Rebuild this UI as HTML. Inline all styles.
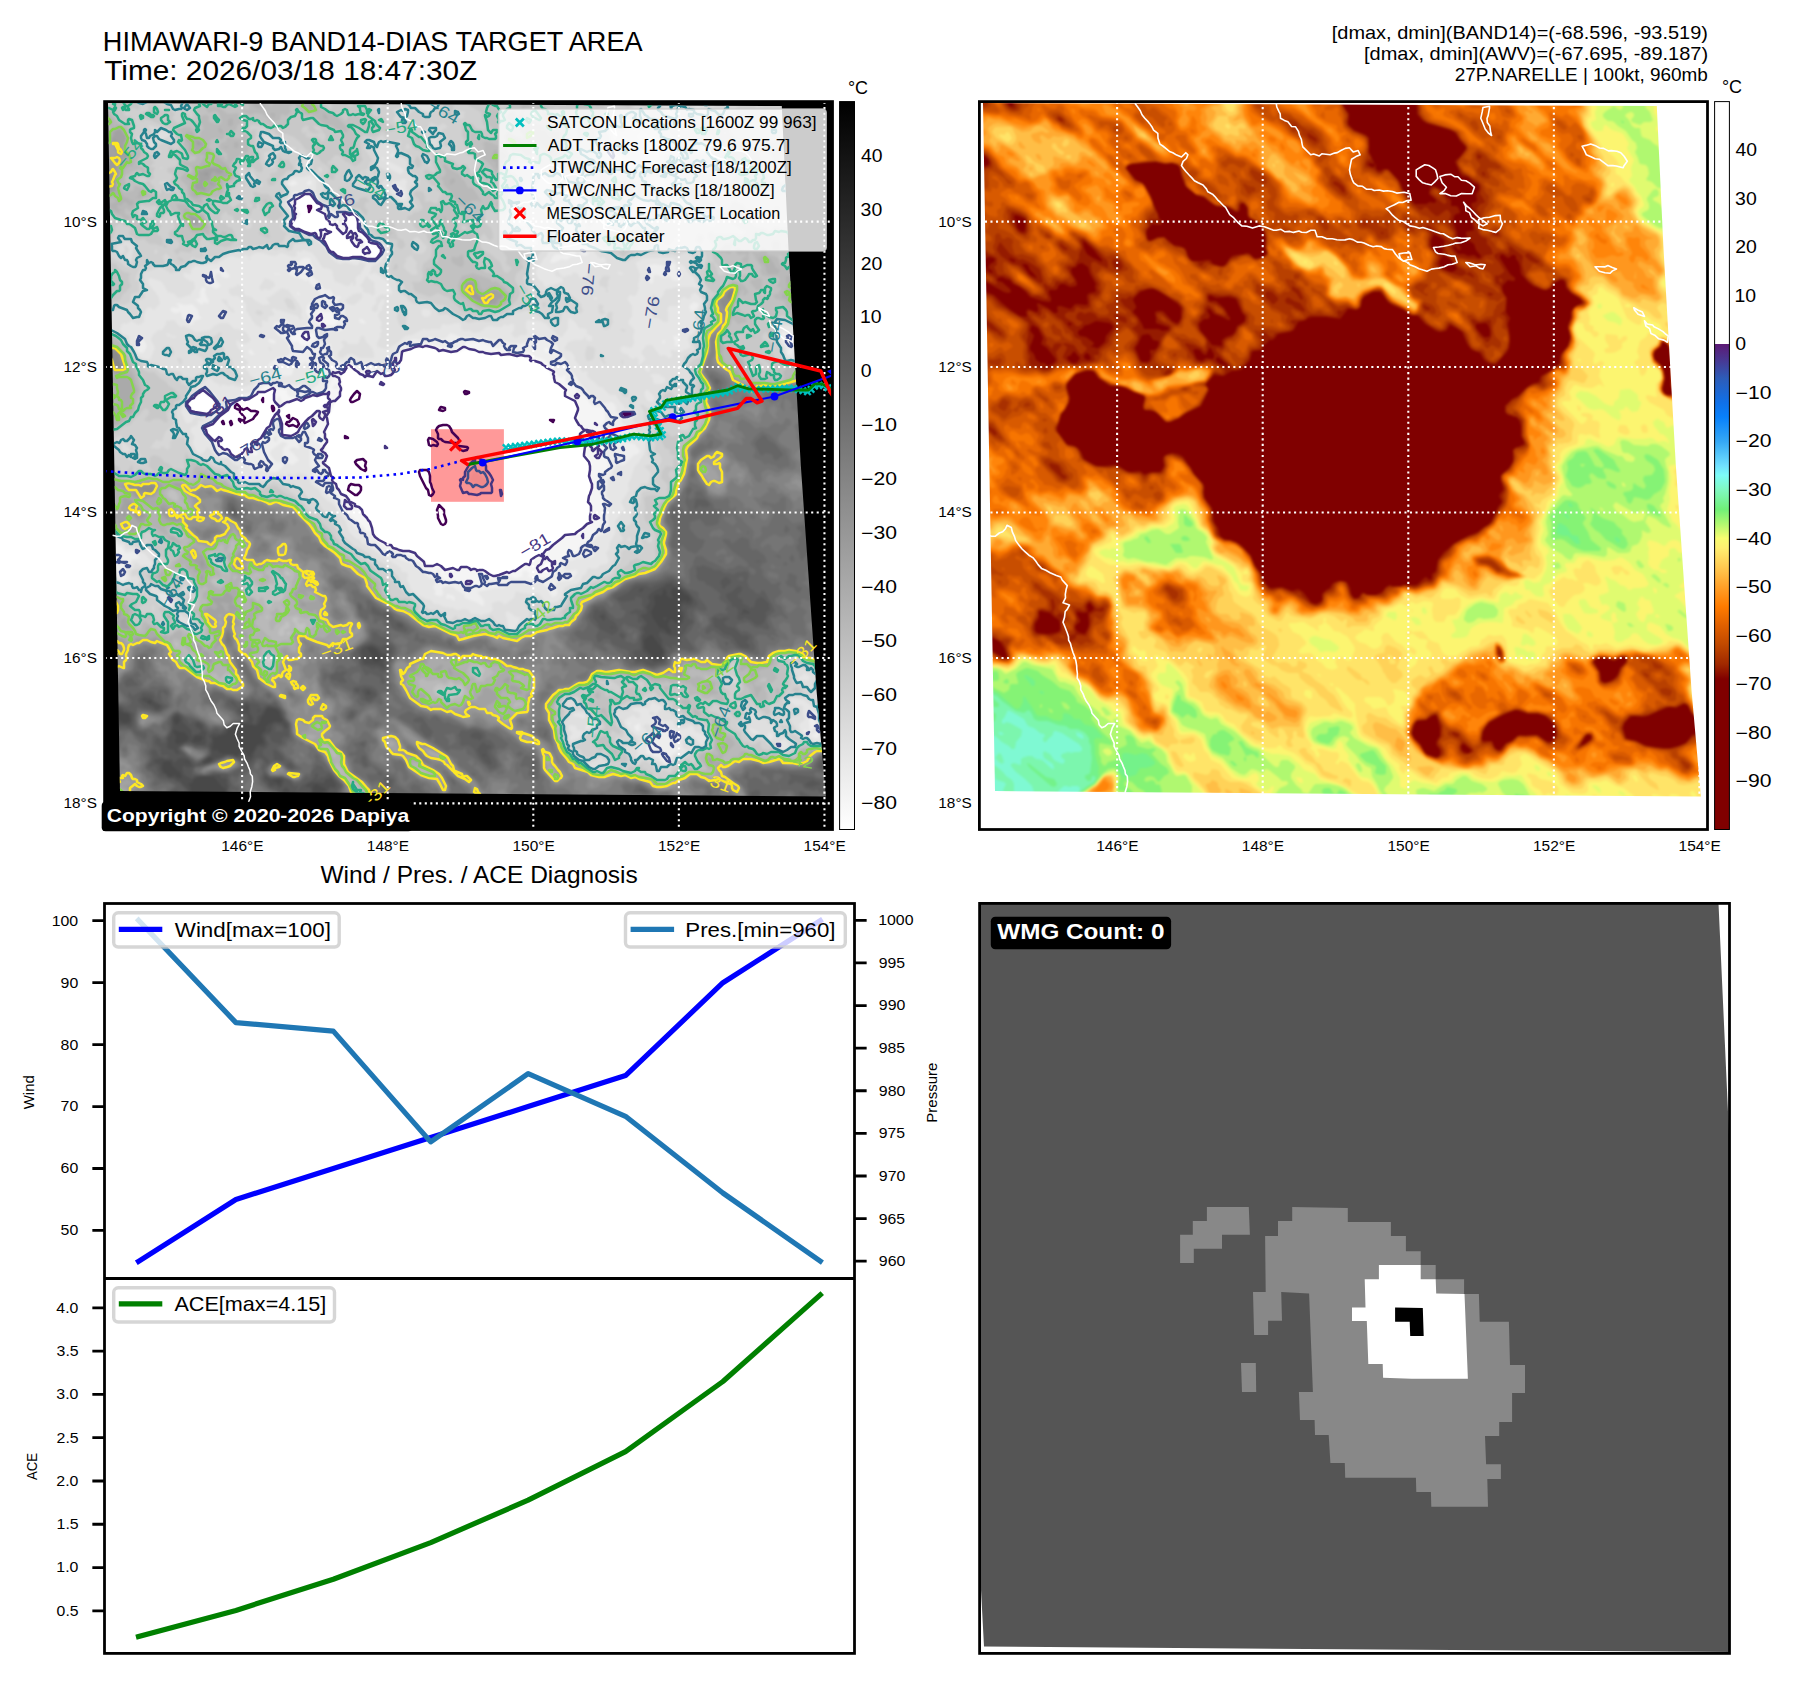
<!DOCTYPE html>
<html lang="en"><head><meta charset="utf-8"><title>HIMAWARI-9 BAND14-DIAS TARGET AREA</title>
<style>html,body{margin:0;padding:0;background:#fff}body{width:1797px;height:1690px;overflow:hidden;font-family:"Liberation Sans",sans-serif}svg{display:block}</style>
</head><body>
<svg width="1797" height="1690" viewBox="0 0 1797 1690" font-family="'Liberation Sans', sans-serif">
<defs>
<linearGradient id="cb1" x1="0" y1="0" x2="0" y2="1"><stop offset="0" stop-color="#000"/><stop offset="1" stop-color="#fff"/></linearGradient>
<linearGradient id="cb2" x1="0" y1="0" x2="0" y2="1"><stop offset="0.0000" stop-color="#ffffff"/><stop offset="0.3333" stop-color="#ffffff"/><stop offset="0.3333" stop-color="#5c1a75"/><stop offset="0.3533" stop-color="#4a3590"/><stop offset="0.3800" stop-color="#2d5cb8"/><stop offset="0.4133" stop-color="#1070e8"/><stop offset="0.4333" stop-color="#0880fa"/><stop offset="0.4667" stop-color="#35a8f5"/><stop offset="0.5000" stop-color="#70e0ff"/><stop offset="0.5133" stop-color="#7dfcf8"/><stop offset="0.5333" stop-color="#80f8c0"/><stop offset="0.5600" stop-color="#70f078"/><stop offset="0.5800" stop-color="#b0f870"/><stop offset="0.6000" stop-color="#f8fc70"/><stop offset="0.6133" stop-color="#ffee70"/><stop offset="0.6400" stop-color="#ffc850"/><stop offset="0.6667" stop-color="#ffa028"/><stop offset="0.6933" stop-color="#ff7c00"/><stop offset="0.7200" stop-color="#e06000"/><stop offset="0.7467" stop-color="#c04800"/><stop offset="0.7733" stop-color="#a02800"/><stop offset="0.7933" stop-color="#800000"/><stop offset="1.0000" stop-color="#800000"/></linearGradient>
</defs>
<rect width="1797" height="1690" fill="#fff"/>
<text x="102.84" y="50.90" font-size="27.34" fill="#000" textLength="539.73" lengthAdjust="spacingAndGlyphs">HIMAWARI-9 BAND14-DIAS TARGET AREA</text>
<text x="104.28" y="80.40" font-size="27.34" fill="#000" textLength="373.01" lengthAdjust="spacingAndGlyphs">Time: 2026/03/18 18:47:30Z</text>
<text x="1331.79" y="38.70" font-size="18.23" fill="#000" textLength="376.10" lengthAdjust="spacingAndGlyphs">[dmax, dmin](BAND14)=(-68.596, -93.519)</text>
<text x="1364.06" y="59.90" font-size="18.23" fill="#000" textLength="344.00" lengthAdjust="spacingAndGlyphs">[dmax, dmin](AWV)=(-67.695, -89.187)</text>
<text x="1454.80" y="81.10" font-size="18.23" fill="#000" textLength="253.05" lengthAdjust="spacingAndGlyphs">27P.NARELLE | 100kt, 960mb</text>
<text x="847.90" y="93.50" font-size="17.64" fill="#000" textLength="20.13" lengthAdjust="spacingAndGlyphs">°C</text>
<text x="1721.90" y="93.40" font-size="17.64" fill="#000" textLength="20.13" lengthAdjust="spacingAndGlyphs">°C</text>
<rect x="104.6" y="101.6" width="727.90" height="727.90" fill="#000"/>
<clipPath id="q1"><polygon points="108,103 781.8,106 788.3,245 800.8,465 816.5,690 825.9,796.6 120,791"/></clipPath><filter id="sm1" x="0" y="0" width="100%" height="100%" filterUnits="objectBoundingBox" color-interpolation-filters="sRGB"><feGaussianBlur stdDeviation="1.1"/></filter><g clip-path="url(#q1)"><g filter="url(#sm1)"><rect x="84" y="81" width="770" height="740" fill="#fff"/><path fill="#f5f5f5" d="M100 96l738 0 0 738-738 0zM202 392l-4 4-6 4-3 2 0 4 1 1 5 5 9 0 4 1 6-2 3-3 0-2-4-6zM270 389l-2 2-6 1-6 3-4 3-6 2-8 2-6 3-4 7-8 5-4 5-8 5-1 5 2 4 11 7 2 5 4 2 2 1 2 3 6 2 4 0 23-20 10-18 6-6-1-4-4-7-1-1 2-6zM306 195l-8 3-3 4 3 9 3 3-5 6-2 1-2 5 4 2 4 1 4 3 12 1 8 8 6 10 7 5 5 1 6 1 16-1 2-1-2-6-4-2-6-3-7-7 0-4-2-2-5-4-10-4-4-4-1-4-3-2-1-4 1-2-6-6-4-5zM348 215l-2 1 1 4 0 6 1 3 6 3 10 7 1 1 0 6 2 4 4 2-1 4 2 2 6-2 2-4 1-2-3-3-6-3-4-4-4-6-5-2-1-4 0-6 0-2-3-4zM414 348l-8 4-3 2-2 4-1 6-3 6-7 7-12-1-2-1-6-4-10 2-12-6-4 5-3 6 1 12-7 12-4 10-2 2-3 16 0 8 0 12 1 6 0 6 1 5 4 7 1 6 6 10 7 5 5 7 10 8 12 18 3 7 2 4 7 5 11 4 4 2 8 2 10 3 4 3 5 6 3 2 8 0 10 3 6 1 14-3 12 3 10 5 6 1 6 0 12-5 8-5 6-1 4-2 3-4 11-7 18-15 16-4 9-11 2-12-3-12 4-8 0-4-2-8 1-12 0-4-6-8 2-10-1-2-6-6 1-6-4-6 0-6 2-10-1-2-2-4-5-2-3-3-2-7-12-8-5-12-11-8-6-1-6-4-4-1-6 1-14-2-36-6-4 1-2 2-6 1-6-2-10-1-8-3zM594 436l0 2 0 6 4 1 1-3 0-4zM624 413l-1 1 1 2 4 1 2-1 3-2zM304 333l-2 3 2 3 2 1 4 0zM312 396l-6 3-8 0-6 2-6 4-4 3-2 4 0 2 3 12-1 7 4 3 6 0 3 0 9-12 20-18 5-6 0-4-1-1zM546 563l-4 5 0 2 2 2 6 0 1-2 2-6-1-1zM474 460l4-2 2 0 4 3 3 5 5 14 0 10-1 2-11 3-12-2-6-3 0-4 0-6 3-8 4-6z"/><path fill="#eeeeee" d="M100 96l738 0 0 738-738 0zM202 390l-12 10-3 2-1 4 5 6 13 2 6 1 4-1 2-2 3-4-1-6-5-6zM298 195l-4 2-2 5 0 2 3 10-2 6-2 2 0 4 3 2 22 8 8 8 6 8 10 6 8 1 10-1 12 2 2 0 4-2 6-4 1-4-2-4-3-1-6-3-12-13-2-9-2-4-4-2-6 0-3 2 1 4-2 1-2 2-4-1-5-2-3-4-1-2-3-4 0-2-7-6-5-6-2-3-4 0zM466 342l-2 4-6 2-4 2-5-2-1-1-4 1-12-3-2-1-12 1-12 4-5 3-4 6-2 6-4 8-3 2-6-3-6-1-4-2-2 0-10 1-8-5-4 0-3 2-3 5-2-1-5-4-5-2-2-1 1 7 3 2-1 10-3 6-1 3-3 1-6 2-8 1-6 2-10 0-2 1-5-4 0-4-7-1-4-2-8-2-4 1-12 10-14 4-6 3-7 9-5 3-5 5-10 6-1 4 3 6 9 8 6 10 6 1 6 3 4 0 5-2 3-3 6 1 4 2 2-2-3-4 0-2 11-12 2-5 3-5 3-6 2-3 4 2 1 5 0 12 1 1 6 1 6 0 5-6 5-6 6-5 1 5-2 4 1 1 2-2 3 3 1 4-4 1 0 2 4 3 2 0 4 5 0 3 1 6 0 6 6 12 0 6 13 22 0 2 1 4 8 8 7 7 6 4 2 4 4 0 0 3 2 2 1 2 5 4 10 6 6 1 15 7 2 2 7 4 2-1 4 7 2 3 10 1 2-3 3 1-1 4 1 2 3 4 6 1 6 0 10 5 6 1 8-1 5-4 1-2 4-1 12 0 6-3 8 2 7-2-1-2 0-2 3-2 3 2 2 2-2 2-1 0 1 1 22 1 4-4 8-16 6-2 2-4 6 1 1-1 3-6 6-4 14-15 3-11-1-6 2-3 1-5-1-4-3-2-1-5-2-5 0-3 2-3-2-2 0-4 6-1 5-7-4-10 0-6-2-6 3-6 0-2-2-6-4-4 5-5 0-7-1-6-12-2-3-4-3-6-5-2-1-2-3-2-2-6-9-2-1-4 2-2-3-1-2 3-4-2-2-3-2-3-8-9-6-3-6-2-2-3-6-1-10 1-7-1 0-4-5-1-2 0-4 2-7-3-9-4-10 0zM546 347l-1 1 0 4 5 1 1-1zM624 413l-2 1 2 4 6-1 4-3-4-1zM300 330l-6 5-2 1-1 0 0 4 1 1 2 1 4-1 2 3 5 2 5 0 1-4 4-2 0-6zM318 309l-1 1-1 2 1 4-2 2 1 5 2 0 1 1 5 3 4-3 2 1 4 1 4-4-6-10-8 0zM336 384l3 4-3 1-2 0-2-1zM279 396l1 0 2 7-2 2-4-4zM582 420l6 0 1 0zM475 466l3-2 2 1 4 7 2 1 3 7-1 6-2 2-5 1-13-4-2-1 0-4 1-6 4-6zM445 574l3-1 4 1-2 0z"/><path fill="#e6e6e6" d="M100 96l738 0 0 738-94 0-644 0 0-283 6 0 5 5 1 2-2 10 7 6 1 4 2 2 4 1 1-1 2-4-3-2 0-4 6-6 1-2 1-2 4-1 2 0 2-1-2-2 0-4-2-1-10 2-5-7-3 0-2-2-1-4-1-1-2 1-1 0-3 3 0 3-2 3-6 0zM136 336l0 4-1 6 3 6 4 1 2-1 3-6-3-6zM166 599l-1 1 0 4 3 0 2 0 0-4zM178 303l-2 1 3 2-1 2-6-1-2 3 4 3 4 0 2-2 1 1 1 6 7 6 3 1 2-1-2-2 10-4-3-2-1-6-6-6-6 1-2 0zM202 287l-2 5 0 6-5 2 7 5 1-1 1-2 4 2 1-4-2-2-2-6 1-4zM220 267l-4 3-4 0-1 4-3 1-4 0 0 1 2 10 5 0 5 3 4-2 0-1 0-2-4-3-1-5 1-2 4-1 2 4 4 1 2 0 2-2-4-5zM250 349l-2 3 2 2 2 1 3-1zM268 339l1 3 5 2 2-2-2-2zM274 273l0 1 6 1 0-1zM294 180l-2 1-4 3 4 2 6-2zM310 180l-4 4 4 1 2-2zM396 185l-2 1-1 4 9 8 2-2 0-4-2-4zM570 249l-2 3-4 2-8 0-3 2-3 6 2 1 4-1 6-3 2 1 4 0 2-3 6-1 0-4zM580 252l-2 0 4 3 4 1 2-2 1-1zM612 152l-1 2 2 3 3 0 6 5 1-2zM654 264l-2 1-4 0 0 3 2 8-1 6 3 2 1-2 0-2 1-5 4 0 6 3 6-2 2 4 6 1 4-5 0-4-6-2 0-2-1-4-3-1-2 0-6 3zM684 329l0 2 4 1 0-2zM694 302l-5 4 2 6 5-2 3-6zM784 331l-3 3 0 3 2 5 3 4 2 2-1 6 3 1 2-1 1-6 0-6 2-6-3-1-2 0zM805 729l-1 1 0 3 3-1zM808 711l-1 1 2 2 0 4 1 12-2 2 2 3 1-5 5-4-1-6 2-3-1-2-2-3zM820 729l-4 3-5 4 4 2 2 0 3-3zM294 191l-5 11 0 2 4 6 0 6-3 6-1 4 3 2 23 10 9 7 6 9 4 3 6 3 8 1 12-1 10 2 6-1 2-2 6-7 1-2-1-2-1-2-3-2-8-3-3-3-7-10-3-8-1-4-4-2-6-2-12 0-2 1-6-5-9-6-4-6-5-6-4 0-6 3zM664 339l-2 3 2 2 1-2zM676 336l-3 0 2 6 0 4 2 0 3-6-1-4zM304 258l-6 4-7 0-2 2 1 6-1 4 5 3 6 1 6 3 4-2-1 3 6 6 3 2 2 2 0 2-4 4-4 4-3 2-2 2-1 6 2 4 1 2-1 4 0 2-2 2-8 2-3 0-4-4-3-3-6-3-2 0 0 4-6 1-1 5 2 2 2 4 11 8 1 6 2 4-3 4-12 2-2 2-5 4-1 2 2 2 4 1 2 2 4 0 2 5 6 0 4-1 2-8 6 0 6-5 1 2 12 12 2 2-2 4 0 2-7 5-2 0-4-4-2-1-10 1-2-1-6 0-6-1-10-2-2 1-6-1-6 3-4 6-2 3-6 1-4 2-2 0-4 3-8 3-1 4-3 3-4-9-2-4-1-2-5-3-2-3-4-2-14 12-4 4-1 4 1 2 4 5 24 5-3 2-3 2-4 3-1 1-1 4 1 2 2 4 1 2 5 4 2 2 3 10 3 2 9 1 6 4 6-1 4 1 6 6 6 4 6-1 2 2 12 0 6-4 1-2 3-3 2 0 4 2 2-1 5-4-5-6-5-4 2-2 3-1 4 2 2-1-2-4 2-1 4 3 2 0 4 4 0 16 2 2 2 12 2 3 7 7 5 6 6 3 2 3 4 8 9 10 5 7 10 8 4 9 4 3 4 1 6 5 2 1 29 10 7 6 10 8 6 2-3 8 3 4-2 2 2 1 2 1 4 0 1-2 0-2-1-4 5-2 7 1 2 3 8 4 1 4 13 5 2 2 4 1 0-2 0-4-7-8 19-4 6 0 2 0 12-6 16 4 6-4 2 0 6 4 3 6 3 5 4-1 2-4-3-6 1-2 1-2 16-2 1-4 3-2 0-4-1 0-8 1-4-1 0-2 4-6 2-2 4 0 2-2 10 0 8-2-1-10-2-2 7-8 6-2 4-2 1-4-1-14 3-10-3-6-2-2 0-4 1-6 0-6 1-2 4-4 0-2 3-4 1-3 2 0 6 0 10-10 4-1 2-2 0-2-4-4-1-2-5-1-2 0-3-1 1-4 4-2 0-4 0-2-3-4-4-2-2-4 1-1 6 0 8-5-2-2-4 0-6 0-2 1-4 0-2-1 0-6-4-4-8 1-10-5-8-8-7-8-3-6-6-6-2-6-3-6-6-6-1-4-2-4-12-7-6 2-4-1-6 3-8 3-6 0-12-4-10 0-6-2-26-1-4-2-6-2-2 3-4 3-6 0-8-2-10 3-6-1-11 3-8 10-3 6-2 6-6 2-2 0-6-3-18 0-6-3-10 2-6-1-2-3-4-15-2 2-6-3-2-2-2-6 0-4 4 0 6 2 6-2 2 2 4-1 5-3-1-6 1-4-1-2 1-6-3-5-4-1-1-4 4-2-1-2-4 1-2 0-2-5-2-3-2 1-4-1-5-7-8-6 3-6 0-2-3-4-1-6zM360 318l-1 4 5 2 2-2zM654 719l-2 1 6 3 0-3zM298 292l-1 2 1 1 2 0zM448 594l-1 0-1 4 2 1 2-1 4 3 1-1-1-4zM630 721l-2 3 2 1zM640 723l-6 3 2 5 4 0zM654 726l1 1 3 1 1 2 0 2-1 1-4 1-2 3-5 1 2 6-3 4 1 2 0 4 5 0 2 3 4 0 2 2 4 4 2 0 4-1 1-6 5-4 3-2 1-2-1-6 0-3-3-9-4 0-6-3-2 0-4-3zM276 424l0-2 4 2 0 3-3 3 0 12-1 0-1 0-2-4 3-2zM282 442l2 0 4 2-5 4 0 8-1 4-2 2-4 0-6-8 0-3zM621 444l3 0-1 4-1 2zM474 472l0-1 10 7 3 2-1 4-2 2-4-1-8-3-2-2 0-2z"/><path fill="#dfdfdf" d="M100 96l317 0 0 6 1 1 0-1 0-6 5 0 0 6 1 1 2 0 3-1 0-6 1 0 0 6 2 2 2-2 0-6 404 0 0 738-82 0-656 0 0-280 6 0 1 2 2 6-1 6 6 6 4 7 2 2 4 0 3-1 3-2-2-10 5-2 2-6 7 4 2-1 4 1 2 2 2-4 0-2-4-4-1-2-3-3-2 0-4-4-12 0-2-5-4-1-6-6-2 0-4 3-2 6-6 0zM294 177l-6 3-3 4 4 2 1 6 0 4-1 2-3 4-1 2 5 6 1 4 0 2-3 6-1 4 3 2 4 3 6 2 13 5 11 9 10 14 3 1 2 2 7-2 6 2 2 1 4 0 2-3 6 2-6 11-3 1-2 4 1 2-1 4-2 0 0-4-1 0-3 4-3 0-6-3-4-1-2-2-2-10-2-1-6-1-1 0-3-4-5-8-3-3-2-1-4-1-2-1-4 2-2-1-2 1 1 4-3 1-2 0-10-4-2 0-4 3-2 0-6-1-6-2-6 0-6 3 0 6-2-6-2-1-6 3-8-2-4 1-12 7-6 0-6 2-8 0-3 2-2 2 0 4-1 0-6-1-1 1 1 3 6 4 2 0 2 1 1 6-5 7-10 3-2 0-4-4-6-2-6-10-2-1-10-3-2 2 0 2 2 4 6 7 3 5 1 6-2 2-4 4-4-3-2 1-2 2-2 6 0 6-3 2-3 1-6-4-6 3-2-1-2 1-2 6 2 4 7 2 0 6 3 4 6 10 4 2 2 1 6 1 5-12-4-8 1-4 2-2 4-4 4 0 4-6 0-3 8-1 6 7 4-1 12 6 2 0 12-2 4-4 6-3 8 0 6 6 4 0 8 3 5 8-5 4-6-1-2-3-2 2 2 6 5 4 0 6 1 1 3 1 1 4-3 2 1 4 3 2 1 4 5 2 0 4-5 3-6 2-6 0-6-2-4 1-6-2-2 4-1-4-3-1-2-1-4-4-2 0-12 11-6 6-6 7-3 10 5 11 4 0 2-2 2-3 2-1 5 1 1 1 2 1-2 1-4-1 0 4-2 2-4 1-2 3 1 2 3 4 0 2-1 4 0 2 3 6 2 3 4 1 6-7 8 10 4 2 8-1 2 2 4 4 4 2 2-1-2 7 1 2 5 6 2 0 4 0 2-4 4-1 2 1 4 4 2 0 6-4 12-2 2 0 2 4 2 0-2-4 2 0 4 0 2 2 4-3 2 0 6 2 3 3 2 6 8 6 3 6 6 5 2 1 4 3 3 5 9 12 3 10 6 6 5 2 2 4 2 0 24 16 2 1 11 7 0 2 1 2 4 0 2 2-1 6 1 2 4 9 2 1 4 3 8 4 5 1 3 4 4 0 6 3 10 1 2 2 4 0 2-1 4 0 3 1 0 2 3 2 6 0 3 2 3-2 6-1 3-3-1-4 0-2 0-1 6-2 4 1 2 3 10-7 2-7 6 2 10 1 6-1 2 2 6 7 4 1 2 0 6-2 4-4 2-9 6-3 6-1 4-2 1-2 1-4 4-2 2-6 6 1 4-1 2-3 6-1 3-2-3-10 3-2 1-7 1-3 1-1 3-5 1-8-1-4 1-2 3-4 3-4 3-2-4-8 1-2 2-2 5-8-1-6 3-6 3-10 1-2 4-4 1-2 4-6 1-4 0-14-3-3-5 0 0-3-1-6-2-3-2-1 2-2 4-4 0-2-2-2-12-2 0-2-4-4-4-7-6 0-7-7-5-2-4-4-5-4-2-2 1-4-2-1-4 1-4-8-3-4-1-5-3-3-1-1-2 0-4-2 4-7 6-2 8 0 4-4 0 4 2 1 4 0 0-5-5-2 0-4-1-1-7-1-4-6-5-4-1 0-1 4 0 6-1 2-5 7-4-1-5-6-3-2-4-4-6-3-12-1-2 2 0 6 1 2 0 4-1 1-6 0-4 3-3-2-2-2 3-4 0-6-4 0-2 2-4-2-2 3-6 0-6-1-4 1-1 1-5 4-6 1-2-1-3-2-3 1-4-1-1-2 0-4-1-1-4 0-8 2-6-1-1 4-3 2-2-1-10 1-2-1-12 6-7 1-9 8-4 2-4 3-4 0-6-2-1-1 0-4 1-1 3-5-1-2 2-4-2-2 2-4-4-8 1-4 3-2 0-4 2-2 1-4-3-1-4 7 0 4-2 2-4-1 0-4 4-3 0-6 6-4 2 1 8-1 0-2-4-10-6-5-6-3 0-2-4 2-3 0 2-4 0-2 1-2 9-4 1-4 3-2 2-6-1-4-4-3-7-3-4-2-7-10-5-12-5-3-20-4-14-7-2-4 0-2-2-4 0-12-2-2-4-3-6 2zM382 156l0 5 2-1 1 0zM388 161l-2 1 4 7 10 5 2-1 2-1-2-4-8-4zM394 152l-3 2-1 2 0 2 4-2zM424 309l-2 1-1 2 2 4 3 1 4-1 1-4-1-2zM516 212l0 2 0 2 1 0 3-1 0-1zM544 180l0 1 2 3 0 2 1-2 3-4zM570 245l-6 5-2 2-10-1-2 0-2 1-1 4-3 2-2 4-6 8 0 4 3 6 4 2 1 4 2 1 4-2 2 0 11-3-1-5-4 0-4-3 2-3 2 0 2 3 2 2 3 1 3-2 2 1 4-4 4 2 2 4 6-1 3-7 0-2 5-3 12-2-1-5-1-1-4 1-2-1-6-8zM606 146l-1 2 2 8 7 6 1 4 13 2 2 0 2-2 0-4-2-2-2-2-4-1-6-5zM616 132l-4 3 1 3 3 2 1-2 0-2zM630 124l-1 2 5 6 2-2 2 0-1-4zM642 129l-5 7 0 2 6 4 0 6-3 1-1 1 0 4 2 6 1 2 4-1 2 2 6-3 4 0 1-6-2-4 1-1 2 0 6 3 4-2-2-6-2-2-2 0-4-1-5 3-1 0-2-2 1-4-1-2-4-1-4-3zM696 104l-2 2 6 2 0-2zM750 728l0 2 4 4 6-1 0-1zM769 732l-2 4 1 3 4 1 1-2 0-2-1-3zM780 326l-1 2 0 2 1 12 4 6 2 9 4 1 3 0 2-4 1-2 0-10 0-6 0-8-6-2zM804 673l-2 3-4 2 0 2 4 0 6 1 2-3-1-2zM160 593l-2 1 5 10 3 1 6 2 2-3 0-4-4-2-2-4zM168 333l-2 1 2 2 6 2 3-2-3 0-2 0zM508 611l-2 1 0 4 1 2 1 10 2 1 4 0 2-3 3-4 1-4 0-1-4 0zM573 714l1 2 6 1 2 2 3-1 0-4-3-1zM588 723l-2 3-1 4 1 0 7-4zM402 179l-2 2-6 0-3 3-1 2 0 7 6 4 6 4 4 0 2-3-2-12 1-6zM594 297l0 1 1 2 3-2zM618 271l0 3 4 1 2-1zM636 201l2 7 4 1 4 0 0-1 0-2-3-2zM654 180l4 9 6 2 2-1-2-4 1-2-1-4zM670 191l-3 1 4 4 5 0 0-1-4-1zM784 739l-7 5 1 4 2 1 4 1 4-2 1-4-1-2zM792 698l-2 2 2 3 4 3 6-1 1 3 0 6 2 6-6 4 0 2 2 6 3 4 11 6 5-1 2-3 0-3 0-3-3-8-1-4 1-2-2-6-1-2-3-2-3-3-6-5zM570 725l-1 1 0 4 4 3-3 3-1 2 1 3 9-3 5-6-2-1-5-1-1-4zM592 765l0 1 2 0 1 0zM658 258l-16 1-2 2-4 1 0 2 4 10 0 2-2 10 1 2-2 6-3 2-4-1-3 3 1 2 4 6 0 6 0 4-4 6 1 2 4 4 2 2-2 6 1 6-1 4-3 2-6-2-2 1-2 1 1 4 7 3 2 3 4 1 2-2 1 1 2 2-1 4 2 1 5-5 0-2-3-4-1-2 5-6 2-1 4 0 8 11 4-1 2 1 3 2 2 0 1-4-2-3 2-1 10 2 2-2 6-2 0-3-2-5 1-4 4-2 3-6 1-4-2-6 7-14 0-4-6-7-2 0-2 1-2 5-2 0-4-2-2 1-3 2 1 4-2 2-9 0-2 4 1 2 0 4 0 6-2 0-2 0-6-4-4 0-2-2 1-4-1-2-1-6 1-4-1-2 3-4 2 4 2 1 2 0 4-5 0-2 2-3 4 0 6-2 2 1 4-1 12 0 2 2 1-1 1-2-3-4-1-4-6-5-4-7-6-3-5-5zM646 366l-2 0 1 4 3 2 2-2 0-4zM652 374l-2 2 2 1 2 7 7 0 4-2 0-4-7-4zM648 390l-2 0-2 4 3 6 1 1 4 1 2-2 0-4zM652 702l-4 9-1-3-1 0-12 0-2 0 2 3 2 0 4 2 0 5-4 0-2-3-6 3-3 2 0 4 5 6 6 5 5 1 0 6-2 2-2 6 1 4-2 2 3 0 3-1 4 0 6 2 3 3 5 2 4 4 2 0 8-4-1-2 1-4 2-1 6 2 5-7-4-2-1-6 2-5 6-2 5 3 5 6 2 2 3-4 1-4-4-4-6-2-2-2-1-4-3 0-2 2-6 1-4-1-3-2-3-6-6 1-2 0-4-2-2-4-6 0-3-1 1-2 2-1 2 3 4 0 0-2 5-4-3-2-2-1zM366 276l1 0 3 4 4 2 1 12-3 2-1-2-5-1-3-1 0-4-3-2 3-4zM264 280l0-2 4 1 6 3 1 4-3 2-2 2-6-1-2 2-3-3 1-2zM236 286l2-2 5 4 1 6 2 2 6 1 2 3 4 2 4 3 2 0 6-1-4-6 4-1 4-3 8-6 6 2 11 14 3 6-1 6 2 2-3 2-2-4-4-1-6-2-6-2-2-1-4 0-2-2-3 2 3 3 0 3-4 0-2 2 0 4-6-2 0 8-6-3-4-5-1-2-5-8 0-6-8-8-6 0-2-2-1-2 0-4 3 0zM354 294l4-1 2 0 2 1 0 4-2 2-6 5-6-1-3-4zM221 300l1-1 5 1 1 5 6 5 1 2-3 1-5-7zM361 336l3 0 2 6 6 6 2 6 0 4-2 0-12 0-2-1-6-3-4 0-6 4-3 0-1-4 1-2 5-6-3-4 1-1 4 0 2 3 6 0 4 0 1-2zM268 348l2-1 1 1 0 4zM643 726l3-2 2 0 3 2 0 4 1 2-4 2z"/><path fill="#d7d7d7" d="M100 96l41 0 0 6 1 1 3-1 0-6 23 0 0 6 4 1 2 3 4-4 0-6 231 0 0 6 12 8 9 3 2-3 5-8 0-6 223 0 0 6 2 4 1 2 3 6 4 1 3 3 3 1 0-1 1-4-1-2-4 0 0-4-7-6 0-6 26 0 0 6-1 4 4 2 3 4 5 2 4 0 2-2-4-10 0-6 3 0 0 10 5 1 3-1 0-10 123 0 0 103-6 0-5 3 1 2 0 2 4 1 6 0 0 22-6 0-4-4-2-1-4 2 1 2 6 6 3 1 6 0 0 599-738 0 0-279 6 1 2 6-2 6 6 6 6 8 2 3 10-1 6 3 2-2 2-3 0-2-2-3-2-2-4 2-1-3 1-4 12-2 4 0 2 2 3-2 1-4 0-2-2-4 4-2-6-7-6 2-2-1-4-3-2 0-6-2-11-7-5-2-5 2-3 6-6 0 0-219 6 0 6 6 12 6 2 3 3 6 3 2 6 10 4 3 8 3 6 0 6 4 6 2 12 2 4 5 6 0 2 1 6-4 4-1 2-3-2-4 2-2 0-4-2-2-6-4-6 0-2-12-2-2-1-4 5-2 6 4 6-1 2-1 4 1 6-1 2-1 4-3 2 2-2 2 1 4-1 2 1 4 3 2 1 6 7 6 1 6 6 6 1 4 4 2 0 4-6 0-4 0-2-2-10-4-6 0-6-2-2 1-4 2-6 7-6 4-11 18-3 2-2 4 0 2 1 4 2 8 2 4 7 6 1 2 0 6 7 11 2 2 10 3 6 0 2 2 12 3 12 17 10 2 8-2 4 2 2 0 10-6 6 1 2 1 4 4 8 0 4 3 2 1 2 2 2 2 3 4 1 2 4 2 7 4 4 6 1 1 6 1 6 5 2 3 0 2 4 12 10 10 2 2 6 2 4 3 6 3 3 4 15 8 10 10 2 4 0 2 2 4 4 2 2 4 10 7 3 1 8 10 9 0 4 2 2 0 2 6 4 3 6-6 1 1 0 2 9 1 2 1 6-2 6 1 6 0 6-4 1 3 5 6 4 0 6 7 6 0 2-1 6-8 4-3 2-1 2-2 0-4-4-6 0-6 5-2 3-1 10 6 2 4 4 1 8-2 4-2 2-4 2-6 2-2 2-2 10-3 2-3 4-2 4-2 2-4 2-1 3 1 4 0 5-6 4-1 4-7 3-18 6-4 0-2-3-4 1-8 1-1 2 1 4 0 4-4-1-8 1-6 1-6 2-4 0-2-1-4 8-8 6 0 3-10-1-2-4-4-2-2 8-2 0-2 0-2-4-4 1-6 0-6 1-3-1-9-5-8 0-12-2-4-2-2 2-2 4 3 6 3 7-10 0-6 1-3 10-6 2-4 7-2 2 3 3 1 4 3 1-2 0-2 2-4 0-2-3-4 0-2-4-2-1-2 0-2 1-7 4-3 2 0 4-2 1-4-3-6 1-2 5-6 1-4 1-6 0-2 3-6 1-16-4-8 1-4 0-2-2-4-3-6-5-6-1-2 0-3 4-3-1-4-5-6-6 2-4 2-6-2-6 1-8-2-12 1-12 4-6 3-4 1-2-1-16-9-8-1-6-4-12-3 0-4-3-2 0-4-3-2 0-4 0-2 0-2-6-2-5 0-1 4 2 2 1 10-2 8-1 4-4 0-6-4-2-1-4 2-2 1-6 7-3 7-4 2 0 6-1 6 10 16 4 1 0-1 2-1 4 0 6-1 2 2 0 1 4-1 8 2 11 10 0 2 2 4-1 3-8 1-10-3-1 1-3 10-4 4-4-1-2-4-6-2-4-3-14-6-4 2-6 0-8 5-10 4-2 1-18-1-10 2-8-4-10-3-2-2-10 1 0-3-6-6-2-1-4-1-6 1-2-1-4 0-6-4-2-4-6-3-2-1-1-10-3-3-5-3-5-5-3-1 0-2 6-6 1-4 2-6 0-6-8-5-10-3-8-12-2-6-2-4-6-5-3-1-5-2-6 0-4-1-6-2-2-2-5-1-1-6 0-4 2-2 0-4-3-2-1-4-4-5-4-2-5-1 0-6 3-4-2-2-4-2-2 2 1 6-1 6-2 1-2 0-4 1-9 6-1 4 3 6 1 6-6 4-1 4 1 4 4 3 2 1 1 2-1 4-3 4-1 4 2 2 8 5 9 1 7 5 2 1 1 4-3 1-4-2-12 1-2 6-4 1-6-3-6 2-6-2-6 2-20 1-12 1-16 8-12 3-12 0-6 5-8 4-4 0-2 2-6-4-6-3-12 4-4 1-1 4 1 6-1 6 1 4 1 6-7 2 1 12-1 2-2 3-4-2-6-6-2 1-6-1-7 3-1 4-2 2-2 2-6 0zM124 241l-1 3-6 2 0 4 3 5 5-3 0-2-1-4 2-1 3 5-1 2-2 2-1 2 4 6 2 0 1-5 2-11-4-4zM150 138l-3 4 3 2 0 4 4 0 1-4zM160 131l-4 5 4 4 2 1 3-3 3-1 2-1-2-4zM264 134l-2 2 4 6 8 3 2 0 3-3-2-4-3 0zM364 183l-2 3 2 1 2 0 2-1-2-2zM382 142l-4 5-2 2-2 1 3 4 1 4 0 4-1 4 15 8-2 5-2 2-4-2-3 5 2 2 4 6 1 4 6 2 6 5 3 1 3 3 3 1 2-10-1-6 1-6 1 0 3 0 1-2-1-4-6-6-2-2 0-6 1-4-1-2-5-3-2 0-3-1 0-2-1-4-2-2-4-3zM432 129l0 1 0 5 1-3zM438 135l-2 2-4-1-2 2 0 4 2 3 3 3 2 0 1-4 0-2zM514 208l-2 2-1 6-1 4 0 2 4 6 6-2 5 2-3 6-4 4 8 8 1 0 5 0 2-1 4-1-1-4 4-3-1-2-2 1-4-3-3-1-5-6 0-3-2-3 0-10-2-1-2 0zM544 176l-3 2-7 9-1 3 1 2 4 6 3 0 2 6 1 1 0-1 2-6 0-6 4-2 2-1 4-2 0-3-1-4zM570 183l-5 3-1 4 4 3 1 5 5 6 2 2 4-2 6-2-6-4-4 0 0-2 1-6-1-4zM594 153l0 1-2 2 2 2 2-2zM628 117l-4 2-1 1 1 11-2 0-10-4-2 0-3 5 3 5 0 5-4 0-2-1-4 0 0 1-1 2 2 4 1 6-2 5-2 1 8 2 6 6 10 2 2 2 6 2 5-2 1-5 4-3 2 3 3 1 1 1 2-1 6 1 3-3 7-4 2-2-1-4 1-1 4-1 2 1 4 3 4-2 1-2-5-8-4 0 0-4-6-4-6-3-4-5-2-4 5-2-5-3-2 0-4 2-2-1-1 2-3 1-10-5zM676 107l-3 1 3 3zM694 209l-3 1 0 6 5 2 4 2 2 0 2-4zM696 146l-1 2 0 2 1 5 4-2 2 1 4 0 0-4 0-2-4-2zM726 680l0 2 0 1 4-1zM754 711l-4 3-2 1-2 3 5 2-1 4-4 2 2 6 2 5 4 1 2-1 6 0 4 1 2 3 6 3 2 4 4 2 4 2 2-1 8-7-10-9-4 0-2 1-4-6 1-4-1-2-2 1-4-1 0-4-2-1-4 0-2 1-3-2zM780 321l-2 2-1 5 2 14 3 6 3 10 1 1 4 1 2 0 4 0 2-2-1-4-1-12 2-14-2-3zM154 587l-3 1-1 4 6 3 2 5 3 4 5 3 6 2 2 0 3-9-9-7-6-1zM124 443l-3 1 1 6 2 2 2 0 4-1 0-3zM180 614l-1 2 0 6 5 2 2 1 3-1 0-2-1-4-2-1-2 0zM570 699l-3 3-1 4 2 1 6 0 2-1 1 0zM600 756l-4 4-8 3 0 3 3 2 5 0 2-2 2-1 4 1 2-2 1-2-1-1-2-1zM630 537l-2 2-1 1 1 1 3-1zM648 699l-1 1-1 6-12 0-4 1-2 3-4 1-6-2-2 3 0 2 1 4 5 3 2 5 3 4 1 2 8 7 2 3-2 3-2 2-6-1-4 0-1 1 7 7 4 4 5 2 3-3 10 2 2 5 5 2 1 3 4-1 2 0 4-3 6-2 0-3 2-2 4 1 6-6 5-3 1-2 2-2 7 1 3-3 1-6-1-4-4-4 0-4-2-1-4 1-6-3-3 0-5 3-4 0-1-6-1-3-4-2-2-4-4 0-1-3 0-2-1-4-4 1-6-3zM690 387l-2 4 2 1 1-2zM168 140l0 2 4 1 1-1zM382 175l-2 3 2 1zM594 165l-1 1 1 1 4 0 0-1zM616 218l-2 2 2 0 2 1 3-1zM622 220l0 4 2-1zM636 197l-3 5 0 6-4 2 0 4 0 2-1 3-2 1 4 0 4 2 6-1 2 4 3-3 0-2 1-2 2-1 4 1 1-2-3-2-1-4 1-2-2-4-4-2-1-4zM652 176l-4 2 0 2 0 4 4 1 8 10 4-1 1 2 1 7 3 1 1 1 1-3 1-1 4 0 2-4 4-2 1-3-2-6-3-1-2 1-3-2 1-4-2-1-2-1-4 1-7-1-1-2zM790 696l-3 4 3 2-4 5 0 2 4 3 2-4 6 1 2 3 0 2-2 2-2 0-4 0-2 4 6 9 2 2 4 5 4 2 4 2 4 4 6 0 2-2 2-4-1-6-3-8 0-10-4-6-2-4-6-5-6-2-6 0zM796 667l-2 3 1 2 2 4-1 6 2 1 4 0 2 3 4 0 2 3 4 0 0-3-2-2 1-2 4-3-3-5-2-2-4 0-4-3zM576 710l-5 4-7 10 2 2 2 17 2 2 10-5 6-7 8-5 5-4-1-2-4 1-8-12zM654 207l-1 1 5 5 6 2 0-1 0-3zM682 200l-3 2 2 2 7 5 2-1zM614 144l8 0 1 0 4 4 1 3-2 3-2 0-3-4zM603 276l7 0-2 6 0 4-1 2 1 4-2 0 0-4-2-1-4-1-1-4zM284 300l2-2 2 0 4 2 3 6 0 4-1 0-6-2-1-2zM398 306l2 0 2 0 6 6-2 12 1 4-1 0-4 0-3-4-2-6 1-6-2-2zM598 306l2-2 4 2-2 4 2 1 1 1-1 2-4 0-1-2zM255 312l3-2 5 2-1 3-4 0zM608 312l5 0-1 6 1 4-3 6-4 2-4-2 0-6 4-4zM620 330l2-1 4 1-2 2zM587 346l2 0 6 2 0 4-1 6-2 2-4 1-2-1-1-6zM162 348l6-2 4 1 2 5 0 2-2 2-4 2-2-3-4-1zM177 358l4 0 1 2 0 4-2 1zM600 358l0-2 4 1 0 3 2 4-2 0zM621 360l1 0 1 0 0 4-1 1zM620 390l4-1 4 1 1 6-1 1-6-1zM630 400l0-2 4-1 2 1 2 2-2 1-2 1-4 2zM690 738l4 4 0 4-6-2-2-2z"/><path fill="#d0d0d0" d="M100 96l38 0 0 6 4 3 2 0 3-3 0-6 10 0 0 6 5 3 4-1 3 2 3 0 2 3 4 2 5-3-1-2 1-10 195 0 0 6-1 4 1 4 4-4 1-10 18 0 0 6 3 4-8 3-2 0-1 3 3 2-3 6 3 4 4 2 7-6-1-2 5-6 3-2 9 4 7 5 2-5 7-8 1-10 164 0 0 6 2 2 2-2 0-6 27 0 0 6-3 10-4 1-6 0-3 1-1 4-2 1-8 5-7 8-1 4-5 6 1 2-4 5-6 3-2 2 2 6-4 2-2 4-1 2 4 4-7 8-2 1-4-1-6-4-2-1-6-6-3 3-1 3-2 0-4-2-2 0-10-1-1 2 0 6-1 2-4-2-6-1 0 1 0 4 6 5 4 7 0 6-3 2 0 4 3 2 6-2 6 5 2 2 3-1 1-4 0-3 8 1 3 0-1-4-8-5-3-3 1-4 2 0 4 0 2 4 4 1 0 1 8 6 4 5 2 0 2 1 2 4 0 1-10 2-2-4-4 4-2-3-4 0-2 1-2 7 1 4 4 2-1 6-2 4-4 1-2 0-4-2-1-3 0-2 3-4-2-1-2 3-4 0-6-2-4-2-2-4 0-2 2-4-2-2 0-6-3-4-3 0-2-4-6 1-4-4-1 5 1 2 1 4-4 6-1 2-1 4-4 2 1 4-3 2 3 4 3 6 3 2 6 2 2 4 6 2 4 2 6 3 0 3-5 6 1 8-2 5-3 1 2 10 3 2 0 12-6 5-6 1-8 6-10 4-15 2-11-1-6 0-7-1-5-4-2-2-8-5-6 0-6-3-20-5-7-9-3-6-11-8-2-4 4-18 0-6-1-2-14-7-3 1-3-4-6-10-3-8-5-5-6-2-8-5-10-8 0-7-4 0-2-2-1-3-2-4-6-6 3-2 0-4-4-1-1 1 1 4-3 0-3-5 2-7-1-4-3 1-4-1-2-4-4-3-1 1 2 4-2 2-1 4-2 2 1 6-3 4-2 1-4 1-2 2-5 8 3 6 0 2-2 2-6 2 2 2 2 10 5 6 1 2-5 6-1 4 2 4 7 4-3 1-2 5-2 2-2 2-12 0-16 3-2-2-4 2-6-1-12 5-8 4-10 2-6-1-2 2-4 1-6-2-2 2-1 3-4 2-5 2-5-2-6-8-3-3-3 3 0 2 3 7-10-1-8-3-1 3-3 2-4 2-1 2-3 6-1 4 3 1 1 1 0 10-8 2-1 8-6 3-6-1-4 1-8 9-6 0 0-61 6 0 2 1 4 4 8 4 4 4 2 1 4 0 6 2 2-1-2-4 0-6 2-2 0-6-1-4-5-6-2-2-4 0-2-3-4-1-2 6-8 4-2 6-2 2-6 0 0-33 6 0 2 1 2 0 0-4-4-2 0-4-6 0zM150 125l-2 1 4 6-4 4-4-5 0 1-2 3-4 1-1 2 7 5 3 5 3 2 4 1 2 5 0 1 4-3 0-4 0-1-4 2-2-1 6-6 6-1 6 1 3-2-3-10-6-2-4-2-6-1zM186 107l-2 1 2 1 4 0zM204 246l-2 1 0 4 1 1 1 3 3-3 0-2zM238 194l-2 2 0 2 2 1 2 0 2-3zM252 170l-2 3-4 1-2-1-1 1 0 4 7 6 2 2 4 0 2 0 4 1 1-3-6-6zM262 129l-2 3-1 4 2 6-3 2 0 2 4 2 6-1 3 1-1 3-6 1 0 2 0 2 2 10 2 1 2 1 4-1 2-11 1-2 3-2 12 3 4-7-2-1-6 0-1-3 1-2 3 0-5-2-6-3-6-1-4-3zM382 135l-5 3-1 3-6-2-5 3 1 2-2 4 8 12-2 2-2 6-2 2-6 1-2 3-4 1-2-3-4-2-3 4 0 4-4 2 1 1 4 1 2-1 4-2 1 1-1 6 2 2 6 2 0 1 4 1 6 0 2-3 4 2 6 1 1 4-1 1-4 0-3 1 3 4 4 1 2-3 6 1 8 3 2 7 2 0 4-1 2 1 6-3 4 0-4-6-1-4-2-2 0-4 8-6 1-6-2-5-6-2-2-1 1-4 2-2-2-4 1-6-6-2 0-3-4 1-1-2-2-2 2-4 0-2-1-2-6 2-4 0-2-2zM408 143l-2 3 0 4 4-2zM430 122l-1 4-5 4-2 2 3 4 4 8 3 5 4 1 6-1 6 5 1 0 1-3 4 1 3-2-1 0 0-2-2-5-4-1-2 5-4-1-1-2 0-2 4-4-1-2-4-4 0-2 6-3-1-1-3-3-6 3zM456 110l-1 2 0 2 5 5 2 0 2-1 0-4 2-2zM528 166l-1 2 1 2zM576 138l-2 4 2 1 2-1zM580 145l-2 3 2 0zM144 210l-3 4 3 1 4 0 3-5zM156 249l-1 1-1 3 2 1 2-2zM160 181l-1 3 3 0 2 2 2 4 6 0 2 0-2-3-4-6zM162 166l-2 2 2 2zM246 218l-2 4 0 4 2 3 4 0 2-3-1-4 3-2zM418 237l-4 1-3 6 3 9 6 1 4-1 2-3 1-4-3-2zM424 154l-2 2 1 4 3 2 0 3 4 1 1 0-2-10zM412 255l-6 3 0 4-2 2 0 4 2 2 6 5 2 0 4-1-1-4-1-2 1-6-4-4zM638 96l19 0 0 6 2 6 3 6 2 2 8 4 4 6 2 3 4-2 2 4 4 0 1-1-1-4-4 1-1-1 4-2-6-6 0-10 1 0 3 0 1 4 4 4 6 1 10 3 2 0 4 2 2-2 1-2 3-2 1 2 7 2 6-1 2-1-2-4 0-2 4-1 0-3 7-6 0-6 11 0 0 6 2 6 8-2-2-4 0-6 76 0 0 9-6 0-2 3 2 3 6 0 0 3-6 0-1 0 7 1 0 59-7 0-3 7-2 0-4-2-2-1-1 0 0-4-3 0-2 2-4-2-2 5-6 0-4-2-2 0-5 3-2 4 1 2 6 0 2 0 2 0 2 4 2 1 4 1 2-2-3-4 1-1 2 1 4 4 0 2-2 4 0 2 8 9 2 1 5 6 1 2-2 3-4 0-2-3-3 0-3 2-6 2-2 6-1 2 1 4 8 7 2-2 4 0 8 2 10 0 0 595-738 0 0-265 6 0 5 5 7 12 1 2 1 3 4 0 2-3 4 0 2 2 6 0 4 3 1-1 0-4 1-2-4-12 2-4 2-1 6 3 3-2 2-2 3-12-8-11-2 0-4 3-2-2-1-2-3-2-6 1-2-3-6-1-10-5-6 2-1 2-1 3-6 0 0-84 6 0 2 1 2-2-2-1-2 1-6 0 0-129 6 0 6 5 12 7 4 7 4 5 4 7 12 9 6 1 2 1 4 4 2 0 6 4 6 0 4 1 3 4 0 2 5 1 3 3-1 2-5 10-3 3-2 2-4 4-4 3 1 6 2 2 1 4-9 8-3 9-6-1-6 8 10 1 0-1 2-2 6 4 2-2 0-6 2-2 6-2 6-1 1 1 1 4 0 2 1 4 7 8 22 11 6 1 6 3 4 3 6 10 2 1 4-1 6 1 6 0 6 2 2-1 10-5 2 1 10 5 5 5 3 2 10 9 8 7 6 2 4 3 6 3 11 16 3 5 4 5 8 6 4 4 5 4 9 5 6 6 4 1 8 7 4 5 5 6 5 4 1 2 7 3 7 7 2 2-1 6 4 4 6 1 6-3 3 2 3 4 8 3 16-2 3 1 6-2 9 2 6 0 6 4 6 2 6 4 2 0 6 0 4-4 6-5 2-1 6-1 4-2 0-7-3-2-2-4 1-1 4-1 2 2 6 6 6 0 4 2 2 0 2-4 3-4 2-3 4-9 1-1 12-5 12-7 6-2 7-3 5-2 3-6 4-4 2-6 0-6 3-2 0-1 6 1 4 1 0 1 2 1 4 1 2-2 1-8-3-4 6-1 1 1 1 3 4-1 0-4-4-6-6-2-3-4-2-16 3-6 1-6 1-6 9-2 7 0 1 0 0-4-5-5 1-3 4-6 0-6 3-6-2-4-1-2-5-4 2-6-2-2 0-4 0-13 3-1 4-3 3 2 6-3 2 1 5 3 3 2-1 4 3 0 6 0 2-4-2-5-4-1-1-2 2-6-3-3-4 0-2-3 8-3 4 1 1-4 1-3 4-1 1-2 0-10 1-6-8-12 1-2 5-5 6-1 1-12-1-6 7-28-2-6 2-12-1-6-3-6-1-2-3-6 0-4 3-1 2-1 1-6 2-4-3-8-4-2-4 3-2 1-6-6-6-1-3-1 1-4 2-2 0-2-6 1-2 1 0 2-4 4 0 2-6-2-3-6-2-4 0-2 1-3 4-1-4 0-1-2 0-4 1-3 4 0 2 5 4-1 1-3-3-4 0-2 4-6 4-2 2 1 4 1 2 5 3 1-1 6 2 2 2 1 6-2 6 1 6 4 6 2 3-6 0-2-2-4-13-4-6-4-7-6-1-4-1-6-3-2 0-6 0-2 6 2 4-1 2 1 2 0-2-4 3-2 1-4-4-2-2-4 6-3 6 0 8 4 4 3 2 0 3-4-2-6-7-7-1-1-4-6-3-4-10-4-2 0-3 2-1 6-2 0-2 0-4-4-2-2-8-8-2-1 0-3-10-10-2-2-7 0-5-10-4-1-4-5zM774 116l-5 6-2 4 7 8 4-2 4-6 0-2-1-4zM784 177l-4 1-1 2 1 4 4-4zM150 585l-5 7 1 2 2 2 6 1 1 1 1 2 2 4 16 9 3 3 0 6 4 2 15 7 1-1 1-3-2-4-4 0 0-1-1-6-7-6 0-4-2-2 1-4-1-2 2-3 2-2 4 1 2 0 2-2-2-4-6-3-4 3-2 5-6 3-6-5-6-1-2-3zM120 435l-5 3-4 6 5 6 11 6 2 4 3 0 4 2 2 3 4-1 2-2-4-8-2-6 0-5-2-1-4-3-2-1-6 1-1-1zM144 540l0 4 1 0 4-4zM220 558l-5 4 5 1 2-2zM568 698l-3 2-3 2 2 6 6 4-5 6-2 6 1 2 1 16 4 8 9 10 8 4 3 4 5 2 4 0 6 1 0-3 6-2 0-4-6-8 0-1-5 1-5 3-2 2-4-1-6-4-2-5-4 0-1-1 3-4 6-2 2-7 12-5 4-4 0-2-4-5-4-2-8-7-4-2-6-9-2-1zM606 683l0 1 0 1 7 0zM646 698l-4 5-2 1-10 0-2 2-2 2-2 1-6-2-3 1-1 4 1 6 2 2 1 4 6 6 1 2-3 6-4-1-2 1 0 4 1 2 7 6 5 6 1 7 6 1 4 0 2-3 6 1 4 5 2 1 4 3 2 1 4-2 6 3 1-1 0-4 1-1 4-1 2-5 4 0 6-5 6-3 2-4 6 0 4-1 2-4 0-6-3-12-3-2-2-1-4 0-8-3-4-2-6-2-2-4-7-4-3-6-2-2-4 1-6-3-2 0zM720 675l3 3 1 4 2 4 6-2 6-2-2-4-4-2-6 0zM780 318l-4 4-1 2 0 4 2 12-1 2 2 4 3 2 0 4 2 6 3 3 4 1 9 0 1-2-3-8 0-10 2-14-2-4-11-4zM154 605l-2 1 0 4 2 3 0-1zM162 621l-1 3 1 1 4 0zM624 765l-2 1 2 3 3-1zM792 663l-1 1-1 2 4 10 0 6 2 2 6 2 2 6 3 2-3 0-2 0-4 0-8-1-7 7 2 6-1 2-6 0-4-1 0 5-1 2-1 3-4 1-6-2-2-4-6-5-4 2-2 1-1-2 0-2 1-4-4-1-2 1-1 4 3 6 0 2-2 6-6 4 2 3 7 4 5 9 4 1 6-2 6 2 1 3 1 1 4 0 2 4 10 4 6-2 2-2 4-1 1-4-1-2-6-4-2-2 1-4 0-2-3-2-3 1-3-2 0-2 10 1 0 6 2 3 4 0 3 3 3 2 6 0 6 5 6 0 2 0 2-3 1-6-4-12-1-13-3-5-1-4 1-2 3-3 1-3-1-4-2-2-1-4 2-6-5-9-10-3-2 0zM675 96l3 0 0 6-3 0zM635 118l1-3 3 3zM678 162l4 0 1 4-1 3-4 4-2 2-2-1-1-2 0-4zM375 168l3 4-3 2-3 0zM362 174l2-2 4 2zM602 174l2-1 6 1 6-1 6 1 6 5 2 0 6 3 4-3 12 14 1 3-1 3-4 1-2-2-8-2-2-4-7 6-1 6-6 1-4-2-8 1 0 1 2 3-3 2 3 4-1 2-1 4-8 2 2 4 6 1 6 1 2 2 10 2 7-4 1-2 0-1 2 1 4 3 4 2 1 3 1 6 3 6-1 4-4 1-4-2-5 3-7 3-6 4-8-3-4-4-11-2-15-6-3-4-4-8 0-4 2-2-1-4 0-2 6-1 4-9-2-2-1-4 1-2-7-10 0-6 5-4 2 7 4-3 0-2 4-4 2-3zM372 184l4-3 1 3-1 2zM296 234l2 0 4 4-2 1-2 0-8-1 2-2zM529 298l3-2 3 2zM542 304l2-2 2 1 0 1-2 4zM217 372l3-2 2 2zM664 394l6-2 2 1 4 5 0 4 0 3-3 0-2-3-1-1-4 0-2 1 0 4-1 0 0-10zM100 562l0-3 6 0 0 3zM177 606l4 0 1 4-2 0z"/><path fill="#c8c8c8" d="M100 96l36 0 0 6 4 4 0 2-2 2-6-3-2 4-4 0-2 1 0 2 2 2 4 0 2 2 3 2 1 6-2 4-1 8 3 3 2 1 5 2 0 4 4 6 3 1 2 1 0 4 2 2 1 0-1 1-4 3 0 1 4 0 1 1-2 4 0 2 1 4-4 2-2-1-4-2-6 0-1 3 5 2 2 1 4-2 2 0 1 3 3 2 1 4 5 4 2-6 4 5 10-1 4 6 1-2-1-2-2-3-2-5-5-2 0-4 2-2 0-4-6-2 1-4 9-2 1-4 0-2-4-1-2 0-4-1 0-2 0-2 2-4-2-2-2 0 6-1 2 3 6-2-1-4-2-2-2-10-3-3-6-2-7-3-5-2-4-2-6-1-2 3-4-4 4-5 2-1 4-1 1-3-1-2 5-4 0-6 1 0 0 6 6 7 2 2 4-3 2 0 5 4 2 2-3 4 6 6 5-4-2-6 3-2 2 0 4 5 3 1 0-4-1-2 1-4-5-6 0-6 142 0 0 6-2 1-2 3 4 3 2-1 0-2-1-4 0-6 17 0 0 10 4 0 3-4 0-6 3 0 0 6 2 1 2-1 0-6 12 0-2 19 6 2 6 1 2 2 2 5 2-1 4 2 0 4-6 2 0 4-3-4-3-1-6 5-6 0-6-1-4 3 0 6 1 10 0 2 2 4-7 6-2 0-6-4-2 0-6-6-4-1-2 1-4 5-3 1 1 2 2 1 4-1 4 4 1 4-3 2-1 0-1 6-7-2-1-4 4-2-2-6-7-4-3-6-6-2-3 0 0-4-3 0-6-8-6-5-8-3-6 1-4-1-2-4-6-1-6-4-10 0-2 1-1 4 1 1 6-2 0 1 0 6-1 2 0 10 5 6 0 2 0 6 3 6-1 4-4 0-6-5-6 3-2-2-6 0 2 10 5 6 0 2-1 1-2-3-4-1-4 6-2-1-2 2 2 8-3 6 3 3 2 0 6-4 4-1 2 2 1 4 3 1 2-1 1-4-3-2 2-2 2-2 0-2-1-4 3 0 6 2 6 0 4 4 1 4 3 3 4 5 3 4-1 3-2 1-4 3-2 1-4-2-6-4-3-6-1-6-2-1-1 1-1 4-4 1-1 5-1 1-6-1-3 2-1 4-2 2-4-2-1-4-5-1-2-4-4 3-1 2 0 6 1 1 4-1 2 5 4 1 2 4 3 8-7 6-4 1-12-2-4-3-2-1-6-4-2 3-2 8-6 2-2 3-4-1-6-1-2 4-4-3 0-2 4-2 2-2 0-2-2-4-8-2-1-4 0-2 6-4-1-6 3-2-1-4-2-1-2 1-4-3-2 0-4 5-6 1 5 7-4 8 3 2 3 4 0 4 4 2-1 2-3-2-1-1-2 1-4-2-6 0-6-5-6 1-2 0-2-2-5-4 2-6-11-5-4 3-1 2 0 4-3 7-4 2-2 4-6 0 0-22 12 0 1-1 0-2-1-4-6-8-6 0 0-102 9 0-3-3-6 0zM142 204l-1 0-3 10 3 2 9 2 4 0 0-2-1-2 5-6-2-3-6 1-6 0zM304 126l-3 4 1 2 2 2 2-2 1 0-2 4 5 2 6-2 6 5 2 0 2-5-2-3-2-1 0-2-3-4-3 0-3 0 3 4 5 2-5 2-4-1-4-3 1-4zM442 96l9 0 0 6 3 4-2 6 0 2 2 3 0 2-4 0-2-2-4-8 0-1 0-2-2-4zM468 96l29 0 0 6 1 4 4 2 6-2 0-10 49 0 0 6 1 2 4 0 3-2 0-6 35 0 0 6 4 4 1 2 7 6-2 4-4-1-2 2-4 0-2 3-1 2 0 6-2 2 0 4-3 3-4-2-6 1-3-2-3-6 4-6 0-4-4-3-2-1-3 2-1 2 3 6-3 1-1 5 1 4-2 2 0 4 2 6 6 2 4 4 1 2-1 4-6-1-2 3 2 6 1 4-1 1-4-1-2-2-4 0-2-5-4-1-8 0-2 4-2 1-2-1-6 0-4-3-6-2-6-5-2-1-4 0-1 3-1 3-3 3 0 2-1 4 6 2 6 15 4 3 0 6-1-2-3-3-6-1-2-1-6 0-1 1 0 4-2 2 3 10-4 4-2 1-6 0-6-4-4 1-1 4 0 2 1 7 5 5 2 6 0 4-2 2-1 1-4-5-2-3-4 5 0 8 3 4 9 5 4 4 2 1 2 2 4 10 4 1 4-5-6-4 0-2 1-4-1-2-3-4-1-6 2 0 6 3 4 0 6 3 2 5 0 7 2 4-3 2-5 4-1 6 4 8 1 6-3 6-9 9-6 3-18 4-4 0-8-3-6 0-4-2-4-5-10-9-4-1-6-3-8 4-14-5-3-4 1-2-3-4 9 0 2-2 1-4-1-6 1-6 8-6 1-8-1-4-3-6-2-6-2-3-4 1-2-2-4-3-2-6-5-1 1-4 4-1 2-3 4 0 5-4-5-10-4-2 0-4 4-1 2 0 3 1 2 4 0 2 0 4 1 0 4-1 6 3 2-2 1-4 2-2 0-4-4-2-1-4-4-1-8-7 1-4-2-2 3-3 6 4 4-1-4-16 1-2 5-2 4 2 2 1 4 4 6 2 5 5 3-1 4-1 3 4 3 7 2-3-1-4 1-1 4 0 1-1 0-4-4-2-2-4-5-1-2-1 0-6-2-4 0-6-2-1 0-1 0-10 1-2 2-2 8 2 1 3 4 2 6 1 1 0 1-4-3-2-2-12-12-6zM556 107l-2 1 0 4 5 0 1-4zM462 225l-1 1 1 2 0 2 4-1 2-1zM618 96l13 0 0 10-3 2-4-2-5-1zM644 96l10 0 1 10-3 2-4-1-2-1-2-4zM779 96l13 0 0 6 1 4-2 6-2 2-3 1-2-2-5-11zM807 108l13 9 2 0 4 3 2 0 10 1 0 38-10 0-2-4-4 0-3 1-1 4-2 0-2 0-16 2-2-2-6 4-4-1-3 2-3 0-6-4-2-5-1-2-3-4-2-1-4 2-1-1-1-3-4-2 0-1 0-7 6 5 2 0 2-3 2 1 4 2 6-1 8 2 3-4 3 1 4-1 2-7 0-2-2-6-4 0-2-7 2-2 4 2 2-2 4 1 3-1zM786 146l-4 4 2 3 4-3zM692 120l2 0 1 0 3 4 2 1 2 0 6 4 4-1 2-2 4 0 5 2 3-1 4 0 0 3 0 2 6 7 2 0 4 1 2 3 4 0 0 1 0 2-4 1 0 1 10 0 5 6 1 2 3 6 1 6 4 13 2 3 1 2-9 10-2 0-10-4-4-2-1-4-3-2 0-4-2 0 0 4-4 2-6-6 2 0 4-6-4-3-2-4-4-1-4-10 2 0 2-2 2-4 3-2-2-4-3-1-6 3 0-2 0-1 3-1-3-1-2-3-4 1-2 0 0-3 0-1-4 0-2 3-10-4-1-2-1-2 1-4zM726 132l-2 0 2 3zM756 162l-2 4 2 0 3 0zM403 126l3-1 2 1 12 9 4 3 7 12 1 4-2 0-10-4-6-1-1-1-3-10-3-2 2-4-1 0-2 0zM279 156l4 4 3 0 2-1 2 3 3 4 1 2-2 3-4-1-10 10-4 5-4 1-2-2-1-4 1-2 3 0-1-4 7-2zM417 156l3 3 1 3 0 4-1 1-2 1-4-6zM613 178l3-2 2 5 10 2 2-1 4 2 1 2-1 2-6 1-4 2-2-1-2 2 1 4 3 2-2 3-16-3-2-2 0-4 1-6 1-1 4 1 1-2-1-4zM708 180l0-1 4 0 1 1 1 4-2 1zM726 184l1 0 0 2 2 4-2 2-3-2zM338 190l2-3 6 2 1 3 7 4-3 2 0 4 3 1 4-1 2-4 6-1 4 5-4 0-1 2 0 4 3 2-2 6-6-7-2-1-5 0-3-4-5-2-3-4 1-2 0-4zM689 190l1-3 4 0 2 2 4 1 3 2 1 6 2 2 2 0 5 4-1 3-4-2-2 1-4 2-1 0 0-6-1-1-6 1-1-4-3-1zM588 192l4 1 2-1 3 4 3 1 3 1 3 4-2 6-4 4-6 0 0-4-6-10zM732 202l4-1 2 2 4 1 5 6 1 4 3 2 3 10 12 3 2 3 3 0 3-5 4 0 2 1 12 1 6-2 4 1-1 6 4 6 3 2 8 1 6-2 16 1 0 592-738 0 0-263 6 0 4 3 6 12 2 6 6 2 2-3 4 0 6 1 6 4 2 1 4 3-2 4-4 1-2 1-1 4 2 3 3 2 4-3 6 3 1 1 0 2 7 9 4 1 1-4-1-2-3-4-1-6-3-2 1-3 2 0 12 8 2 7 2 2 18 9 2-1 2-2 0-2 0-4-3-2-4-4 0-2-5-6-1-4-1-2 0-6 4 0 2 2 4-2 0-4 0-5-4-3-1-4-5-2-2-6 0-1-4 3-1 4 0 2 3 4-8 8-6-4-5-2-3-3-10-4-2-4-2-1 2-2 2 0 4-2 2 0 2-8 2-1 4-1-2-4-1-2-10-12 2-4 0-2-3-5-2-2-5 3 0 4-1 2-16-1-12-6-2 0-6 4-6 0 0-70 6 0 2-1 4-2 2 0 6 4-1 4 5 2 3-2 3-5 2-2 1 3-1 4 4 0 2-3 4 0 6 3 2 0 4 0-5-6 1-9 4-2 6 2 2 2 2 3 2 1 2 0 6 6 4 0 2 0 4 1 1-4-1-4 1-6 1-3 2 3 5 4 15 5 8 6 7 1 5 3 10 12 2 1 4-1 12 0 6 3 8-4 6 0 10 8 6 2 6 4 7 8 5 6 6 2 2 1 4 5 8 8 10 13 3 3 9 5 8 10 10 3 8 10 10 6 1 6 0 6 3 6 2 0 2-1 6 2 4-1 5 2 4 4 2 2 0 6 3 4 6 3 10-1 6 5 8 2 4 1 8-3 6 0 6-2 4 0 6 3 6 0 4 4 8 1 6 4 3 1 5-1 6-6 6-3 10 0 6-7 8-1 6 2 4-1 1-1-1-4 7-8 0-4 1-4 6-3 6-2 12-7 6-1 4-2 5-1 7-5 3-5 9-5 2-4 4-1 2-2 8 4 8 1 2-1 2-6-1-4 0-2 1-12 0-4-2-2-2-4-6-6-1-2-1-4 1-8-1-10 2-2 2 0 6-1 6 2 4 0 3-1 1-4-1-2 1-4-1-2-4-4-2-2 1-6 4-6 6 1 2-1-1-6 3-4-6-2 0-4-5-2-5-10 0-1 4-3 2-2 6 5 6-3 10 0 4-4 1-4 0-6-2-8 3-1 2-3-3-6 4 0 3-18-2-6-4-8-1-4 6-2 3-6 1-12-1-6 1-6 5-12 0-5 4-3 0-2 0-1-4-1 0-4 1-2 1-4 5-6-1-1-2-1-3-4-4-6-1-2 3-16 1-2 6 0-2-10 1-8-5-6 0-4 0-1 4-1 2 2 18 0 10 1 4-3-2-2-2 0-4-3-6-4-2-1-4-2-3-6 3-1 2-3zM784 315l-4 1-6 6-1 6 2 6-1 4-2 0-5-4-1-3-4 5 1 4 9 3 0 3 1 8 2 4 3 1 2-1 6 5 12 0 3-3-3-12 2-20-2-4-10-6zM160 539l-2 1 0 4 2 1 2-1 2 0zM214 558l-2 0 2 5 6 3 2 0 2-8-2-1-2-1zM268 657l-1 3 1 2 2 0 2-2 1-2zM598 681l0 1 6 3 2 4 7 1 3 4 2 0 2 0 1-6-3-3-8-5-4 0-2 2zM640 681l-2 1-2 2 5 4 1 1 2-1 0-6zM648 693l-5 3-1 4-3 2-5 0-6-1-6 4-6 1-4 2 0 4 0 6 2 2 2 6 5 4 0 3-3 1-6-4-1 2-1 4 4 8 9 6 4 6 1 4-4 2-6-1-6 1-5-12-3-1-4 2-1-1-6-6-1-3 2-5 0-2 4 1 3-5 3-1 1-3-1-2-5-6-13-10-5-6-1-5-4-1-12 1-2 2-2 3 5 10-3 6-1 6 2 2 1 16 2 6 2 2 3 4 3 3 14 11 6 4 6 0 4 1 3-4 5-3 10 3 2 2 4 0 2-5 6 1 6-2 0 4 4 0 2 3 4 0 2 6 4 1 2-2 4 2 2-1 5-4 7-6 0-3 6-4 4-1 2 2 6 2-2-8 2-5 10-2 2-1 2-6-2-10 0-6-2-2-4-3-8-1-10-6-2-1-2-1 1-4-3-1-2 2-4 0 0-3 2-3-4-1-6-5-7-1 0-2-3-2zM672 469l-4 5 2 4 2 1 2-1 1-4zM714 262l0 2 3 4 0 2 1 4 2 2 4-2 1 0 0-4-4-2zM732 662l-2 4 1 4-1 2-10 0-1 4 4 8 1 4 5 2 1 4-1 2 1 4 2 1 3-1-2-4 6-6 0-2 0-3 1-3-7-12 3-3 0-3zM756 354l0 4 0 1 3 1 1 3 2 0 0 5 1 2 3 1 2-2 2-3 0-2-8-5zM796 657l-2 1-6 6 0 2 2 4-1 6 1 2 0 4 0 2-5 10-5 5-2 3-9 4 0 2 2 4-3 3-3-1 0-2-9-5-5-7-3-1-4 0-6 3 0 5 4 5 1 2-5 5-4-1-3-4-2-2-2-4-7-2-6-3-2 5-4 0 2 4 4 0 6 4 4 0 2 2 4 0 0 2-1 6 3 3 4 2 2 1 2 0 1 4 0 2 3 5 4-1 2 3 6-1 4-3 1 1-1 2 2 5 6 1 4-2 0 2 12 4 8 0 4-3 2-5 6-4 4 0 2 2 4 2 6 0 4-2 2-3 0-5-5-12-1-12-2-6 2-6 3-6-1-4-2-6 0-6-6-11-12-5zM756 362l-2 2 2 1zM774 208l4-2 1 2-1 2zM676 210l2 0 2 0 1 4-3 1-2 0-2-1zM380 220l2-1 6 3 2-2 4 2 2 10 2 6 2 1 3 1 2 4 0 2-3 3-2 0-3-3 1-6-10-1-6-3-6-4-2-4 0-2 2-4zM587 222l1-1 4 0 1 1-1 4-4 2-2-1zM260 228l2-1 2 0 4 1 2 10-2 0-9-4zM551 232l1-1 2 1 0 2-2 1zM584 232l2-2 2-1 4 2 6 0 2 1 6 1 4 0 6-1 2 2 4 0 2 3 6-1 10-2 0 4 0 6-3 2-2 4-7 2-4 4-2 0-3-4-7-4-8 0-10-6-6-1zM698 234l4 1 2 3-3 6-1 0-4-2 0-2zM177 258l1-1 2 1 2 0 2 4-4-1zM100 262l0-2 6 0 6 3 4 1 2 4 6 4 6 1 0 1-1 2 0 6 2 4-5 6-3 2-3 6-6 2-2 1-6 7-6 0zM395 264l2 0 1 4-2 2-1 0-2 0zM100 330l0-1 6 0 6 5 10 6 14 20 3 4 5 6 4 2 6 0 6 6 6 4 2 3 7 5 5 6 0 4-6 2 0 4-8 6 2 9-2 2-6-4-6 0-2 1-2 2-6-2 5-6 0-2-1-3-4 0-4 5-2 2-2 1-5 7-1 1-6 1-4 4-6 3-2 1-6 3-6 0zM794 688l2-1 3 1 1 2-2 2-6-1 0-1z"/><path fill="#c1c1c1" d="M115 96l16 0 0 6-2 4-5 3-1-1-1-2-2-3-2 1-2 2 1 2-1 4 3 6 1 2 3 4 5 0 0-4 2-1 2 1 0 6-2 6 2 10 0 1 7 1 3 6 5 6-3 3-2 1-3 2 9 6 2 6-2 1-6-2-6 1-3 4 0 2 3 2 8 3 4 5 2 1 4 0 4 7-2 3-2-1-10 3-6 1 0 4-6 6 0 2 4-1 2 5 4 0 3 0 2 2-3 4 10 4 1 2-5 4-12-1-2-3 0-4-16-9-2 0-12-13-6 0 0-99 12 0 2-1 1-4zM126 186l-1 0 0 4 1 0 2 0zM192 96l1 0 0 6-1 1 0-1zM209 96l16 0 1 9 2-2 6 3 2 0-2-4 0-6 88 0 0 10 8 6 4 0 2 3 6 2 4 4 2-4 4-2 2 0 6 1 2 2-1 2 3 2 2 0 2 2 1 2 0 4-3 2-2 0-5-2-1-4-4-1-3 1 2 4 4 2-2 18 2 4-2 2-1 4-2-3-6 0-4-3 2-4-3-6 2-6 0-2-2-4-5 0-6-4-12-4-6-6-8 1-3-5-2 0-8 4-2 2-1 5-6 3-2-2-10 0-2-1-4-2-2-1-4-2-2 2-4 0-2-2-4 0 0-2-2-2-2 2 2 1 3 2 0 5-3 4 6 6 0 8 6 10 0 2 0 3-4 0-1-3-5 0 0 4-6 3-2-4-4 3-1 4 1 2 2 6 2 4 0 2-11 6 0 6-6 6 1 2 4-1 1 3-5 1-2 0-4-2-6 1 3 2 4 4 1 2-2 1-5-1-3-5-4 2-2 0-10-4-6-5-2-2-1-4-5-6-4-2 2-6-1-6 2-4 3-2 0-6-6-6 6-3 3 3 1 3 2 1 2-2-6-8-1-6 1-4-2-2-2-1-3-5 3-4 6-2 3-4 3-1 6 2 1-3 0-4-2-2 0-4 5-2 2-3 6 3 1-4zM216 114l-1 0-1 3 1 3 1 1 2-1zM489 96l2 0 0 6 7 7 6 4 7-7-1-10 30 0 0 6 9 6 1 4 8 5 4 1 2 2-1 4 3 2 1 4-3 6 0 2 3 6-1 6 1 4-2 2-3 3-10 2-2-2-2-3-4-3-3 3 2 4 0 2-3 1-14-5-6-4-6 0-2 2-2 4-2 2-2 4 1 2-2 6 3 3 6 0 2 3 1 4-1 1-6 3-2-2-3-2 0-4-1-2-2-2-4 1-2 0-6-6-4-1-1 2-1 2 2 3 2 1 2 2 0 1-4 0-3-3-2-6 0-4 2-2 0-4-6-3-3-4-4-1 0-4 1-6-1-8 1-4-5-2 0-4 2-1 4 1 2 6 3 0 1 4 6 1 6 2 2 0 3-3 1-4-2-2-4-4-3-6 0-2 2-4-1-6 1-2zM498 114l0 4 4 4 2-2 0-2-2-3zM510 125l-1 1 1 3 4-1zM532 111l-3 3 3 3 8 2 1-1-3-5zM578 96l5 0 0 6 3 1 0-1 0-6 12 0 0 6 1 4-1 1-4-4-3 3 1 8 3 4 0 2-3 3-4-4-2 0-5-1-1-6-2-4zM650 96l2 0 0 6 0 2-2-2zM362 108l2-1 4 5-1 2-3 0zM152 112l2-3 2 0 2 3-2 6-2 1-5-1-2-4zM165 120l3 0 3 4-3 1zM374 124l2-1 4 3-1 4-3 1-3-1zM809 124l1-2 4 2zM815 132l1-1 2 1zM412 136l2-1 6 4 5 5 0 4-1 0-6-2-4-3zM807 138l3 0 2 0 3 4-3 2 1 4-3 1-2 5-4 2-2-1-4-5-3-2 6-6zM318 144l5 4 0 2-1 2-4 1-2-2-2-3zM831 148l1-2 6 0 0 2 0 1zM437 156l1-1 3 1 7 5 2 2 4 4 2 1 6 2 3 4 7 6 12 14 2 0 4-1 2 1 4 4 2 0 4 2 1 2 2 6-3 2-6 1-4-4-2-1-3 2-3 0-2 2 0 4-1 6 0 2 0 4-7 4-2-2-4-4-7-4 2-3-3-7-4-3 0 3 1 6-1 6 2 6-1 6 2 6 1 1 0-1 4-6 8-1 2 0 2 1-2 4 1 8 3 6 0 2-6-1-2 3 2 2 2 1 6 9 4 3 2 2 4 0 6 3 2-1 4 1 7 10 5 2 1 4-4 8 0 4-4 2-9 5-8 0-6 1-4 0-10-2-6-6-4-3-5-3 1-4-2-2-12-4-4-3-2 0-7-5 0-4 1-2 0-3-4 3 0-6 2 0 2 1 0-1 2-1 3-3 3-2 0-4 1-2-1-6 1-4-1-2-2 0-4-4 0-3 2-3-3-2 0-4 6-2-2-4-1-6 2-1 6-3 1-2-1-4 0-5 6 2 2-5-1-2-8-6-2-4 1-2-6-6 2-1 0-3 5-2zM442 227l-3 1 0 4 5 1 4-1zM730 160l3 0-1 2-3 0zM737 168l1-2 4 1 1 1-1 2zM429 174l3 4-2 0zM609 192l1-1 6 0 1 1 0 4-1 1-4-1zM174 198l4 2 8 2 5 6 7 4 3-2 1-1 5 5 3 6 3 2 0 4 1 1 3 1 2 4-3 2 0 3 5 3-4 0-1-2-8 0-6-4-4 1-2 3 0 6 0 1-4-2-2 0-4 1-1-4-11-5 1-3 5-6 4 0-4-4-2-8-4-2-2-1-4-7zM263 202l1-3 5 3 2 2-1 3zM159 210l3-2 1 2-1 4-2 2zM380 226l2-2 4 2 6 6 0 2-2 1-2 1-4-2-4-2zM100 228l0-2 6 0 6 2 0 4-4 3-2 2-6 0zM221 232l1-1 4 1 2 3 2 3-2 0-6-1zM754 232l2-1 4 2 2-1 6 3 4 0 2 3 4-5 2-1 4 0 8 1 3 2 6 5 1 4 2 0 34 1 0 589-738 0 0-262 6 0 3 2 3 6 4 12 2 1 6 2 6-2 9 5-2 2 0 4-2 2 1 5 2 1 4 5 2 0 4-2 2 0 2 1 3 6 11 10 2 0 4-2-2-2-2-6-3-4-1-2 1-4 3 1 5 3 2 8 3 2 6 2 12 7 3-1 2-4 2-6-5-4-3-2 0-2-3-4-3-8 1-1 2 0 4 0 1-3 1-6-2-8-4-6-2-1-3-3-1-3-2-2-6 3-3 2-2 6-5 6-2 0-6-6-4 0-4-2-2-4 4-2 2 0 2-4 2-4 6-2 1-2-3-12 2-1 2-3-1-2-5-6-8-2-1-2 0-2-3-2-2 0-6 4-2 4-2 0-12 0-2-1-5-3-7-6-4-1-2 5-6 0 0-6 6 0 0-1-6 0 0-51 8 1 4-4 8 5 12 1 6-4 4-1 3 2 9 2 12-3 2-2 4 0 2 2 4 0 6 2 2 0 3-7 1-4 2-2 4 1 12 4 6 6 14 5 7 8 3 2 2 1 16 0 5 3 1 4 6 1 6-2 2 1 4-1 5 3 7 1 2 2 8 7 7 8 9 6 4 6 8 6 4 9 2 1 6 5 6 4 12 11 6 1 4 2 1 3 5 5 7 5 3 12 2 6 2 2 4 1 2 0 4 1 2 1 4-1 6 3 2 1 1 6 3 4 8 5 6-1 4 1 6 3 6 2 6 2 7-4 17-2 6 4 6 0 2 3 10 2 6 3 2 1 6-1 12-8 10 0 3-2 3-4 18-1 2-1 5-6 1-2 2-4-1-6 1-2 4-3 13-3 5-5 10-3 6-1 2-3 6-2 3-4 3-2 6 1 4-3 2-6 10 0 6 1 2-2 4-3 1-4-1-12 1-10-6-8-1-4 1-2 5-8 0-4 1-4 2-2 9-6 2-12 4-4 1-6 1-2 4-7 0-3-3-2-1-12 2-6 2-4 8-2 5-6 1-10 5-18 0-8 2-6-6-18 3-4 3-8 2-12-1-10 1-6 3-4 4-1 3-3-1-4-2-12 0-6 6-6 2-5 8-7 0-2 2-3 6 0 2-4 4 3 2-2 4 1 6-1-2-4 1-2-3-2-4 2-2 2-2-2-6 0-3 2-7-7-2-1-1-4-5-2-4-3 1-3 4-6 0-4 1-1 10 1 2-1 10 1 2-1 4 1 5-2-1-4zM766 287l-4 5 0 2 0 2 4-1 2 2 4-5 0-4zM780 254l-1 2 1 3 3-1zM790 257l-3 1 1 4 2 2 2 1 4 4 3 1-2-6 1-6-2-2zM136 614l-4 3 0 1 0 4 4 3 2 1 3-4-1-4zM190 658l-3 2 1 4 4 4 2-2zM196 668l-2 2 2 1 2 1 2 0 3-2-1-3zM174 528l-2 2-1 2 1 1 6 2 2 2 1-3-1-2zM214 555l-4 1-1 2 2 4 3 2 8 5 2-1 1-4 0-6-3-3-2 0zM228 678l-1 4 1 1 2-1zM250 582l-4 4 0 2 1 4 1 2 2 1 2-1 1-8zM258 588l-1 0 0 4 1 2 4-1 2 1 4-5 0-1-6 1zM274 591l-2 3 2 2 4-2 2-2 0-2zM276 575l0 1 2 10 2 2 2 0 3-2-1-4-2-2zM438 688l-1 2 1 4 6 2 4 4 2-4 7-2 1-4-2-1-6 1-2-1-4 1zM478 669l-3 3 3 3 1-3zM598 678l-6 10 0 1-12 1-6 3-10 2-2 2-4 5 2 4 1 6-2 12 3 6-1 8 6 12 7 9 8 6 5 3 7 4 6 2 4 0 2-3 6-3 6 1 6 3 22 1 2 2 4 1 2 3 4 2 8 0 4-3 7-4 1-1 4-2 2 1 1-4-2-2 1-2 10 1 1 3 1 1 4-1 1-2-5-10 0-1 4-3 8-2 4-2 1-6-3-10 0-6-2-4-2-2-4-1-8-1-5-6-5-2-2-4-4-1-2-4-5-1-5-4-4-6-2-3-2-1-6 0-4-2-2-4-4-2-6 2-2 0-4-2-1 4 1 2-2 2-4-1-3-3 0-4-3 0-2 1-6-1-6 1zM672 687l-1 3 1 4 6 0 3-4-2-2zM724 338l0 2 2 1 3-1zM726 333l0 1 4 0zM738 303l2 7 2 2 6 2 0 2 5 2 1 6 0 4-4 1-2-3-4 4-6 4-2 2 0 4 0 2 2 4 6 2-5 4 3 3 2 1 4-1 2 1 1 2-2 6 5 10 2 0 4-2 2 6 4 0 2-3 4 0 6 4 2-1 0-2-2-3-4-7 1-2 5-1 6 3 12-1 4-2 0-3-3-12 2-18 0-2-1-4-10-7-4-6-2-3-4 0-1 2 0 2-2 4-5 4-4-2-2-6-1-2-3-2-2-3zM174 546l-1 4 1 6 4-2 3-4-1-2zM268 654l-4 4 0 8 6 2 4-5 0-5zM780 657l0 3 0 1 4 1 2 2 1 6 0 12-2 2-2 10-3 3-3 2-3 1-2 0-2 2-2 1-3-1-3 3-2 0-4-1-2-5-4-2-2-1-10 4-1-4 6-6 1-2-4-10-3-2-1-6 2-6 0-4-2 0-4 1-6 8-2 2-4-1-1 2-2 4 5 8 0 6 4 6 2 6-2 2-6 0-6-4-2 1-4 3-2-1-6 0-1 3 0 3 3 0 4 6 2 2 4-1 4 2 4 1 4 1 3 4-1 2 1 4 10 6 5 8 2 2 4 0 2 2 4 1 6 6 6-2 2 1 6-1 10 3 8 0 4-1 2-7 6-3 4-1 6 3 6 0 2-1 3-2 1-8-4-12-2-18 1-6 3-6 0-4-1-8-3-7-2-3-3-6-5-2-6-2-5-5-3-1-6 1-4 3zM603 238l3-1 4 1 0 2 0 4-4-2-2 1zM615 240l1-1 2 0 9 5 1 3-4 3-2 0-5-4zM113 274l1-3 4 1 1 2 2 2-1 4 3 2 0 4-3 5-2 1-5 6-1 0-6 2-6 0 0-20 6 0 2-4zM710 276l2-1 2 2 2 5-2 1-2 0-4-2-1-1zM100 334l0-3 6 0 14 9 6 8 4 7 7 11 4 12 2 4 3 8-2 6-2 4-3 6-1 5-6 6-6 6-12 8-14-2zM748 336l2-1 4 1 0 2zM596 688l2-1 6 3 2 7 4-2 2 1 4 0 5 4-1 2-4 2-4-1-1 3-1 8 2 10-2 2-7-6-3-4-3-2-3-2-6-4-3-6 1-2-1-4 6-2 1-4zM632 688l2-2 5 4 1 6 0 3-4 1-6-2-6 1-1-3 2-6 3-2zM731 706l5-2 0 2 0 2zM736 714l2-2 3 2zM604 736l2-2 4 4 1 6 3 4 6 2 2 4-4 4-2 1-4-3-6-9-6 0-4-3-1-2 5-5z"/><path fill="#b9b9b9" d="M125 96l3 0 0 6-2 2-1-2zM249 96l21 0 0 6-1 4 1 1 5-5 0-6 44 0 0 10 3 3 2 1 4 3 6 1 12 12 2 4-2 3-4-3-6-1-3-3-3-1-6-1-12-9-6 0-12-11-4 2-1 2 2 4-5 4-4-2-1 0-1 6-4 2-6-1-3-3-5-4-6-1-6 2-8-3 0-4 2 0 2 2 4-2-1-2zM513 96l2 0 0 6-1 2zM521 96l7 0 0 6 3 4-2 2-4 0-2 4 1 6 0 2-3 4 5 1 2-1 4 1 2-2 6 2 10 7 2 0 4-1 2 0 2 1-1 6 2 6-2 10-3 2-4 1-2-2-12-10-6 1-1 2 1 6-6 2-4-6-6 1-8-3-2 2 3 4 0 2-1 4-4 1 0 1-2 10-4 1-2 0-6-9-13-10 1-2 6-1 0-3 0-3-2-1 3-2 1-1 6 2 6 3 6-1 2-3-1-6 3-4 8 5 4 0 2 2 2-1 0-2-4-6-1-4-5-4-6-2-1-2 1-4 6-3 2 6 6-3 0-2-1-4zM206 108l2 0 2-2 4 0 6 2 8 6 10-1 1 1-1 4 3 2 0 4-3 0-2 6-2 1-8 1-2 6-2 2-6-2-6 2 0 2-1 6 11 8 2 0 2 0 1 4 1 0 1 0 0-4 1-2-9-6 1-3 2-3 4 0 0-4 2-1 12 2 2-3 2-2 3 2 0 2 0 4 2 8-3 3-3 0-11 8-2 5 3 6 1 6-2 2-7 4-1 2 0 6-4 3-4 3-6-1-8 1 0 2 1 2-1 1-4 0-6-3-4-4-1-10-6-6-1-2 4-5 7-1 0-4-1-1-6-2-2-3 2-1 6 1 6-2 0-4-6-1-2-1-2-6-2-4 0-2 0-5-4-6-2 0-1-1 1-1 2 0 4-2 6 0 5 5 2 4 3 0 0-4 3-2 0-4-2-2-1-6 2-2 2-1 4 0 1 3-1 2 2 2 6 2 5 0 1-4-3-6-3-3-8 2zM100 112l0-3 6 0 2 1 3 2 0 2 8 10 8 2 3 13 2 5 0 2 4-1 4 5 1 4-5 8 2 4 6 2 1 4-1 0-2-2-4-1-6 3-2 0-1 2-3 1-1 3 0 2 1 4-2 1-2 1 0 4 2 2 2 0 4-1 2 0 2-1 0-4 2 0 8 2 8 8-2 2-4 0-2 0-2 3-4 1-2 2-1 4-5 3-4-3-1 2 0 4 5 2 0 4-4 0-6-5-2 0-4-1-8-10-6 0 0-68 6 0 1 0-1-3-6 0zM542 112l4 1 4 3 2 2-1 2-1 2-4-1-1-3zM443 166l1-2 4 2 0 2 2 1 9 5 3 5 2 1 4 8 4-1 2 3 4 6 1 2 3 4-2 0-2-2-4 1-2-1-1 2-4 2 2 4-3 0-4-3-2 0-6-7-3-6-7-7-1-5-3-2 2-1 2 0 2-5zM510 180l4 0 0 4zM497 202l1-1 2 1 0 2-2 2-2-1zM176 204l8 0 2 0 4 5 8 5 4-1 2 1 2 6 2 2 3 6-1 2-1 4-1 1-4-3-8 2-5-2-5-10-5-2 0-6zM444 216l1 0 1 4-2 1zM100 232l0-2 6 0 2 2-2 2zM726 244l4 0 1 2-1 4 1 2-1 2-6-2-4 1 0-3zM772 243l2-2 4 0 2 3 0 3-1 3-5 0-1 0zM789 244l4-3 2 3-1 2-2 1-2 2-5-3zM802 246l6 0 12 1 6-2 12 1 0 588-738 0 0-215 6-1-6 0 0-45 6 0 2 2 4 5 3 12 3 3 6 2 6 1 0 2-1 6 3 3 2 3-3 4 0 6 5 6 2 3 3-1 1-5 2-4 6 4 6 1 2 2 2 6 8 1 4-1 6-5 2 0 4 1 8 4 6 3 3 3 7 2 2-2-6-6 0-4 2-2-3-6-3-4-2-4-2 0-2-2-1-2 3-3 2 1 1-2 1-12-2-2 0-4-4-8-4-3-2-3-4-5-8 1-2 2-6 10-2 3-13-9 3 0 5-8 1-1 7 1 2-4 1-3 2-1 4-2 3-6 1-2 0-4-10-3-10-7-5-2-1-2-2-3-4-1-2 0-6 4-4 4-8 1-10-3-4-2-6-10-4-1-6 0 0-44 8 1 4-2 2-1 6 3 12 2 6-4 4 0 12 1 24 0 8 2 4 0 2-1 2-10 2-2 9 2 9 7 6 4 6 1 6 6 6 4 18 1 2 1 2 4 7 2 15 1 12 4 6 5 7 8 9 6 3 6 9 8 2 8 16 10 12 10 8 4 4 5 2 3 7 4 2 2 1 10 4 6 3 2 5 3 12 2 6 3 2 4 4 4 8 6 6-1 4 1 3 2 9 3 6 4 2-2 4-3 2-1 12-2 4 0 2 3 4 2 2 0 4 1 2 2 10 1 6 3 6 1 6-2 9-6 9 0 2-2 4-3 12-2 6 0 2-1 4-2 7-8 0-4-1-6 1-2 5-2 9-2 5-4 11-4 5-2 6-3 2-1 6-5 9-1 6-6 3-2 10 0 2-1 4-3 3-6 0-4-1-8 1-10-6-8 0-4 5-12 2-6 2-2 7-6 3-12 4-6 4-8 1-8-2-6 0-8 2-4 11-8 1-4 3-2 4-9 0-3 1-6-1-4 1-14 3-6-1-4-4-6-2-6 7-23 0-3 0-13 1-3 5-3 4-5 0-4-3-12 0-6 8-8 11-11 4 0 8 4 5 7-5 4-2-2 2-2-2-2-1 4-3 3-4 13 2 5 4 1 6 2 1 4-9 2-6-6-1 6-5 6-5 10 1 2 4 4 2 2 4 3 3 3 6 4 3 2 1 4 3 2 0 6 6 6 2 0 6 2 10 0 6 1 2 0 4-3 0-2-1-4 2-2 1-2 16-4 0-4-2-12 2-18 0-2-1-4-10-8-2-6-3-4-1-2-1-3-10-3 0-4 4 0 3-6-3-1-1-1 3-6-2-3-6 0-10-2-2-5 2-2-7-10 0-2-4-4 3-1 2 1 4 0 2-4 4 1 1 3 1 3 6 1 4 2 2 7 12 5 3 4 3 2 4 0 1-2-1-6-2-4 1-6-1-8zM108 621l0 3 0 2 3-2zM174 642l2 4 2 0 0-3zM186 657l-2 2-1 1 2 4 11 9 2 1 6-2 1-2-1-4-2-1-4 2-1-1-1-1-4-10zM172 489l-4 3 0 4 4 3 2 1 4 1 0-5-2-4zM210 552l-2 4 0 2 4 6 9 6 1 2 6 2-2-6 2-6-3-6-5-4zM258 573l-2 1-1 3zM270 573l5 7 0 2-1 3-4-1-8 3-5-1-7-8-4 0-4 4 1 6 3 7 4 2 2-1 6 5 1-1 1-2 2-1 1 1 2 6 2 2 1 4 3-4 3-5 2 0 4 0 3-3 1-4 5-8-1-4-2-1-10-9zM286 570l-1 4 1 1 2 1 3-2zM294 617l-2 1 1 4 3 2 0 4 4 3 4-1 2-6-2-1-4 1-2-2-1 0 2-4zM312 618l-1 4 1 3 3-3zM354 783l-2 1 1 6 1 1 6 4 4 2 1-1-1-3-6-4zM450 681l0 1-1 2-5 2-2-2-4 0-5 4 1 6 8 3 5 5 7-4 2-1 4 0 3-3 1-4-2-4-2-1-4 1zM474 666l-4 6 8 7 2 1 2-2 0-2 3-6-4-4zM762 678l-3 4 3 0 4 0 1-4zM780 655l-2 3-1 2 2 4-6 6 1 3 3 3 0 2-5 5-4 0-1 1-2 6 2 4 0 6-7 2-4-2-5-6-2-6-5-4-2-6-4-3-1-5 2-10-1-1-2 0-4 1-6 7-2 2-5 1-7 6-4 1-2-2-2 1 2 3 12 0 3 5-2 4 0 2 6 10-1 2-4 1-6-5-2-1-4 2-6-1-2-3-4-1-6 2-2-2 1-6-7-4-6-1-4 2-3-3-3-1-2 2-4-1-2 1-6 0-6-6-4-1-6 2-8-1-4 0-2-1-4 0-2 1-10 1-8-2-3 2-1 4-2 3-4 2-8 1-10 5-6 1-2 2-4 4-3 5 4 9-2 4 0 2 0 4 2 6 0 2 2 10 5 8 7 10 7 4 5 4 7 4 8 3 4-1 6-4 2-1 6 2 4 1 9 2 15 1 6 3 6 4 2 0 6 0 12-7 10-3 2-5 6 4 10-1 1-2-7-8-1-4 2-2 5-2 6 0 2-2 0-6 1-2-4-10 1-12 6 1 3 3 3 2 2 6 8 4 8 11 2 2 4 0 2 2 4 0 6 5 8 0 6-2 12 4 10 0 2-8 4-2 6-1 6 1 8-1 4-3 1-6-1-5-4-10-2-15 0-2 2-6 4-6-1-6-2-10-6-12-3-2-10-3-3-3-5-3-6 0-4 2zM172 526l-3 6 2 2 1 1 2 0 6 4 3-1 1-3-2-3-2-3zM214 579l-2 1 0 2 2 2 6 2 2-1 2-3 0-2-2-2 0 2-2 1zM228 674l-1 2-3 6 4 3 5-3 0-4zM268 614l-3 4 3 1zM286 621l-1 3-5 4-1 2-1 4 2 2 2 0 3-2-1-4 2-1 2 0 1-1 1-4-2-2zM288 631l-2 3 2 1 4-1zM268 650l-2 2-1 2-4 4 0 9 6 3 3 0 4-2 1-8 1-2-4-6zM735 250l3-2 6 3 4-1 2 2-2 4 1 2-1 5-4 0-2-1 0-4 5-2-3-2-6 1zM460 256l2-2 1 2 1 8-2 3-2 0-4-2-2-1-2-2-1-4 3-2 2 2zM471 274l1-1 12 4 6 2 2 3 4-1 6 5 6 5 2 3-2 10-4 2-6 3-8 0-10 0-5-3-7-6-6-3-2-3-2-8 2-6 2-4zM751 280l5-1 4-1 2 2 0 6-2 4-4 0-1-2-5-6zM100 334l6-1 14 9 4 10 4 6 2 6 6 8 3 10 2 8-1 6-3 6-2 10-5 5-10 8-6 3-6-2-8-1zM165 616l3-2 3 2-1 2-2 1zM148 618l2-2 2 2zM664 688l2-2 3 2-1 2-2 2zM776 688l2 0 3 6-3 1-2-1zM595 694l3-3 2 2 0 5-2 1-4-2 0-1zM683 700l1-1 4 1 3 2-1 4-2 1-8-5zM602 708l2 0 2 2 2 8-2 1-2-6-4-1zM693 708l3 1 4 3 1 2-1 2-6-1zM612 750l4 0 0 4z"/><path fill="#b2b2b2" d="M252 96l6 0 0 7 1-7 5 0 0 6 1 4-1 2-1 0-5 1-6-5zM301 96l14 0 0 6 4 10-3 1-6 0-4-1-4-4-1-2zM100 112l0-1 6 0 1 1-1 2 7 6 0 4-1 2-12 0zM269 114l5-1 1 1-1 4zM323 114l1-1 4 5 0 1-4 0zM228 120l4-2 1 2 0 4-1 2-4 0zM115 126l3-1 2 0 6 5 2 6 1 8-2 6 7 10-2 7-2-1-4 2-4 10-2 2 1 4-1 6 3 6 1 1 4 1 2 3 2-1 2 2-1 2-3 2-4-4-2 0-4 4-2-2-1 4 1 1 3 1-3 2-8-4 0-4 2-1 2 0 2-1-2-4-6 1-2 3-6 0 0-64 8 1 1-3-1-4 1-2 3-3zM218 130l2-3 3 5-1 2zM186 132l6 0 2 4 2 1 6 1 2 2 2 2 1 2-1 4 2 1 20 17 4 7 0 1-1 4-5 2-4 1-1 3 1 2-2 6-4-1-6 5-6 0-2 0 0-1-4 3-2 0-5-2-1-10 1-6-6-2 4-4 4 0 1-6-2-2 7 0 6-10-3-2-6 0-6-2-1-2 0-6-3-4zM525 132l1 0 2-1 6 0 4-1 7 2 5 7 2-2 4 1 1 4-4 6 1 2-2 4-2-2-7-8-3-5-6 3-2-3-4 1zM508 138l2-1 4 1 6 3 6 7-6 1-9-1zM234 142l4 0 1 2-1 4-4 0zM223 148l3-2 3 2zM494 150l2 0 2 2 4 0 2 2 3 2-3 2-2 1-2 7-2 3-2-3 0-4-5-2 1-4zM450 180l4-2 1 2-1 3-4 2zM139 192l3-2 2 0 3 2-1 4-7 2-4 0 3-1zM184 210l2-1 16 7 4 6 1 6-3 1-2 1-6 1-4-1-3-4-1-4-5-2 0-4zM803 250l1-2 4-1 30 0 0 587-738 0 0-210 6 0 0 4 2 2 6 4 2-4-2-3-1-5-1-2-6-3-6 0 0-43 6 0 2 2 4 6 1 10 5 4 3 2 4 2 0 4 2 2 3 4-1 2 1 6-1 4 5 6 2 3 2 3 4 0 2 0 2-6 2-2 4 2 4 2 4 5 8 1-1 4 1 0 2-4 2 0 2-3 4-2 2-1 3 4-1 2 2 1 1-3 2 0 9 4 12 8 2-2 1-2 1-2 0-4-4-2 0-6-6-10-2-6 0-2 2-4 5-2 0-4-4-2 0-4 1-2 4-2 0-2-4-2-2 2 0 2-1-2-3-2-2-7-4-3-4-6-3-2-1-5-2 5-4 1-5-1 3-6 5-4-1-2 4-4 0-3 3-3 0-2 4-4-5-3-2-5-4-5-8-2-2 1-2 1-4 1 2 1 2 5-2 1-4-3-8-5-10-1-6 7-2 2-6 1-7-2-5-2-6-11-6-1-6 0 0-42 8 1 6-1 10 2 8 1 4 0 6-3 6 0 8 1 6 1 16-1 12 3 6-2 2-2 0-4 0-2 4-1 18 11 6 1 3 3 9 5 18 3 1 2 6 2 5 2 14 0 12 5 6 5 6 7 10 7 2 7 5 3 5 10 2 2 12 8 5 4 19 13 4 6 7 5 1 3 0 3 1 4 5 6 10 6 14 5 4 2 6 7 8 5 6 0 4 0 12 5 6 3 4-1 3-2 1-1 10-2 2-1 4 0 2 5 6 1 6 2 10 1 6 3 6 1 6-2 8-5 12-2 6-4 10-2 6 1 6-2 9-11 0-10 3-2 12-3 2-3 24-11 6-4 10-3 8-6 10-1 2-1 5-4 3-6 1-4-2-8 2-10-6-8-1-4 8-18 2-2 6-6 2-10 8-12 2-12-2-6 1-8 2-4 9-6 3-6 3-2 6-9 0-7-2-14 0-6 3-6-1-4-6-8 0-7 6-17 1-6 0-12 1-4 4-2 6-6 0-5-4-13 1-4 7-8 10-9 4 0 3 3 1 2-3 10-5 12-2 12-3 6-7 8 0 8 2 2 2 2-2 6 4 10 6 0 2 0 2-4 2-1 3 1 1 4 0 6 0 2 8 7 4 2 24 2 6-1 6-5 2-1 4-6 3-4 3 0 1-6-3-14 3-16-1-6-8-8-1-4 3-2-2-4-8-7-4-1 0-4 3-2 2-6-1-6 0-4 4 0 6 7 3-1 5-6 1-2-3-10zM174 638l-1 2-1 2 2 7 6 1 2 2 0 2-1 6 2 4 13 9 8 2 2-3 1-6-3-2-2-1-4 1-2-4 0-2-4-6-2 1-2-1-1-4-6-3-1-5zM168 488l-2 2-3 2 2 4 3 3 12 7 4 2 2 0 0-2 0-2-2 0-3-6 1-2-1-4zM232 539l-3 5 1 2-2 3-2 3-2-2 0-4-2-2-2 1-1 1-3 3-6 2-3 1-1 6 4 6 8 6 2 4 0 3-4-2-6 4-1 1 5 7 6 2 2-1 4-4 4-4 1-6-3-6 2-6-3-6 1-3 4 0 2-3 3-6zM286 567l-3 3-1 4-6-6-8 1-2 1-1 4 3 1 2 1-1 4 0 2-5 3-3 1-3-4-3-2 7-3 2-3-8-2-6 4-6-1-2 1 0 4-3 2 0 4 3 6 4 5 4 1 3 0 9 8 2 4 0 2-2 3-4 1 0 2-3 4 1 3 4 3 8 8 2 1 2 3 2 1 6 1 2-1 4-1 2 2 2-6 3-2 0-4 1-1 10 5 2-6 6 0 4-4 1-2-1-4-4-1-6 2-6-2-2-3-4 1-2 1-4 0-4 2-4 5-4 1-2 4 0 2-4 0-1-6 0-2 4-4-3-6 4-1 2-4 4 5 2 1 2-1 1-2-1-4-2-2 6-6 1-6 3-6 0-4 3-8-2-4zM324 745l-2 3 7 2 5 8 2-1 1-1-3-6zM418 768l2 4 6 1 1-1zM424 678l-4 1-2 3 1 2 1 4 4 0 1 2 4 4 1 2 2 4 4-2 6 1 2 3 4 2 8-3 2 1 2 0 6-7 2 1 1-2-3-6-4-5-2-1-4 1-6-3-2 0-3 3-2-1-5-2-6 1-6 0zM472 663l-3 3-2 6 1 4 6 2 2 4 2 0 6 0 2-4 4-2 2-1 2-3-2-2-8-5zM520 675l-3 1-1 2 4 1zM780 654l-4 4-2 2 0 4-3 2-3 2-8 2-2 2 2 4-6 6 0 2 2 3 4-1 2 2-1 2-3 4 1 2-3 1-3-13-5-1-3-1-1-4 4-2 1-6-1-2-6 3-3-1 2-10-3-2-2 0-4 1-8 9-8 2-4 2-4 0-6 0-2-2-4 0-2-2-5 2-1 2 1 4 5 2 2-2 4 1 6 4 9 1-1 8 4 2 0 2-12 1-4-1-4-4-2-2-5-4-1-2-2 1-6-2-10 0-8-2-6 1-6 0-6-4-4-1-8 2-6-2-10 0-12 1-9-1-3 2-1 5-5 4-2 1-6 0-10 5-8 2-5 6-4 6 0 2 3 4 1 2-3 4 1 6 3 6 0 8 1 4 6 8 9 11 7 5 3 2 12 6 8 1 6-4 2-1 10 4 8 1 16 1 6 3 5 5 3 0 6 0 6-4 6-3 8-3 4-3 22 2 0-1 0-2-4-2-3-6-1-2 0-4 2-2 2-1 3 1 7 2 1-2-3-6 1-4 2-2-5-5-1-5 1-9 4 1 3 2 5 9 6 4 3 5-4 4-5 6-3 2-1 4 5 3 3-2 2-4 4 0 4-1-1-2 3-3 11 3 3 2 10 3 8-3 6 1 6 2 10 1 1 0 2-6 3-4 6-1 14 0 5-5 1-6-2-8-3-10-2-12 0-2 6-12-2-12-7-16-3-2-9-4-4-3-6-3-7 0-3 1zM226 672l-6 7-4-6-2 0-4 1 0 2 4 3 2 0 2 3 10 4 6-3 1-1 0-4-3-4zM234 575l-1 1 0 4 1 1 1-1 3-4zM264 648l-2 0-1 6-3 3-3 0 4 3 1 4-1 2 4 4 7 2 4-1 1-1 1-6 1-7-1-3-2-5zM336 763l-1 3 1 3 4 5 8 6 6 12 6 5 6 3 1-1-1-4-2-5-6-4 0-3-6-3-3-3-3-3-4-6zM516 702l-2 2-1 2 1 2 6-2 3 0-1-4zM762 256l4 0 4 2 2 3 2 3 2 4 4 2-2 4-6 0-4 0-2-4 0-2-2-4-4-2-1-4zM466 280l6-2 2 0 3 2 2 2 1 6 4 3 8-5 6 1 4 2 6 5 0 6-4 4-6 4-8-1-6 1-5-2-16-12-2-2 0-6zM100 340l0-1 8 0 3 3 3 2 6 5 5 5 5 15 4 7 1 6 3 6 1 2-4 12-2 10-3 2-12 10-4 1-2-2-12 0zM168 538l0-2 6 1 8 7-2 0-2 0zM163 570l3-1 5 1 0 4-5 9-5-3-2-4 1-2z"/><path fill="#aaaaaa" d="M305 96l8 0 0 10 2 2-3 3-2-1-6-3-1-1 2-4zM100 118l0-2 6 0 4 4-1 4-9 0zM114 130l4-3 2 0 3 3 4 6 0 6-1 8 4 6 1 4 0 2-1 1-4 0-1 3-2 2-1 6-5 6 1 10 4 8-1 4-7-8-6 2-2-2-6 0 0-52 6 0 2 1 2-1 1-10zM189 138l1-1 2 0 4 2 2 0 5 3 2 2-1 3-2 2-4 2-2 0-2-1-2-2 1-4 0-2zM206 154l2-2 1 2-1 2zM212 166l2-2 8 3 4 0 3 7-3 4-7 0-2 2 0 6-6 4-3 2-4 2-2-2-7 4-3-10 4-6-1-2 1-4 0-2 1-4 7-2zM186 214l0-1 4 0 8 4 6 5 0 4-2 2-10-1zM804 250l6-2 28 0 0 586-738 0 0-53 6 0 0-1-6 0 0-131 6-1 0-2-6 0 0-14 6 0 8 3 4 0 6 2 2-1 1-2-7-2-2-4-2-6-8-6-2-1-6 0 0-39 6 0 2 1 4 15 2 3 8 5 0 6 1 6 1 2 2 1 2 3 0 4 1 2 4 4 1 6 8 2 2 0 6-6 3 0 7 7 11 9 1 2 2 3 4 1 1 8 5 6 12 8 8 2 4 0 12 8 6 2 2 2 8-4 0-2 0-4-4-6-3-2-1-3-6-1-2-4-7 4 1 4-4 1 0-1 0-4-4-2-4-3-4 0 0-1 0-2 4 0 0-4-1 0-3 3-4-5-2-4-5-2 3-2 2-4 0-1 4 0 5 3 3 5 4 2 2-1 3-6 2-6-5-2-1-6-2-4-1-2-4-6-1-6 3-4 8-2-3-4-1-2 2-5 4-2 0 3 6 1 2 0 4-8 2-2 4 0 9 9-4 6-1 4 2 2 5 4 1 1 2 2 5-3 0-4-1-6 2 0 8 6 2 4-2 2-5 4 0 2-2 4 1 6 1 2-4 6 1 5 4 1 2-1 1 1-3 1-4 1 0 2 6 2 1 4-1 1-6 1 0 4 4 2 1 4 0 2 3 4 2 2 2 0 3 0 1 2 2 1 7-3 0-6 2-6 0-6-2-6 2-2 7-3 6 3 1-4-2-2 1-4 2-3 4-1 6 3 6-2 2 3 4-2 2-6 4-1 2-3-6-3-2-5-10-2-6-1-4-3-1-4 2-2-3-4-2-2-1-4 1-2 3-4 3-4 1-4 0-4-1-2-2-4-10-5-4 2-6-1-2 1-6-1-6 5-6-1-4-3-2 6-4 1-2-1-4 2-6-3-2-2-2-2 3-12 3-6 1-4 1-1 2 1 4 2 1-2-1-3-6-3-4-4-2 1-4 3-2 2-6 0-2 2-2 3-2 2-6 1-5 2 6 12 5 6 0 4-4 0-2-1-2 1 1 8-5 3-3-3-2-6 3-2-2-2-2 1-3-3 1-2-2-1-2 2-1-1 1-4 0-2-5-4-2-2 3-2 1-2-1-2 5-4 2-6-6-6-7-10-2 0-6-1-4 1-2 0-4 2-3-4 1-2-2-4-1-6-1-1-2 0-4-3-8-4-4-2-2 2 7 8 5 4 2 2-3 6-7 4-2 6-6 2-2 1-4-2-2 0-4-1-8-12-12-1 0-20 6 0 2 1 4 2 6 5 2-5 0-4 3-2 0-4-5-1-4-2-8 2-6 0 0-11 14-1 10 2 12 1 6-2 6-1 8 1 6 2 6 0 6-1 10 1 6 3 2 1 7-2 4-4 1-2 10 3 4 3 4 1 16 7 14 3 8 3 8 3 14 1 12 4 5 4 5 6 11 10 2 6 5 3 7 11 13 9 4 5 14 9 5 5 2 2 6 6 2 6 6 10 13 7 14 5 10 9 8 6 6-1 4 1 12 4 2 2 6 1 6-1 2-1 1-2 7-1 2-1 3 2-3 2-2-2-5 2-1 4 2 2 8-2 2-2 6-1 8 2 10 1 8 3 6 0 12-5 12-3 6-3 12-3 4 1 6-2 2-2 8-10 1-6 1-4 12-4 14-8 6-2 12-8 10-3 8-5 10-1 2-2 6-5 3-6 1-4-2-8 2-10-1-2-5-6 0-4 7-18 8-8 4-12 5-10 3-12-2-6 1-8 10-10 4-6 8-8 1-4 1-6-3-14 0-6 3-6-2-6-5-6 0-6 6-18 0-6 0-6 1-6 11-12-1-6-1-4-2-8 0-4 8-8 9-7 4 1 2 2-1 6-6 16 0 6-3 8-8 12 0 18 4 10 2 2 8 4 2 1 2 1 1 4 5 3 4 0 2 3 4 1 12 0 12 1 16-6 2-1 7-13-2-18 3-18-1-4-7-8 2-6-1-6-6-4-1-6-2-2 2-4 3-2 3 0 6-3 4-7 0-2-3-12zM118 788l-2 2 0 2 2 4 0 2-4 4 0 2 0 3 6 0 4-3-1-2 1-4 0-2 0-4zM130 638l-2 2 2 1 2 0zM220 653l-2 1 2 3 2 1 1-4zM246 624l-1 4 1 1 2-1zM318 723l-2 3-1 0 1 1 2 2 3-3zM322 744l-2 4 2 1 6 3 1 2 4 6 1 6 5 8 8 6 6 12 7 6 5 4 1 2 3-2 0-4-3-6-5-6-1-2-13-10-5-8-1-4 0-2-1-5-4-2-7-9-1 0zM168 486l-7 4-1 2 1 4 5 3 2 5 6 1 6 3 2 2 2 1 2 0 4 3 1 0 0-4-2-2 0-4-4-6 0-2-5-6zM412 762l0 4 8 8 12 2 3-2-11-6-6-5zM454 660l-2 0 0 4 3 2 0 4 7 3 3 3 1 2 0 2-10-1-2-1-7-1-3-4-2 2-10-1-2-2-1-2-3-2-1 2 4 2-3 2-5-2-1 0 0 4-6 0 1 2-1 6 2 4-1 2 3 3 2-1 5 2 2 2-1 2-2 2-1 2 7 2 2 0 6-2 4 1 6 4 6-2 6 1 2-3 4-5 6 1 1-3 1-2-2-4-1-2 3-3 4 3 2 0 4-3 8 0 3-3 3-8 6-2 0-2-6-5-2 0-6 1-4-2-6 0-2-2-6-1-12 4-3-2zM504 690l-2 1-2 5 4 3 4 1 1 2 0 4 1 2 4 3 2 1 4-2 2-1 4-3-4-6-2-3-10-3zM510 672l2 4 3 6 5 2 6 5 2 1 2-6 0-6-1-2zM780 654l-2 0-4 4-3 6-3 2-14 2-4 0-2-3-4 1-2-2 1-4-1-2-4-1-6 1-8 10-18 2-4 0-8-4-6-1-2 1-2 12-6 2-8-3-16 1-2-1-2-1-8-2-8 2-16-3-12 2-8-1-4 2-2 6-4 3-2 1-6 0-10 5-9 3-10 12 0 2 3 4 1 2-2 4 3 12 2 12 4 6 9 12 3 2 9 6 11 7 10 1 6-4 2-1 2 1 8 3 24 3 6 3 6 4 8 0 4-1 2-3 16-6 2-2 10 0 12 4 2-3 0-6-5-2-2-4-1-2 1-4 1-1 4 1 2 4 6 1 6 3 4-2 2-2 6-1 10-3 6 1 12 4 8-3 4 0 2 0 6 2 10 2 4-2 2-7 2 0 6-3 12 0 4-3 1-3 1-6-1-8-4-10-2-12 0-2 7-12-2-14-7-14-3-3-8-3-6-4-6-3-6 0-4 1zM486 803l-1 2 1 5 4 7 1-3 0-4zM496 705l0 4 2 1 4 4 2 0 3-2-1-4-2-1-2 0zM465 282l3-2 6 1 2 1 2 8 2 3 4 0 2 0 6-4 6 0 7 5 1 4-2 2-6 6-14 0-4 0-15-12-2-2zM100 346l0-3 8 1 10 4 6 6 1 4 3 12-2 5-3 1 1 1 6-2 0 1 2 2 4 12-3 6-1 7-1 5-1 2-5 2-2 2-3 1-2 4-4-1-6 1-2-2-6 0 0-13 6 0 2-1 10 1 2-2-4-6 1-6-3-5-2 2-4-3-8 0 0-13 6 0 2 6 4 1 3-2-6-10-1-6-2-1-6 0zM100 364l0-1 6 0 1 1-1 2zM242 598l2-2 2 4 3 0-3 2-2 0zM277 616l3-2 5 2-3 1-2 4zM267 640l7 3 2 3-2 1-8-1zM752 672l2-1 0 1 0 4-4 2zM702 684l6-1 4 2 0 5 0 2-4 0-1-2-1-4zM716 730l2-2 2 1 1 3 4 4-1 2 0 1-4 0-4-3zM723 744l3 0 1 0-1 5-2 1-4-2z"/><path fill="#a2a2a2" d="M100 120l0-1 6 0 0 1 0 1zM118 130l2-1 5 7 1 2-2 4 0 2 0 6 4 6-2 3-2-1-2 8-4 2 2 4 0 2-3 4-1 2 0 10-2 1-6 2-6-1-2 0 0-38 8 0-8-1 0-7 8 0 3-4 1-5 2-1 0-4zM196 142l2-1 2 1 2 2-4 2zM212 168l2 0 6 0 4 4-2 1-2 1-4-1-2-2-3 3-1 5-2 2-4 0-1 3 1 3 2 3-2 1-2-1-4 0-2-1-2-3 5-6-1-8 0-2 4 1 2-2zM209 184l1-3 4 3 0 1zM187 216l3-1 2 1 6 3 2 3-4 3-4-1-1-4zM808 250l30-1 0 585-738 0 0-31 6 0 2-1-1-4 2-2-9 0 0-13 6 0 2-1 1-2-3-3-6 0 0-126 6 0 2-1 3-8-1-2-2-3-8 0 0-1 12 0 6 2 6 1 1 1 1 3 4 1 4-2 2-4 8 0 4-1 2 2 6-3 8 6 6 4 7 14 6 6 3 2 10 7 12 3 11 6 7 3 2 1 5 0 5-2 0-2-1-6-5-8-6-10-4-12-2-4-3 2-1 3-2-1 2-3 1-5 3-4 0-2 0-4-4 2-2 0-6-8-5-8 1-5 6-4 4 3 2-1 2-3-6-6-2-3 10 0 2 1 4-6 2 0 6 6-2 6 6 4 3 2-1 3-2-2-3 1 3 7 5 3 1 2-3 6 6 4 1 2-2 3-2-4-4 0-1 1 3 6 0 6 2 3 2 0 4-4 4 5-5 2 2 4 4 6 0 2 3 4 3 6 2 2 5 5 2-1-1-4 1-1 6-2 2-3 1-8 4-6-4-6 1-4 6-2 2 1 4 4 3 1 2-4 0-6-3-2-1-4 1-1 4-1 8 1 6 3 4-1 8 1 3-2 1-2 4-4-8-8-5-4-3-6 1-2-2 0-3 3-12-5-2-2 1-2-1-4-4-6 4-3 4-11-1-7-7-5-6-4-8-1-6 2-6-1-6 5-4 0-2-1-4-3-2-2-3 1 2 6-3 2-2 0-4 1-6-2-3-3 2-6 5-10 2-1 4 2 1-3 3-4-1-2-7-6-6-9-6 9-2 1-6 1-4 3-1 3-5 2-6-2-2-2-4 1-2-3-3-4-4-4-9-13-2 2-10-2-2-2-6-5-1-4-2-2 5-4 4 0 2 3 10 2 2 5 6-1 4 4 2-2 2-1-1-4-1-2 0-6-1-4-11-10-8-4 2-1 10 0 6 4 2 1 4-1 6-3 8 0 11 2 6 4 11 3 14 3 16 6 14 1 12 4 10 10 9 9 3 6 5 6 6 8 6 4 7 6 6 6 6 3 12 9 6 8 2 6 7 10 15 9 14 5 4 2 6 6 6 4 2 1 10 0 14 7 6 2 6 4 10-1 2-2 10-3 12 3 6 0 6 3 8 1 10-4 24-8 18-3 2-2 8-10 2-2 1-6 1-3 22-10 2-2 6-2 12-8 10-3 8-5 6 0 6-3 5-4 5-8 1-4-2-8 2-10-1-2-5-6 0-4 6-18 9-8 4-12 4-6 2-6 2-10-1-6 0-5 1-3 9-10 8-8 3-4 2-6 1-8-3-12 0-6 3-6-3-6-4-6-1-4 0-2 6-18 1-18 12-12-1-6-3-12 0-4 8-8 6-5 2-1 4 0 1 2 0 4-3 8-4 10 0 6-3 8-8 12 0 18 1 5 3 4 3 4 5 3 7 8 16 7 2-1 10 0 12 1 18-7 7-14-1-18 2-18 0-4-5-8 1-6 2-6 0-4-4-1-2 1-2-2 2-10 8-6 3-6 1-4-4-10 0-6 0-4zM112 783l-2 3 1 6 3 1 2 3-2 3-5 3 1 2-2 6 4 5 2-4 4-2 7-1 1-6 2-4-1-2 1-4-2-2-2 0-4-3-2 0-4 1zM220 614l-3 2 3 1 2-1zM222 602l-2 2 3 2 3 6 3-2-1-4 3-2zM310 734l-4 2-1 2 7 2 5-4zM322 720l-6 2-4 4 0 3 4 1 2 2 4-1 2-1 0-4 2-2-2-2zM306 591l0 2 3 1-3 2-6-3-2 1 1 4 1 1 4 2 2 1 10-1 0-3-3-4 0-2zM336 631l0 3 0 1 3 1 1 1 2-3 4 0 0-3-4 2zM388 741l0 3 2 3 4-2 0-3zM430 657l-3 7-7 1-1 1 0 4-2 2-8 4 0 2-1 4-3 2 3 3 4 1-1 2 1 4 2 2 7 6 3 3 6 1 12 0 5 3 9-1 4 1 2-2 4-5 2-2 4 1 5-1 1-4 2 0 2-2 0-4 2-2 2-1 10 5 1 2 0 2 2 4-3 0-4 3-6 3 0 2 4 4 2 0 10 5 0 3 2 2 4 0 2-6 16-6 1-4-2-10 1-2 5-4 1-2 0-10-2-2-2-2-12-3-12-3-6-5-14-1-10-3-6 1-8 3-4-4-2-1-6 2-4 0-2-3zM546 758l0 5 4 2 0-5zM702 465l-1 3 1 4 4 3 0-1 3-2zM777 654l-4 4-5 6-2 1-12 1-6-3-5-5-5-2-6 2-8 9-18 0-4 0-6-3-12-1-1 3 0 10-1 1-4 2-6-4-2 0-12 2-16-5-9 3-14-3-13 2-6-1-2 0-4 3-3 5-4 3-7 1-10 5-8 2-3 2-10 12 0 2 4 4 0 2-2 4 1 3 3 9 3 12 3 6 9 13 10 7 14 8 6 1 6-1 6-3 10 2 14 2 10 2 6 3 6 4 8 0 12-7 16-6 12 3 6 3 2 0 3-1 0-12 3-3 6 3 10-6 2 1 10-3 8 1 10 3 2 0 6-3 6 0 6 3 6 1 10 0 3-3 1-4 4-3 14-3 2-1 2-5 1-6-1-8-4-10-2-12 0-2 7-12-3-16-6-12-4-4-8-2-6-5-6-2-6-1-4 1zM220 619l-2 3 1 2 1 2 2-2zM322 740l-3 2 0 2 0 4 2 2 3 1 3 3 9 18 4 3 6 5 4 6 2 6 7 6 5 4 2 2 4 2 1-2-1-6-4-8-8-10-10-6-5-8-1-8-2-4-4-2-8-9zM412 759l-3 1 1 6 2 1 8 8 12 3 6 0 1 0-2-4-5-3-8-4-5-5zM430 750l-2 0 0 4 2 0 2 2 6 1 6 4 3-1-3-4zM550 766l-2 2 1 4 6 8 1 0 3-3zM484 801l-1 1 3 12 4 5 2 0 2-3-4-8zM467 282l1-1 4 0 2 1 3 10 3 3 4 0 2-1 6-4 4 0 4 2 3 2-1 4-4 1-2 5-10 1-6-1-16-12 0-4zM100 346l12 0 2 1 4 2 5 5 1 4 3 8-1 5-6 3-2 0-4-2-6-15-2-2-6 0zM100 484l0-3 12 0 6 1 18 1 12-2 8 0 5 3 1 2-2 3-4 5-2 3-6 1-4 3-9-3-9-6-8-5-6 0-6 2-6 0zM123 498l3 0 6 3 16 15-4 5-2 2-4-1-6-7-2-1-5 6 5 2 4 6 1 4-5 1-4-2-2 1-4-1-2-11 0-1-12-2-6 0 0-16 6 0 6 3 3 4 3 3 2 2 1-5 2-4zM190 550l2-3 4 1 2 1 0 3 4 3 7 13-5 2-2 1-3-3-1-4-9-6-1-2zM200 576l2-1 1 1 0 4-1 2zM100 582l0-2 6 0 2 2-1 4 2 6 10 8 1 10 0 6 0 2-2 1-10-5-8 0zM255 606l1 0 2 1 2 3-4 2zM124 618l2 0 1 6 3 4 0 2-4-1-2 1-4-2 0-4 0-4zM194 646l2-2 2 0 3 2 2 2-1 3-4 2-2-2zM202 652l2-1 4 1 4 8-1 4-7-4 0-2zM439 666l3-2 1 2-2 4-3 1-2 0-3-1zM448 670l2-2 2 4 0 4-2 0zM506 678l2-1 2 1 0 2-1 2-1 2-6-2zM509 688l1-3 6 1 4 2 2 5 2 1-4 0-4-2-6-1zM708 760l0-2 4 1 1 3-1 2z"/><path fill="#9b9b9b" d="M113 142l1-3 4 3 3 6 2 6-3 2 1 6-1 2-4 4 1 4 0 2-1 4-2 8-2 4-6 1-6 0 0-5 0-17 8 0 1-1-3-3-6 0 0-4 6 0 2-1 1-4 3 0 2 1 2-1 1-2-2-4zM202 174l6-2 0 2 0 2zM806 252l2-1 2-1 28 0 0 584-147 0-1-6 0 6-590 0 0-22 6 0 6 5 2-2 4-4 11-3 2-4-1-6-2-2 1-6-3-3-3-1 1 0 8-2-3-4-3-1-6 4-2 1-6-3-4-4-2-1-6 0 0-3 6 0 1-1 2-4-1-3-2 3-6 0 0-113 6 0 2 1 2-2 1-8 3-6 4 1 2 0 3 1 3 6 3-2 8-4 1-1 4-1 8 1 4-2 2 0 12 7 3 6 0 2 3 4 1 2 6 6 5 3 4 3 6 4 14 5 18 8 12-1 1-4-7-14-4-6-1-6-3-4-2-6-4-6 0-2 1-4 2-8 1-4 0-6 2-3 2-2 4 1 2 2 4 5 2 3 0 1-6 2 0 3 3 4 0 2 4 10 1 6 2 1 2 0 8 11 0 2 3 4 4 8 7 7 3-1 1-6 8-2 0-6 1-4 0-2 3-6 0-4-2-3 4-2 2 4 8 1 0 4 2 0 0-1 0-5 1-6-1-6-3-4 3 0 7 0 7 4 4 0 2 1 6-1 4 3 2 1 8-2 4-3 7-3-1-7-1-1-1-1-4 2-8-1-6-3-4-5-4-2-1-2 0-4 4-6-2-2-1-4 0-2-3-4-3-6-4-1-4 1-2-2 0-4 1-2-1-2-1-4-5-6-6-3-4-2-6-1-2-1-6 2-6-1-4 2-2 3-4 0-2-1-4-4-2-1-6 1-1 2 3 4 0 3-6 0-6-3-1-4 1-2 2-4 2-3 2-1 4 1 2-3 3-6 0-2-6-6-7-10 0-2-2-2-2 0-4-3-2 1 4 4 1 2-3 6-2 3-10 2-2 6-4 2-2-3-10-2-2-2-10-12-1-2-2-4-3-4-2 2-4 0-8-3-5-7 0-2 1-1 6 3 4-1 2 1 4 5 2 1 4-2 2 1 4 4 4-3 1-2-1-6 1-6-1-4-10-8-3-4 3-1 6 4 2 0 4 0 6-4 8 1 3 1 3 2 6 0 30 9 12 3 4 2 2 1 10-1 14 5 10 10 8 8 4 7 4 5 6 8 5 4 7 6 8 8 6 3 14 13 4 8 8 11 18 10 12 4 16 12 2 1 10 0 20 9 4 3 2 2 10-3 12-4 2 0 10 4 6-1 2 2 12 2 10-4 6-1 6-3 7-2 11-3 12-2 2-2 9-11 3-9 12-7 18-8 12-8 18-7 6-1 6-3 6-5 5-8 1-4-2-8 2-10-1-2-5-6 0-4 6-18 9-8 4-12 6-12 2-10-1-12 1-2 10-9 7-9 5-10 1-8-3-10 0-2 0-6 2-6 0-4-7-8-1-4 1-2 6-18 1-6 0-10 2-2 8-10 2-2 0-4-4-14 0-4 6-6 2-2 5-4 2-1 4 1 0 4-3 8-5 10 0 6-2 8-7 12 0 22 2 6 11 8 3 7 19 10 2-3 4-1 6 0 8 1 6 0 16-5 2-3 6-14-1-18 2-18 0-4-3-6 0-6 1-12-1-6-3-2 7-10 2-6 0-6-3-8zM118 659l-3 1 0 4 3 0zM222 764l-2 2 2 2 6-2 0-1zM316 719l-1 1-6 6 0 4-3 2-4 0-1 4 3 3 12 5 4 6 6 4 10 18 11 12 5 9 6 5 5 3 2 3 7 6 2-2-2-4-5-14-5-6-14-10-4-8-1-10-2-2-5-3-6-7-2-2-4-1-2-3-1-2 5-6 2-6-4-4zM390 738l-2 1-3 3 3 4 6 6 2 1 2-3 0-2-1-6zM432 653l-6 4-2 5-6 2-3 2 1 4-1 2-7-1-2 5-1 6-2 2 5 7 4 6 12 9 6 2 12 1 6 2 6 1 2 1 7 0 2-5 1-3 2-3 2 0 9 4 1 2 18 10 2 2 3 4 4 2 2 0 1-6 2-2 8-5 6-1 2-6 0-10 5-6 1-2-1-10-1-2-4-3-18-6-5-1-3-2-6-3-12-1-6-2-4-1-8 1-4 2-2 1-4-4-8-1-6-2zM546 755l-1 1 0 4 1 10 8 10 2 2 2-1 2-3-1-4-2-2-1-4-4-2-1-6zM702 462l-2 4 0 2 1 4 1 3 6 6 8-1 3 0 0-2-3-6-2-2-2-1-1-3-3-3zM790 651l-4 1-6 0-6 2-3 4-3 4-2 2-4 0-8 0-4-1-5-5-3-2-4 0-7 2-7 8-4 1-6-1-6-2-6 0-6-2-8 0-4-1-2 3 0 2-4 0 0 2 4 0 0 2 0 5-4 2-8-5-4 2-8 2-16-4-8 2-16-3-6 2-6 0-6-1-2 1-5 3-4 6-3 2-6 1-10 4-8 2-4 2-6 7-4 6 0 2 3 4 0 8 3 10 3 12 4 8 9 12 6 4 2 2 16 8 10 1 8-3 4 0 15 4 5 0 10 2 6 3 2 3 3 1 9 0 4-1 2-2 4-1 2-3 16-6 6 1 11 6 4-1 6-3 0-3-2-3 0-3 1-2 6 1 10-5 14-3 6 1 10 3 14-3 6 3 16 1 4-2 4-7 6-3 10-1 2-7 2-6-2-12-3-6-3-12 1-2 7-12-4-16-6-14-4-3-8-2-10-6zM406 756l-1 0 2 4 5 9 8 6 16 4 2 2 4 3 0-4 0-1-4-5-6-3-8-5-6-7zM426 748l-1 2 1 4 3 2 9 3 12 8 1-1-3-6-3-4zM484 798l-2 0-1 4 7 18 2 1 2 0 4-1 0-4-8-14zM526 735l-2 1-1 2 5 4 3-4zM467 286l1-2 4 0 3 8 5 5 6-1 6-3 3 1-3 7-4 3-4-1-10-5-8-6zM100 348l0-1 8 0 7 1 7 6 1 4 3 8 0 4-2 1-6 1-4-2-6-15-2-2-6 0zM142 484l6-1 8 0 2 1 1 2-5 8-4 2-3 0-3 2-2 0-6-2-3-4-3 0-8-6 2-1 6-1 6 1zM100 504l0-1 6 0 2 3 4 1 2 3 0 4-1 2-1 1-4-1-2-1-6 0zM128 504l2-1 6 2 3 5 6 6-3 2-4 1-6-6-4-3zM123 514l1-2 2 2-2 2 0 1zM124 522l2 0 3 4-1 2-2 1-2 0-1-1-1-2zM192 552l0-1 4 1 0 4 0 2-4-1zM200 562l2-2 1 2 1 3-2 3zM100 594l0-1 6 0 2 1 4 2 4 4 2 6 0 6 0 3-4 0-2-2-4-1-8 0zM300 604l4-1 1 1 2 2-5 0zM205 616l3-3 2 3 5 6 2 6-1 1-2 0-5-5zM100 808l0-2 6 0 0 2 0 1z"/><path fill="#939393" d="M114 160l4-2 0 2 0 2 0 1zM100 174l0-1 6 0 2 2 4-2 1 1 1 4-2 6-1 2-3 1-8 1zM807 252l3-1 6-1 22 1 0 475-6 0-4-1-3-5-2-12 0-2 6-9 1-3-3-16-7-14-6-5-6-1-6-5-6-2-16 0-2 1-6 4-4 5-2 2-3 0-3 1-6-1-4-2-3-3-5-3-6 0-6 2-6 8-4 1-6-1-6-4-6 1-2-1-6-1-6 1-4-1-2 0-6 3-1 7-17 5-16-4-8 2-16-3-6 2-6 0-6-1-2 1-6 4-4 5-2 2-6 1-10 4-12 3-7 9-5 5 1 3 2 4 1 2 0 6 3 10 2 8 4 10 1 2 9 12 5 4 2 4 12 4 4 2 8 3 16-4 12 2 2 2 6 0 10 2 4 3 3 2 5 2 6 1 6-1 6-3 5-5 13-5 6 1 8 5 4 0 8-1 6 4 6 2 4 6 2 1 2-3-2-3-13-9-2-6 1-2 2-1 10-6 14-3 6 0 6 3 4 1 5-1 7-2 2 0 6 3 12 1 6-1 4-1 2-5 6-4 4-2 6 0 1-2 4-12 1-7 6 0 0 103-143 0-1-12-3-6 0-2-3-1-4 1 5 6-1 2-5 6 0 6-43 0 0-6-4 0 0 6-536 0 0-19 6 0 2 3 4 0 4-2 2-3 2-1 10-3 2 1 2-2-1-10-2-2 1-6 4-3 2 0 2-1-3-6-7-6-5 0-6 4-1 3-4-1-6-6 4-2 0 2 2 2 1-2 0-3-3-3-2-6-2 0-8 0 0-96 0-8 6 0 2 1 6-7 4 2 1-2-1-2-4 0-1-2 0-2 1-4 6 2 4 4 0 4-2 2-4 1-5 5 1 9 4-2 6 0 0-4 3-3 1-6 1-2 0-4 3-2 6-2 4-2 2-1 10 2 6-1 6 4 4 6 0 2 1 4 7 8 8 4 4 3 12 7 20 7 6 3 10 0 5-2 0-4-9-16-3-4-1-6-9-16 2-12 3-6-1-6 3-3 4 1 2 2-1 10 0 2 2 4 0 2 5 16 4 3 2 1 6 8 7 14 9 8 6 2 0-4 0-3 2-2 6-2 1-1 2-6-1-6 2-6 2 0 4 1 6 1 4-2-3-6 2-6-2-6 1-3 6 1 4 2 8 3 6 1 4 2 2 0 4-1 2 1 4-1 6-6 2 1 4-2 2-3 4-2 2-2 1-7-3 0-4 7-2 0-1-3 1-4-4-1-6 4-8 0-4-3-1-2 0-4-4-2 1-16-1-2-7-6-2-6 0-6-2-4 0-2-2-2-2-1-4-1-2 2-4-3-2-4-5-1-5-4-2 1-6-2-10 3-2-2-10 5-2 0-4-5-6-2 5-14-10-10-3-6-1-2-9-7-5 1 0 2 6 6-3 7-10 2-1 1-1 5-4 1-2-2-6 0-3-2-9-8-2-4-1-2-2-4 1-2 0-1 4 2 6-3 2 4 4 0 2-2-2-3-4 1-1-2 1-6-3-2 2-4 3-2-2-3-5-3-2-4 5-1 6-5 12 2 2 3 6 0 10 2 31 9 5 3 2 0 10-1 14 6 16 16 5 8 4 4 6 8 11 10 6 8 8 4 15 12 3 8 10 12 6 3 12 7 12 4 16 12 2 1 10 0 20 9 4 4 6 0 18-6 2 1 10 4 6 0 14 2 10-4 6 0 6-4 8-1 11-4 5-1 8-2 10-13 4-8 14-8 6-2 6-4 6-3 8-7 16-5 6-1 8-4 7-6 5-8 1-4-3-8 2-10 0-2-5-6 0-4 0-2 6-16 9-8 4-12 6-12 2-12-1-10 1-2 8-8 10-11 4-9 1-8-3-10-1-2 1-6 2-6-3-6-5-7 0-3 0-2 7-22 0-8 1-4 8-8 2-3 3-1 1-6-4-5-2-9 0-4 6-4 2-4 6-5 3 1 1 4-4 8-6 10 0 10-1 2-7 14-1 6 1 18 1 4 11 8 2 5 4 4 6 3 9 7 3 1 2-2 1-2 3-1 6-1 8 1 6 0 6-3 11-2 3-4 4-14 0-18 3-18-4-16 0-2 2-6 0-6 0-4-2-2 0-4 5-6 1-6-2-14zM688 801l-2 1-1 2 3 3 2-1 1-2zM144 716l-1 2 1 2zM228 762l-11 4 4 2 1 1 5-1 4-2 3-4zM276 765l-1 3 1 2 2-2zM288 674l-1 4 1 4 6 5 1-3 0-2-3-2-2-2zM312 694l-2 3-2 5 1 4 2 0 2-4 5-2 0-4zM216 512l-6 4 4 4 6 2 2-2-2-5zM282 546l-5 4 3 7 2-1 4-4zM378 813l-2 1 2 3zM384 737l-2 1 1 4 4 6 6 6 7 1 6 4 4 9 10 8 16 4 2 2 6 9 2-1-1-6-3-7-3-3-15-9-6-7-16-8-4-8-4-5-4-1zM432 651l-2 1-6 7-10 5-8 5-1 3-3 4 0 8 10 15 12 8 6 2 12 1 24 8 3 0-2-4 0-2 1-2 6 0 6 2 6 3 4 0 2 2 4 3 6 3 3 3 5 4 1 0 0-10 3-2 6-4 6 0 2-2 1-10 4-8 2-4 0-2 1-6-2-6-6-5-6-1-8-3-4-1-2 0-12-6-6-1-16-4-6 2-8 0-4-2-6 0zM544 752l0 10 2 10 10 10 2 0 2-2 2-3-1-3-3-2-5-10-1-6-2-2zM718 453l-3 1-3 3-10 3-3 6 1 6 2 5 6 8 4-2 2 0 1 3 3 3 6-4 1-5-5-12 4-8-1-4zM316 716l-3 2-1 2-6 5-6-4-3-1 0 6 2 4-2 2 2 4 5 3 12 6 4 5 5 4 10 18 12 12 5 11 3 3 6 4 3 2 12 9 0-3-4-8-4-12-5-6-11-8-4-4-3-6-1-6-2-6-5-4-7-8-6-4-1-2 5-6 1-4 0-2-5-6zM418 743l-1 1 10 12 15 5 12 11 2 0-3-6-7-10-15-8-7-2zM456 772l0 2 4 3 1-3zM478 789l-2 3 1 6 4 6 5 16 4 2 6 2 1-1 0-3 0-4-2-2-6-12-3-3-8-7zM520 732l-2 0 6 10 4 1 6-1 3 0-3-2 0-2zM100 348l12 0 6 3 3 3 3 8 1 4-1 4-6 0-2 0-2-3-2-7-3-6-3-2zM127 486l3-1 8 1 6-2 10 0 2 2-1 4-2 2-3 2-6 0-2 2-6-5zM100 508l0-3 6 0 2 4 4 1 0 3-4 2-2-2-6 0zM169 514l3-2 1 2zM235 562l3-3 2 3 2 6-2 1-4-1zM309 582l1 0 2 0 2 4-4 0zM100 598l0-3 8 1 3 2 3 3 3 5 0 4-2 2-1 1-2-2-4-1-8 1z"/><path fill="#8c8c8c" d="M810 252l10-1 17 1 1 472-6 0-4-1-2-6-2-11 7-10 0-2-5-21-4-9-6-5-8-2-6-5-6-2-16 1-6 2-3 1-4 6-5 3-6-1-2-1-5-3-7-4-4 0-8 2-6 8-4 1-6-1-2-3-4-2-2 0-4 2-2-2-6-1-6 1-4 0-6 0-3 1-1 6-2 2-14 6-4 0-12-4-6 2-6 0-12-3-6 2-12-1-2 1-6 4-4 5-2 2-10 1-6 4-12 3-6 6-6 7-1 3 0 2 3 12 5 10 1 8 5 12 9 12 3 4 5 6 11 2 5 6 14 0 4-2 6-1 6 1 2-1 6 3 6 0 6 1 6 3 3 2 3 2 4 1 6 1 12-2 6-6 6-2 2-3 4-1 2 0 12 6 12 0 10 5 4 5 4 4 2 2 2 7 3-7-4-6 0-2-2-4-8-6-4-2-2-4 1-2 4-3 6-4 14-4 6 0 6 3 4 1 6-1 6-2 2 0 6 3 18 1 4-2 3-4 6-6 3-1 6-1 2-2 4-11 6 0 0 95-138 0 0-6-3-2 0-4-3-6 1-6-1-2 1-4-1-2-6-6-4 0-3-1-3-1 0 2 0 1 4 5 1 6-2 2 3 10-5 8 0 6-30 0-1-7-1-1-1-1-4 1-6-1-2 3-1 6-368 0 0-6-3-2-2 2 0 6-133 0 1-8-2-2-2 2 1 2 0 6-25 0 0-14 6 0 2 1 6-2 4 3 2-2 4-6 5 0 1-2 2 1 4-1 4-4-2-3-2 1 0-4-2-6 0-4 2-3 6-1 1-2-4-5-1-4-2-1-4-3-4-1-2-3-5 3-3 2-1-2-3-4-2-5 3-3-1-4-2 1-2 3-2 0-2-1 0-1-6 0 0-98 6 0 6 3 0 3-2 6 2 3 2 1 6-4 6-2 0-2 3-8 2-8 0-4 1-1 12-4 10 2 6-1 4 2 2 1 2 5-1 2 11 15 6 1 2 1 4 3 3 2 3 2 12 6 8 2 12 5 10 1 6-3 0-1 0-4-3-6-1-2-8-12 0-6-2-4-8-12 3-12 2-2 1-8 4-2 0 4-1 6 2 6 3 12 3 6 3 2 4 4 5 6 5 8 2 6 10 9 6 4 2 0 2 3 1 2 1 1 6 3 0-4-5-2-5-13 4 0 6 1 6 6 2 3 6 1 4 1 2-4 3-1-2-4-1-3-6 5-2-4 3-6-2-6 0-4-1-1-4 1-2-1-3-1 3-2 6 0 6 3 1-1 1-4-5-8 2-6-3-6 0-1 4-1 2 1 4 2 18 8 8 0 6-3 4-4 2 3 4 0 4-3 6-6 0-12-9-6-1-4-2 4-6 6-10 1-2-1 0-6-3-2-2-12 0-6-3-4-4-6 5-6-7-6-1-2 2-4 0-2-1-4-2-2-4-1-2 0-2 3-4 4-2 0 1-4-5-2-4 0-2-6 1-4-1-3-3 1-1 3 0-7 0-1 3-1-1-4-2-1-6 1-2-1-2 1-5 6 0 4 2 2 0 4-1 1-6 0-4 1-2 3-4 1-2 0-4-3-3-1 0-6 3-8 0-4-8-4-5-8-1-2-3-4-3-1-4-3-5-2-3-5-6-3 0-4 6-2-2-4-2 0-8 0-4 1-2 0-5-3-1-4 6-3 8 0 6 3 4 1 2-1 10 1 12 5 18 4 8 5 12 0 6 3 6 1 8 9 6 6 6 8 4 6 3 4 16 14 3 6 7 4 7 6 10 6 2 8 11 12 14 7 9 6 8 2 10 8 6 4 2 1 10 0 6 3 6 3 7 2 5 5 6 0 18-6 4 1 8 6 2 0 12-1 6 1 4 0 6-4 6 0 7-4 5-1 2 1 4-1 8-5 4 1 6-2 2-1 5-4 7-10 4-8 12-7 6-2 4-3 8-4 8-7 16-5 6-1 12-5 6-7 3-7 1-4-3-8 2-10 0-2-4-6-1-4 0-2 6-16 9-8 9-22 2-12 0-12 1-2 7-7 11-11 4-10 1-8-4-10 0-2 3-12-1-4-8-12 1-2 7-18 0-12 1-4 3-3 4-2 0 3-2 6 1 14-2 6 1 4 2 2 12 8 4 8 8 3 2 4 10 6 2-2 5-5 20 0 18-6 3-4 3-14 0-16 3-20 0-4-3-8-1-6 2-6 0-10-1-6 3-4 2-8-3-18zM592 781l-2 3 0 2 2 1 2 0zM138 816l-2 4 2 0zM120 760l-2 2 2 3 0 1 4-1 2 3 4 0 0-2zM144 714l-2 3-1 3 1 4 1 0 4-4 3-2zM214 717l-1 1 1 2 6 1 0-1zM226 761l-11 5 3 2 4 2 4-1 3-1 5-3 1-3-1 0-2-2zM276 765l-1 1-1 1-2 5 2 1 2-1 5-4zM288 774l4 1 1 3 5 0 1-4zM298 710l-3 2 3 1 2-1zM316 682l-3 2-1 2-1 2 1 0 1 2-1 1-2 0-3 3 1 2-4 10 0 2 2 7 1 0 2-7 7-2 0-4 2-1 2-1-1-6-2-4zM328 702l-4 2-2-1-2 5-2 3-6 4-1 5-1 2-4-1-2-2-6-1-3 2 0 12 3 4 18 10 3 4 5 4 10 18 12 12 2 2 1 6 5 9 6 2 11 7 7 7 2-1 0-2-3-4-4-6-4-14-4-6-14-10-2-2-6-18-7-5-3-5-3-4-3-2 7-2-4-4 0-2 1-4-5-8 0-4 2-2 2 1 1-1 1-6zM264 536l0 2 6 1 2-1-2-2zM342 598l-2 6 6 2 0-2zM382 732l-2 0 1 6 1 4 3 6 9 7 8 2 4 3 3 8 11 9 13 3 5 4 4 6 3 3 2-3 0-4-3-5-4-7-4-3-12-7-6-6-14-8-5-8-5-6-4-1-2 0zM430 650l-3 2-4 6-5 1-10 6-6-3-2 0-4 2 0 5 4 9 0 6 12 17 11 7 9 3 10 0 6 3 2 0 16 6 3 0 3-2 0-4 2-1 6 1 5 4 5 4 6 1 6 2 14 10 6 7 12 3 6 3 2 6 2 14 1 4 5 6 3 3 3 2 2 0 6-5-1-4-9-12-1-6-2-2-5-4-1-2-4-4-1-2-8-7-6-3-10-1-1-1-2-6 0-4 3-3 4-2 6 0 4-3 0-10 4-8 3-4 0-6 2-2-1-9-4 0-6-4-12-2-20-9-6-1-6-2-10-2-2 1-4 1-8 0zM712 453l-8 3-4 5-2 5 1 6 3 7 4 5 2 4 6 4 4 1 4-1 2-2 3-10-1-2-4-10 1-2 3-4 0-2-2-6-4-3zM738 473l-1 1 1 2 4 1 1-3zM796 479l-4 3 0 2 4 0 2 3 4 1 2-2 0-2-2-3zM402 729l3 7 8 6 2 2 11 13 6 3 10 2 12 12 6 4 8 5 4 0 0-3-4-3-6-3-6-4-2-4-7-10-15-9-8-4zM474 784l0 9 0 2 5 9 1 4 4 6 2 8 10 4 2-2 1-2 0-6-3-3-8-15-8-6-2-4zM732 288l1 0 2 4-3 6-2 5-6 6-4-9 4-1 2-6zM107 352l1-3 4 1 4 2 2 2 1 6 3 6-4 2-4-4-1-6zM143 486l7 0 4 0 0 4-4 3-2 0-6-3-4 0 0-1zM201 504l3 1 2 3-1 2 3 4-1 2-3 1-3-3 3-4zM213 522l3 1 4 3 4 6-2 2-6 1-2 2-2 3-2 2-2-1-6 0-4-4-4-3-4-6 2-2 4 0 6-1 6 1zM237 562l1 0 1 2-1 2zM100 598l0-2 6 0 4 2 4 6 1 2 0 4-1 0-2-1-4-1-8 1z"/><path fill="#848484" d="M814 252l8 0 16 0 0 386-6 0-4-2-2 4 2 3 10 0 0 48-6 0-6-21 1-6-1-2-4 1-2-4-6-4-6 0-5-3-1-3-4 0-20 2-6 2-4 3-2 4-4 2-7-2-7-4-6-2-4-1-8 2-3 3-3 4-4 2-2-1-4-2-1-3-7-3-4 3-8-1-6 1-13-1-2 3-1 6-2 2-12 5-4 0-12-4-6 2-6 0-6-1-6-3-6 3-12-1-2 1-5 2-5 7-2 3-10 0-6 4-12 2-12 13-2 5 0 2 3 12 3 4 2 6 1 8 4 12 4 6 8 12-1 4 6 1 2 4 10-1 2 4-2 6 2 3 6 0 6-3 0-3 6 0 10-5 6 2 2-1 6 2 6-1 6 2 4 2 3 2 9 5 6 0 6-1 2 0 7 12 0 6-1 2 4 6-1 4-5 6-1 2 0 6-21 0 0-6-8-7-4 0-2 2-4-2-6 5 0 8-125 0 0-5-5-13-4-5-1-3-3-4-1-2-5-6-6-5-7-11-5-4-8-5-3-3-1-2-5-6-7-6-12-8-6-2-12-9-5-6-9-4-2 1 4 10 15 12 9 10 6 3 8 1 13 12 10 7 9 5 1 10 5 8 0 4 6 8 1 7 10 5 0 6-228 0 0-6-2-2 0-4-3-4-3 2-1 2-3 0 1 4 3 2 0 7-130-1 0-8-3-3-2 1-3-2 3-4 6-2 2 4 6 3 6-6 2-1-1-2-2-4 0-2-1-4-7-8 1-4 2-1 4 0 2-1 0-4-1-2-3-4 0-2-1-4-3 0-4-6 0-2-4-4-1-2-9-3-4-3-2-1-6-4-6 0 0-71 6 0 2-1 4 2 2 0 10-8 4-1 5-18 0-4 11-4 12 2 4-1 0 4 2-1 1 0 1 4-1 2 1 4 2 1 2 0 3 5 3 6-2 1-2-1 0-4-2 0-2 0-4-1-2-3-4 0 0 2 3 2-1 4 4 2 4-1 2 1 0 7 4 1 2 4 6 3 1-5-4-6 0-4 7-1 5 5 3 1 4 3 3 2 3 3 2 0 4 1 2 1 4-1 2 0 16 7 12-1 1-2 0-6-3-6-1-2-7-12-3-12-3-3-5-7 3-11 2-2 4 5 2 8 0 4 6 8 6 6 3 4 8 14 7 8 12 8 1 2 3 3 6 3 2 6 4 5 2 1-1 6 1 4 0 8 2 4 10 7 10 4 2 4 5 3 13 20 7 6 4 6 1 12 3 3 2 9 1 2 4-4 2 1 4-3 3 2 11 10 4-2-1-2-3-4-4-6-4-14-3-6-15-10-2-2-6-18-8-6-1-4 5-2 2-3 1-3-5-4-4-1-2-1 1-4-6-8 1-2 4-2 2-8 0-2-4-4-2-1-4 1-2-3-6-19 0-2 0-3-3 3-1 2-2 2-4-3-2 2-1-1 2-2-3-6 2-4 4-2 1-4-3-2-2-6 2-6-2-3-2-3 3 0 5 3 7 3 4 2-3 4 3 2 1 4 2 1 2-1 2-6 2-2 6 0 6-1 4-3 2 1 4 0 6-5 7-6-2-12-3-2-5-4-1-2-1-4-2-2-2-6-4-4-1-6-2-1-2-1-2 2 1 4-3 2 0 4 2 2 8 6 2 4-1 2-5 4-6-1-5-5-1-4 2-6-3-6 1-2-2-7-4 1-1-4 1-1 4 0 0-1-4-8-2-2 2-2-3-6-1-6-2-2-6-2-2 0-4 4-7-4 0-2-5-6 0-6-2-8-4 1-12 0-6-3-6-1-2 0-2 1 4 6 4 1 3 3-1 6 2 2-2 2-6 2-2-1-6 3-4-2 0-4 2-8 0-4-2-2-2 0-6-3-6-12-6-3-4-3-2-1-3-2-3-6 2-6 0-4-4-2 4-2 4 0 10 2 8 4 9 2 5 2 4 0 8 5 5 1 6 6 1 1 4-1 2-1 4-2 2 1 6 7 4 1 3 4 0 2 9 12 18 16 3 6 1 2 2 4 6 1 8 7 8 4 1 8 7 5 6 7 14 8 6 4 12 5 12 9 6 3 10 1 6 2 6 4 6 1 2 4 4 1 6 0 14-5 6 0 5 3 1 2 4 2 8 2 4 0 2-3 6 2 6-2 4-3 8-2 6-4 4 1 2 1-3 10 0 6-1 2 0 6 2 4 0 1-6-1-6 3-6-1-6 1-6-2-4-3-7-2-7-3-6-1-6-3-6 0-4-1-2 0-4 2-8 0-10-3-8 0-10-3-2 0-4 1-6 8-2-1-5 4-5 3-6-3-2 0-4 2-2 4 5 18 5 10 8 9 8 6 12 3 10 1 6 2 2 0 18 9 4-1 2-4 4-2 6 3 6 6 6-1 6 1 14 11 6 6 12 3 3 2 3 6 3 14 1 4 8 10 4 3 2 0 8-5 3-2-3-4-1-2-3-3-6-7-3-8-4-4-3-4-8-8-10-6-2-2-6-1-4-1 0-2-1-6 2-2 3-1 6 0 2-1 3-4 0-4 1-5 2-3 2-6 3-4 3-8-1-10-1-2 0-2 4-1 0 3 2 1 3-1 1-4-3-2 1-4 2-2 3-4 1-2-4-4-1-2 3-2 4 1 6 5 1-2-1-4-4-2-4-6-1-2 3-4 6 0 8-3 6-6 12-17 10-6 6-1 5-5 7-3 8-7 12-4 10-2 12-5 6-7 3-6 2-6-3-8 2-10 0-2-5-10 0-2 6-16 7-5 2-3 9-22 3-14-1-10 1-2 7-6 11-12 5-10 0-8-4-10 0-2 3-12-3-6-6-10 5-16 3-4 0-12 3-5 1 7 0 12-3 6 1 6 7 4 6 4 4 3 2 5 10 5 12 11 2 0 5-8 1-1 4-1 14 1 12-5 6-1 4-1 4-18-1-10 4-26-3-18 1-6 1-10-1-6 6-12-3-5-1-13 0-2 1-2zM658 810l0 4 8 6 2 0-1-4-5-6zM142 714l-2 6 0 4 2 1 2 0 4-2 6-2 3-1-4-2zM186 748l0 2 4 4 2-4zM210 712l-2 2 3 6 9 3 2-2 1-1-1-1-2-2-4-4zM229 759l-23 9 2 1 6-1 8 2 6 0 3-2 4-2 1-4-2-1zM274 765l-3 7 3 2 2 0 4-2 2 0 2 0-2-4-1-2zM286 774l8 5 4 0 1-1 1-4-2 0zM312 654l-2 4 0 2 2 3 4-1 0-2zM382 729l-4 1-1 2 6 16 5 2 6 6 8 2 4 4 2 7 12 9 10 2 6 4 2 2 4 6 2 2 4-3 0-5-6-11-6-5-12-8-6-5-12-7-6-10-4-4-2-2-6 0-2-2zM514 647l-2 1 2 4 2-2 2-2zM504 789l-6 2-1 1 2 4 3 2 2 0 2-2zM718 450l-12 4-6 5-3 3 1 10 4 8 4 4 2 6 4 3 6 2 2 0 6-3 0-6 4-8 2 0 4 0 3 2-1 4 4-1 3-6 1-5-2-2-4-2-4-5-5 3-1 5-4 2-1-5 1-2 4-4-5-8zM736 410l-1 2 3 0 1 0zM756 405l-2 2-6 0-4 1 0 1 4 2 2 0 4 3 2 4 4-6 0-5zM796 474l-5 4-1 4-6 2 1 2 5 4 6 0 6 2 2-1 4 0 3-5-5-6-4-3zM804 453l-2 2-2 1 1 4 5 2 4 0 0-6-2-2zM729 292l3-2 1 2-1 3-2 4-3-1zM205 492l3-1 2 0 3 1-2 4zM195 528l7 3 6-3 8-1 6 5-2 1-6 2-4 4-6 1-2-1-4-4-2-1zM100 598l6-1 2 1 2 2 1 6-5 2-6 0zM285 688l3-1 6 5 5 2 5 2 0 6-6 4-6 2-2-2 0-6-2-1-4-5zM830 700l2-3 6 0 0 25-4 0-6-1-2-6-1-9zM831 742l1-1 6 0 0 93-137 0 0-8-4-10 6-2 2-4-1-2-4-4-10-10-2-1-3-1-1-2-2-4 0-2 6-2 3-4 5-1 12 5 12 1 6 5 4 1 2 3 4 4 2 2 1 6 3 3 4-9-1-3-2-3-1-2-2-4-8-6-5-6 1-2 2-2 14-6 10-2 8 3 10 0 8-2 4 2 6 1 14 0 4 0 2-4 2-2 7-6 7-1 2-3zM100 822l6 0 2 1 6 0 4 1 2 2 2 2 0 4 0 2-22 0z"/><path fill="#7d7d7d" d="M818 252l4 0 10 2 6 0 0 374-6 0-4-1-2 2-6-1-4-3-1 3 2 6 1 2 4 4 2 2 4 3 10 0 0 17-6 0-7-4-7-4-2-3-6-1-6 0 1-4-3-3-4 1-6 4-12 1-8 3-4 1-2 6-4 2-6-1-12-6-6-1-8 1-8 4 0 2-2 2-3-2 2-6-5-1-2 0-4-3-3 2-5 4-12 1-12-1-4 2-1 8-5 2-5 2-3 2-4 0-12-4-6 2-6 0-6-2-2-2-2-2-4-2-5 2-2 2-11 2-6 5-4 6-2 1-4 1-6-1-2 1-3 3-3 1-10 0-7 9-1 2-4 4-4 6 0 6 1 6 2 2 5 6 1 4 5 24 1 2 2 4 1 2-2 1-2-5-1-4-4-4-1-2-2-4-10-7-9-5-1-6-2-1-4 2-3-1-3-6 4-2 6 1 2 4 4-2 1-3 3-4-3-6 1-2 3-6 0-6 7-6 1-6 7-6 4-1 2 0 4 5 2-1 4-7 0-2-4 1-2-1 0-4-4-2-2 1-4-1 0-4 6-6 4 1 2 0 4 2 2 0 4-3-6-4-5-8 0-2-5-2-1-4 1-2 12-4 6-5 8-11 3-6 3-2 8-5 6-1 7-6 5-2 9-8 11-3 12-2 10-4 3-3 5-6 3-6 1-6-3-8 2-10 0-2-5-10 0-2 2-9 4-6 7-7 8-14 4-12 2-13-1-5 0-5 20-19 2-4 2-2 2 0-2-4 0-8-1-4-3-6 1-2 1-4 1-8-3-6-6-10 2-6 2 2 6 2 10 5 6 5 1 4 1 2 10 3 2 3 4 2 3 6-1 2-2 1-4 3-2 0-3 0-5-4 0-2-2-1-2-1-7 4 1 4 6 4 2 6 4 0 6-2 6 4 2 1 4 2 6 2 1-3 0-2 1-4 3-2-1-6-2-4-1-6 0-2 1-3 6-1 16 0 4-2 8-2 6-3 1-1 3-16 0-12 4-24 0-6-2-8-1-6 1-6 1-12 2-10 4-2 0-4-3-6-2-6 0-6 1-2zM714 450l-10 4-4 3-5 5 2 10 3 6 0 2 6 7 2 6 4 2 6 1 6 0 4-4 0-6 1-2 1-2 2-2 3 4 3 2 4 1 6-5 2 2 1 2 2 1 1-1-2-2-1-4 0-2-2-4-1-6-6-2-6-5-4-1-8-11-4-1zM720 420l-1 0-1 4 0 2-2 4 4 2 1 4 3 1 3 1 5 1 3-1-1-2-5-4 1-2 2-4 0-2zM774 405l-5 3 0 4 5 6 4 0-3-4 2-2 0-4zM804 447l-6 3-4 6 9 10 0 6-1 1-6-1-6 1-6 0-4 3-2 1-4 0-2-3-4 1-2 3 0 3 2 2 4-1 2 1 5 3 1 4 3 0 3 3 4 0 0 3 2 4 4 1 2-4 4-1 2 2-3 6 1 1 3-1 0-2 0-4 0-2 3-1 7 1 0-10-1-3-7-5-1-4 4-4 5-8-1-6-4-6-2-2zM750 488l-2 8 3 0 1-4zM223 496l3-1 7 1 7 2 4 4 7 2 1 6 1 4 3 2 2 2 4-6 2-2 4 0 6 4 2 6 4-1 6 1 2 2 0 4-3 6-5 3-4 0-7-3-3-4 2-6-4-1-6 4 0 3-2 2-3 4-3 2-5-2-1-1-6-11-6-3-4-3-4-2-2-6zM292 520l2-2 3 4-2 4-1 0zM205 532l3-2 8 1 1 1-3 1-3 1-1 4-2 0-4 0-1 0 0-4zM255 538l3-2 2 2-1 2zM301 538l3-2 6 0 1 2 0 2 1 3 4-1 12 10 1 6-1 1-4-1-2 0-10-3-2-1-4 1-3-3-5-1-2-1 1-6 1-3 2 4 2-1zM261 544l1-2 2 0 4 2 1 2-3 6-9 0-1-2zM322 564l2-2 6 3 4 0 2 2 3 3 3 4 4 1 2 1 4 3 7 1 2 2-1 4 1 2 3 4 6 3 6 6 14 8 6 4 12 5 8 6 8 5 8 1 10 3 2 4 6 0 4 1 1 2 2 3 9-1 14-4 6 0 3 2 1 2 2 3 6 3 10 2 2 2 1 2-1 4-2 1-6-1-6-3-6 0-6-4-6 0-4-1-2 0-4 2-2 1-6 0-30-6-6 1-4 4-2 1-5 5-2 2-3 1-6-3-2 0-4 2-2 4-1 3 3 11 0 4 8 14 8 8 3 2 3 2 12 4 12 2 8 2 18 9 6-1 4-3 2 2 4 1 1 2 1 1 4 1 8-2 4 2 14 10 3 4 3 2 13 4 3 2 2 9 3 13 7 7 2 5 4 2 8-1 9-7 3 2-2 4 0 6 7 2-5 4 6 2 4 0 0-2 2-4 4 0 6 0 2-1 6 0 6-5 0-2 4-4 6 1 2-1 4 0 2 2 10 0 4 2 3 2 11 6 8-1 4 0 1 1 3 10-3 2 1 4 4 2 4 6-4 5-6-5-6-7-9-1-1-4-2-3-3 3 5 7 4 10 1 1 1 2 4 0 5 4 0 6-9 0 0-6-2-2-4 0-1 0-11-13-8 1-6-1-3 1 0 2-1 2-2-1-6-5-4 1 3 7 1 2 6 4 6 1 0 1 0 6-119 0 0-6-5-8-2-4 0-3-4-3 0-2-5-4 1-2 2-1 2 1 6-2 3-2 1-2-1-6 1-6 0-2-6 1-6-1-4 0-1 8 1 2-2 2-6-2-4-3-1-3-1-3-3-3-9-7-6-3-8-10-3-4-17-11-8-5-16-12-8-5-6-3-4 0 0 4 4 0 4 8-2 2-2-2-6-1-1-1-3-3-2 1-5 2-2 2 3 8 2 8 2 1 4 1 6 6 4 2 6 1 4 4 2 7 12 9 7 1 6 4 5 3 4 7 2 1 4-3 1-2-2-6-5-11-7-5-2-2 5-2 4 1 9 9 9 6 6 5 4 1 1 4 0 6 5 9 0 5 4 3 4 6 0 3 3 4-7 0 2 2 0 6-209 0 1-8-7-6 0-6-3-2-2 0-2 2-1 2-3 2-3 4 0 4 4 2 0 6-114 0 0-6-3-2 4-4 0-3 6 0 2-3-2-2-5-3 0-3-4-6-1-4 4-5 4-1-3-8-3-4-1-6-4-2-1-3 0-4 3 1 0-4-5-2 2-1 0-2 0-3-4-5-1 5-2 2-3 2-2 0-7-4-5-3-6-5-6 0 0-49 8 0 5-3-1-3-5-3-1-6-6 0 0-1 8 0 4 2 6-4 6-7 7-2 2-12 3-8 1-2 6 0 1-3 4 1 2 0 7 2 1 6-2 2-3 2 3 12 4 2 2 4 4 1 3 5 0 2 6 4 0 6 3 1 6-8-1-3 1-2 3-4 3-1 3 1 0 4 3 0 2 2 0 3 6-1 4 3 2 0 4-2 2 0 12 6 10 2 8-1 2 0 2-4-2-2-5-12-5-8-4-8 0-2-1-6 1-3 6 8 8 7 8 14 8 9 10 7 2 3 6 6 6 9 3 8 2 4 0 8 2 4 11 8 4 0 5 4 3 4 3 2 3 3 9 15 11 12 2 6 0 6 1 2 2 4 3 10 2 3 4-4 2 1 4-4 2 0 12 11 4-3 0-2-4-4-3-6-4-14-1-4-4-4-13-8-1-1-5-13-1-3-2-3-2-3-4-3 2-3 3-1 1-2 1-6-5-5-5-1 0-4-2-2-3-3-1-3 6-4 1-8 0-4-2-2-4-2-6 0-1-2-4-12-2-6 2-2 0-4-2-6 0-2 1-4 0-2 0-2 1 4 5 1 5-3 0-4 1-3 6 1 6-2 4-2 2 1 4 0 12-9 2-4-2-12-4-4-3-2-2-3-1-6-3-5-4-4-1-6-3-2-3-1-4 0-3 3-6-14 1-2 3-4zM370 711l-2 1 4 1 2-1zM382 755l-2 1 0 4 2 1 2-1 2 0zM142 713l-3 5 0 2 0 4 3 2 2 1 10-5 2 0 4 0 2-5-2 0-6-1zM186 747l-1 1 0 2 5 4 2 1 4 2 2 1 4-1 0-1-1-2-5-2zM190 686l-2 2 2 2 2-1 1-1zM256 791l-3 1 0 4 3 3 2 0 2-3zM274 765l-3 3-1 4 2 2 4 1 4-1 2 0 12 5 4 0 2-1 1-4-1 0-12-2-2-1-4-5zM340 695l-1 4 0 3 3 4 4-1 3-2zM616 796l-2 6-6 2 0 4 2 0 2-1 6 1 8 0-3-10zM198 704l-1 2-2 2 1 4 2 2 4 3 2-1 4 4 9 4 5 0 4-3 3-1-1-4-2 0-10-6-2 1-4-3-3 0-3 3-2-2zM342 724l-1 2 1 2 4-1 2-1zM226 759l-4 2-12 5-6 2-2 4 2 0 6-2 4-1 8 2 6-1 6-3 2-1 1-4-3-2zM100 600l0-1 6 0 2 1-1 6-7 1zM333 610l1-2 2 0 3 2 6 6-3 2-2 2-4-1-3-3zM226 634l2-2 2 2 2 6 0 7-4 0-3-5zM528 642l6-2 4 2 0 4-1 2-3 3 0 3-9 4 0 6-9 0-2-1-2-3-1-2 5-3 6-8zM311 646l2 0 1 6-2 0-2 0-3 0zM830 678l2-2 6 0 0 12-6 0zM288 690l4 1 2 3 6 3 0 3-2 2-4 2 0-4-6-3zM831 700l7-1-1 21-5 0-4-1-1-5 1-2-2-6zM402 742l0-3 12 8 7 7 3 3 7 5-1 2-4-1-8-8-11-5zM831 744l1-1 6 0 0 91-12 0 0-6-4 0-1 0 0 6-117 0 0-8-2-4 0-2 1-3 3 3 2 1 4-1 1-10-1-1-4-1-2-4 0-3-8-2-2-3-2-3-6-6 1-3 1-4 4-1 14 4 10 1 4 2 4 6 4 0 5 6 3 10 4 2 4-8 0-4 0-2-2-4-1-2-2-4-3-2-5-4-2-2-2-4 1-2 12-4 2-3 10-2 6 1 2 2 10 0 8-1 10 2 14 0 5-1 3-4 1-2 7-6 7 0zM724 801l2 5 2-2 2-2zM100 826l0-2 12 1 2 0 4 0 2 3 0 6-13 0 0-6-1 0zM132 826l0-3 6 3-1 8-5 0z"/><path fill="#757575" d="M814 256l2-2 6-1 10 2 6 0 0 33-6 0-4-1-2 0-1 1 3 4 10 0 0 139-6 0-1 1 1 4 6 0 0 117-6 0-3-3-3-3-4 6-3 3 3 6 0 3 4 4 2-4 4 4 6 0 0 55-6 0-4-2-3-4 2-2 0-4-3-6-3-2-5-3-2 1-4 4 0 4 5 2 2 6-2 4-1 1-4-1-3 2 1 4 6 8 5 4 3 6 6 2 10 0 0 10-8 0-4-6-4 1-2-5-6-2-5 0-3-4 0-2-4-2-4 0-3 2-2 6-3 2-4-1-2 1-4-1-6 2-2 0-4 1-2 6-4 3-6-1-14-6-6 0-12 3-6-5-6-2-2-2-2-2-2 2 0 2-4 2-3 5-11 1-12-1-4 3-1 6-2 2-15 5-12-3-12 1-6-3-2-4-4-2-6 0-2 1-4 0-2-3-4-2-2-4-4 1 0 1 3 4 3 4 4 2-4 1-2 0-6 5-3 0-3-3-6-2-5-5 0-2 1-4-1-2-8-6-1-4 1-2 0-4-5-2 6-3 2-1 7-5 2-3 9-16 4-2 6-3 6-1 9-8 3-1 11-9 9-3 12-1 10-4 12-6-1-4 2-2 0-10-3-8 2-10-1-6-4-6 0-2 1-7 4-7 8-8 5-8 4-6 3-19 4-1 3 10 1 6 8 9 2 6 4 2 6 1 12-2 6 1 8 7 0 4 6 0 6 4 4 0 0 2-1 2 3 4 4 0 2-2 1-4-1-4-2-1-4 0-1-1-5-7-3-3 3-1 4 1 6-5 3-1-1-2 0-3 6 1 2 2 0 2 2 2 3-1 2 1 6 4 4 6 0 4-2 2 1 2 6-3 7 1 5 5 3-1-3-6 0-6 0-2 6-2 3-2-2-6 1-4-2-1 0-5 4 0 1-2-1-2-6 0-1-2 7-2 2-4-5-8-2-10-3-2-2-5-3-1-1-4-2-1-2 3-4 0-1-2 0-6-3-6 2-2 6-2 1 2-1 2 1 4 1 1 4 1 6 3 2-3-2-6 0-2-3-4-1-3-2 0-2-3 1-2-1-4-2-1-2 1 0 4-4 1-2-3-4 0-1-2 1-2-1-4-5-4-2 2 0 12-4-6 2-6-1-4 3-1 2 0 2-1 7-4 1-2 6-3 2-3 3-10 1-19 6-23-6-18 2-18 0-2 6-6 0-3 6 3 1 0-2-6-8-10-2-8zM705 370l1-1 2 2 4 0 4 1 8 6 3 4 0 2-2 4 0 2 1 3 4 0 2 1-12 2-4-2-4-10zM733 394l3-1 3 1zM763 394l5-3 6 2 4-1 1 2 1 2 0 4-2 2-4 0-2 1-4-2zM742 396l3 0 1 4-2 3-2-2-1-1zM714 400l0-1 4 2 4 5 1 2-1 4 2 3-6 2-1-5-3-4zM786 418l5 2 0 4-1 2-3 0 0 4-3 0-5 6-1 2 1 4 2 2 7 4 3 2 0 6 1 4 4 2 0 4 0 2-4 2-6-1-2 1-6 3-10-4-6 3-1 2 1 6-2 3-5-3-2-6-3-2-2-6-4-5-2 1-5-2-3-4 0-2-2-2-2 0-4-4 1-3 3-2 6 0 6 2 1-1 0-2-2-4 1-1 2 2 1-1-3-6-5-2 0-4 0-2 2-3 3-2 8 4 4 4 2 2 4-2 8 1 6-5 4 0 2 2 3-1zM707 436l1-2 4 0 2 2 1 2 7 3 1 3-6 4-11 3-6 4-6 5-4-6 1-4 6-6 5-3 4-1zM226 498l2-1 4-1 2 1 12 11 2 2-1 4-2 2 1 3 7 3-1 6 0 4-3 2-3 0-2-4-4-8-6-2-6-5-3-1-1-6zM243 519l-2 3 3 1 0-1zM270 520l0-2 4 2 2 4 4-2 3 0 2 4-3 5-2 1-10-3 2-7zM262 546l2-2 2 2zM317 550l1-2 4 0 2 4-2 2zM336 574l0-1 6 4 6 2 4 3 3 0 6 10 9 4 6 6 6 4 8 3 6 5 9 4 7 6 8 5 20 5 4 6 6-2 4 1 1 3 1 2 10 0 14-5 2 1 2 1 2-1 2 6 2 2 2-1 5 1 0 4-1 0-6 0-6-8-2 4-2 1-2 0-4-2-9 4-5 1-30-7-6 2-6 4-4 3-6 4-2 0-4-2-2 1-4 2-3 5-1 6 2 6 0 6 5 8 2 6 5 3 5 7 3 1 4 3 12 4 6 0 8 3 6 0 18 10 10-2 8 4 12-1 4 2 13 8 7 8 12 3 6 11 2 12 8 9 0 3 0 2 2 3 10-1 6 2 3 3 3 5 2 2 6 2 4 0 6-5 6 1 2-4 4 0 2 3 4 0 0 1 0 3-3 1-3-1-6-2-3 3 0 2 5 4 1 2 9 8 2 7 4 2 4 1 0 6-107 0 0-6-2-2-2-4 0-2-1-2-4-2 1-2 3-2 2 0 4 0 2 7 4 0 4-3 0-2-3-4-1-7-4-3-2 0-4-4 1-4 3-3 5-3-1-2-2-1-6 1 0-4-2-2-10 1-6-2-2 0-2 1 0 6-2 4-2 2-4-4-1-2-13-12-7-4-6-8-3-4-12-8-14-9-16-12-14-9-4 0-6 2 3 4 1 2 2 1-6-2-2 1-8 4-2 2 1 4 4 2 2 6-7 10 1 6 15 7 2-1 0-6 0-2 12 2 4 4 0 4 6 7 9 6 5 1 4 2 0 2 2 2 4 0 2 1 2 7 2 1 2 0 5-5 1-2-1-6-7-12 2-2 4 1 2 4 12 9 3 2 3 1 2 3 0 8 4 6-2 10 4 2-4 3-1 3 7 5 1 1 0 7-12-1 0-6-1 0-1 6-97 0 0-6-2-3-2 1-3-4 1-6 2-2 0-4 2-1 12 10 4-1 1-2 0-2-5-4-2-6-3-12-2-6-5-5-8-5-4-2-2-2-1-6-2-6-3-4-4-8-1 0 5-4 0-6 2-4 4 2 2 0 1-7-1-3-2-2-6-1-5-5-1-4 4-6 6-2 2-4-5-6-1-2-9-4-3 0-1 0 1 1 2 0 1 3-1 4-2 0-4-2-6-1-1-5-3-6-1-6 1-2-1-6 2-4 0-2 3 0 6-1 2-3-1-6 9-1 6-3 2 1 4-1 13-10 3-4-2-6 0-6-9-8-2-10-7-7 0-5-2-4-4-1-6 1-2-2-4-6-1-2 1-2zM370 708l-6 4-5 5 0 3 1 3 4-3 2-5 4 0 2 2 4 0 1-3-1-5zM508 753l-2 3 3 4-5 1 0 2 2 5 2 3 2-1 2-8 2-2zM526 792l-2 0 1 4 2 0 1-1 1-3zM516 820l-1 2 0 4 1 0zM335 612l1-1 4 5zM228 636l2 4-1 2-1 1-1-1zM150 648l4 1 1 3-1 2-4 4 2 6 2 6 3 2-2 4 1 1 6 1 4 4-1 2 3 1 3 3 2 2 0 6 1 4 6-6 3 0 3-4 2 4 3 2-4 6-1 4 2 2 7 6 7 4 2 1 4 3 2 2 12 1 6-2 3-3 0-2-3-5-2 0-10-5-8-3-6 1-1-4 1-2-2-4 0-2 2-4 2-2 4 4 2-1 4-3 8 3 4 2 8 3 4 2 2 0 7-1 6-7-1-2-5-6-2-6-7-9-1-3-1-4 2-4 2 3 6 4 8 15 4 4 4 5 11 6 8 9 3 6 3 4 1 6 4 6 0 8 2 5 4 3 5 2 3 3 4 0 6 4 7 7 12 18 9 10 1 2 0 4-1 2 0 4 4 11 2 7 2 2 3 4 1 6 5 2 0 7-69-1 0-6-4-1-2-3-6 2-5-4-2-2 0-4-2-6-3-1-4 0-6 3-2-2-4 0 0 3 3 1-4 8 0 4 2 2 0 6-106 0 0-6-1-2 2-4 6-3 0-3-1-2-5-4 0-2-5-6 1-4 8-6 0-2-4-3-1-7-4-6-3-2-1-4 3-6-2-2-2-10 1-2-3-3-4 0-2-2-3 1 1 4 0 6-1 2-3 1-1-1-3-6-6 1-2-1-6-6-6 0 0-46 8 0 5-2 2-3 0-3-5-2 8-6 6-8 8-4 2-4 0-8 2-3 2-1 4-2zM226 759l-4 2-13 5-6 2-3 4 2 0 2 1 6-2 4-1 8 1 6 0 6-3 4-2 0-4-4-3zM252 788l-2 2 0 2 0 4 2 3 4 2 4 1 2 2 2 3 4-2-5-7-3-6zM274 764l-3 2-2 2 0 4 1 3 4 0 8 0 12 5 4 0 3-3 1-3-2-1-12-2-2-1-4-5zM298 758l-3 2 3 2zM300 752l-1 2 2 2 3 2 0-4zM118 699l-1 1 1 0 2 0 1 0zM142 712l-3 2-1 7 1 3 3 4 6-1 6-4 2 1 4 0 3-4 2-2-3-2-8-1zM184 747l0 3 6 5 6 3 2 1 6-3 0-3-8-3-4-2-2-2zM522 652l4-2 5 1-3 3-2 0-4 2-2 1-1-3zM560 660l2-1 6 4 0 1 0 2-4 1zM583 673l3-1 2-2 1 2-3 6-4 2-5-2-1-2zM831 682l0-2 7 0 0 2 0 2zM547 684l3-1 2 2 2 3-2 1-2 1-4 0zM288 694l0-2 4 1 3 3-3 1zM540 694l4-3 2 0 4 1 0 2-4 3-6 6zM831 702l7 0 0 7-6 0-4-1 0-2zM828 714l4-2 6 0 0 6-6 0zM332 718l2-2 2 0 2 2-1 2-1 2-2 0zM519 720l4 0 0 4-1 0zM537 720l7 2 6 6 3 16-1 3-1-3-17-10-3-2 1-1 2-2 2-3zM406 748l2-3 4 2 2 1 5 6-1 0-3 0zM831 750l1-2 6 0 0 86-10 0 0-6-2-5-6 2-4 0-1 4 0 5-24 0 0-6-5-3-2-1-6 1-10 0-2 0-3 3 0 6-53 0 0-6 5-2 0-10 1-6-7-5-1-3-2-3-2-1-2-2 3-4 0-2-3-2-5 1-3-1-2-4 2-3 6 2 18 3 3 4-2 2 2 4-4 6 2 2 5 5 2 1 6-4 4-1 2 5 4 2 5-10 0-4-4-12-5-4-4-2-2-2 0-4 6 0 4-1 2-6 3-1 7-2 6 1 2 2 4 0 14 0 12 2 16-1 5-6 2-2 5-5 6 0zM790 795l-2 1 2 3zM622 784l2-2 4 0 6 1 6 0 2 1 4 2 12 8 9-2 3 2 1 4-7 8-4 0-2-1-4-3-2-2-4 1-2 5-4 2-8-2-1-2 1-2 0-4-10-4-1-2-1-4-2-2zM648 810l1 4 3 0 1 2-1 2-3-2zM668 810l2-1 6 4 0 3zM477 820l3-2 1 2-1 1zM111 828l3-1 3 1 0 6-6 0zM623 828l2 0 0 6-2 0z"/><path fill="#6e6e6e" d="M817 256l5-1 10 2 6 0 0 28-4 0-2 0-4-3-2-1-6-7-5-4-2-6 0-2zM814 292l6-2 2 1 4 3 12 1 0 40-6 0-2 1 2 4 6 0 0 72-6 0-4 2-2 0-4 1-2-2-6-1-1-4-1-2-4-2-4-2-2-7-4-1 2-4 4-2 3-6 1-10 0-2 1-16 2-8 3-6 3-4 2-6-5-6-4-8 0-18zM808 392l-2 2 2 1zM708 376l4-2 2 1 6 4 3 3-2 6 1 2-2 1-2 0-4-4-2-5zM761 432l1-1 6 3 6 5 6 8 6 3 3 10 1 6-6 1-4 2-5-4-3 0-4-2-2 2-6-5-6-2-1-2 2-3 0-3-1-2-3-4 0-2 5-6zM709 442l3-2 1 2 0 2-1 4-6 0-2 2-8 6-2 1-2-3 1-4 3-2 4-4 4 0 2 2zM821 442l1-1 6 2 10 1 0 22-1 2-5 0-4 0-2-3-4-1-1-2-1-6 2-2-2-4 0-2zM691 472l3-3 1 5-1 4-4-1zM830 480l2-1 6 0 0 8-6 0-4 2-2 4-3-3 1-4 1-2zM689 484l1-3 4 3 2 0 6 4 4 4 1 4 7 4 10 0 3-2 3 4-1 2 1 4 2 1 4-3 0 4 2 6 4 3 2 3 4 4 2 1 4 5-1 6 1 6 1 0-1-4 2-2 4-1 2-3-1-6 2-2 3 1 2-1 5-10 1-2-2-6-4-3-2 1-4-1 0-3 0-1 6 1 0 1 4 0 2 1 5-2 1-4 4-1 2 1 0 10-2 6 8 9 4 0 2-1 4 0 6-4 2 1 5-3 1-2-2-6 0-4 1-2 5-4 2 3 4-2 1-3 1-1 4 1 6 0 0 47-6 0-4-1-2-4 0-5-10 0-3 1 1 4 0 8-1 4 0 2-3 4 0 2 4 4-6 2 0 6-3 4 2 6-3 2-2 0-1 0 1 1 2 1 5 4 5 2 2 3 4 0 3-1 3-3 2 0 2 3-1 6 3 2 6 0 0 9-6 0-4-2-12-11-2 2-4 3-2 0-4-2-2 0-1 1 0 4-2 2 5 3 3 3-3 3-1 3 2 4 0 6 2 6-3 3-2-2-6 0-4-1-1-4-1-6-6-2-5 2 0 4 1 2 6 4 3 6-5 0-3-2-1 2 0 2-6 4-6-1-1 1-2 8-3 3-6-1-18-5-8 1-4 1-2-1-6-4-4-5-6-2-3 1-3 4-2 6-4 2-8 0-10-1-2 0-4 2-1 3-1 6-3 2-7 1-6 3-12-3-12 1-6-4-2-6-4-2-2 0-6-1-4 1-8-6-4-1-2 3 0-7-4-1-2 0-4 2-2 1-1-1 1-4-4-1-2 2-4-3 0-6 6-6 4-3 2-1 0-6 8-12 4-3 11-3 6-6 17-11 8-2 10-1 12-3 8-5 10 1 6 4 2 1 1-2-1-6 1-6-3-2-10-8 0-4-2-4-1-2 2-10 0-2 0-4-5-8 4-12 2-3 6-3 3-4 3-8zM700 615l0 5 2 2 1-4zM712 531l-1 1-2 2 2 4 3-2 6 1 4-3 0-2-4-3zM732 513l-2 4-6-1 0 1 0 3 3 2 6 4 4-4zM738 528l-1 0-1 4 2 1 4 0 0-1zM774 534l-8 5-4 3-2 4 2 2 4-3 3-1 2 2 1 4 2 1 4 1 2-2 6-6 4 2 2-1 2-1 0-4-2-3-2-2-7 2-3 0-2-1zM724 548l-8 4 0 4 2 0 2-2 4 0 2 1 1-3zM732 555l-2 2-4-1-1 2 1 6 4-1 2-2 2-3zM768 571l-1 3 1 3 10 2 1-3-1-2zM772 564l-1 0 0 4 1 1 2-1 3 0zM780 566l-2 2 2 1zM784 597l-1 1-2 2 1 4 4 2 0 5 4 2 2-2 6-5-5-3zM228 502l0-2 3-1 3 0 2 3 4 8 4-1 1 1 0 4-3 2-2 4-2 0-6-3-4-3-2-4zM749 516l1-1 4 0 1 1-1 4zM244 526l6-1 1 3-1 4-4-1zM829 574l3-2 6 0 0 15-10 0-2 1-4 0-4-6 8-7zM333 580l3 0 4-1 4 1 3 2-1 2-6 4-4 1-2-3zM351 592l1-2 2 0 4 0 2 4 9 4 13 10 8 3 4 2 14 10 4 3 8 6 4 1 3 1 3 1 8 1 6 6 6-3 3 1 1 2 2 3 8 1 2 2-6 2-4 0-6-2-12-3-8-1-4 0-4 2-14 9-3-1 2-2 0-4-1-2-4 0-2 2 1 4-2 2-8 10 0 8 0 10 3 2 2 10 2 2 4 5 11 7 2 4 3 1 2-1 10 4 5-1 3 1 6 3 4 0 2 0 18 9 6-2 16 5 7-1 7 7 7 1 2 4 3 1 4 3 8 6 4-1 1 3 1 0 4 4 1 4 1 11 1 1 4 4-3 6 2 2 0 4 2 2 0 5 4-1 2 2 6-1 4 2 1-1-1-2 2-2 4 0 2 2 1 6 3 1 2 1 4 2 6-3 2 0 6 4 8 7 0 2 6 6-2 4 0 8-88 0 0-6 4-7 4 1 5-2-3-2 0-2 1-6-1-2-2 0 2-5 4-1 6 2 2 6 4-4 3 2 0-4-3 0-6-6-4 1-2-2-1-1 2-4-1-2 4-4 1-2-5-4-6 0-3-2-1-4-2-3-4 5-1-10 1-4 4-2-4-2-6-9-8 3-3 2-1 1 0 1 5 10-1 2 3 4-1 2-2 0-4 1-2-3-6 2-5-2-5-6-2-1-4 1 0 2 4 3 1 3 5 4-1 2-2 3-11-9-2-2-6-5-2 0-3-5 2-2-11-6-8-6-6-4-2-2-2 0-6-4-12-10-18-12-10 0-2 1-4-9-2-2-4-1-6 2-5 5-7 9-6 1-2-2-2-2-1-4 2-2 2-4 6-2 1-4-1-2-3-4 0-2-10-5-4 0-6-3-1 2 3 6-5 0-3-6-3-4 0-12 1-3 2-1 7 4 1-6 3-6-1-2 8-3 4 1 2 0 2-4 4-3 13-9 2-4-1-6 1-6-11-8-2-10-3-6 1-2zM388 693l-5 3 1 4 4 5 2 0 6 4 4 1 2-4-6-4-3-2 0-4zM400 636l-7 4 1 2 6 3 6 0 2-3 0-2zM472 759l-4 2-1 1 4 4 2 0 1-4zM538 813l-6 3 2 3 4 1 4-6zM579 652l1-2 0 2 7 2-1 4-4 1-2 1-3-3zM143 654l5 0 0 6 3 4-2 6 0 2 3 6-2 2-2-3-4 7 0 3 6-3 4-4 6 3 2-1 1 2 6 4 3 6-1 6 2 6-2 2-6 4-3 2-8 0-6-2-8 0-2 2-1 6 1 6 4 3 6-1 6-4 6 2 5-6 7-8 6-3 2 3 4 1 6 0 14 8 6 5 4-1 8 1 7-2 4-4 1-2-3-6-5-2-4-2-2-2 1-4-1 0-4 3-12-2 0-5 4-2 1-2 5-4 8 2 4 3 8 2 4 3 2 0 9-4 4-2 2-4 0-2-5-6-3-6-4-4-4-6 1-3 4 0 2 2 7 13 6 6-1 3-2 1 2 8 4 1 1-1 1-3 4-1 2 1 9 9 4 6 3 4 1 6 4 6 1 8 5 10-3 4-3 2 3 1 0 5-5 2 3 2 3 4 3 2 2 0 4-2 6 3 2-3 0-2-5-4 3-6-2-2 2-1 2 0 4 3 6 6 1 4 11 14 9 10 1 2-2 6 0 4 2 2 0 6 2 4 0 2-1 4 8 6 0 6 4 2 0 6-5 0 0-6-4-2-2 0-4 0 0 2 0 6-48 0 0-6-8-6 0-2-6-3-6-8-4-2 0-3 0-2-4-4 3-6-1-1-4 0-2-4-7-3 0-6-3-2-9 11 3 3 0 2 1 4 5 8 6 1 2 3-2 0-2 0 0-3-3 3-4 2 0 4 2 2-2 6 2 6 0 6-101 0 0-6 1-2 3-3 2 1 4-2-3-6 1-2-2-2-4-2 0-2-4-4 2-6 1 4 3 4 6 2 2-4-1-2 1-3 5-3-1-4 0-2 0-3-6 2-4 2-5-4-1-3 2-4-2-2-3 0-1-4-4-2 0-4 3-6 1-2-4-5-2-5 1-2 0-4-8-6 0-2-3-4-4 2-1 2 0 2-4 6-1 4-6 2-8-8-6 0 0-43 12 0 6 3 2 0 4-2-2-4-2-2-1 0-1-3-2-3 0-4 4-2 1-4 3-3 2-1 7-2 2-6 0-8zM184 746l-2 2 1 2 7 6 6 4 2 0 4-2 3-2 1-2-2-3-8-2-4-2zM226 758l-9 4-10 4-6 3-3 3 4 1 2 1 6-3 4 0 8 1 6 0 6-3 6-3-1-4-3-2-4-2zM240 804l-2 1 0 4 2 1zM270 765l-2 3 0 4 2 3 12 1 12 5 5-1 1 0 3-6-3-2-6 0-6-1-2-2-4-4-6-2zM593 660l1-1 2 1-1 4zM203 694l1-3 2 3zM178 700l2-3 3 3-4 6-1 2-1-2-1-4zM368 718l2-1 2 3 7 1 3 3-4 2-2 2-6 0-4-2 0-2zM537 730l3-3 4 0 2 1 3 2 1 8 0 3-4-1-7-4-1-3zM363 732l3-1 4 3 2 4 4 1 0 3 0 2-6-1-1 1 1 6-1 3 1 7 6 4 8 5 4 3 6 1 2-1-3-6 1-6 2 2 4-2 2 1 3 5 4 12-2 2-1 2-3-2 0-6-3-4-3 2 0 2 1 4 2 6 5 3 7-6 6-1 2 3 6 1-2 1 0 3 1 2 5 2 2 5 10 3 2-1 4-1 3-8-1-2 0-4-2-3-1-3 1-3 5 3 7 6 1 2 6 6 0 4-1 2 3 4 2 6-3 6 0 6-1 2-5 2-2 0-11 2 1 2 0 6-79 0 0-6-1-2-4-5-2 2-1-3 3-10 12 10 4-1 2-3-1-2-5-6-2-7-1-5 1-3 2-1 3-2 1-4-4-2-2 0-4 2-6-6-9-6-3-2 0-4-2-6 0-3-4-3-2-8 2-2 2-4 2-3 2 0 5-1zM450 800l-2 2 2 3 4 0 0-1zM300 742l2 2-2 2zM121 748l3-1 2 0 1 3-1 2-2 1zM831 754l1-3 6 0 0 45-6 0-3 2-1 4 10 0 0 32-8 0 0-6-2-6-2-2-6-1-4-2-3 9 0 8-20 0 0-5-7-9 0-2 4 1 2-3 5-2-3-6-4-4 0-2 3-4 0-2-3-4-5 4-1 8-1-2-3-3-4 3 4 6 4-3 3 3 0 2-3 6-8 6-4 1-6 0-5 2-1 3 0 6-46 0 0-6 4 0 2-6-1-6 1-2 12-3 4 0 2 2 4 1 6-12 1-4-3-6 0-2-8-9-3-1-1-2 2-1 2 1 0 1 10-11 2 1 4-2 2-1 6 2 16 1 2-1 6 2 6 0 12-1 5-1 1 0 2-2 3-4 1-2 4-4zM627 784l7 2 2-2 4 0 13 8 0 4-1 1-5 1-1 2-1-2-5-2-6-1-6-2-4-3-1-4zM705 786l4 0 1 4 2 0 1 2-1 2-4 2-1 0 0-4 1-2zM159 792l1-1 1 5-1 1zM658 796l2-1 3 1-1 2-2 1zM519 798l1-2 3 2zM471 828l1 0 3 0 0 6-4 0z"/><path fill="#666666" d="M816 258l4-1 2 0 4 2 12 0 0 17-12 1-4-7-6-4zM813 298l1-3 3 0 5 1 4 2 2-1 10 0 0 35-6 0-7 8 7 3 6 0 0 57 0 4-10 0-2-4-10-6-2-3-4-3-1-4 1-12-1-2 1-16 4-6-1-2 7-10 2-6-1-2-5-4-4-8 0-6zM714 382l0-3 4 0 2 3-2 2 0 2zM812 400l2-3 1 3zM762 436l0-1 4 1 2 4 6 3 9 11 0 2-3 1-2 3-4 0-2-6-7-1-3 3-2-2-3-6-2-4 0-2zM827 460l5-2 6 0 0 4 0 2-6 0zM686 490l2-2 2-1 2 3-4 6 0 2 2 2 4-2 1-2 0-4 1-1 6 0 2 5 9 8 1 5 4 1 2-1 1 1 0 4-2 6 0 2-1 2-6 2-6 0-6-7-10 3 0 4-1 2 5 6 4 4 2 1 2 0 3 1-3 8-2 1-4 5-5-2-3-1-6-6-6 4-4-1-1-4 3-16-1-6-3-6 2-2-1-4 1-3 4 0 2 2 4-1 1 6 1 0 4-2 0-2 0-2-2-4-1-2 1-4 1-2zM828 502l10 0 0 6 0 2-6 0-3-2zM228 504l0-1 4 0 2 1 5 10-1 2-4 1-2-2-4-5zM826 514l5-3 7 0 0 9-6 0-1 2 1 2 6 0 0 10 0 4-6 0-2-4 1-2 0-4-3-1-3 1-2-2 0-4 1-6zM818 522l2 0 2 0-2 6-10 3-3 7 0 2 3 4 1 2-2 4-1 4-4 4-2 3-2-3-1-6-2-2-1-4 3-2-1-4 4-6-1-2-5-4 2-2 6-1 4 0 2-1zM785 526l1-1 4 4-2 3-2 1-2-1zM747 532l1-1 1 1-1 2 0 1zM740 538l2-1 6 2 1 1 1 8 3 2 3-1 9 7 2 6-5 2-2 4 3 2 0 6 9 8 3 0 3-2 3 0-2 6 3 4-1 2-3 3-2 1-1 2 1 4 5 2 3 7 3 3 1 2-2 1-1-1-4-3-7 3-2-1-2 1 4 10 2 2 0 4 2 1 0 2-6-2-2 1 2 2 2-1 1 3-1 0-2 0-6-5-4 0-2-1-4 2 0 3 2 3 1 12-3 1-20-6-6 0-4 2-6-3-3-6-1-2-2-2-2 2-4 0-6-2-2-3-6 7 3 6 1 4-2 0-6 1-6-2-6 0-7 3-3 6 0 4-2 1-8 2-4 2-2 0-10-3-8 0-4-1-2-2-4-3-1-6-5-2-8-8-4-1-3 3 4 2 0 4-1 0-12-6-2-5-10-1-2-1-6-5 2-3 4-1 2 2 4-4 2-4-3-6 7-12 2-1 12-3 2 2 2 3 2 0 2-3-4-4 0-2 2-4 15-8 9-4 12-1 10-1 6-4 2-1 6 0 4 1 6 4 6 5 2-3-1-12 5-6-1-2 3-6 6 0 6 5 4 1 6 3 2 1 6 4 4-2 2 1 7-4 5 2 4 0 0-3-1-2-15-11-10-11 2-1 2 0 4 1 2 4zM750 567l-2 1 3 6 3 1 1-1 1-4zM627 630l3 3 3-3zM636 632l-4 4 2 4 2-2 1-2zM696 612l1 6 1 4 3 2 0 4 1 0 4-2 3-2-2-8zM700 628l-2 2 2 2zM774 556l4-1 2 1 1 2-1 1-2-2zM791 556l1-2 2 4 0 4-2 0-2-2-1-2zM718 562l2-2 3 2zM783 564l1-1 2-1 1 2-1 2zM788 574l2-1 7 3-1 6 1 4 5 2-2 4-2 1-2-1-2-4-6-2-3-4 3-2zM831 576l7 0 0 7-6 0-4-3zM366 600l4 0 6 6 6 3 8 3 6 6 6 3 5 3 5 5 3 1-7 5-2 0-13-5-3-1-2 1-1-2-4-4 0-2-1-2-4 1-2 3-3-2 1-4-2-2-2-2-2 2 1 2-3 2-6-4-3-10 0-2 1-2 4 2 1 3 3 4 1-5zM370 630l2-2 4 1 2 0 3 1 1 3 2-2 4 0 2 3 0 6 2 2 4 4 1 2 0 6-5 6-2 4 1 2-2 6 0 10 2 2 0 4 0 2-7 2-2 0-1 2-1 2 3 6-1 3-4-1-2-2-6 2-4 0-2 2-4 0-3-4-1-2 2-4-4 1-2-5-10-5-2-1-4 0-2-1-4-3-2-5-4 5-1-4 1-6 4 2 6-1 2-6 4-2 2 0 4 3 2 1 4-3 2 1 2-1 1-2-5-4-1-2-1-4 10-8 9-6 1-4zM360 672l-6 1-3 3 0 2 3 3 4 3 3-8zM416 634l2-1 0 1 2 5 4-1 2 2 0 2-2 1-4 0-2-2-4 0 0-1zM431 642l1-2 5 2zM447 642l3-1 2 5-2 0zM141 658l4 0-1 1zM138 660l0-1 6 2 1 3 0 2 0 6-1 2-2-4-4-1zM136 672l2-1 3 5-4 2 5 4 0 4-4 2 10 1 2-2 4-1 2 1 6-1 6 3 1 1 1 4-2 5-1 1 1 1 2 5-2 2-8 5-4 0-8-2-10-1-2 8 1 8 3 4 2 0 8-1 3 1 1 2 8 4 4-1 1-3-1-1-3-1-2-4 6-6 1-3 6-5 4-1 6 4 8 1 6 3 6 3 4 4 2 2 4-2 2 0 6 1 6-2 6-4 4-1 0-2-3-4-1-2-9-4-1-2 0-4-2-3-2 0-4 4-2-1-4-2 0-4 4-4 2 0 6 1 4 3 8 3 4 2 2 0 10-3 2-2 4 3 8 1 6 3 4-3 2 1 9 11 1 6 4 6 1 8 2 6 0 4-5 0 0 2-2 3-4 1 0 2 3 4 1 2 6 4 2 4 4 2 4 2-2 2-6 1-6-1-2-2-1-2-3-2-6-2-2 0-4 2-3 5 0 3 1 2 2 2 12 0 12 6 6-1 4-5 2-3 4 1 2-6 0-2 3-4 1-2-2-4 2-2 2 1 2 1 0 4 5 3 3 5 14 16 1 2-2 6-1 4 2 2 0 6-2 6 1 4 5 4 0 2 0 2-4 2-1 2 0 8-46 0 0-6-1-2-5-4-1-2-5-4-11-12 0-12-12-8-3-10-7-3-4 5-2 0-4-1-2 7-4 2 4 0 6-1-4 1 0 2 5 10 0 2-1 1-4-1-2-3-4 0-2 7 0 2 2 2 2 8 2 0 3 0 2-6 1-2 6-2 1 4-4 2-1 4 3 2 0 18-96 0 0-6 1-1 6-1 4-4-1-2-3-4 1-2 3-4 2-2 2-2 6 0 3-2 0-6-5-2-4-4 1-2 5-4-2-2-4-1-2 1-4-1-6 3-2 0-2-2 3-4-1-2-2-4-1-2-3 0-3-4 0-3 2-3 1-2 0-3-3-3-1-4 3-2-1-4-6-2-10-12-6 1-4 0-2 1 3 6-3 6-4 3-6-3-2-4-6 0 0-37 6 0 6-2 2 1 4 1 6 0 3-1 1-2-10-12 1-4 3-2 1-4 2-2 7-1zM184 746l-3 2 1 2 7 6 7 5 2 0 4-2 4-3 1-2 0-4-11-1-4-3zM222 759l-20 8-7 1 0 3 1 1 8 3 9-3 9 1 6 0 6-3 8-4-2-4-6-4-6-1zM258 762l-2 1-2 3 2 4 2-1 2-3zM266 694l2-1 2 1 2 2-2 2-2 1zM347 712l5-3 2 0 4 2-1 3-3 4-2 2-4 0-2-2zM407 712l1-1 4 1 2 2 10 2 6 4 2-3 4-1 2 1 6 6 4-1 6 3 2 0 12 4 6-1 4 0 12 5 2 0 4 1 13 10-5 5-6 0-1 1-1 6 5 10-3 3-8 3-6-6-5-4-7-6-5-2-1-6-4 2-2 0-10-1-2 3-3-2-3-3-6-4-2-1 1-4-3-1-2 3-4-1-11-9-3-5-10-5-4-2 2-3zM444 735l4 4 1 3-1 2 2 2 3-2 3-2-1-6-1-3-4 1zM374 724l2-1 2 1-2 2zM152 726l2 0 3 0zM546 730l1 6-1 1-3-1zM359 742l5-2 2 0 1 2 0 2-3 6 2 3 3 7 3 5 3 1 9 6 2 2 8 2 2 4 0 4 2 2 8 5 6 2 2-1-2 0-2-2 1-4 1-1 2-1 6 2 1 4 3 2 2 1 3 5-1 4 2 0 2 4 3-4 3-2 3 2 0 2 3 3 1 4 3 0 2-1 8 0 2-8-2-6 2-2 1 2-1 2 2 1 4 3 1 2 1 4-4 8-2 2-8 4-2-2 0-4-2 0-2 2-6-2-4-3-2 1 3 6 1 2 3 4 1 8-40 0 0-6-2-1-2 0-2 1 0 6-26 0 0-6-5-12 3-2 8 7 4-1 2-4 0-2-6-7-1-5 1-6 4-3 2 0 1-1 0-6-7-6-6 2-3-2-3-6 10 0 1-2-5-6-8 3-4-5-6-1 0-3 3-4-3-1-2 1-3-2 3-2 2 1 3-3 0-2-4-4 1-1zM516 754l4-3 4 3-2 1-2 2zM524 756l2-1 8 3 4 3 1 17-1 2-1 0-5-3-4-2 2-7-2-1-2-1-4 1-2-1zM824 756l4 0 4-2 6 0 0 39-6 0-10 2-2 0-2 1 0 2 8 9 12 0 0 12-6 0-4-1-6-1-1-1-1-5-10-1-6-4-1 2 0 2 2 1 3 3 2-2 4 4 0 5-5 5 1 2 0 6-15 0 0-6-2-2 1-4 2-1 6 3 2-2-1-2-3-4 1-6-3 0-3-8 1-4-2-6-2-1-2-1-6 1-4-1-2 4-7 4 3 7 4 3 3 6-1 2-6 5-2 0-6-1-14 6 0 8-25 1 0-7-3-2 0-4 2-2-1-4 5-2 2-1 6 2 4 3 2 0 2-8 2-3 2-3 0-2-2-10 1-2-2-4 1-6-5-2 5-7 1 7 1 1 4-2 2 0 6 3 2 4 2 0 2 0 2 0-1-4-2-2-1-2-4 0-2-4 2-2 10 0 6 1 2-1 6 1 24 0 4-1 1-2-1-2 4-6 2-2zM756 804l-2 1-3 3 4 2 2 0 2-2zM774 773l-1 5 0 2 5 2 0-2 4-2 0-4zM816 772l-2 2 2 3 6 1 1 0 2-4-3-1zM780 784l-1 2 1 3zM471 774l1-1 2 0 2 1-2 2zM450 778l4 2 2 4-2 2zM636 786l4-1 11 7-3 3-6 0-2-2-6 0-1-1zM563 802l5-1 2 4 8 3 2 1 2 0 4-3 2 0 4 2 6 6 1 2 5 7 0 3 1 8-8 0 0-6 2-6-1-1-4 0-5 7 0 6-32 0 0-6-3-6 5-6-3-2-3-6 1-4 4-2zM532 810l2-2 3 2zM533 826l1-2 4 2 2 0 4-2 6 1 1 1 0 6 0 2-17 0z"/><path fill="#5e5e5e" d="M828 262l9-1 1 12-6 0-3-3 2-2-3-2-3-2zM815 300l1-1 6 0 4 1 12 0 0 29-6 0-6-3-4 0-4-4-4-6 3-6zM821 342l1 0 4 2 2 1 10 0 0 51-6 0-2 0-1 2-7-4-3-10-3-2-2-1-1-3 0-6-2-2 1-12 1-4 3-2 1-4zM695 502l1-3 4 0 6 1 4 4-2 3-2 0-4 0-2-2-4 4-2-1zM231 508l1-1 2 1 2 6-2 1-1-1zM754 562l6-2 0 2zM696 568l0-2 4 1 2-2 9 3 3 2 6 0 4 3 6 0 2 2 6-3 4 0 2-1 4 1 1 4-2 6 3 7 4 1 0 2 2 1 4 1 2-4 3 2 4 8 3 4 3 8-3 1-4 3-1 2 0 4 3 6-2 2-7-2-5 0-8-6-4 1-2 0-5 1 0 4 5 4 2-1 4 1 5 4 0 6 2 4 0 2-1 3-4 0-13-3-5-5-2-1 1-2-7-2-10-7-2 0-4 3-2 0-1-4 6-6-1-6 2-1 2-2 6-2 6 1 3-2-4-2 2-4 0-2-7-4-1-2 2-4-9-7-4-2-2 0-1-3-3-1-2 0-2-1-2-4 1-2zM742 576l-4 2 0 2 4 1 2-1zM664 580l2-2 6-1 10 6 1 3 5 3 10 3 1 6 7 8 1 4-1 1-4 0-6-2-3 3 2 10-3 6-1 2-4 4-2 2 9 12 0 2-4 1-6-2-6-1-1 0-7 6-4 8-1 2-13 3-5-1-5-2-8 0 0-4-6-3 1-3-1-3-4-2-2 0-10-5-1-2-1-2 0-1-6 0-4 3-2 1-2-7 1-2 2-4-8-8-2-4-1-2 3-4 1-2 2-4 10 0 6 8 2 1 4 4 6-1 2-2 2-4-2-2-3 0 0-4-8-9 2-3 13-5 3-3 5-3 16 0zM624 623l-1 1-2 4 2 2 4 4 0 2-2 4 2 2 3 0 4 2 3-2 2-6 1-4-4-4-8-2zM359 606l1-1 1 1 0 4-1 1zM372 606l9 6 1 2 1-2 6 0 3 4 2 4 7 2 6 6 1 2-2 2-10-2-3-2-3-4 0-2-8-6-4 0-6-3-1-1zM372 634l0-2 4 0 5 5 3 0 4 2 1 3 4 3 2 3 0 4-7 12 1 2-1 4-5 6 3 6-2 2-2 0-2-2 1-4-11-5-4 3-6-10-2-7-4 0-1-5 4-6 4-2 11-6zM724 642l2 0 3 0-2 4zM336 672l0-1 4 2 2-2 6 1-5 4 4 6-1 1-4 0-2 0-4-3-2 1-4-3 0-2zM129 678l3 0 3 4 3 2 0 1-2 1-4 0-6 1-2-5zM353 688l1-1 6-1 4-1 8 1 5 4 1 4 0 2-4 4-4 3-6-2-3-1-1-4-2-2-4-1zM159 690l7 0 2 2 0 2-2 1-4-4-2 3 1 2 1 6 6 4-2 2-6 4-4 0-6-2-8-1-4-2-1 1-2 10 1 12 6 2 4 0 1 4-1 2-2 2-2-2-6-3-4-5-2-1-10 0-5 3-3 4 3 6-1 0-2 1-4-1-2-4 1-2 5-2 0-2-4-1-2 1-6 0 0-26 6 0 6-3 14 3 4-1 1-3 0-2-3-4 0-2 2-2 1 2 1 2 10-5 8 0 4 1 1 2 1 4zM227 700l1-1 4 0 6 3 2 1 6-3 4 1 2-2 4 2 6 2 8 1 6-2 2 4 6 6 1 6 5 6 0 14-4 2-1 4-8 4 6 6 3 5 6 3 5 6-5 2-4-1-6-6-2-1-6-1-9 7 0 4 3 2 2 3 12 0 10 3 2 3 6 0 3-3 1-2 2-2 4 2 2-7 3-3 0-2 1-1 6 1 2 4 6 2 11 12 1 2-2 4-2 6 2 2 0 6-1 4-1 6 2 3 3 3-3 4 0 10-43 0 0-6-3-4-4-4-10-9-7-7 1-3 3-3 1-2-1-4-9-4-3-4-4-4-1-2 3-6-2-4 2-6-1-2-4-1-2 2-3 5-1 3-2 0-4 3-2 1-4 0-2 4-4 0-2-2-2 3 2 6 3 3 3 0 1 3-1 1-6-1-2 2 2 6-4 6 1 4 9 8 6-2 1 2 3 10 0 8-28 0 0-6 1-2-11-1-2-3-4-2-2 2 0 4 1 2 0 6-47 0 0-6 9-2 2-4-4-6 3-1 2-1 0-4 4-2 2 0 7-4-3-2 1-4-1-2-6-2-3-2 3-2 5-4-3-2-6-3-8-1-7-8-3-2-2 0-2-2 0-2 3-4 1-2 0-4-2-2 1-4 3-2 0-6 1-6 3-1 6 4 4-2 3-5 0-6-2-2 3-6 4-5 4-1 8 5 12 3 6 3 4 5 2 2 6-3 6 2 12-7 10-2-2-2-5-4-3-4-8-5zM298 798l0 6 2 4 1 0 1-4 0-2-2-3zM306 797l-1 1 0 4 1 0 4 0 0-4zM186 744l-2 1-4 2 1 3 6 6 9 6 2 0 4-2 5-4 2-2-1-4 0-1-6-1-6 0zM228 756l-2 1-12 6-12 3-6 1-2 1 0 4 2 2 8 1 4 0 6-3 18 2 1-2 5-3 3-1 2-2-1-4-3-2zM350 712l2-1 2 1 1 2-2 4-1 0-4 0zM416 718l4-1 3 1 1 2 3 4 1 2 5 6-3 5-4 0-4-5-2-2 0-4 2-3-2 0-6-1-1-2zM436 720l2-1 1 1zM461 730l3 0 2 1 8-2 10 3 2 4 0 2 0 2 4 0 2 2 2 2 1 4-3 2 0 4 1 2 3 4 1 5-1 3-6 1-3-3-5-4-5-6-4-8-5-3-6 1-2-1 0-7-2-2zM359 744l5-2 1 2-1 3zM361 757l3-2 2 2 2 9-2 1-2-1-3-4zM831 756l7 0 0 30-6 0-6 6-4 1-3-1-1-2-2-1-2 2-10-3-2-5-4 0-2-2-4 3-2 1-2-1 1-4 2-2-2-4 1 0 24 3 2 2 6 1 6-2 1-4-4-2-5-2-2-2-1-2 3-6zM534 762l1 0 0 4 0 6-1 0 0-4zM378 774l0-2 4 1 0 1 0 2zM383 778l5-1 2 1 4 2-1 3 0 3-3 2-2 0zM637 790l5-2 6 4-2 1zM392 792l2-1 2 1-2 6-2 0 3 6 4 4 1 3 1-3 5-3-1-3 3-5 6-1 4-2 2 2-1 2 1 4 4 5 4 1-1 2 5 3 3 7 3 4 2 2 1 2 0 6-33 0 0-6-2-2-6-2-6-6-4 0-2 1-3-5-4-6-1-4 1-2 3-3 4-1zM408 810l-2 2-1 2 3 0zM426 824l-1 2 1 2zM750 792l4-1 2-1 4 1 0 1 0 4 1 2-1 2-4 0-3-2-2-2zM799 792l3-1 2 2 6 3 0 2-1 4-1 0-4 0-2 2-2-2 0-4zM764 798l2 0 2 1 4 6 7 9-1 2-4 2-2 0-4-2-2 0-6 0-4 3-8-3 0-3 2-2 4 1 2 1 4-1 2-4 1-4zM462 804l0-1 2 1 1 4-3 1zM563 804l5 0 2 3 5 3-1 4 1 6 5 1 1-1 1-3 3 5 2 4 0 8-10 0 0-6-1 6-16 0 0-8 2-4 5-2-2-4-5-3 0-3-2-2 0-2zM369 816l3 0 4 4 2 2 4-1 2-2 4 1 2 6 4 2 0 4 0 2-20 0 0-6-2-6-2-2zM731 820l1-3 6 6 4 4 2 1 4 0 0 6-19 0-1-8zM600 828l0-2 2 2 0 6-2 0zM797 828l1-2 4 1 2-1 4 2 0 6-11 0z"/><path fill="#575757" d="M829 304l3-2 6 0 0 19-10 0-2-2-4 1-3-2 3-2-1-4 3-2-1-4 3-1zM822 348l2 0 2 2 0-2 2 0 10 0 0 44-4 0-6 0-6-5-5-9-1-6-3-2 0-4 2-2 0-4 1-2 4-1 1-3zM671 580l2 0 3 2 13 10 7 8 2 4-4 3-7 2 0 3 1 7 2 0 4 3-6 4-2 4-3 4-3 6 1 2-2 4-3-1-4 0 0 4-2-1-4-3 0 3 2 4-2 1-1 7-1 2-12 4-6-2-4-3-2 1-4-1-1-3-2-6 3-2 4 0 0-11 2-5-2-6 3-4-1-3-2 2-2-1 0-6-2-3-2 1-4 0 0-2 6-3 4 1 4 0-2-6 0-6-6-2-1 2 0 2-13 2-4-2-1-2 12-6 6-6 11-1 2 2 4 1 1-2 7-2zM722 580l2-2 2-1 5 3 0 2-1 2-4 2-2 3-2-1 0-2-2-4zM738 586l3 0 1 2-1 4-3 2 0 4 4 1 1 5 5 2 2 2 4-1 2-7 3-2 3-1 4 4 3 3 1 6-4 2 0 5-2 5-2 2-2 1-4 0-3-3-5-3-4-1-2 2-4 0-1-2 1-6 0-2-2-3-4 0 0-1 0-2-5-6-1-4 6-2zM594 610l4-1 2 2 4-1 2 2 4 8 2 0 4 4 2 4 0 2-2 3-4 2-12-6-3-7-4-4 0-2zM713 618l1-1 6 2 4-2 6 1-6 4 2 4 8 2 8 8 2-1 5 1-1 4-2 2 4 4-1 2-8 0-5-6-4-6-8-2-4-4-6-3zM395 624l5-1 3 1 0 4-3 0zM619 634l3-1 1 1 2 2-3 3zM363 646l9-3 10 4 2-2 4 0 1 1 3 2 0 4-6 12 2 2 0 1-4 4-2 0-4-3-6 1-6-3-2 0-3-2-3-13zM365 688l4 0 3 2 4 3 0 3-4 2-2 2-4 0-5-10zM354 690l4-2 2 2-2 2zM142 694l2-1 4 1 2 0 4 2 0 4 10 6-2 3-2 2-4 0-6-3-6-1-2-2-3-3-1-2 3-4zM230 702l2-1 2 1 4 6 2-1 5-5 1 0 4 1 2 0 6 1 2 2 2 3 2-3 4-1 8 1 4 2 2 4 2 6 5 6 0 12-1 1-2-1-4 2 0 4-2 2-8-2-2-4 0-2-3 0-1 2 3 6-2 4-4 2 0 4 1 2 5 4 0 2-1 2-3-2-1-2-2-2-4 0-2 0-6 7-4 1-6-7-2-1-6-2-4-1-2 1-4 2-6 2-3 2-11 4-6 0-4 3 0 6 12 1 10-2 14 0 0 4 2 8-2 5 0 5 2 2-2 3-6 0-1 3 2 4 5 2 10 8 2 0 3 2 3 2 1 4-1 8-11 0 0-6-1 0 0 6-11 0 0-12 2-2-4-6 0-4-5-2-3 6-3 7-2-4-4 0-2 3-2 0-2-4-3 0-1 4 2 2 2 1 3 5 0 6-29 0-1-12 4-2-2-4-1-2 8-7 4 0 0-3-4-2 1-6 3-4 2-2-4-4-2-3-2 0-4-3-2 0-6-2-6-1-4-11-2 0-4 1-2-1 3-4 2-6-2-2 1-4 2 0 2 0 3 6 7 2 3-2-1-1-2 0-4 1-1-2-1-7-5-3 0-2 1-4 4 1 2 4 4-1 0-4 4-6 1-2 0-12 3-4 4-1 2 1 7 6 3 5 2-3 4-1 2 0 5 3 5 7 2 1 6-3 3 1 1 2 14-9 12-3-1-2-5-4-2-2-1-4zM276 725l0 1-1 4 1 2 4-1 2 1 1-2-1-3zM204 807l4 5 2-4zM184 744l-5 4 7 8 5 4 5 5 6-4 6-5 2-2 0-4-2-3-4 0-2-1-6 0-6-3zM109 706l3-2 8 2 12 6 2 2-1 12-3 2-4-2-4 0-8 3 0-3-2-1-1 1-3 3-8 0 0-20 6 0zM477 732l3 1 3 3-3 5-2-2-4 0-4-3 2-3zM481 744l3-2 2 3 4 0 1 3-4 2 1 4 4 9-2 2-5-3-5-6-3-6zM273 750l3 0 6 6 2 4-2 1-8-1zM825 760l3-1 4 2 6 0 0 12-4 0-2 0-6-5-4 0-2-2zM287 766l1-3 4 1 1 2 0 2-1 1zM264 774l0-1 6 4 12 0 7 3 5 6 5 0-3 4 2 1 3-5 11-6 2-2 2-5 2 1 0 4 0 2 2-2 2-1 2 1 4-4 2 0 9 10 1 2-3 4 0 2-1 4 2 6 0 2-1 4-1 6 2 6-2 1-1-1 1-4-5-2-5-6-2 0-4 2-2 3 4 5 2 0 3 2 2 6 5 1 2-1 2 2 0 6-40 0 0-6-4-7-6-5-3-2 4-4-7 1-7-7 1-2 3-4 2-2-2-4-3-3-6-1-2-2-1-2-4-3zM306 792l-2 1-6 0-4 8-3 3 3 1 4 2 2 3 6 1 5-3 2-3 0-3zM387 780l1 0 2 0-1 4-1 0zM813 780l3 2 6 2-6 1-1 1-5 1-3-1-2-2 3-2zM828 780l2 0-1 4-1 0zM177 790l1 0 0 2-4 1-3-1zM563 808l1-1 4 0-1 3-1 4-2 0-1 0zM397 816l2-2 3 0 3 2 1 3 0 1zM423 816l1-2 3 2zM213 822l7-2 2 2-2 1zM381 822l3 1 7 5-1 6-14 0 0-8zM410 822l2-1 2 0 4 2 1 5 0 6-9 0zM564 826l4 0 4 2 0 6-8 0zM581 826l1-2 2 1 0 9-4 0zM732 826l0-2 4 2-1 2 0 3 0 3-4 0zM161 828l7-1 3 1 0 6-10 0z"/><path fill="#4f4f4f" d="M830 312l2 0 6 0 0 4zM831 352l7-1 0 31-6 0-4 2-2 0-4-1 0-1-1-4 0-6-1-2-4-1 0-3 3-6zM664 586l2-2 6-1 2 3 4 0 10 7 4 5 1 2-1 4-2 1-2 0-4-1-2 1-1 5 3 2 0 4-1 6-2 2-3 4-1 2 3 4-2 2-8 0-6-3-4-1-1 2 0 2 3 4 0 6 3 6-1 8-10 2-2-2-5-6-4-2-1-12 0-5 3-1-2-6 4-4-1-2-5-6 1-2 4 0 1-2 0-2-1-4 3-2 1-4-2-2 0-2 6-5zM640 588l2 0 2 0-2 4-3 0zM743 610l1-1 2 1 4 2-2 2-4-1-2 3zM599 616l5-2 1 2 0 2-1 3zM609 628l3-1 4 1-4 0zM368 646l4-1 6 3 4 5 6 2 0 3-4 2-1 4 2 2-1 2-2-1-4-2-2 0-12-1-3-12 1-4 2-1zM366 690l4 1 1 3-1 1-4 0zM141 700l3-3 6 1 4 4 7 4-1 2-4 2-2-3zM244 706l2-3 3 2 1 9 3 4 0 2-1 4 4 0 2-8 4-2 0-2 6-6 8 2 4 2 3 8 5 8-2 3-4-5-6-1-3 1-1 2-1 6-7 2 0 2 2 8-2 3-2 0-4-1-1 2-3 6 0 2-4 5-4 1-2-8-6 3-6-2-6 0-4 2-6 1-6 5-6 1-3-2 3-2 6-4 2-2-2-6-1-4 3-2-1-4-1-1-2-1 6-3 6 1 2-1 6-5 9-4 9-2 3-2-2-6-3 0-3-2 1-4zM107 708l5-2 6 1 3 1 3 4 2 0 5 2 1 6-2 5-16-1-2-3-4 2 0 4-2 1-6 0 0-11 6 0 2-3zM258 708l2 4-2 1zM176 714l2 0 4 4 1 5 3 2 4 4 1 1 1 6 4-2 2 0 3-2 0-2-5-3-1-3 3-2 3 2 2 2 0 4 4 2-1 4 0 8-2 1-2 0-6 0-6-3-6 1-7 5 3 6-2 0-2 0-2-4-7-2 1-10 2-2 3-10-1-8zM482 756l2-2 2 2zM154 760l8-2 4 2 6-1 2 4 6-5 4 0 5 2 4 6-3 1-4 0-2-2-2 3 2 7 8 4 4-3 2 0 10 0 6-1 6 0 1 3 1 0 4 0 1 2 0 4 1 2-2 10-5 3-1 3-6 3-4 0-2-1-6-2-3 2 0 4 4 2-2 6-3-2-2-1-5 7 1 4 6 3 1 1 0 6-14 0 0-6 2-9-3-1-4 3-2-1-3-6 5-4 4 0 2-2 1-6-1-2-3 2 0-4 5-6 0-2-8-9-2 0-4-3-2 0-4 0-2-4-4 0-2-6 0-3-4-2-2 0zM827 766l1-3 4 3 6 0 0 2 0 1-6 0zM264 778l0-2 5 2 1 1 10-1 4 2-2 6-2 2-4-3-6 1-2-5zM330 778l0-1 2 1 1 2 3 4 0 2-2 2-4-1-2 3 0 3-4 2-2 2-7 1-3-2-1-4 0-2-1-3-4 0-1-1 5-3 2-1 12 1 1-3zM283 790l3-3 2 2 2 3 2 1 2-2 1 1-2 6-4 6 3 3 2 0 2 1-1 2-1 1-2 0-4-3-4 0-4-6 2-4 3-2-3-4zM332 802l2-2 2 2 0 2-2 2-5-2zM309 810l4 0 1 4 6 6 0 6 2 0 2-1 1 1 0 8-3 0-22 0 0-6-2-2 0-9 2-4zM232 820l2-2 10 3 1 1 1 4-2 2 0 6-4 0 0-6-2-2-4 0-2 2 0 6-8 0 0-6 2-5 3-1zM381 826l1 2 0 6-2 0zM174 828l0-2 4 2 2 0 3 0 0 6-9 0z"/><path fill="#484848" d="M821 364l1-3 4 0 2 0 4 2 6 0 0 15 0 1-6 0-2-1-4-2 0-4zM672 588l4 0 3 0 4 4 1 2 4 1 3 5-3 2-4-2-6 4-1 2 5 12-4 5-2 1-1-2-3-3-2 1-2 4 1 4 2 2-1 4-1 0-5-5-4-1-7-10-2-6 4-8-1-6 0-2 4-2 2 3 2-3 2-5 3 3-1 3 6 4 1-1-2-4zM664 617l-1 1 1 3 2-2 2-1zM649 636l3-1 12 16-4 7-2 1-4 0-3-5-7-6 0-8zM367 648l3-1 2 0 4 2 5 9-1 2-2 2-2 0-4-2 2-2zM147 702l3-2 2 2-2 2zM246 706l1 0 1 2-2 3zM110 708l8 2 2 1 4 2 2 0 3 1 1 7-4 2-2 0-6-3-4 1-2-3zM267 708l1 0 8 1 3 3 2 6 2 2-1 1-2 1-6-1-8 5 0 4-4 3-1 3 1 2 2 4-2 2-4 0-2 2-2 4-3 4-1 4-3-2-1-2-2-3-4 1-3 4-5-2-10 0-5-4-1-1-1 1-1 1-2-3 1-4 0-6 0-2 3 1 10-3 2-4 10-6 2 0 6 0 10 2 3-2 2-6 3-4zM174 718l4-2 1 2 1 2-2 4 0 1-4-2zM100 720l6 0 1 4-1 2-6 1zM173 732l1-2 6 2 4 0 2 2 3 4-4 4-8 2-2-2 1-6zM195 736l7 0 1 2-3 4-4 0-4 0zM206 760l4-3 3 2-4 3-5 1-1-1zM163 762l5-1 3 1 1 4 6 5 2 1 2 6-2 0-2 0-4-3-2 2-4-1-4-4-2-4zM184 762l2-1 4 1 0 1zM196 778l6-2 12 1 8 10 4 2-1 3-3 3-6 4-2 0-4 3-6-1-2-4-6-1-3 2 3 4-4 8-2 1-2-3 0-4 3-2 1-4-2-12-2-2 2-1 2 1 1-4zM272 780l2 0 6-1 1 1-1 4 0 1-4-3zM313 786l3-2 2 1 4 2 2 1 2 2-2 2-6 4-2 0-3-4zM284 802l2-3 2 3zM178 813l2-1 2 2zM302 816l2-1 2 1 5 6 5 2-1 10-3 0-11 0 0-6-1-2zM228 826l2 2 0 6-2 0-3 0z"/></g><rect x="431" y="429.2" width="72.9" height="72.6" fill="#f00" fill-opacity="0.4"/><g fill="none" stroke-width="2.5" stroke-linejoin="round"><path d="M113 144l0-1 4 0 1 1 1 4 2 2 1 2-1 2-2-1-1-1 0-2-1-2-2-4zM111 158l4 0 2-1 2 1 1 2-1 3-2 2-2-2zM105 170l1 0 1 4 2-1 2-1 1-2 1-1 2 3 1 2-1 1-2 5-1 2 1 2-1 2-5 1-1 1 0 2-1 1M469 286l2 0 1 2 0 2 1 2 0 2-2 0-5-4zM491 294l2 1 0 2-1 1-3 2-1 2-1 1-2 0-1-1-2-4 3 0 2-2zM105 347l8 1 2 0 2 2 4 4 2 6 2 6 0 3-2 1-2 0-2 0-4 0-1-2-2-8-2-4-1-2-4-3M717 452l-2 2-1 2-1 1-2 1-2-2-2 0-6 4-3 4 0 6 1 2 3 4 1 2 4 6 2 1 2-3 2-1 2 0 4 2 3-1 0-6 0-4-2-4 0-2 0-2-1-1-2 1-2 0-1 0 0-2 3-2 3-2 1-1 1-1 0-2zM125 484l4-1 6 2 4 0 2 1 2-2 6 0 2-1 4 0 1 1 1 2-3 6-3 2-6-1-1 1 0 2-3 2-5-8-1 0-4 0-2 0-2-2zM105 502l4 6 2 0 1 2 0 2 1 2-1 2-2 0-3-1-2-3M133 504l2 0 2 2-1 2 0 4-1 0-2-2-2 0-2-2 1-2zM169 510l2-1 1 1 2 2 1 2-2 2-3 0-1-2zM137 512l2-1 1 1 0 2-1 1zM215 512l-1 0 0 2-3 1-1 1 2 2 3 1 2 2 2 0 3-3-1-2-2-2-1 0 0-2zM199 517l-1 1-1 2 2 1 2 0 2-1 1-2zM121 524l4-2 2 0 2 2 1 2-1 1-4 2-2-1zM285 544l-2 0-2 2-3 2 0 4 1 3 4 0 2-1 1-4 0-4zM191 552l2-2 2 2 1 4-1 2-1 0zM235 560l2-2 2 1 3 5 1 4-2 1-4-1-3-4zM105 594l2 0 2 0 2 1 2 4 2 1 1 2 2 4 0 2 0 2-1 3-2 1-2-2-2-2-4-1-2 2M325 612l-1 2 1 1 2 0 0-1zM205 614l2 0 4 3 4 3 1 2-1 2 1 2-1 1-2 0-2-1-3-4 0-2zM359 623l-1 1 0 2 1 2 1-2zM113 642l2-1 2 0 2 2 2 0 2 2 1 3 0 2-2 4-2 0-1-2-2-2-4 0-1-2zM431 651l-6 3-2 5-2 0-11 5 0 2-3 2-2 4-2 2-2-4-1 0 1 6 2 4-2 2 0 2 2 1 3 5 4 8 11 8 6 1 4 3 2-1 4 0 4 0 4 2 2 1 4-1 4 3 6 2 2 1 6-1-3-2-1-2 1-2 5-3 2 0 2 0 4 2 6 0 2 4 4 0 2 2 4 1 2 2-1 2 5 4 6 4 2 1 1-1 0-2-2-6 2-2 5-5 10-1 1-2 0-4 0-2 1-4 0-2 3-2-1-2 3-6 0-6 0-2 0-2-5-7-4-1-2-1-4 0-2-1-4-1-2-1-4 0-5-4-7-3-4 0-6-2-2 1-2-2-2 0-4-1-2-1-2 2-2 0-6 0-4 4 0-4-3-2-2 0-3 1-4 0-4-2zM105 655l2 2 2 0 6-4 2 1-4 6 1 6-2 2 0 2 1 3 3-1 0-4 1-1 2-1 2 1 2 1 1 0 0-6 2-2 1-2-1-2 0-2 2-4 0-2 1-3 2-1 2 1 4-2 2 0 4-3 4 0 4 2 4 1 2-2 2 1 8 3 3 5 1 2-2 2 4 6 3 2 2 4 2 2 5 0 12 9 10 4 2 0 2 2 4 0 4 2 4 1 4 3 4 0 2 1 4 0 6-4 0-2-4-5-1-3-2-2 0-4-6-8-1-4 0-2-2-2-2-6-1-2-2-2-2-4 2-4 1-4 0-4 2-2 1-4-1-2 0-2 2-3 2-1 4 1 1 1 0 2-1 4 1 2-1 2 0 2 1 4 1 2-1 2 1 2 2 2 2 5 0 1 0 4 4 4 2 0 2 2 5 6 1 4 4 4 1 4 1 4 8 6 6 3 2 0 0-3-1-2-2-2 1-2 2 0 4-3 2 2 1-1 0-2 1-2 3-2-3-8 2-4 2-2 0 2 2 2 2 0 4-1 2 0 4-3 0-2-2-2 0-2 0-2 2-4-2-2-1-4 1-2 6 0 2 2 10 4 10 3 2 2 4-4 2 1 2 0 4-1 2-4 2 0 2 0 5-3 0-2-2-2 0-4 1-2 1-2-1-1-2 0-2 2-4 1-2-1-4 1-4 1-4-3-1-2-1-2-6-2-1-4 1-4 3-2 1-2-1-2 2-4 0-2-1-2-2 0-2-1-6-3 1-2-1-3-2 0-2-2-2 0-2 1-1-2 1-2 2-3 2 3 2 0 4 3 1-1-1-2-2-1-2 0-1-1 2-2-1-1-8 1-2-2 0-4 2 0 2 2 2 1 2-1 0-1 2 3 1-2-1-2-6-1-4 1-5-4-1-3-4 0-2-1-1-2 1-2-2 0-2 1-4 0-3-1-1-1-2 2-4 0-2 0-4-1-2 1-2 2-2 1-2 0-2 1-2-1-2-4-2 0-4 0-2-1-1-1 2-4 1-4 2-3 1-3-1-2-2-1-2-3-3-2-1-2-1-4-2-2-2-4-1-1-4-2-4-3-1 0 0 2-1 1-2 1 4 2 1 2 1 2-3 4-1 2-5 2-3 0-2 2 0 3-4 4-2-1-2-2-8-1-1-1-1-2-4-3-6-6-1-1 1-2-4-4 0-4-2-1-2-1-2 2-1-2 1-1 2 1 2-1 2-1 2 0 2 4 2 1 2 0 2-2 4 0 1-1-1-4 2-2-2-2-2-2 2-2 3-2 0-2-3-3-2-1-5-2-5-3-2-3-1-2 1-1 2 0 2 2 2 2 2 2 2-1 2 0 3-2 3-3 4 2 6-1 2 1 4 4 4-2 2 1 4 1 14 4 4 0 2 2 2 1 4 0 6 2 2 0 5 2 3 2 2 0 2-1 2-1 2 0 6 3 10 2 2 2 4 5 2 2 4 4 4 4 3 4 3 5 4 4 2 5 4 4 10 7 5 5 1 4 1 2 5 2 4 1 7 7 7 4 2 6 0 2 9 12 16 8 3 3 2 1 6 1 6 3 14 11 6 2 6-1 2 1 8 4 4 2 6 2 2 1 2 4 4-1 10-3 12-2 8 2 2 1 2 1 2-2 4 2 14 3 4-3 4-2 6 0 6-4 10-2 2-1 4-1 6-2 4 0 2-1 4 0 2-3 4-3 1-3 2-2 3-4 1-4-1-2 1-2 9-4 4-3 8-3 4-3 6-2 12-8 10-3 4-2 6-1 10-4 6-7 5-8 0-4-2-6 0-2 2-8 0-2-3-4-3-2-1-2 1-6 4-10 3-6 7-6 2-2 0-4 2-4 0-2 1-2 2-2 1-2 2-4 3-16-1-8 2-4 7-6 2-2 2-4 6-6 4-8 1-6 0-4-4-8 1-8 2-4 1-2-1-2-2-4-6-8-1-2 7-20 1-6 0-6 2-6 7-8 4-4 0-2 0-6-3-2 0-2 0-2-2-4 1-4 4-3 2-2 1-3 2-2 3-2 2-1 2 0 2 1 0 2-3 10-5 7-1 3 1 2 0 2-1 8-1 2-2 2-1 4-4 4-2 8 1 10 0 6 1 4 2 2 7 6 2 1 1 1 3 8 10 5 6 5 2 1 2 0 2-1 2-4 4 0 2-1 2 0 8 2 4-1 14-4 4-1 2-1 1-2 6-14 0-4-1-4 0-4-1-12 3-12 0-2-3-10 1-8 1-4-1-4 2-4-3-6 2-4 2-4 2-6 0-6-3-12 0-4 2-3 6-1 10 0 4 0 4 1M289 666l1 2-2 2 1 2 2-2 0-2zM680 668l1 0 1 0-1 3-2 0 0-1zM287 674l-1 2 3 3 1-3 0-2zM293 681l-2 1 1 2 2 2 0 2 1 1 2-1 1 0 0-2-1-2-1 0 0-2zM303 686l-2 2 2 2 2-2zM281 695l-1 1 5 2 0-2zM311 695l-3 5 0 2 1 2 2 1 2-1-2-4 0-1 2-1 2 2 2 0 2-2-2-3zM468 702l1 0 1 2-1 1zM323 704l-2 4 0 1 2 1 3-2 0-2zM143 715l-1 1 1 2 2 0 2-2zM315 716l-2 2 0 2-4 3-4-1-2-2-4-1-2 1-1 4 1 6 0 2 0 2 6 4 6 3 6 3 4 6 6 2 3 4 1 4 5 10 5 6 5 4 5 6 2 6 3 4 1 2 6 2 3 4 7 6 4 2 4 4 1 0 0-2-1-2-2 0-1-2-1-2-2-4-2-4 0-2-2-8-2-2-5-6-14-10-4-8 0-8-3-4-2-1-4-3-3-4-3-4-4 0-1 0-2-4 0-2 3-3 4-3 1-2-1-2-1-2-1-2-4-2-1-2zM831 723l-2 1-2-1-1-1-1-2-2-5-1-5 0-4 1-2 3-6 3-4-2-12-1-4-1-2-1-4-1-2-2-2-3-6-1-1-6-3-4 0-2-1-2-3-2-1-6-2-6-1-4 1-6 0-6 2-4 3-2 6-6 1-4 0-6-1-4-4-2-2-4-2-2 0-10 2-2 2-2 5-4 2-2 0-7-1-5-4-2 2-2 0-2 0-6-3-2 0-6 1-4-1-2 0-1 1 0 2-1 1-2 0-2-1-1 4 1 2 0 2 0 2-2 0-4-3-6 4-6 2-14-5-4 1-4 1-4 0-12-2-6 1-6 1-2 0-4-1-4 0-5 3-3 6-2 2-4 1-4 0-2 1-8 5-4 0-2 1-4 0-2 2-4 3-7 9 0 2 0 2 3 5 0 7 3 6 2 4 1 8 3 6 1 4 2 4 6 7 2 3 4 2 2 4 13 4 3 3 8 2 6 0 2-1 6-2 8 2 4-1 4 2 2 1 4-1 4 2 11 3 3 4 4 1 4 0 6-1 4-2 2-1 2 0 4-3 6-2 5-4 5 0 2 0 4 3 4 1 4 3 6-1 4-1 8 4 4 1 1 2 0 2 1 2 4 2 2-4-1-2-5-3-4-3-4-3-3-1-1-4-2-2-1-2 3-3 2 2 2 0 3-1 7-5 4 1 4-3 8 0 8 2 4 2 6-1 10-3 2 1 2 3 10 0 4 1 6-1 4-2 3-5 5-4 2-1 2 0 4 0 2 0 1-1 2-4 1-8-1-8 1-1 2 0M517 732l0 1 2 1 2-1 1-1zM523 733l-2 2-1 3 1 2 6 2 4 0 4 1 2 1 2 0 0-2-2-2-2 0-1-2-2-2zM391 736l-4 1-4 1 0 2 2 2 1 4 1 2 2 1 2 3 2 2 8 1 2 1 3 4 3 7 12 8 8 3 8 1 3 5 2 4 1 2 2 0 1-4-1-2-1-2-2-4-3-4-6-4-6-3-4-2-2-4-5-5-9-3-2-2-2-1-4 0 1-2 0-2-2-6-3-3zM417 742l0 2 2 4 4 3 2 3 2 2 4 2 6 1 4 1 3 2 1 2 2 1 6 6 1-1-1-4-2-2-3-6-2-2-13-8-8-4-3 0zM543 749l-1 1 1 4 1 2 0 12 1 2 10 11 2 0 2-2 2-1 1-2-2-4-2-2-3-4-2-2-1-2 0-4-2-4-1-1-4-1zM233 760l-6 1-2 1-4 1-2 1 1 2 1 1 2 1 4-1 3-1 4-4zM277 764l-3 2-1 2-1 2 1 1 2-1 0-2 4-1 1-1zM455 771l-1 1 4 4 7 3 4 3 2-2-4-4-2 0-2 1-1-3zM105 773l6-3 1 2 0 2 1 1 2 0 1-1-1-3-2-1-1-2 0-2-1-3-2-2-4-1M289 773l-1 1 5 3 2 0 2-1 1 0 1-2zM475 788l-1 4 3 2 0 2 0 2 4 6 1 2 2 4 2 8 1 2 2 1 2 0 4 2 2-1 1-6-5-4-5-12-3-3-4-1-1-2-2-2-1-3zM685 801l-1 1 1 4 2 2 2-1 1-1 0-2-2-2zM691 810l-1 0-3 2-4-1-1 1 1 3 4 0 1-1 1-1 2-1zM105 813l2 1 2 3 2 1 6-4 0-2 4-3 2 0 4-2 6 1 0-3-1-3 1-2 0-2-2-2-1-2 0-2 0-4 5-4 2 2 2 1 2 0 2-1-2-2-4-2 0-2-2-1-2 0-1-1-1-3-2-2-2 0-2 3-2-1-1 1 1 2-4 0-1 0 1 2 1 2-1 0-5-2-3-3-2-2-2 0-2 0M686 828l1-2-2-1-2 1-1 2M691 828l0-2 2-2-2-4 0-3-2 0-1 3 1 2-2 2 0 2 1 2" stroke="#fde725"/><path d="M312 102l0 2 2 2 2 4-3 1-4 1-4-4-3-2 1-2 1-2M105 115l5 5 1 2-2 2-4 0M530 132l1 0 2 0 0 2-4 3-2 1 0-2 0-2zM186 136l1-1 2 1 4 1 2 1 4 0 4 2 3 4-1 3-2 1-2 2-2 2-4 1-1-1-2-2 1-2 0-2 0-2 0-2-2-2zM105 140l1 0 0 2 1 1 2 0 1-1 0-2 0-8 3-3 2 0 4-2 2 0 1 1 2 2 1 2 2 4 1 2-1 4-2 4 0 4 1 2 3 2 2 8-2 1-2-1-4 6-2-1-1 1 1 1 1 1 0 4-1 3-4 3 1 2 1 2 1 0-2 4 1 4 2 6 0 1-2 2-1-3-3-2-1-2-1-1-2 2-2 1-2-2-2-1M509 140l0-1 2 0 2 1 2 2 0 2-2-2zM207 154l0-1 2 0 4 1 1 2-2 6 2 2 5 2 2 2 2 1 2-1 2 4 4 2 0 1-2 1 0 2-2 2-2 0-4-3-2 1 0 4-1 2 2 2 1 2-2 1-2 0-2 1-2 1-1 1-1 2-2 1-8-2-4 1-2-3-2-1-1-2 1-5 4-1 0-2 0-1-2-1 2-4-1-4 0-2 1-1 4 1 6-2 2 0 1-2-1-1-2-1-1-2 1-2zM494 156l1-1 2 0 1 1-1 2-2 0-2 0zM188 176l1-1 2 1 4 2-2 1zM215 177l0 1-3 2 1 0 2 1 2-1zM205 182l-1 2 1 2 2-2zM142 192l1-1 2 1 0 2-2 1zM185 214l2-1 2 0 2 1 4 0 5 4 1 2 3 2 1 2-2 3-2 2-8 0-1-1-2-4-1-4-4-2-1-2zM764 258l1-1 3 3 0 2-1 0-2 0zM467 280l4-1 2 1 2 1 1 3 0 4 2 4 4 2 1 0 2-1 6-4 4-1 4 1 7 7-1 3-2 2-2 1 0 2-2 2-2 1-8-1-4 0-4-1-2-1-6-3-10-9-1-2 0-4 1-2zM105 344l6 1 6 2 7 7 1 2 0 4 2 6 1 4-1 2-7 2-1 1-3 1 1 2 2-1 4 0 4 0 2 1 2 2 3 10 0 2-2 2-1 2 0 2 2 1 0 1 0 3-3 3 1 2-2 0-2 0-2 1-2 2-2 0-3 3 1 4 0 2-2 0-1-4-3-4-2-1-2 3 0 4-2 2-2 0M109 370l-1 2 1 2 2-2zM105 390l2 2 4 0 0 2 2 1 3 1-2 2-1 0-2-1-2-1 0-2-2-2-2 0M105 404l2-1 2 0 8 2 1 1 1 3 2 0 1-1 0-6-1-2-2 0 0-2-2-2 1-4-1-4 0-2 0-1-4-1-2 2-2 1-2-1 2-2 1-2-1-1-2 0-2 2M121 414l0-1 2 1 2 2-2 1zM703 466l-2 2 0 2 2 2 2 0 1-2-1-3zM105 479l4 0 4 0 8 2 8 0 6 1 4-1 10-3 4 1 4 0 6 3 6 0 4-2 8 0 2 0 6 4 2 0 2 1 2-1 4-3 2-7 6 3 6 2 4 4 4 1 2 2 4 2 10 4 8 0 2 2 2 1 4 0 6 3 10 3 6-1 6 1 12 4 2 1 4 4 6 8 9 6 3 7 4 2 1 1 0 4 3 4 2 2 1 2 5 2 7 6 3 1 1 1 0 4 5 1 11 7 4 4 3 5 8 7 0 2-1 2 3 4 1 2 2 2 1 2 14 8 2 0 4 2 4 0 6 3 8 9 2 1 4 3 6-1 4 1 16 8 8 1 2-1 2 1 1-1 1-2-1-2 0-2 7-1 1-1 3-1 1 1 2 4-5 3-2-1-3 0-2 2 0 2 1 1 4-1 1 0 1-1 2 0 2 0 2-1 2-2 2 0 2 0 4 3 6 1 2-2 2 0 6 3 6 2 2 0 6-1 4-2 6-4 6 0 6-2 4-3 2-1 4 1 4-2 6 0 2 0 2-1 2 0 2-1 2-3 3-4 3-2 1-2 1-4-2-2 0-2 2-4 12-3 2-1 2-2 8-3 4-3 4 0 4-4 4-1 6-4 10-3 4-4 4-2 2 0 4 1 2-1 4-2 3-4 4-6 1-4-1-6-1-4 3-8 0-2-5-4-2-4 0-2 1-4 3-7 1-3 2-4 3-4 5-4 1-2 2-8 1-4 3-3 3-7 2-10 1-2-2-4 0-2 0-4 1-4 11-9 2-5 4-2 2-3 2-3 2-6 0-6-2-6-1-6 1-8 2-2 1-2-1-2-2-4-3-4-2-4-1-2 1-2 3-10 3-10 1-4-1-12 1-2 0-1 4-2 7-7 0-2 0-4-3-4 0-4-1-4 1-4 6-6 2-4 6-4 4-1 4 1 0 2 0 2-3 10-4 8 0 6-2 10-5 7-4 5-1 4 0 2 1 12 2 3 1 5 1 1 4 3 3 0 2 2 1 5 2 3 4 0 2 3 2 0 2-1 2 1 4 4 4 0 6 0 4 0 6 1 4 0 15-4 3-2 0-2 1-2 4-6 3-2 1-2 0-4-1-8-1-4 0-4 0-4 3-10 0-2 0-2-2-3-2-3-4-2-1-2 3-6 0-2-2-2 1-2-1-1-2 0-2-1-2-2 1-4-1-2-2 1-2-3 2-1 2 1 0 2 2 0 2-2 1-2-1-2-2 0-2-1 0-2 2-3 2 6 8-6 2 0 0-4 2-1 1-3-1-6-3-6-1-4 0-4 2-4 4-2 6 0 8 1 4-1 6 0M169 485l-4 3-3 0-2 2 0 2 0 2 2 2 1 2 2 1 4 5 4-1 2 1-1 2 1 1 2-1 2 1 2 1 0 2 2 1 4 0 1 1 1 2 2 1 1-1 1-2 0-2-2-1-2 0-1-1-1-4-2-2 0-2 1-2-1-2-2-2-2-4zM159 498l-2 4 1 2 1 0 2-2 0-2zM105 498l2 0 4 2 2 2 2 4 2 2 0 1 1-1 1-4 1-2 0-2 0-2 1-1 4-1 4 1 1-1 0-2-5-1-2-2-5-1-3-3-6 4-4 0M129 516l-2 2 2 2 2-2zM176 566l1-1 2-1 1 2zM165 570l2-1 2 1 2 2-1 2-1 1-2 0-1-1zM105 574l4 2 1 2 0 2 0 4 1 2-1 2 0 2 2 2 1 2 2 2 6 3 2 0 0 2-2 3 0 4 3 4 0 2 3 1 2 2-1 5 1 2 4 4 2 3 1 3 3 1 6 1 2-2 2-3 2-2 4 1 2 4 6 6 2 2 2 0 3 2 3 6 2 1 4 0 1 1-1 2-2 1 0 1 2 1 0 3 1 2 3 3 4 2 10 8 4 0 2 1 6 0 10 7 6 1 2 2 2 1 4-3 2 0 2-2 0-2-1-2-7-8-1 0 0-2 1-2 0-1-6 0-2-3-2 0-5 2-1 2 0 2-1 2-3 2-1-2 1-4-1-2-5-3-2 0-2 0-2-1 1-2 0-2-2-4-3-2-2-4-5-2 3 0 2-2-2-4-1-2 1-2 2 1 2 1 0 1 2 0 2 3 4 2 4 4 2 0 2 2 2-1 1-3 4-4-1-2 0-2 2 0 2-1 1-1-1-3-6 2-2 0-1-1 0-4-5-6 0-2-3-4 0-4-2-2 1-3 2-2 4 0 4-1 1-2-4-4 1-2 0-4 2-1 2 1-2 2 2 1 8 0 2-1 2-3 2-1 2 1 1-1 0-2-1-1-2 1 0 1-1-3 5-3 1 5 1 0 4 0 2 2-1 6-2 2-1 2 0 2 2 4 2 0 2 2 4 7 1-3 5-2 2-2 0-5 6 2 3 3 0 2-1 1-4 1-3 2 1 4-2 2-1 6 1 2 2 2 2-1 2 1-4 1-2 4-2 0-1 1 0 2 1 2 6 0 2 0 1 2-3 2 0 2 1 2 0 2-1 2-6 1-1 1 1 2 7 4 1 2-2 2-1 2 3 2 2 2 0 4 2 1 1-3 1-1 2 1 0 2-2 2-1 2 2 2 1 2 2 0-1-2 0-2 3-4 2-1 2 1 2-2 0-2 0-6 0-2 2-2-2-2 2-4 1 2 0 2 1 1 1-3-1-2-2 0-2-4-2-4-6 0-1 0-1-1-2 1-2 0-1-2 2-4 1-2 4 3 2 0 5 1 0 2-1 2 2 0 4-2 10 0 2-2-2-4 4-6 0-3 4 4 4 1 2 0 1-2 0-2 1-2 2 2 1 6 3 1 3-3 0-2 2-4-1-1 0-1 0-3 4 4 2-1 1 0 0 2 1 2 2 2 2-1 1-1-3-4-2 0-2-4-4-1-2-4-2-2-6-1-2-2-2 0-4 1-1-1 1-2-5-2-1-2 2-2 0-2-1-2-5-4-1-2 2-2 1-3 2 0 1-1 0-2 1-2 2-5 1-1-1-6-4-1-2-2-6-3-2-1-2 2-2 0-4-1-4 1-3-3-1 0-2 0 0 2-2 0-1 2-1 2-4 0-5-2-2-2-1-3-1 1-1 4 1 2 1 2-2 2-6-2-2 1-4-2-4 0-2-2-2-3 1-2 2-2 0-4 2-2-1-2 3-6 0-2 3-3 4 4 2-1-1-2-2-4-1-1-2 2-2-1-2-2 0-2-2-2-2 1-2 3-1 2-1 3-2-1 0-2-2 0-2 1-2-1-2 2 0 2-2 4-2 1-6 0-4 3 2 4 1 2 1 2 1 4 2 2 3 2 0 4 1 2-3 1-1-1 0-2-3-1-1 1 1 2-1 4 0 4-3 2-2 0-2-1-1-3 0-4 2-4-1-2-2-1-1-1 1-2-2-1-4 0-1-1 1-2-2-2-2-1-4-3 2-2 2 0 1-2-3-2-1-2 1-1 2 0 2-1 2-2 3-2 0-2-3-3-2 0-2-2-1-3-3-4 0-2-2-2-2 0-2 1-4-2-4 1-2 0-2 1-2 0-2-1-2-4 1-4-2-4 1-2-2-2-4 1-10-8-4-1-4 0 1 2 5 4 2 4 6 3 1 1 0 2-3 4 1 2 3 2-2 1-4 0-2-1-2 0-2 4-1 4-3 2-2 0-3 0-3-3-4 2-2 0-5-5 0-2-2-2-1-4-2-1-4 0-2-1M162 578l3-1 1 3-1 1zM260 580l3-1 2 1-2 1zM240 592l1 0 2 1 1 3 2 4-1 2-2 0 1-2-1-2-3-2zM299 595l0 1 0 1 2 1 2-2zM311 596l-1 2 1 1 2 0 1-1-1-1zM287 600l2 2 0 2-2 2 1 2 1 2-1 2-3 3-4 2-1 3-1 1-2 0-1-1 0-2 1-2 0-2 6 0 3-2 0-2 1-4-3-4zM237 612l-1 2 2 2 1 2 4 2 1-2-1-2-2 0zM249 619l0 3-2 0-2 2 0 2-2 2 2 0 5-2zM105 627l1 3 0 2 1 1 2-1 4 2 2 0 2-1 5 3 3 1 1-1 0-2-1-2-4-1-1-1-1-2-4-4-1-4-1-1-6-4-2-1M337 630l-1 0 0 2 1 2 2-2zM129 632l-2 0 4 4 2-2-1-2zM343 631l-1 1 1 1 2-1zM241 635l-1 1 1 1 2-1zM131 636l-1 2-1 2 2 1 1-1zM183 638l2 0 0 4-1 2-1 1-1-1zM247 642l-1 0 0 2-1 1-1 1 1 1 1-1 1-1zM253 641l-1 5 1 1 2-1 1 0 1-2zM105 649l3-1 0-4 2-2 1-2-2-1-4 0M215 652l4 5 2 0 2 0 0-1 0-4-2-1-2 2zM789 652l-4 1-4 0-5 1-5 4-1 4-1 2-2 2-8-1-1 1-1 1-4 0-2 1-4-4-6 0 0-2 1-4-3-2-6 1-3 1-4 6-3 2-2 1-10 0-4 2-4 0-2 0-2-1-2 0-2-4-2 0-2 2-4-1-2 1 1 2-2 6 1 1 4 2 0 1-2 1-6 0-8-1-2 0-8-2-4 1-4 0-5-3-7-2-4 1-4 2-2 0-4-2-8-1-10 2-4 0-2 0-6-1-2 0-4 3-1 4-2 2-2 2-3 1-6 0-4 2-6 4-4 0-4 1-2 1-6 7-2 4-2 2 0 2 6 4 0 2-2 1-1 1 1 6 3 4-1 2 2 12 4 4 0 2 1 2 1 1 1 3 4 4 3 4 4 2 4 3 6 4 8 5 6 1 4 0 8-5 6 2 4 2 4-1 4 2 2 1 4-1 4 2 12 2 2 1 4 4 8 0 2-1 4-3 12-4 6-4 2 0 8 0 2 1 4 1 2 0 4 0 2-2 1-4-1-2-4-1-2-3-1-4 1-4 2 0 3 2 1 4 2 0 2-1 6 2 2 2 5-1 1-2 2-1 4 0 2 0 5-3 1-2 2 0 2 1 2 0 14 6 3-1 3-3 2 0 2 1 4-2 3 2 3 2 6 1 2 0 8-1-2-1 0-1 0-4 2-2 2 2 2 0 2-2 0-2 2-1 2 0 4-1 6 1 2-1 4-4 1-6 0-2-5-16-3-14 4-10 3-2 0-2-1-2-2-12-2-6-2-2-1-4-3-4-11-3-4-4-4-2zM201 654l0 2 2 0zM453 659l-1 1-1 2 2 3 2 1-1 2 5 3 2 1 2 1 5 5 1 2-1 2-3 3-2-4-4-3-2 1-2 0-4-1-2 0-2-2-1-4-1-1-4 1 0 2 1 2-1 1-2 0-1-1 0-2-1 0-4 0-2-2 0-2-3-2-3-1-2-3-2 0-1 4-3 4-4 2-2 1-1 1 1 1 2 0 1 1 0 2-1 1-2 0-2 0-1 1 1 2 6 2-3 6 3 4 2 1 1-1 0-4 1-2 2-1 8 7 2 4-2 1-2 0-2-1-2-1-2 0 0 1 2 2 6 2 2-1 2-1 2 1 2-1 1-2 1-1 2 1 0 2 6 6 2-2 2-1 4-1 4 2 2-1 2-3 2-6 4 3 2 0 2-1-2-3-1-3 2-4 0-2 1-2 2 0 2 8 2-1 2-5 4 0 2-1 4 0 2-1 2-4-2-2 4-2 2-4 4-1 1-1-1-1-2-1-2-5-3-1-2 0-3 2 0 2-2 1-2-1-2-3-2 0-2 1-4-2-3 0-5-2-2 2-2 0-8 3-1-1 0-4zM422 670l1-2 2 0 2 2 2 2-2 4-1 0 0-2zM751 670l0-1 1 1 3 0 2 6-2 2-4 2-4 2-2 0-1-2 0-2 5-4zM511 671l-2 1 2 2 2 2-1 4 1 1 6 1 3 2 2 2-3 2 6 2 2-1 0-1 0-2 1-8-1-3-2-1-2 1-1-1-7-3zM702 682l5-1 3 1 2 6-1 1-4 4-2 0-7-3 1-4-1-2zM505 684l-3 4-3 2-2-2-1 0-1 2 2 2 0 2 4 4 6 0 2 2 1 2-2 2 0 2 2 2 3 2 2 1 8-2 1-1 2-4-1-3-2-2-4-1-2 1-1-1 0-4-3-1-2 0-3-1-1-4 1-2zM703 686l0 2 0 1 2-1zM497 701l-2 5 0 1 4 5 2 1 2 1 2-2 1-2 1-2-2-2-2 0-4 1-1-1 2-2zM505 716l-1 2 1 1 2-1 2-2 0-1zM317 722l-3 2-2 2 1 1 5 3 3-1 1-1-1-4zM323 722l-1 0 1 1 2 0 1-1zM713 726l0-1 2-1 4 1 1 1 1 2-1 2 0 2 5 2 0 2-2 2 0 2-6-2-2-2-3-6 1-2zM305 735l-2 1 2 2zM321 739l-2 1 1 2 1 2 0 1-2 1 0 2 2 1 6 0 1 1 3 10 0 2 4 7 3 3 2 4 5 2 4 6 2 4 2 4 6 5 5 3 1 2 2 3 2 1 2-2-2-4 0-2-3-8-4-4-5-6-4-2-7-6-2-4-2-2-1-4 1-4-1-4-4-1-2-3-6-7-2-1-2 1-2-1zM718 744l5-1 2 1 2 2-1 4-1 2-2 1-1-1-2-4zM441 756l-1 0 1 2 2 1 2-1zM413 758l-2 1-1 1 0 4 1 2 4 2 6 5 9 3 3 0 2 0 0-2-2-2-14-6 1-4-1-1-3-1zM547 757l0 3 2 0zM549 770l2 2 1 0 0-2zM555 774l-1 2 1 2 0 1 2 0 1-1 0-2-1-1zM117 787l-2 3 3 4 1 2-6 3 0 5-2 2-1 2 0 2 1 2 2 0 0-2 2-3 2 1 2-2 4 0 0-2-1-4-2-2 2-2 1-4zM485 800l-2 2 3 6 1 4 2 2 1-2 0-2z" stroke="#84d44b"/><path d="M113 104l2-2 0 2 0 1zM132 102l-1 2-3 2 0 2 1 1 0 1-3 0-1-1-2 1-1-2 1-1 2 0 1-1-1-1-2-3M203 102l0 2 4 3 2-3 2 0 2-2M219 103l-1 1 0 2 1 0 1 0zM222 102l0 2-1 2 2 1 2 0 2-2 2-1 6 3 2-1-2-2 0-2M241 102l0 2 2 1 0-3M322 102l-1 2 0 3 4 2 4 3 4 1 2 2 2 1 4-2 2-2 0-2 2-1 2 1 1 4 1 1 2 0 2-1 2 1 4-1 4 1 1-1-3-1-1-3 0-2-2-2 7 0 2 4 0 2 0 1 1-1-1-2 2-1 2 1-3 4 0 2 7 5 1 3 4 4-1 2-6 2-1-2 0-2 2-2-3-5-2 1 0 4-2 6-2 0-6-4-4-2-2-1-4 0-1 1 1 1 2 0 3 3 2 4 3 2-2 2-2 4-1 4-1 2-2 0-1 2 0 4 2 2 3 1 0 1 0 2-2 1-2-3-6-3-2 0-1-1 1-2-1-2-1 0-1-2 0-2 1-1 2 0 0-1-2-4 1-2 1-1 0-2-2-4-6 1-1-2-5-2-2-2-6-1-2-1-6-6-2 0-8 2-1-2 0-4-1-1-2-1-2-3-1 1 1 2-2 4-4 1-3 3 0 4-2 2-1 1-2 1-2-2-2 0-2 1-1-1-1-1-2 2-2 1-4-1-4-3-2 0-2-2 0-1-2-1-2 1-2-1 0-2-2 1-2 0-2-2-1-1-1 0-2 0-3 2 3 2 4 1 0 3 0 2-2 2-2 0-1 2 1 1 2 0 2 1 4 4 0 2-3 2 0 4 1 1 2 1 2 0 2 6 2 2 1 4-3 2-2 2-1 0 0-2 1-2 0-1-2 0-2 1 1 4 0 4-1 0-1 0 1-2-2-4 2-2-1-2-1 0-1 0-2 4-2 2-1 2-1-2 1-2-2-1-2 0-1 3-2 2-1 2 2 1 1 1-2 4 1 3 1 1 3 1 1 3-3 1-3 3 0 2-1 0-4 1-1-1-1-2 0 2 1 4-1 2-1 4 1 0 1 0 0-2 1-1 0 3 2 4-4 3-4 0-2-1-6-1-2 0 0 1 0 2 4 5 2 1-2 3-2 0-4-3-2-2-2-4-2 1-1 1-1 2 0 2 5 4 2 6 1 1 1 1 0 2 1 4 3 2-3 0 0 2 2 2 2 2-2 2-6 1-2 0-2-2-1-1-1-2-6 1-2 3-3 2 1 1 2-1 2 4-1 2-1 1-2-1-2-2 1-2-1-1-3 1 1 2-2 2-4-2 1-2-1-2-1-4-4 0-3-2 0-2 2-1 4-6 2 1 0-2-2 0-1-2-2-6 1-2 0-1-4 0-4 2-1-3-2-2-2-4 2-4 4-2 0-2 1-2 2-1 2 3 0 1-3 1 1 0 4 0 6 1 2 2 2 3 3 2 2 2 3 2 2 0 3-2 0-2-3-2-6-1-2-3-2-1-2-2-2 0-1-5-2-2 0-2-3-2-1-2-3-2-1-2 2-2 1-2-2-4 1-4 1-2 6 1 4 2 1-1-1-2-6-3-1-1 0-4-5-5-2-1-2 3-2 0 0-1 2-5 2 2 1-1 3-1 4 2 1 1 1 4 4 1 1-1 0-2-3-6-7-8 1-2 2 1 1-1-1-5-2 0-2-1-4-4 1-2 11-5-3-7 0-2 1-1 2 1 0 2 2 3 2 0 2 1 2 2 3 4 1 2-1 2 1 2 2-2-1-2 2-6-1-4 0-2-2-2-3-4 1-2 5-2-1-2 3-2M491 102l1 2 1 1 2 1 2 0 1 2 3 4-3 2-1 2 2 4-1 2 1 1 2-2 2 0 2-1-2-4 0-2 2-2 2-3 3-1 0-2-1-4M539 102l2 2 0 2 2 3 2 0 2 1 1 2 0 2 1 0 4 0 2 1 2-1 3 2 3 0 1 4 1 2-2 2 2 1 2 3 0 2-1 4-2 2-1 2 3 4 0 2 1 2-1 2 1 3 2 1 2 1 1 1-3 4-1 0-1-2-2-1-2 2-8 3-1 2-1 0-2-2 0-2-2-2-4-2-2 0-2 1-1 1 0 4-1 3-4-1-4 1-2-1 1-2-1-1-4-1-4-3-8-1-2 1-1 1-1 4-3 2-2 4 3 4-1 4-1 1-2-1-2-1-3 1 0 4-1 2-1 0-4-6 0-2-1-1-6-2-3 3 5 5 2 0 3 1-1 4 2 1 3 5-1 2-2 1-4-6-2-1-4-1-2 0-1-1 1-4-2-3-2 1 0-2 0-1 2-1 4-8-2-2-4-2-2-2 0-4-2-1-2 0-2 0-1-1 3-4-1-2 2-2-1-2-4 3-1-1 0-2 2-2 0-4 0-4-2-2-1-4-1-2 1-1 2 2 2 0 1 1 2 4 1 1 2 1 6 0 1 2 0 2 1 1 2 1 2 0 2 1 2 0 4 0 1-1 0-2-1-2 2-2 0-2-4 0-2 3-3-3-1-8-2-6 0-1 2 2 2-1 1-2-3-1-1-1 1-4 2-4-3-2M580 102l4 2 5 1 2 3 0 2 2 2 0 2-1 2 3 1 0 1 0 3-2 2-2 0-2-1-1-4-1-1-4 1-4 0-2-2-1-4 1-2 0-4 1-2 0-2M592 102l-3 2-2-1-2-1M651 102l1 2-3 3-1-3 0-2M105 108l4 0 4 2 2-3 1 1-1 2-2 2 1 2 3 2 2 4 6 4 4 0-1-2 0-2 1-1 3 1 2 6 0 2-3 1-1 1 0 2 2 2-1 4 1 4 1 2 4-1 4 1 0 2 0 2 2 2 1 2 3 2 1 2-1 2-8 4 0 2 2-1 2 1 2 2 2 1 1 1 0 4 2 2-1 2-2 0-4-2-4 1-2-2-1 1-1 2-4 1-1 1 3 1 2 2 4 2 4 1 2 2 4 5 2 1 2-2 3 2 0 2 0 4-1 0-2 0-4 3-2 0-8 1-2 2 1 4-5 3-1 3 1 3 2-2 2 1 0 3 2 1 2 0 2-2 3 4-5 2 2 2 4 3 2 0 1-1 1-6 2-1 1 3-1 2-1 2 1 1 4-2 1 3-1 1-4 0-2 3-2 1-4 0-6 0-2-1-2-6-4-3-2-1-2 0-1-2-1-1-4-1-6-2-3-4-1-3-5-3-1-1M154 108l1-1 2 2 1 3-1 2-2-1-1-1zM165 110l4 0-2 0zM535 110l-3 2-1 2 2 3 4 2 2 1 1 0 1-2-3-4zM562 112l1-1 1 1 0 2-1 2zM146 114l1-1 2 0 2 2 2 0 1 1-1 1-2 0zM605 114l2-1 1 1-1 1zM140 116l1-1 2 1 0 2-2 1zM164 116l1-1 2 0 1 1 0 4 2 2-3 2-2 0-2-1-2-3 0-2zM215 115l-1 1 0 2 3 4 1 0 1-2-2-2zM527 118l-1 2 3 3 1-1 1-2zM361 120l0 2 2 2 2-2 1-2-1-1zM379 120l2-1 1 1 1 2zM808 122l3-1 6 1-4 4 1 4 3 1 2 1 0 2-1 2-3 2-2 1-2 1 2 3 2 1 2-3 2 0 0 3 0 2-2 2-1 4-3 1-2-1-2 1-4 3-2 0-2-1-2-1-2 0-4-1-1-1 1-2-1-4 5-2 2-2 2 0 2 0 1-4 1-1 2 0 1-1 3-1 2 2 1-1-2-8-1-1-2 1-2-2 0-2zM509 123l-2 3 0 2 4 3 1-1 1-2 0-2zM547 126l1 2 3 2 0-2zM701 128l2-1 2 1 2 2-2 4-3 0 0-2 1-2zM410 130l1-1 1 1 0 2 3 2 4 3 2 0 4 5 2 2 0 3 2 1 1 2-1 1-2 0-4-1-4-3-3-1-2-2-2-6-4-2zM695 130l0-1 2 0 2 1 2 2-2 1-2 0zM718 130l1 0 0 2-1 2-1 0zM231 131l-2 3-2 0 2 0 2 2 2 0 1-2zM584 134l1-1 2 0 1 1-1 2zM331 136l1 2 1 2-2 0-2 0zM479 135l-1 3 1 1zM217 140l-1 2 1 0 1 0zM312 140l1-1 2 0 1 1 0 2 3 3 2 1 2 0 1 2-1 2-2 1-2 2-2 1-2-1-2-1 1-2-1-2 0-2 2-2zM535 147l-1 1 1 2 2-1 1-1zM217 149l0 3 2 2 2 0zM357 150l0-1 1 5-1 1-2 1-2-1-1-1zM731 150l-1 2-1 2-1-2zM537 150l-1 2 1 2zM727 154l1 0 0 2 1 1 2 0 2 1 2 3 1 1 0 2 1 1 4 0 2 1 1-2-2-4 1-1 2-1 1 2 3 1 1 1-1 4-2 2 2 4-2 2-4 1-2 0-2-1 2-2-2-2-4-1-2-1-1-2 0-2-1 0-2 1-3-1-1-2 0-4zM831 153l-1-1 1-2-2-4 2-1M436 156l1-2 4 3 2-1 2 2 0 3 8 3-1 2 1 2 4 1 4-1 2-2 2 2-3 4 0 2 3 2 2-1 4 3 2-1 0 1 0 4 1 2 3 2 2 1 1 1 3 4 0 2 2 1 4-3 2 2 3 2 1 2 2 0 1 0 0-2-1-2 1-2 3-1 1 1 0 2-2 2 1 2 2 3 2 5 0 2-2 2-8 1-3-5 0-2-1-2-3 6-3 1-1-1-1-2-2 4 1 4-1 2-2 1-1 1 2 2 0 2 1 1 0 1-1 2-3 1-2-1-2 3-2-3 2-1 1-1-1-4-6 1-2 1-2 0 1-2 0-4 0-2 2-2-3 0-1 0 0 2-1 0-2-1-2-8-2-1 0-2-4-1-1-1 1-1 1-3-1-2-4 0-2-2-2 0-4-5-1-1 1-2-6-7-2 1-2 1-2-1-1-2 3-1 4 1 2-1 2-2 3-1 0-2-4-8zM282 162l1 0 1 2 0 2-1 1-2 0-2-1zM332 168l1-2 2 2 2 2-2 2-2 0-1 0zM750 168l1-1 2 0 2 2 7 3 1 2 1 4-2 2 0 2 1 1 2 0 0 1-2 1-4 2-2-4-4 4-4-3 0-2 2-1 2-1 2 1 1-3-1-2 2-2-2-3zM325 176l2-1 1 1-1 1zM511 176l2 1 4 5 1 4-1 1-2-1-2 1-2 2-2 0-1-1-1-2 0-1-2 3-2 0-1-2 3-4 1-2-3-2 2-1zM614 178l1-1 1 3 0 2-1 1-3-3zM745 178l2 1 1 1-1 2-1 2-1 0zM272 180l1-1 2 0 0 1zM129 184l-4 2-1 2 1 1 2 1 1-2 1-2zM756 188l1-1 1 1 1 2zM341 190l2-1 2 1 0 2 0 1zM607 190l2-1 4 1 2 0 2 3 2 4 2 1-2 2-2-1-4-1zM593 196l2 3 2 0 1-1 1-1 5 5-4 4-1 2-1 0 1-2-1-2 2-2-3-1-2 0-2 1 0 2zM221 196l-1 2 1 2 3-2zM256 198l3 0 0 2-2 1-2 0zM209 199l-2 1 2 1 2-1zM157 202l2-2 2 4 1-2 3-2 1 2-3 4-2-2-2 0zM441 202l2-1 2 3 2 0 2-1 2 1 4 4-1 2 4 6-1 2-2 0-2 2 0 1 2 2 1 1 0 2-1 2-1 2 1 1 2 0 1 1-1 2-2 1-2-2-2 1 1 2-3 3-1 3 2 2 0 2 1 1 2-1 0-2-1-2 2-2 0-2 1-1 4-1 6-4 2 1 6-2 2 2 2 1 1 4-1 4-1 2-2 6-3 1-2 0-1 1 0 4 3 4 2 2 2 0 2 1 0 2-1 1 1 2 2 1 2-1 4 0 0-2-1-4 1-4 4 2 2 3 1 3-3 2 4 4 1 2-1 2 2 0 2 0 6 4 1 2 3 1 6 5 0 2 0 2-3 2-1 6 1 4-1 1-10 6-4 1-6-2-6 1-2 3-2 0-1-2-1-1-4 0-2-2-2 0-2 1-2 0-2-7-2 1-2-1-4-3-1-2 0-2 1-2-1-2-1-2-6 1-2-1-2-2-2-4-4-2-2 0-4-1-2 1-2-2 1-2 0-4 1-2 2 3 1-1-1-2 2-2 2 2 0 2 2 2 3-2 1-2 0-2-7-6 0-4 1-2 1-2 0-6 3-4 3 0-1-4-2-1-2 0-4 2-2-1 1-2 1-1 2-1 3-2 0-2-1-1-4 1-1-2-1-2 6-4-5-6 0-2 3-2 1-2-3-1-4-1 1-2 1-2 4 0 1 0 1 2 2-1 2 3 1-2 0-4zM267 204l2-1 2 0 2 3-3 2-1 4-2 1-2 2-2-5 1-2zM160 208l1-1 2 1 1 2 0 2-1 1-2 0-1 1 0 2-1 1-2-1 0-2zM235 210l2-1 1 1-1 1zM242 210l1 0 4 0 1 2-1 1-2-1zM421 220l2 0 4 3 3 3-1 1-2-2-4 2-2-1-1-2zM441 220l-1 2 0 2-1 2-2 1 0 1 2 3 2 1 1 2 0 2 1 2 2-2 1-4-2-2 0-2-2-4 0-2zM743 220l2-1 2 3-2 1zM105 223l2 0 2 3 2 0 1 4-1 2-2 2-4 2M379 224l2-1 2 1 2 3 3 1 1 2-3 2-5 1-1-1-2-2 0-4zM261 230l0-1 4-1 2 2 0 2-2 1zM217 236l4 0 2 1 2 0 4-2 2 0 1 1 1 3 3 1-1 0-4 0-4-1-6 2-4 3-2-1 0-5 2 2zM603 238l2-1 2 0 3 1 0 6-1 1-1-1-1-2-2-1zM614 238l1-1 4 1 2 3 2 1 2 6 1-2 1-2 4-4 2 0 0 2-1 2-2 2-1 3-4-1-2 2-4-2-2 0-2 1-1-1 1-4-2-2zM735 240l-1 4 1 1zM757 242l-2 1-1 3 0 2 1 1 2 0 2-3zM793 250l0 1 2 3 2-1 1-1zM480 252l1 0 2 0 0 2-5 4-1 0-3-4 1-1 2 0zM791 252l-3 2 2 2-3 1-1 1 0 2-1 3-2 0-1 1 1 1 2 1 2 3 2-2 2 0 4 3 2 1 2 0 1-3-1-2-2 0-1-2 0-2 0-4-1-4-2 1-1-1zM443 255l-1 1 3 2zM516 260l1 0 1 2-1 2 0 1zM709 264l0 2 0 4 3 4-2 2 4 4-1 1-7-1 0-2 2-2-1-4 2-2zM769 280l2 2 2 1 2-1 0-2 0-1-2 0zM105 280l4-2 2 1 0-3 2-3 2-1 0-2 2 2 2 4 1 4 2 2 0 2-2 2 0 4-1 1-2 0-1 1-3 3-2 3-4-1-1 1-1 3M111 281l-2 3 0 1 2 0 2 0 1-1zM767 286l-2 2 0 4 0 1-1-1 0-2-3 0-1 2-1 1-4 1 1 6 1 2-2 2-4 0-6-2-2 1-4-4-1 3 0 4-1 1-2 1-2 5 0 2 4-2 6 2 2 1 2-1 2 0 2 3 2-1 1-1-2-4 1-1 2 0 2-1 1-4 3-2 2-2 0-2 2-2 2 1 1-1 0-2 1 0 1-2 0-2 1-2 0-2zM777 308l-1 0 0 2 1 2-1 4-1 1-2 1-4-1-4-3-2 2 1 2-1 1-2 0-2-1-2 0-2 2 0 2 0 2 4 6-2 2-2 1-2-4-2 2-3-3-1-2-3 2-1 2 0 2-4 0-2 0-2 2 3 6-4 2 1 2 2 1 2 2 2 0 2-1 1 2-1 1-2 0-2 1 2 5 2 1 4-1 4-1 2 4-1 2-4 2 2 4 0 2 3 8 3-2 0-2 0-4 1-2 2-1 1 5 0 2-1 2 0 2 2 3 4 0 2-1-1-2 1-4 2 1 2 2 2 0 1 1 0 2 1 2 2 0 3-2 1-2-2-2-3 0-2-2 0-2-2-2 0-4 1-1 2-1 4-1 2 2 4 2 6 0 4-1 4 0 2-2 0-2-3-12 0-8 3-10-1-4-1-2-4-2-8-6 0-4-1-2-3-3zM763 309l-1 3 1 1zM768 324l1-1 2 1-2 2 0 1zM105 330l4 3 7 3 5 4 2 4 4 4 0 3 1 1 2 2 3 8 3 2 0 2 3 6 0 3 4 5 2 5 2 1 2 2-2 2-2 1-2 3 0 2-2 2 0 2 0 2-2 4-1 4-3 3-2 4-2 0-2 4-3 1-9 7-6 1-2-2-2-1-2 0M727 330l-1 2-2 2-3 2 0 2 0 3 2 2 4-1 2 0 2 0 1 0-1-4-2-2 1-2zM771 334l2-1 0 3-2 0zM747 336l0-1 2 0 2 1-2 1-2 1zM763 344l2-2 2 2 1 2-1 0-2 0-4 1 0-1zM766 352l3-1 1 1-1 1zM169 394l2-1 2 0 3 3-1 1-2 0-2 0-5 3 3 4-2 4-2 2-2 0-3-4 0-2 1-2 2 0 1 0 1-2 0-4zM154 406l1-1 2 0 2 1-1 2-1 0zM160 468l1-1 1 1-1 3-2-1zM105 474l2 2 4-5 8 5 8 0 4 1 4-2 4-4 2 0 2 2 2 1 6 0 4 2 2-1 2-2 2-1 2 1 4 0 2-3 2-1 4 2 2 1 2 1 6 2 1-1 1-2 0-3 2-3-2-6 2 0 2 0 4 1 2 1 2 2 2 1 2-1 4 2 6 6 2 2 4 1 2 2 6-2 1 1 5 6 1 4 3 3 4 0 6-1 4 1 4-1 5 4 0 2 2 2 1 0 4 1 6-2 2 1 2 1 2-1 2 0 4 2 2 0 2 1 6 2 4 4 2 1 3 4 0 2 5 5 8 3 3 4 1 4 4 4 2 0 2 1 2 3 0 3 2 2 1 3 3 1 1 1 3 2 4 3 6 3 4 5 6 5 4-1 3 3 2 4 1 1 10 7 1 2 1 5 2-1 2-1 0 2-2 5 2 4 2 2 0 2 2 2 2 0 2-1 2 0 2 3 6 0 2 1 2-1 4 1 2 1 0 2-1 2 0 2 1 2 6 6 2 1 2 1 2 1 4-1 6 0 2 2 2 2 4 1 8 4 2-1 0-2 2-1 2 0 4-2 6 0 6-2 2 0 1 1 3 4 2 0 2-1 4 0 1 3 3 2 6-1 2 1 4 2 4 2 6 0 2 0 4-4 4-2 0-2 2-2 6 0 1 2 3 0 3-2 3-5 2 0 2 1 2 0 6-1 6 0 2-1 2 0 0-2 2-2 3-2 0-4 1 0 2 0 0-2-2-6 0-2 4-4 2-1 2 0 2 1 6-3 4-4 2 1 4-2 7-4 1 0 2 1 2 0 2-1 2-3 2-1 2 0 2 0 1-2-2-2 0-2 3-2 4 3 2 0 4-1 4-2-1-4 1-1 4-1 4-2 8 2 2-2 2-1 4-5 1-4-2-6 1-4-1-2 3-6-1-2-5-2-2-2-3-6 3-2 2-2 0-2-1-2 4-4-1-1-3-3 3-2-2-4 4-2 6 0 4-2 1-2 1-4 0-4 0-4 5-4 1-2-1-6 3-4 2-1 0-1 1-2-1-1-2-1-1-2 0-4 0-2-1-4 1-6 1-1 3-1-1 0-1-4 3-1 2 3 2-1 2-1 4-7 3-1-1-2 0-2 0-2 2-2 1-6-3-1-1-1 2-2 0-4 1-2 4-2 0-8 0-2 0-2 2-2 0-2 0-2-2-2-2-4-3-4-1-4 1-2 3-2 2-2 2-8 0-6 1-4-1-8 1-8 1-2 7-4-1-2 4-2-2-3-2-1 2-2-2-6 1-4 1-4 5-6 0-2 3-4 2-2 2-4 1-2 1-3 6 2 2-1 1-2 0-4 1-1 2 0 1 1 0 4-1 2 2 3 2 0 2-1 3-4 1-2 3 0 1 2 2 1 2-1-4-6-1-2 0-2-1-1-4 0-6 3 0-4-4-1-2 2 0 3-2 4-2 0-1-2-3-5-2 0-2 1-1-2 0-4-1-2-4-4-4-2 0-2 2-2 1-2 0-2-1-2 0-1 2-1 0-2 2-1 2 0 2 2 2 0 4-1 2-1 2-1 6 5 2 0 4-3 2 1 2 3 2 0 2-2 2 0 1-2 0-4 1 0 2 1 2-2 2 0 4 2 2 0 4-1 2-3 4 1 2-1 6 1 2 2 2 0 2 0 2 2 1 2 1 1 2-2 1 1 4 6 1 0 6 1 2-1 5 2 3 0 2-1 4-1 4 2M270 492l1-2 2 2zM173 528l-2 2 0 2 6 1 2 3 2 0 1-2-1-2-2-2zM153 542l2-1 1 3-1 1zM173 543l-1 3-2 2 1 2 2 1 1 3 1 2 2-1 2-3-1-2 2-2-1-2-2 0zM215 554l-2 1-4 1 0 2 2 2 0 2 2 2 4 2 4 1 2 3 2 1 2 0 0-1-1-2-1-2-1-4 1-4-1-2-1-1-2-1-2 0-2 2-2 0zM105 571l5 3 2 4 1 5 2 3 0 4 2 3 8 2 2-2 6 1 2 0 2 0 2 2-2 4-1 2-4 2-2 2 5 4 2 0 2 0 1 2 0 2 1 2 2 0 2 1 1-1 1-2 4 0 2 2 1 4-1 2 1 2 1 0 2-1 1 1 3 3 3 1 0 2-3 2 4 1 3-1 0-10-4-6 0-2 1-2 2 0 2 0 4 3 1 1-1 2 2 4 0 1-2 1-2 2 2 3 2-3 2-1 2 2 2-1 2 0 4 3 4 1 1 2 3 2 2 0 4-2 1-2-1-2 2-4-3-2-1-2-2-1-4 0 0-2 1-1 0-2-5-4 1-4-1-2 0-1 2 0 2 0 2-2 2-5 0-8-3-6 0-2-1-1-5-1-1-6-2-2-2-1-3 1-1 4-4 0-1 4-1 1-1 3-4 4 0 2-1 0-1-2-3-1-4-4-2 1-5-4 0-2 1-3 2 0 2-1 1-2 0-4 1-2 4 0 4 0 1-2 0-2-2-4 0-2 0-4 2-2 1-6-4-2-2-3-4 0-4-2-2 1-1-2 0-2 1-1 2-1-2 0-4-2-4 3-3 1-1 2 0 2 0 2-2 1-4 0-4-2-4 0-6-1-2-1-8-8-1 1-1 4-4 5M273 571l-1 1 3 4 2 8-1 2 0 4-3 2 0 2 2 1 4-2 2-1 2 0 2-2 1-6-1-1-3-5-1 0-2-3zM245 576l0 4-3 2 1 2 2 0 2-1 2 3-1 2-2 2 1 4 2 1 1-1 2-2-3-4 3-4 0-2-3-4-2 0zM221 580l-3 2 3 1 2-1zM176 586l1 0 2 0zM259 588l0 3 2 0 4 0 0-1 3-2-1-1-4 1zM278 588l3 0 2 2-2 2zM142 598l1-1 3 3-1 2-2 1-1-1zM269 601l-1 1 1 1 2-1zM135 614l-2 1-1 3-1 2 4 5 2 0 2-1 2-4-1-2-1-2-2-1zM311 620l1 2 1 2 2-4zM203 636l-1 0-1 2 2 1 2 0 2-1zM209 636l-2 2 0 2 2-1zM269 651l-2 1-3 4 0 4-1 2 1 4 5 3 2 0 2-3 1-8 0-2-3-2zM189 655l-4 5 1 2 3 2 1 2 6 6 3 0 1 0 4-4-1-2-6 1-2-1-2-6zM781 656l-3 2 0 2 1 1 5 1 1 2 2 1 1 3-1 6 1 2-1 2-2 3-1 1-1 2 2 2 2 0-2 2-2 0-1 2 1 2-4 4-2 0-1 2-2 4-5 2-2-1-2-2-2 1 0 2 1 2-3 1-1-1 0-2-3 0-6-9-6 2-4 2-4 0-2-1 0-4 1-2 3-2 0-2-2-2 1-2 2-2-1-4-2-3-2-7 3-8-1-1-2-1-4 2-5 6-1 3-2 1-4-1-1 1-1 4 0 2 2 2 1 2 2 4-2 4 1 4 2 2 2 0 1 4 2 2 0 2-1 2-6-1-4-2-4 0-4 4-4-3-2 2-2-1-2 1-2 2 1 2 1 0 4-1 1 1 0 4 5 4 2-1 4 2 4 1 6 4 2 0 0 1-2 3 1 2 1 1 8 5 1 2 1 2 2 2 1 2 3 4 2 1 2-1 2 2 4 1 2 2 2 3 2 1 3-1 1-1 4 1 4-2 6 0 2 0 4 3 6 1 6-3 2-5 2-2 4-2 1-2 1 0 2 0 1 2 3 2 8 0 4-1 1-1 1-2 1-6-5-14-1-8-2-8 2-4 0-4 2-4 1-4-2-14-4-4-1-2-1-4-2-2-6-1-4-2-2-3-4-3-2 0-4 1-2 0-4 3zM475 668l-2 0 0 4 4 3 2 1 1-2-3-6zM775 668l-1 2 1 1 2 1 1-2zM597 676l-2 0-1 2 2 4-1 2-2 0-4 3-6 2-2-1-1 0-6 4-5 2-4 0-6 4-2 4 1 2 1 0 1 2-1 4 0 6 1 4-2 2 3 4 0 8 1 2-1 2 1 2 1 2 1 4 2 4 1 2 3 2 3 5 2 0 4 4 2 0 6 5 6 4 2 0 2-1 4 2 2 0 1-1 3-4 4-1 8 2 4 2 8 2 2-1 2-1 2-3 2 0-1 2 3 2 4 0 1 2 5 2 6 4 8 0 2-1 2-3 6 0 2-2 2-3 2-1 2 1 2 0 1-1 0-2-1-2-2 0-2 2 0 2-1-4 5-4 2 2 2 1 2-1 2 2 1 2 1 1 2 0 4-3-1-2-2-2-3-6 0-2 2-3 2-1 4 0 4-2 2 1 2-1-1-4 2-4-1-2-3-6 1-8-1-2-1-2-2 0-6-1-2-1 0-1-2-1-2 1-1-1-4-4 2-6-1-1-2 3-4 0-2-2-4-2 0-2-2-2-2-1-4 0-1-1-8-10 0-2-1-1-4-1-2 1-2 1 2 2-2 2-1-2 1-2-4-6-6-4-2 1-2 2-4 0-4-2-2 0-1 1 3 4 4 0 4 4-1 6 1 2 2 0 1 2 1 2 0 1-4 1-2 0-1 0 0-2-4 0-3-2-6 4-1 2-1 1-4 1-3-4-1 0-1 0 1 4-1 2 0 2 0 4 1 4 1 6-1 3-4-4-3-3-3-3-2 1-2 0-6-7-2 0-2-1-1-4-2-2 0-2 1 0 1-2-1-1-2 1-1-2 1-1 4 1 3-2 1-2 2 0-2-1-2 1-1-2 1-1 2 0 2 0 4-4 4 3 4 2 2 0 2 2 2 0 10 6 2-6-1-4 1-1 3-1-4-4 2-2 0-2-3-2-4 1-2 1-2 0-12-1zM227 677l-1 1 0 2 1 2 2 1 1-1 2-2 0-2zM673 685l-2 1 0 1-1 7 1 1 4-1 2 1 4-2 1 1 1 2 2 1 2 0 1-1-3-4 1-4-3-2-2 1-2 0-2-2zM769 684l-1 2 3 6 1-2zM447 688l-2 4 0 2-2-1-2-2-2 0-1 1 7 4 0 2 2 3 2 0 0-1 0-1-1-1 1-3 8-1 2-2 1-2-3 0-2-3-4 2zM643 690l2-2 1 2-1 1zM697 697l-2 1 1 2 3 1 1-1zM591 699l-2 1 4 2 0-2zM735 702l1 4-1 2-2 0-3-2 1-2zM735 714l2-2 2 0 1 2-1 2-2 0zM600 732l1-1 4 2 2-1 1 4 2 2 0 4 1 2 2 2 9 4 0 2-3 4 0 2-2 1-2 1-1-2-1-2-1-2-7-6-1-2-1-1-6 1-2-3-2-1 4-3zM353 782l-1 4 1 3 6 5 4 2 1-2-1-1-2 0-1-1 1-2-4 0-4-6z" stroke="#25ab82"/><path d="M137 102l2 1 4 1 4-2M164 102l3 2 4 1 2 4 2 1 4-1 2 0 1-1-1-2 2-4M403 102l4 2 2 1 2 3 2 0 2 0 4 4 4 2 0 2 2 1 4 0 1-1 0-2 1-2 2-1 2-3 2 0 2-4-1-2M657 102l1 2 2 2-2 2 0 2 3 2 2 3 2 1 4 1 6 2 1-1 1-2-1-2 1-2 0-2 1-2 3-2 4 1 1 1 1 2 2-1 5 1 0 2 3 2 6 1 2 1 2 0 1-2 0-2 0-2 1-1 2 1 4 1 4 4 2 0 2-1 2-5 3-1-1-3-8-3M681 102l-2 3-2 0-2 0-3 1-1 3-1-7M707 102l0 2 0 1-2 0-1-1 1-1 2-1M803 102l4 1 2-1M830 102l1 2-1 4 1 2M187 104l-3 4 1 1 2 1 3-2zM379 109l-1 1 1 3zM405 109l-2 2-2-1-2 1-2 1 3 4 1 1 4 1 2-2 1-4 0-2zM641 109l-1 1 0 2 0 4 1 2 0 4 0 1-4-2-2-3-2 0 2-1 1-3-3-2-2 0-4 2-2 3-2 0-2-2-1 1 1 4 0 2 1 2 0 2-1 1-2 0-2-1-2 0-2 1-2-1-2-1-1 1 0 2-2 2-1 1-6 1 1 2 1 2-1 2-3 1-2 1 4 8 0 4 2 2 0 2-2 2-2-2 0-2-4-3-4 0-2 1-2-1-4-2-1 1 1 4 2 1 2 1 4 3 4 1 2 2-2 2-2 0-2 1-6-3-2 2 1 2 2 4-2 6-4 2-1 2 1 2 1 1 2 1 3-2 1-2-1-2 1-2 2-1 2 0 2-1 2 1 2-3-1-2 0-2 1-1 4 2 2 3 2-1 2 0 4 3 2 0 2-2-1-2 1-1 6 1 2-1 4 3 5 2-2 2 3 2 1 0 1 0 1-2 0-2 2-2-1-2 4-5 4 3 2-1 2 1 5 4-1 1-4-2-2 3 0 2 0-2-2-1-2-1-1 2 0 2 2 2 0 2 1 1 3 1-1 2 8 3 5 5 1 2-2 2 0 4 4 4 2 0 6 3 1-1 1-3 2 0 6 2 1 1 2 2 1 3 3 3 1 2-1 2 2 2 1 2 2 0 2-2 2-1 2 1 6 2 2-2 2 0 2 1 4-1 1-2-1-1-2 0-2-1-2 1-2-1-5-4-1-1-2 1-7-8-3-1-2-2-2-3 1-2 3-2-1-2-5-2 0-6-2 0-2 1-2 0-2 1-1-2 3-2 1-2 0-2 1-1 2 2 4 1 2-1 2 4 4 0 2-1 1-2 0-2 3-2-4-4-2-1-2 1-2 0-1-2-1-2 1-2 1-1 6 0 1-3 3-2 2 1 2 1 2-2 2 2-1 2 1 2 2 1 4-2 4 1 2-1 1-3-3-3-2 0-2-2-4-5 0-4-1-2-3-2-2-1-2 1-2-1-2 1-2 1-1 1-1 4 1 2-1 1-1-3-5-1-2 1 4 4 1 4-3 1-2-1 0-2-2-3-2-2-4-8-2-1-2-2-4-1-4-2-2 0 0-3-2-2 2-3 4 0 2 0 1-1-1-1-2-1-8-6-2-1-4 0-2-1-2-2-2-1zM455 111l0 3 2 1 2-1-1-2zM689 114l0 2 2 1 2-1 0-2zM403 118l-1 2 0 2 1 1 2 0 1-1zM675 121l-1 1 0 2 3 1 1-1 0-2zM653 126l2-1 2 1 1 2-1 1-2 0zM161 128l-4 4-2-2 0 2-1 2-4 2-1 2-2 0-1-4-1-2 1-2-1-1-1 1 0 2-3 4 0 2 1 2 3 1 2 3 0 2 2 2 2 1 2 0 3-3 0-2-2-2-1-4 2-2 2 0 2 3 2 1 10 4 3-2 0-2-3-4 1-2-1-2-2 0-3-2zM431 128l-1 0-1 2 4 4 1-2 2-2 0-2zM773 129l-1 1 0 2 1 1 2 0 1-1 0-2zM263 132l-2 0-1 4 1 2 3 4 9 4 0 2 2 2 4-1 2-2 2 4 2 1 1-2-1-2 0-6-1 0-1 1-2 0-1-1 1-2-2-2-2 0-4 0-4-4zM423 131l-1 1 1 1 2-1zM439 133l-1 1-1 2-2 1-4 0-2 1 0 1 1 5 2 2 1 2 2 1 5-1 1-2-1-4 5-4-1-2-1-2zM369 140l-2 0-2 2 2 1 2 1-2 4 3 0 1-2 2 1 1 1 0 2 4 8-1 4-2 3-4 2 0 3 4-3 2 1 2 4-1 4-1 2 1 4-1 4 2 2 1-2 1 0 2 3 3 7-1 1-2 1-4 1-2-3-2-1-2 1 0 2 3 2 3 4 2 1 4-6 4-2 2 0 5 5 1 2 1 0 0 4 1 1 2 0 4-1 4 2 4-4-3-4 2-2 0-2-1-2-1-2 1-3 1-1 5-4 0-2-2-2 2-2 0-2-2-2-2 0-4-3-1-3 0-2 1-1 1 1 2 0 1-2-3-2 0-6-2-2-7-3-4 1 1 2-1 1-1-1 2-4 0-2-2-4 1-1 2-1-10-2-2-1-4 1-2-1-2 1-1 2-1 3-2-2-1-3zM451 141l-1 1-1 2 2 2 1 2 0 2 1 0 1 0 0-4-1-3zM259 142l-1 2 0 2 1 1 2 0 1-1 1-2zM617 146l2 0 2 0 0 1zM625 150l1 0 1 2-2 2-2-1zM157 152l-2 1-1 3 1 2 2-2 2-2zM287 152l-1 0 3 1 2-1zM273 153l-2 1-2 2 1 2-3 4-1 2 3 2 3-2 1-2-1-2 3-2 0-2zM423 154l-1 2 1 2 2 4 1 0 1 1 1-1 1-2-2-4zM671 156l2 1 1 1 0 2-2 2 1 1 2 0 1-1 2-4 2 0 0 2 3 3 1 1 1 4-4 3-3 1-2 2-1 2-5-2 1-1 0-2-5 3 0 2-1 1-4-1 2-1 2-1 0-2-2-1 0-1-1-2 1 0 2-2 4 4 2 0 1-2-1-5-2 0-2-1 3-2zM598 164l1-1 6 0 1 1-1 2-2 1-2 0zM575 167l0 1 2 1 2-1zM717 167l-1 1 0 2 1 0 2 0zM349 170l-2 2-2 4 0 4 2 1 2-1 3-4zM656 170l1-1 1 1-1 2zM249 173l-3 3 0 2 5 8 2 1 2-1-1-2 1-2-5-6zM387 174l2 0 1 2 0 2-1 2-1-2zM535 174l-2 4 1 2-1 2-1 8-1 2 3 6 0 2-3 4 2 3 2 0 2-4 4 4 2 1 4-4 2 1 2 0 2-1 1-2-3-2 0-2-6-6 2-2 8 2 2 2 2-1 2 0 1 1 3 0 2 2-2 2-1 2 3 1 2-1 0 2 3 4 0 2 1 1 4-1 2 4 2 2 0 2 2 2 2-2 1-6-1-1-4-1-2 0-1-2 1-1 4 1 1-2 3-2 0-2-6-4-2-8 0-2-4-3-4-1-2 0-4-4-2-1-4-3-2-1-2 1-2 2-4 0-4-3-4 2-2 1 0 2-1-2 0-2zM359 175l-3 3 0 2-3 4 0 2 4 2 10 3 2-2 2-3-2-2-2 0-2-2 2-2 2 0 2 1 2 0 1-1 2-2-1-1-2 1-2 2-2 0-1-2-3-1-2 1 0 1zM521 178l-1 0 0 2 1 1 1-1zM795 180l-2 2 2 2 4 0 2 0-2 0-2-2zM257 180l-2 2 2 1 2 1 1-2zM167 183l-2 1 1 4 1 2 2-1 2 1 2 0 1-2-3-1-1-1zM558 184l1-1 2 1 2 2-2 1-4 0-1-1zM787 184l-4 3-1 3 1 1 4 0 2-3-1-2 2-2zM429 188l0 2 0 1 2-1zM805 189l-1 1 1 4 2-1 1-1 0-2zM813 190l-1 2 1 3 1 1 1 0 0-2zM831 191l-2 0-2 1 1 2-1 2-2 0-3 2 0 2-1 4-2-1-1 1 1 2 2-2 2 2 1 2 3 6 0 2-2 2-2 1-2 0-4-1-2 1-5 3-3 3-2 1 4 1 1 1 0 2 1 2 2 0 4-4 2 2 2 0-1-4 1-1 2 4 1 3 3 4 4 1M321 194l2-1 2 1 2-1 1 1 0 4-1 1-2-1-2-1zM239 196l-2 2 2 1 2 0 1-1zM635 195l-4 5-2 0-1 2 3 2-2 2-4-1-1 1 0 2-1 1-2 0-2-2-6 1 4 0 4 3 2 0 2 1-1 2-1 3-1-1-5-1-1-1-1-1 0 1-5 6 0 2-2 2 1 1 2-1 2 1 0-3 4-1 1 1 1 1 0 3 2 1 0-1 2-1 1-1 1-3 2 0 1 1 1 2 2 2 2-2 4-2 2 1 4 5 2 0 0 2 0 2 2 0 2 2 1 4 1 1 4-1 2 2 1 0 0-2-4-4 0-2 3-2 1-2-1-1-2 2-2-1-4-3-2-1-2-4 2-3 2 3 2 0 2 0 4-2 0-3 4 1 3 0 2-4 0-2-1-1-2 1-2-5-5-1 0-2-1-1-2 0-2-1-2 1-6-1-2-1-2-1zM679 196l3 0-1 1zM330 200l1-1 2 2 2 3-2 2-3-2zM399 204l2 0 1 0-1 2 0 1zM611 209l-1 1 1 1 2 0zM143 211l-1 3 1 0 4 0-1-2zM638 212l1-1 2 1 2 2-4 1zM665 217l0 3 2 1 1-1zM247 220l-2 2-2 0 4 2zM516 228l1-1 3 3-1 1-2 0-2 0-1-1zM505 231l-1 1 0 2 3 0zM119 236l-1 2 3 4-10 2 1 2 0 4 1 1 2 0 2 1 2 4 2 2 2-2 2 4 2 0 1 2 0 2 3 2 2 1 2 0 1-1 1-4-1-2 1-2 4-2-1-2-1-1-3-5 1-2-5-4-1-3-4 0-2 0-1-1-1-2zM167 240l0 2 4 1 1-1-1-2zM413 242l-1 2 0 2 3 3 2 1 1-2 0-2-2-2zM205 248l-2 1-2 0 0 2 4 0 1-1zM147 260l0 3 1-1zM381 268l3 4-1 1-2-1zM549 293l-1 1 0 2 1 0 2 4 1-2zM401 306l2 0 2 2 1 2 0 4-1 1-1-1 0-2-1 0zM395 308l2-1 1 1 0 2-1 1-2-1zM555 318l2 0 1 0 0 2 0 4-1 1-2 1-2-1-2-3 0-2zM602 320l3-1 3 1 0 4-1 1-2 1-1 0-1-3zM777 319l-2 3 0 6 1 4 1 10 4 6 0 4 2 3 2 5 2 1 4-1 4 1 2 0 2-1-1-4-1-2-1-8 0-2 3-14-1-4-1-1-4-1-8-4zM596 322l3-2 2 2zM403 326l2 0 3 2-1 1-2 0zM105 327l2 0 4 3 6 3 8 6 2 5 2 2 2 1 3 5 1 2 2 5 4 2 6 1 1 2 0 2 1 1 2-2 8 2 4 2 2 0 1 1 1 4 2 1 2-1 2 0 2 4 2 2 1-2 1-1 2 0 2 2 4 0 0 3 2 3 4-4 2 0 1-1 0-2 1-1 2 0 2-1 2 0-1 2-1 2-2 3-4 3-4 1-1 3-4 6 0 2-3 4-4 3-2 0-1 1 0 2-1 1-2 1-1 2 1 2 0 4 3 2 0 2 1 5 2 1 1 2 3 4 3 0 0 2 2 2-1 6 3 4 3 6 4 2 4 2 2 2 4 1 2-1 2-3 2 1 2 4 4 2 2 0 0-2 0 2 4 2 6 6 2 1 1 1 0 2 0 2 1 1 3 1 0 2 1 1 4 0 2-1 2 1 2 1 6 0 2 0 2 0 2 2 2 1 2-2 2-3 4-3 2-1 6 1 4 5 6 1 2 2 2-1 2 1 4 1 2 2 1 2-3 4 1 2 1 1 7 1 0 2 1 1 1-1 0-2 3-1 2 1 2 2 1 2-1 2-1 2 1 2 4 3 2 3 2 1 2 0 1-3 1-1 4 3 2 0-2 1-3 3 1 1 2-1 3 2-1 1 0 1 4 2 1 2 1 2-2 2 4 6 0 2 2 3 8 6 2 1 2 3 6 2 2 2 4 0 2 2 4 1 0 4 2 2 1 2 1 1 2 0 2 0 4 3 2-2 2 0 1 2 0 4 3 4 0 2 4 0 1 4 1 1 2-1 3 6 2 2 1 1 4-1 10 10 1 2-1 4-1 2 1 1 2-1 2 2 2 0 2-1 2 1 4-3 1 1 1 2 2 2 4-3 0 2-1 1 3 6 6 1 4-2 4 0 4-2 4 2 3-1 1-1 2-1 6 3 4 0 4-2 4 3 2 3 2 1 2-1 2 1 2 0 2 4 2 0 8 1 2-1 2-4 2-2 6-5 2 1 2-1 4 1 1-2-1-4 0-2 0-1-4-1-2-2 0-3-3-3 1-3 2 0 2 0 0-1 2-1 2 1 1 2-1 1-2 0-1 1 3 0 2-1 2 1 2-1 1 1 2 2 0 2 1 2 2 2 6 0 1 0 1-3 2 0 4-1 1-2 5-8-2-1 0-1 6-4 10-2 2-4 4-1 6-6 2 0 2 1 2 0 2-1 2-3 6-3 4-5 2-1 4-7-3-4 2-2 0-2-1-2 2-3 2 2 4-1 2 1 2 2 2-2 6-1 1 4-3 2 2 1 2-1 3-4-2-2-3 0-1-2 1-4 0-4 2-6 0-2-2-2-1-2 0-2-2-2 0-2 2-2 1-2-1-2-1-4 2-2 0-2-1-4-1-1-1 1 0 2-1 1-3-1 2-4 4-2 1-4 4-4 4-1 2 1 4 1 4 0 2 2 2-3-4-2-2-2 0-6 5-6 0-2-1-3-2-3-3-2 1-2-2-4 2-1 2-1-4-2-1-2-1-8 2-4-2-4 1-2-1-2 1-2-1-4 1-2 1-1 2 1 4 4 2-1 1-1-3-5-2 0-4 0-2 0-1-3 1-1 2-1 2-3 2-1 2 1 4 1 3 4 1 1 4-2 8 6 2 0 3-3-1-2 0-2 3-2-3-4-2 5-2 0-2-1 0-4 0-1-4 0-4 0-2 0-2 0-4-3-2-2 3-4 0-2-1-2 2-3 2-1 2 1 2-4 2 1 2 1 2-3 3 0 0-2-1 0-2 2-2-1-1-1 0-2 3-3 2 0 2-2 2 3 4 0 0 2 4 4 0 2-1 2 0 2 5 3 1-1 0-4 0-2 2-2-1-1-2 0-1-1 1-3 3-3-2-4-2-2-1-2-6-4 1-2 2-2 2-4 3-3 2-1 2 1 2-1 1-2-1-2 2-1 1-1 0-4-1-3-2 1-2 0-2 0 1-2 0-2 4-2 3-4 1-4-1-2 1-2-2-2 1-1 2-1 1-4 1-2 1-2-1-2 0-2-1-4 3-4 0-2 0-2-1-2-5-2-1-2 1-2 1-2-3-2 2-4-2-4-4-4-2 0-3-4 1-1 2 0 2 1 0 3 2-3 2-1 2 1 1-2-1-1-4 0 0-1-2-1-2-1-2 1-1-1 1-1 2 1 4-1 2 1 2-2-4-1-1-1 1-1 4 1 1-2 0-2 0-2-2-4-1-1-2 0-1 1-1 4-2 1-4-1-2-4-2-1-4 1-2-1-2 1-2 3-4-1-2-1-1 3-5 1-4-1-1-4 0-2-1-1-2 1-1 4-5 1-4 2-2 1-2 1-4-1-2 1-4 0-2 1-4 4-2 0-6-2-6-5-4-1-6-1-6-3-6-2-2-2-4 0-2-2 0-2-2-4-2-4-1-2 1-4 2 0 1 0-1-2-2 2-2-2 0-4 3-2-1-2-4 2-1 4-1 1-2 0-1-1-1-4-2 0-4 3-2-1 0-1-2 2 0 2 6 5-2 4-4 0 0 2-2 4-1 4 1 1 4 0 2 1 0 4-2 1-4-1-2-2-2-8-1 4-3 1-4 0-1-3 1-4-1-2-1-1-2 1-2 2-3-4-2-2 0-2-5-6-2-1-1-3 1-4 0-4-2-2-2 0-2 1-1-1-1-4 2-1 0-1-6 1-2-2-2-1 0 2 0 1 2 1 1 4-2 2 0 2 1 2-3 8 1 2 3 2 1 4-1 2-2 2-3 4 2 1 8 3-1 2 1 2 2-1 2 0 4 3 6 0 0 2 2 4-1 4 2 2-1 1-4-3-2 2 2 2-2 12 1 4-1 2 0 3 1 1 5 1 1 1 5 6-1 2 1 1 2 2 3-1 2-2 0-2 1-2 2-1 2-1 4 2 2 0 4-3 2 1 1 2 0 2 1 1 3 1 1 2 1 2-1 1-3-1 0 2 1 2 4-2 6 4 0 2-1 2 1 4-2 1-4-1-2-2-2-3-2 0-2 4-4 1-3 0 0-2 1-2-1-4 3-4 1-6 0-2-3-1 0 3 1 2-1 2-2 2-3 2-3 4 4 0-1 6-4 2 0 2 1 2-4 0-3-4-3-2-4-1-2 0-2-1 2-5 2 0 2 1 1-2-3-5-4 0-2 4-2 2-2 1-2 0-2 2-2 0-6 3 0 1 0 2-2 0-2 0-2 0-4 3-2 0-2 1-2 2-4 0-1-2-1-2-2 0-4 2-6 1-4-1-2 0-4-3-2 1-2 3-2 1-4-3-6-3-6-5-2-1-2 2-4 1-4-3-4-5-4-1-8 1-2-1-1-2 0-2-5-4-2 0-4-3-2 0-2 1-2-2 0-4 3-4-3-2-2 0-4-2-2-2-2 1-2-1-1-4-1-4 1-4 2-2 1-4 3-4 0-2-1-2 1-4 0-2-5-1-4-4-4-1-4 0-2-1-2-2-2-1-1-4-3-4 0-4-2-4-6-6-4-2-3 0-1-1-2-3-4-1-4 3-1-2 2-2-1-4-3-2-5-5-2 0-1-1 1-2-1-2-1 0-2-2-2-5-6-5-6-6-2 0-2-2 2-3 2-1 1-4-1-1-5-1-3-2-2-1-2 3 1 2 0 2-1 2 0 1 2-1 0 2 1 2-1 3-2 1-2-1-2 0-2 3-2 1-2 1-2 3-2 0-2 1-1 2 0 2 6 8-1 2-5 2-1 1-2-4-2 1-1 2 4 4 1 2-1 2 0 2 8 10-4 4 0 2 1 2-1 2 5 5 10 2 1 1 1 2 2 3 2 1 4 0 2 2 0 2-2 1-2-4-2-1-8 1-2 0-2-2-4 3-1 2 0 2-1 1-2-1-6 0-1-2-1 0-2 0-2 1-2 3-2 1-1-1-1-3-4 3-4-1-2 1-4 1-2-2-2 0-2 2-4 0-2 2-2-1-10 2-6 2-4 3-2 0-2 0-4 4-4-3 0-2-1 2 1 2-1 2-3 1-2 0-4-1-2-1-2 0-2 1-2 0-4 4-4 1-2 3-2 0-1 0 0-2-3-3-2-1-1-2 1-2-2 0-1 4-1 1-4 1-8 0-2-2 0-1-2-1-2 1-4 3 1 2-1 2-2 0-2 4 0 4-1 2 3 4 0 2 0 2 4 2-4 1-4 6-4 0-2 5 4 3 1 1 0 2 2 2 1 2-2 5-2 0-4 1-3-4-2-2-1-2-8-3-2-2-2 0-1 1-1 4-2 0-2 2-1 2-3 2M186 336l3-1 3 1 1 1 2 3 2 1 2-1 2 0 1 2-2 2 1 1 4 0 2 1 0 2-1 2-1 1-6-2-2 1 0 2-2 0-2-2 2-1 1-1-3-1-2 1 1 2-1 2-2 1 0-2 2-1 0-2-4-4 1-2-1-2zM202 338l3-1 2 0 2 0 2 1 1 4-1 2-2 1-1-1-1-2-3-2zM221 338l2 4-1 2-1 2-4 1-2 2-1-1 4-4zM165 350l2-2 2 0 2 4-2 4-2-1-2 0-2-1 0-2zM220 354l3-1 1 1 0 4 1 1 2-2 1 1 1 2-2 6 0 1 4 0 4 4 2 5-2 4-6-2-2-2-2-1-2-2-2 0-2 1-2 1-4-1-6 2-1-2 1-2 0-2 0-1-3-1 0-2 3-2 2 1 1-1-3-2-1-2 1-1 2 0 3 1-1 1 0 2 2-1 0-2 2-2-1-2 3-2zM601 356l0-1 2 1zM219 357l-1 3 1 1 2 0 1-1zM213 365l-1 3 3 2 2 1 1-1 1-2zM620 390l1-2 5 2 0 2-1 1-2-2zM632 398l1-1 2 0 1 1-1 2-2 1zM677 400l0 2 2 2 2-2 0-2zM683 399l-2 1 4 2 2 2 1-2-2-2zM630 406l1-1 2 1 0 2zM173 429l-2 1 2 2 1 2-1 4 2 0 1-2 1-2 1-2-1-2zM131 436l-1 2-3 3-2 0-2-2-2 1-1 2-1 1-2-1-2 1-3 1 2 2 5 4 1 2 3 2 2 0 2 3 1-1 1-1 2 2 0-3 3 0 2 2-3 2 2 1 2-1 0-4-1-4 1-2-2-3-3-1 2-4zM141 459l-3 3 3 1 2 0 3-1-1-3zM621 522l3 4-1 2 1 2-1 1-2 0-3-5zM645 533l-1 1-2 4 1 0 2-1 2 0 2-1 0-2zM161 539l-1 1-1 2 2 1 1-1zM105 556l1 4-1 3M219 558l-2 2-1 0 1 1 2 0 2 0 1-1 1-2zM105 564l1 2 0 2 1 2 4 2 2 2 2 4 0 4 4 1 4 2 2-1 4-1 2 1 1 0 0 2 1 2 2 0 2-1 2 3 2 0 0 2 1-4 3-2 0-2-2-2 0-2-3-6 0-2 3-3 4-1 2 4 2 0 2-3 1-1 0-2 1-2 0-4 4-4 0-2-4-4-2-1-1-3-1-1-4 0-1 1-1 2-2 1-1-1-2-4 0-2-1-1-6 1-1 2-1 0-1 0-1-2-6-2-1-2-3-1-4-2-6 1-3 4-1 5M181 577l-1 1 1 2 2 0 1-2zM151 584l-1 2-4 2 0 2 2 2 2 2 6 2 1 1 0 3 8 6 4 2 4 3 4-1 1-2-2-2 0-2 1-1 2-1 2 3 2-2 1-3-3-3-2-1-2-2-4 2-2-4-2-1-2 0-6-2-3-3-3 0zM189 587l-1 1 1 2 4 2 2-2-1-2-1-1zM183 592l-3 2 1 1 2 0 1-1zM183 605l0 1 0 2 2 1 1-1zM179 611l-1 1-1 2 1 2-1 2 0 2 2 2 8 4 4 0 2 1 2 3 3-2-3-4-2 0-2-1-2-9-4-3zM163 622l-1 2 1 1 1-1zM795 662l-4 1 0 3 1 2 0 2 2 6 0 2 2 4 1 1 4-1 1 2 1 3 4 0 2 3 2 2 4-4 0-4 3-6 0-2-5-4 0-2-2-2-2 2-2 0 0-1 1-1-1-1-1-1-1-1-2 0-4 2-2 0-2-1 2-2zM725 677l-2 1 0 2 0 1 2 3 4 0 2-2 1-2-1-1-2-2zM607 681l0 3 1 0zM795 694l-2 1-4 0-4 3 1 2 3 2 0 1-2 0-2 2-1 3 3 2 2 2 0 4 0 2-2 2 1 2 2 4 0 4 1 2 2 0 2-1 6 4 1 1-1 2 2 1 2-1 2 0 2 2 2 3 2 1 4-1 4 1 2-2 1-4 0-4-1-4-4-10 0-6-2-7-3-1-1-6-2 0-2-1-2-3-4-1-2-1zM571 698l-4 1-4 5 0 2 2 1 4 2 4-1 1 2-4 2-1 2-4 4-3 4 2 4 0 4 2 6 0 4 1 2 0 2 2 2-1 2 1 2 4 2 0 2 1 2 5 4 4 1 6 6 4 2 2 0 4-3 6-1 3-1 1-2 0-2-2-3-2-1-4-2-4 0-2 3-3 1-3 2-2 0-2 0-1-2-1-1-3-1-3-2 0-2-3-2 0-2-1-2 0-2 8-3 2 0 2-1-2-2 0-2 1-2 3-2 2 1 2-1 1-2 3-1 2-1 0-3 3-1 0-2-3-3-4 0-3-3-1-2-2-1-2-4-3-3-1-2-1 0-3 1-2-4-2-2zM655 698l-4 1-2 0-4 3 0 2-2 1-2-2-2 0-2 0-6 1-4 4-4 1-4-2-2 1-2 2 0 2-1 2 1 2 2 2 4 9 5 3 2 4 4 4 0 2-2 2 3 0 2 1 0 1-2 1-2 0-2-1 0-1-2 0-4 0-2-2-2-1-2 2 1 2 1 2 6 4 0 2 4 2 2 4 0 2 2 3 2 1 1-2-1-2 2 0 4-4 2 0 2 3 2 0 2-1 2 1 2 1-1 4 3 0 1 2 1 5 2 0 2-4 4 0 2 0 2-2 2-1 2 1 2-1 2-6 4 0 8-6 2 1 1-1 1-2 2-3 4 0 2 1 2 0 3-2 0-4 1-2 1-2-3-4 0-2-2-2 0-4-2-2-2-1-4 0-2-2-6-2-2-1-2-2-4 1-2-1-1-2 0-2-3-2-2 0-2-2-2 1-2 0 0-3 1-2-1-2-2-2-2 0-2 1zM745 700l-3 2-1 4 2 4 2-2-1-2 3-4zM775 708l0 2-1 2 0 2 1 1 4-2 1 1 3 1 1-1 0-2-1-2-4-2zM751 708l-1 2 1 2-2 2-2-1-1 1-1 4 2 1 2-1 0-1 1 3 0 2-1 0-4 1-2 1 2 2 0 2-1 2 1 2 6 7 2 1 4-4 6 0 8 8 3 4 9 4 4-2 4-3 4 0 1-3-1-1-6-4-3-3 0-4-1-2-2 3-3 1-2 2-1 0 0-4-2-1-1-3 1-1 2-1 0-2-1-2-3-2-2 3 0-3-2-2-4-1-2 0-2 1-2 1-2-1-1-2-1-2 1-2-1-2zM794 710l1-1 2 0 1 1 0 2-3 2zM682 720l1 0 1 0 0 2-1 1-2 0-1 1-1 1-1-1 1-2 0-1zM781 720l-1 2 1 0 1 0zM741 722l-2 2 2 2 1 0zM688 738l1-1 2 2 2 1 0 2 0 2-2 1-4-2-1-3zM623 764l-1 0 3 2 1-2z" stroke="#26828e"/><path d="M609 148l-1 2 0 2 3 4 2 2 1-2-2-6zM395 185l-2 1 1 2 3 3 1-1-2-2zM305 191l-2 2-4 1-2 1-2 0-1 1 0 2-6 4 1 2 3 4 1 8 0 2-3 4 0 4 5 4 6 1 2 1 6 3 4 0 3 3 5 3 1 1 4 4 3 6 8 6 6 1 4 0 2 0 4-1 8 1 8 2 6 0 1-1 6-6 2-4-1-2-2-3-2-2-2-1-4-1-2-1-8-9-2-2-1-1 0-2-1-6-2-4-4-3-4 0-4-1-4 0-2 0-2 0 1 4-1 1-2 0-4-3-1 2-1 2-1-2 1-2 0-2-1-2 0-2-2-2-3-1-6-4-2-3-2-5-2-2-2-1zM401 191l0 1-4 2 4 2 1-2zM583 250l-2 0 2 1 2 0zM291 262l0 1 1 1-1 1-2 0-1 1 1 2 1 0-2 2 1 1 2-2 4-1 2 2-1 4 1 1 4-3 3-4-1-1-2 0-2 0-2 1-2-2 1-2-1-2zM667 262l0 4-1 2 0 2 1 1 2 0 0-1-1-4 1-1 1-3zM309 265l-2 1-1 2 1 1 2 1 2-2zM221 268l0 2 2 1zM649 268l-1 2 1 2 1 0zM311 271l-1 1-3 2 2 2 2-1 1-1zM665 272l-1 2 1 1 1-1zM679 272l-1 2 1 2 1-2zM211 272l-1 4-1 2-2-1-1 1 0 2 1 2 2 1 2 0 2-1-1-4zM203 275l0 1 2 1 1-1zM647 276l-1 2 1 2 2-2zM319 284l-2 1-1 3 1 1 3-1zM325 295l-2 1-4 1-4 2-3 5 0 2-1 1 0 1 0 1 2 0 1 1-3 4 1 2 0 2-2 2-1 2 3 4 0 2-3 0-2 0-10 1-2 1-1 2 1 2-2 0-2-2-1-2 4-2-1-2-2 0-4-1-2 1 4 2-1 2-1 2 2 4-2 2 5 8 0 2 1 3 10 1 4-5 4 3 2 4 2 0-1 4-1 1-1-1-1 0-1 0 3 4-3 2 0 2 1 2 1 0 1-4 2-1 1 1-1 6 2 2 2 1 1-1 0-2 4-4-1-2-2-1-1-1-1-4 2-1 2 0 1 1-1 2 5 4 0 2-2 2 1 1 2 1 1 4-1 2-2 2-2-1-2 1 0 3 4 0 0 1-1 2 0 4-1 2-2 2-6 2-4-2-2 0-2 2-2 1-6 3-4-2 1-2-1-3 4 0 4 1 4-1 1-1-5-4-2 0-4 3-4 1-3-2-3-3-2 1-2 1-4-1-2 0 0-1 2 1 1-2-1-1-2 0-2-1-2 1-2 0-1 1-1 1-2-2-6 0-4 1-1 2-4 4-2 4-1 2-4 2-8 0-4 2-8 1-1 1 1 6-2 2-4 3-8 8-4 2-6 3-1 2 3 6 7 8 3 8 2 3 2 2 2-1 2-1 4 1 8 6 2 0 4-3 2 0 2 3-1 2 1 1 4 1 2 0 2 1 1 3 1 1 4-2 2 0 1-1-3-1 0-1 2-3 2 1 1 2 3 2-1 4 1 1 1-1 0-2 1 0 3-4-4-4-1-2-3-6-2-8 1-2 2 1 2-1 2-2 0-2-2-1-2 1-1-2 1-2 2-2 2 3 2-1-2-4 2-1 2 1 1-2-1-4 0-2 2-2 2-1 2 0 1 3 1 6-2 2 0 2 2 4 2 1 2 1 4 0 4 0 2-1 4 5 2-2 0-2-4-2 2-1 2 1 2-4 2 0 3 6 0 4-1 1-2 0 0 3 6 2 2 1 1 1-1 2 1 2 3 2-1 2-1 2 1 2 3 4-6 4 0 1 2 1 2-2 2 3 2 1 2-2 0-2 2 0 1 2 3 2-1 2-3 1-1 3-1 1-6 0-1 1 5 3 2 1 2-3 2 0 4 0 1 1 1 4 0 2-2 2-1-2 1-1 2-1-4-2-2 1-1 5 1 1 2-1 1 0 2 2 3 2-1 2 1 0 4 2 0 4 3 6 1 2 4 3 2 4 2 1 4 3 2 0 1 1 0 2 2 4 0 2 1 1 2 0 2 1 0 2 2 2 1 6 3 1 4 0 5 5 3 4 2 1 4-4 2 1 2 2-1 2 1 1 2 0 2-2 2 0 2 0 2 1 2 0 1 2 3 2 2 0 2 1 3 5 3 2 4 4 2 0 4 1 2 0 2 1 2 3 2-1 0-2 0 2 3 2-3 1-1 1 1 2 4-1 2 2 2-1 4 1 6-1 4 1 2-1 2 4 2 2 6 0 4-2 2 0 2 1 2-1 1-2-3-10 2 0 1 0 1 4 2 4-1 2 3 2 2-2 2 0 6-1 2 2 4 0 4 0 2-2 2-1 4 0 4 0 6 0 6 2 4-2 1-2-1-2 2-2 1 4 5 2 8-5 1-1 1-4 3-2 1-2 3-2 0-2 1-1 2 1 2 1 1-1 1-2 0-2-4-2 2-1 4-1-1-2 0-2 1-2 2 1 2 5 2 0 2-1 2-1 2-4 0-2 2-2 2-1 2 1 4 1 1-1-1-1-2 0-2-1 1-2 3-2 2-5 4-3 1-2 1-1 2 2 1-1 1-5 2-3-1-2 0-4 1-8-2-4 2 0 4 2 2-2-4-3-2-1-2-2 0-2-1-2 0-2 2-2 0-4-1-2 1-2-1-2-2 2 2 2-1 2-3 3-1-1 0-6 3-2 0-2-2-2 0-2 4 1 2-1 0-2 4-3 2-1 1-2-4-8-3-1-1-1 0-4 1-2 2-2-4-4-2-1 0-1 2-2 1-6 3-1 2 0 1 1 0 2-1 1-2 1 0 2 3 2 0 4 1 3 2 1 3-2-2-2 0-2 1-1 2-1 2-2 2-1 0-1 0-1-2 0-2-1-2-1-3-1-7-6-1-2 3-3 2-1 2 2 2 1 0-1 0-2 2-3 2-1-6-1-2-3-1-2-2-2-1-2-5-6-1 0-4 2-1-2 1-4-2-2-2 0-2 2-1-2-4-4-1-2-2-2-5-2-3-4-2 0 2 0 0-2-1-2 0-2-1-2-4-4 2-2-2-4-2-2-4 2-4-1-2 2-2 0-2-1 0-2 4-1 2-2 2-1 2-2 0-2-4-2-4-2-2 3-1-1 1-4 1-2 1-2-2-2-4-2-2-2-6 1-4-3-1 0 2 4 0 2-1 1-1-3-3-1-2 0-2 5 0 2-4 2 1 2-1 2-6 1-4-1 1-4 2-2-1 0-2 0-2 0-2 2 1 2-3 0-2-2-1-2 1-2-2-1-2-3-2 0-6 6-2-4-2 0-4-1-2-1-4 1-6-2-8 1-2-1-2 0-3 1-1 1-3 1-1 1-4 1-4-3-2 1-8-3-2 1-4 1-2-2-4 0-2 5-8 1-2 1-1 0 0-2 1-2-2 0-2 2-2-1-5 3-1 1-2 5-4 2-1 2-1 4-1 2 0 4-1 2-2-1-4-1-4-2-4 1-4-2-4 2-2 1-2 3-1-3 0-2-1-2-4 2-2 0-1-4-3-2-2 2 0 2-2 0-2 2 0 2-2-1-2 1 2 1 1 1-1 2-6-2-1-2 1-2-1-2-4-2-3-4 2-1 0-1 0-2-2-2 0-3-2 1 1 2-1 4-2 0-2 1-2-1-1-2 1-2 0-2 2 0 2-4-1-4 1-2 2-2 0-2-2 1-2 2-4 1-2-2-1-6 1-2 2 0 6 2 8-1 2 1 2 0-2-2 2-1 4 0 2 1 2-4-1-2 1-1 2 0 0-1-1-2-3-2-2 0-2 3-4-1 0-2 0-1 2 0 2-1 0-3-2 1-2-2-2 1-3-3 3-1 2 2 2-1 2 2 2 0 2-2 0-2 0-1-2-1-6 1-2-3 1-4-1-1-2 1-2 0zM322 302l1-1 2 1 0 2 2 2-2 2-3-2zM316 304l1 0 1 2-1 2-2 0-2-2zM223 311l-4 5 2 2 2 0 2-4 1-2zM189 315l-1 1-1 4 1 2 1 0 3-6zM281 320l0 2 1 2-3 3-2-1-2 2 5 4 1 1 2 0 4-1-2 0-2-2 0-2 1-2-1-2 1-4zM683 330l0 1 2 1 2-1 1-1-1-1zM261 335l-1 1 3 1 1-1zM789 335l-2 1 1 2-2 2 0 2 3 4 2 1 1-1-2-6 2-2 0-2zM139 336l-2 5 0 3 0 1 2 0 0-1-1-2 3-3 1-1zM553 336l-1 2 3 3 2-1 0-2zM317 342l1 0 0 2-1 2-2 1-3-1 1-2zM448 346l1-1 2-1 1 2-1 1zM533 346l2-1 0 3 0 1zM293 357l-1 1 0 2-1 1-4-2-2-1-2 2-2-1-2 1-1 0 1 2 2 0 1 0 1-1 0 1 4 2 2 1 2-1 2-3 2-1 1-2zM387 358l-1 2 1 3 1-1 0-2zM297 361l-1 3 0 2 1 1 1-1 1-2zM275 366l-1 2 1 1 2-1 0-1zM569 384l2-2 1 2-1 1zM205 387l-5 3-8 6-3 4-3 2 0 4 4 6 1 1 10 2 6 0 4 0 8-6 1-1-2-4 0-2-8-10zM627 412l-4 0-3 2 1 2 2 1 4 0 8-3-1-2zM305 424l2-1 1 1 1 2-2 2-2 1-1-1zM318 440l1-2 3 2-1 1zM623 447l-1 1 1 2 1 0zM318 454l3 0 2 2-1 2-1 0-3 0zM615 454l0 2 1 2 0 2 0 2 1 1 4-2 3-1 0-2 0-2-5-1zM285 457l-2 1 0 2 0 1 2 2 1-1 1-2 0-2zM472 468l3-2 1 4 1 1 2 0 2 2 2-1 2 2 2 4 1 4-1 2-2 2-2 1-2 0-2-1-2-1-2 0-2 2-2-3-2-1-2 0-1-1 2-4 0-6zM621 472l-2 1-1 1 1 0 2 1zM613 477l-2 1 2 2 1 0zM609 528l-3 2-2 2 1 0 4-2zM595 547l-2 1 1 2 1 1 1-1 2-2zM137 550l-1 0 0 2 1 1 1-1 1-1zM587 550l-2 0-1 2-1 2 1 2 1 1 2-1 4-2 0-2zM111 551l-2 3 1 2 2 4-2 4 1 1 2 0 2-2 2-1 2 1 2-1-3-2 2-2 1-2-2-1-2 0-4 0-1-1zM123 562l-2 0 4 1 2-1zM127 565l-1 1 1 1 2 0 1-1zM123 569l-3 3 1 4 2-1 1-1 1-2zM559 573l0 3-1 2 1 2 2-2 0-2zM565 574l-2 2 3 2 2 0 3-2-1-2zM485 576l2 0 1 2-1 1zM498 578l2 0 0 2-1 2zM502 578l1-1 2 0 2 0 0 1-2 0zM551 584l-1 2-1 2 2 2 4-2zM467 590l-2 0 4 1 1-1zM169 597l-1 1 3 4 1-2zM809 711l-1 3 0 2 1 1 2 0 4 2 0-1 0-1-2-2zM653 718l2 1 1 3-1 2-3 2 1 1 4 1 6 2 0 1 2 0 1-1 1 0 1-2-3-3-2 1-4-2 1-4-1-1-2-2zM817 725l-2 1 2 1 0 3 2 2 2 0 0-2zM671 731l-1 1 0 4 1 2 2-2 1-4zM809 732l-2 1 0 1 1 0zM653 733l-1 1-1 1-4 3-1 2 3 2 0 3 2 5 2 2 4 0 2 0 2-1 0-1-1-2-4-2-4-4 3-6zM659 733l-1 1-1 2-1 0 3 2 1-2zM677 733l-1 3-2 2 0 2 1 2 2-1 2-2 1-1 0-2zM671 743l0 2 2 2 0-1zM777 744l1 2 1 0 1 0 0-2zM663 753l-1 1 1 2 4 5 2 1 1 0-1-4-2-2-1-2z" stroke="#3d4e8a"/><path d="M305 194l-6 4-2 1-2 1 0 4-1 2 1 2-1 4 1 2 1 0-1 1 0 3-1 2-1 1-1 1-1 4 4 3 4 0 6 3 6 2 4-1 1 1 1 3 2 1 1 0 1-2 0-4-1-2 1 0 2 0 2-1 2 2 4 1-4 2-2 0-1 4-1 1 0 1 2 2 4 8 2 2 2 0 4 4 6 2 2 0 4 0 4-1 8 0 6 2 6 0 2 0 2-1 3-4 1-2 0-3-2-2-2-3-6-1-2-1 0-2-2-3-4-4-4-2-1-3 0-6-1-4-1-2-3-2-4 1-4-2-2 1 3 4 0 2-2 2-1 2 2 0 2 4-1 4-3 2-6-6 0-2-2-2-2 1-3-1 0-2-3-2-1-2-1-4-8-4 2-1 2 0 1-3-2-2-3-1-6-8-1-1zM350 232l1-1 2 3 2-1 1 1 1 2-1 2 1 2 3 0 2 2-3 1-1 3-1 1-2-1-3-4-1-2 2-2 0-3 0 1-2 1-4 1 0-2zM366 248l1-1 2 3 1 2-1 1-2 0-2 1-2-2 0-2zM321 314l-4 4 0 2 2 1 2-1 1-2zM323 324l-1 0 0 2 1 1 2-1zM305 332l-2 2-1 2 3 3 2 1 2-2-1-6zM427 346l-2 0-2 1-4-1-4 1-4 2-8 2-1 1-1 8-2 3-2 1-1-2 0-4-1 0 0 2-2 3 0 1 0 3 1 1 1 2-2 3-2 2-4 1-2 0-2-3-2 1-4-3-4 6-4-1-1 0 0-2 1 0 1-2-1-1-2 0-1 1 1 2-1 2-1 1-2-2-3-1-2-2-3-2-2-2-4-3-2 2-3 5-3 2-2-2-4 1-2-1-1 2 1 2 2 0 4 2 1 4-1 2 2 4 0 2-1 2 0 4-3 3-2 2-2 0-2 1-1-2-1-1-1-1 0-2 1-2 0-2-2 2-4 0-6 2-4-1-2 1-6 2-2 2-2 1-4-2-8 3-2 0-2 1-4 3-2 1 0-1-4-4-1-2 0-6 1-4-2-2-8 4-2 0-5 0-1 2-8 5-4 1-4-1-2 1-8 4-3 6-8 6-7 8-8 3-1 1 2 2 1 4 6 6 2 1 4-4 2 1 1 2-1 1-2 0-1 1 1 4 2 1 2 2 2 1 2-1 2 1 2 4 4 3 2 0 4-2 4-6 2-1 1 2 1 2 3 0-1-4 1-2-1-2 2-2 3 0-1 2 2 1 1-1-1-2 1-2 3-2 6-10 3-2 2-6 3-5 3-3 1-2 0 2-1 2 2 4 2 6 0 10 1 1 8 1 4-2 3-2 2-4 5-6 4-4 3-2 5-5 2 0 1 1-1 4 1 2 3 2 2-4 0-2-2-2 6-2-2-3-2 0-1-1 1-1 2 0 2-3 1 0-1 10-2 3-1 1 1 2 1 6-4 8 1 2 0 4 2 2 0 2-3 4-1 2-2 2 2 2 2 1 2 3-2 5-2 1 0 1 1 1 5 4 2 8 3 2-1 0-1 2 1 2 3 2 1 4 2 2 2 4 5 2 3 4 0 2-2 0-2-2-1 6 1 1 2 2 2 0 2 0 1-1 0-2-2-2-1-2 2 0 2 1 2 1 0 2 4 1 3 3 1 4 4 4 1 2 2 2 2 6 1 6 2 3 4 3 6 3 2 2 2 0 2 0 2 3 4 1 2 1 4 1 6 0 6 2 2 3 6 5 1 1 1 4 8 0 4-2 4 2 4 4 8-2 2 1 2 1 2 0 2-3 2 0 4 0 2 1 2 2 2-1 2 0 2 1 0 1 2-1 4 0 2 1 4 3 4 2 2 0 4-1 8-3 2 1 4-2 2 0 7-5 3-2 2 0 2 1 1-1 1-4 4-3 2-1 2-1 2 1 2 1 1-1-1-1-1-1 1 0 3-4 3-1 4-4 9-7 3-3 10-1 2-2 6-4 4-4 5-2-1 0-1-2 0-4 1-4 0-6-1-2-2-2 1-6 1-2 2-6 0-4-1-2-2-6 1-6 0-4-1-4-5-6 0-2 1-7 3-3-1-2-2 0-2-3-2 0-1-1 0-2 0-2 1-1 4-3-2-1-2-3-2-1-3-5-1-2 3-8 0-2-3-7-10-5 0-2 0-2 1-2-7-6-2-1-2-1-1-4 0-2-1-2 1-2-1-1-2-1-4-2-2-2-2-1-2-2-6-2-4 0-1-1 1-2-2-2-4 0-4-1-4 1-8-2-8 1-2-2-8 1-6-1-2-1-4 0-2-1-2-1-6-1-4-2-2 0-6 4-6 1-4-1-4-1-4 1-2-2-2-1zM380 384l1-2 3 2-1 1zM203 390l-4 3-2 1-2 2-1 2-3 1-3 3-1 2 1 2 2 2 0 2 1 1 4 1 6 1 6 1 3-2 1-2 2-1 4-3-1-4-3-4-5-4zM577 394l-2 2 1 2 1 0 1 0 1-2zM623 413l-1 1 0 2 1 1 2 0 4-1 4-2-2-1zM313 419l-1 1 1 6 2-2 1-2zM595 423l0 1 2 1zM587 430l-2 0 2 1 0 1 2 1 2 0 2 2 1-1 1-2-2-1-2 0zM591 437l-1 1 3 2-3 6 2 2 0 2 1 1 2-2 4-3-2-4-2 0 2-1 2-3-2-1zM385 446l2 2-2 0zM599 449l-1 1 0 4-3 2 2 2 2 0 3-6zM475 458l2-1 5 3 1 2 0 2 2 0 1 2 0 4 3 3 2 3 2 4-2 4 1 4 0 4-1 1-2 0-8 0-1 1-3 1-6-1-2 0-2-2-4 1-3-7 1-4-1-2 1-1 2 1 0-2 2-2 0-2 0-2 4-7 4-4 2 1zM500 490l1 0 1 4-1 2zM595 515l-1 1 0 2 1 1 2 0 2-1zM583 534l-1 2 1 2zM547 557l-2 2-2 0-2 5-3 2-1 2 2 4 2 0 2-2 2-1 2-1 1 2 1 1 3-1 1-2-1-2 0-4-3-2zM555 561l-2 1 1 2 1 0zM451 574l-1 0 0 2 1 1 1-1zM467 581l-1 1 0 2 3 0 1 0 2-2-1-1z" stroke="#453581"/><path d="M309 206l-1 0 1 4 0 2 1-2 1-2 0-2zM357 391l-3 3-3 4-1 2 1 2 2 0 2-1 4-2 1-5zM465 391l-1 1 1 2 2 0 2-1 0-1zM263 398l-1 2 1 2zM237 404l-2 2 0 2 2 1 3 1 0 2 5 6-1 2 0 2 1 1 2-1 6-3 2-3 2-2 1-2-3-1-2 0-2 0-4-3-4 2zM273 406l-1 0 0 2 1 3 1-1 0-2zM441 407l-1 1-1 2 4 1 2-1 0-2zM625 414l-1 0 1 1 4-1 1 0zM289 415l-2 1 2 2zM293 418l-4 4-2 0-1 2 3 2 4-1 2 1 2 1 2-3-1-2-1-2-2-1zM239 419l0 1 2 2 1-2zM551 420l-1 0 3 2 1-2zM223 421l-1 1 1 2 1 0zM231 421l-1 1 1 3 1-1zM439 426l-2 2-1 2 2 4 0 2 0 2 1 1 2 0 2 2 2 1 10 1 2 0 2-1 0-2-1-2-6-6-1-3-2-3-2-1-2 0-2 0zM345 436l0 2 2 0 1 0-1-1zM429 438l-1 2 1 5 2 1 2-1 4 1 1-2-1-2-4-3zM459 446l-1 2 3 2 2 1 4-1 1-2-1-1zM357 460l-2 2 1 2 1 1 4 4 4 2 1-1 0-2-1-2 1-4-3-3zM421 470l-1 0-1 2 1 4 6 12 2 2 1 5 2 1 2-2 1-2-2-4-1-4-1-2 0-6-1-4-2-2zM351 484l-2 2-1 4 7 5 2 0 1-1 2-2 1-2 0-3-2-2-4 0zM439 505l-2 5 1 6 0 2 3 6 2 1 2-1 1-2 0-2-2-6 0-4z" stroke="#440154"/></g></g>
<clipPath id="q2"><polygon points="983,103 1656.8,106 1663.3,245 1675.8,465 1691.5,690 1700.9,796.6 995,791"/></clipPath><filter id="sm2" x="0" y="0" width="100%" height="100%" filterUnits="objectBoundingBox" color-interpolation-filters="sRGB"><feGaussianBlur stdDeviation="1.3"/></filter><g clip-path="url(#q2)"><g filter="url(#sm2)"><rect x="959" y="81" width="770" height="740" fill="#800000"/><path fill="#800000" d="M976 98l367 0 0 4 1 4 6 8-1 10 7 6 6 2 6 4 2 2 0 2-1 12 4 6 1 2 4 4 0 2 4 2 2-1 4 1 3 2 10 12 3 8 6 8 8 3 6 0 2 0 3-3-1-4 0-6 1-2 3-1 4 1 9 6 7 7 2 4 5 3 7 8 4 1 2-1 0-2-2-5-5-7-1-2 4-2 4 1 5-9-1-2-2 0-2-1-2-4-2-2-4 0-4 1-2-2 0-8-4-8 0-2 6-5 4-6 0-3-4-4-4-7-3-3-5-2-22-7-4-2-6-7 0-6-1-10 295 0 0 624-4 0-4-3-8-3-3-2-2-6-3-3-2 0-6 4-10-1-6 2-7 4-3 4-2 0-12-1-8 1-6 8 0 4 2 6 2 2 6 1 4 2 6 3 10 3 12 1 12-2 8-4 6-8 2-1 6 1 2 0 4-4 4 0 0 102-734 0 0-546 4 0 4 1 6 5 6 2 6 7 6 5 12 8 4 1 2-7 2-1 6 2 1-1-2-8-6-2-3-6-4-3-6-3-3 0 3 8-2 2-2 0-11-4-5-4-8-4-6-4-4 0zM1018 217l-1 1 1 8 2 2 2-1 2-3 0-4zM1036 346l-4 2 1 2 5 8 2 2 4 1 4 2 2 0 1-1 1-2-3-6-4-4zM1080 266l-4 4-2 0-1 2 0 2 4 4 3 7 3 3-1 1-6 7-4-2-2-4-6-3-2 1 0 4-2 1-5 1-2 2 0 4 1 2 2 1 6 0 5 1 1-2-1-2 1-2 14 5 3-1 0-10 1-1 4-1 1-2-1-4 0-4-2-2-2 1-2-1-1-2 1-2 2-2 0-2zM1100 336l-1 2 0 2 1 1 1-1zM1136 164l-8 2-1 2 9 11 6 3 4 5 5 9 4 12 4 6 4 10-1 1-2 1-6 0-4 1-3 5 1 7 2 1 8-3 6 0 10 8 10 2 3 3 2 8 3 2 10 0 6-2 2 1 2 1 1 2 3 2 4 1 4 0 2-1 2-6 2-2 4-2 4 0 10-1 2 0 4 5 4 0 6-2 2-2 1-2-2-4 0-10-1-6-5-8-3-2-7-4-2-2-1-2 1-6-2-2-3-1-1 1 0 6-5 0-8-5-12-1-6-3-6-5-8-3-11-9-4-12-2-6-1-2-2-1-4-1-6 0-10-2zM1434 242l-2 1 0 3 6 4 2 0 0-8zM1444 258l-2 2 0 4 8 6 2 0 2-2-1-2-2-2-2-4zM1460 234l-1 2 0 2 3 5 2 1 2 0-1-6-3-4zM1464 217l-2 1 0 2 1 6 0 2 5 0 2-1 0-3zM1480 326l-2 2 2 2 4 4 4 0 1-2-1-3-4-3zM1510 263l-1 3 1 5 2 2 4 2 1-1 0-4-1-2zM1520 279l-3 3-3 1-4 0-6 4 0 3 4 8 0 14 4 4 1 4-3 6 1 14 0 6-3 6-1 2-11 11-2 1-12-1-1-1-2-2 0-6-1-2-8-4-4-6-5-10-5-4-4-2-3 4-9 1-4 0-12-7-6-8-10-3-5-5-13-6-3-2-7-8-4-1-4 1-8 4-2 4-1 6-1 2-4 1-6-1-2 1-2 7-4 4-2 0-6-3-8-1-14 1-12 4-6 8-4 2-12 3-6 8-4 2-3 4-3 1-8 2-2 7-6 7-4 4-10 2-8 4-2 1-6-1-4 2-4 5 0 2 1 2 0 2-7 16-3 2-13 6-6 5-8 3-2 1-4 0-8-8-4-3-8-1-3-1-1-2 0-2 2-8-1-2-1-1-8-2-8-5-4-1-6-1-6 1-6-5-6-3-3-5-3-2-6-1-10 4-2 1-7 8 0 6 3 8-1 4-2 6-5 6-5 14 1 3 8 12 2 1 8 2 4 4 4 8 2 2 10 5 8 1 8-2 4 0 4 2 6 4 4 2 12-2 4 2 4-1 8 0 2 0 3-3 0-4-1-2 0-4 1-2 2-2 5-1 4 0 4 0 5 3 7 10 5 8 6 6 2 4 1 2 1 10 8 12 1 12 6 10 2 6 2 2 12 4 4 2 10 10 2 3 3 9 6 6 4 8 5 7 4 0 8 0 8 2 8-1 7 4 7 10 4 1 3-1 2-2 1-8 4-5 10-6 4-1 6 1 2 2 3 5 1 6 2 3 2 0 2 0 4-5 8 2 6 0 4-1 6-7 4-1 20-1 4-2 2-1 18-11 4-12 6-8 2-1 6-5 3-2 13-6 10-4 6-6 4-2 2-2 4-8 2-6-1-2-3-2 0-3 2-3 7-8 1-4-2-10 2-3 7-5 3-6 1-4-1-8 2-2 7-4 1-2-2-6 0-10-2-6-2-2-4 0-4-2-3-4-3-6 10-8 6-3 8-8 6-4 6-2 2-5 10-6 6-4 3-4 2-8 6-8 2-4 1-4-3-12 4-8 0-6 1-4 2-2 6-2 1-2-1-2-5-4-3-1-5-5-2-2-1-6-2-1-6 2-6 6-6 2-8-3-6-3-2-1-4-4zM1586 736l-3 6 1 1 3-1 3-2 1-2 0-2-1-1zM1600 658l-5 2-1 2 7 10 1 8 2 2 2 0 4-1 4-3 3-4 2-6 6-6 1-2-1-2-3 0-6 3-2 0-9-3zM1664 342l-2 1-1 3-5 4-2 4 0 3 2 3 5 4 2 4 2 10 0 4-2 6 1 4 2 2 2 1 4-1 0-2-2-8 1-20-1-11-2-7zM992 640l-1 4 0 4 2 2 11 6 1 0 0-2-1-2-4-8zM1040 612l0 6-4 6 0 5 2 2 2 1 11 0 6-2 1-4 0-4-8-8zM1074 358l-3 2 3 2 3-2zM1150 290l-10 3-5 5 0 2 0 2 3 4 2 12 6 7 2 0 3-3 2-4-1-6 4-2 4-2 2-4 2 0 6 2 4 4 4 0 1-2-1-2-6-2-2-4-8-5-4-3zM1216 318l-8 5-4 0-2 1-2 2 0 2 2 3 6 7 4 2 2 3 2 0 3-1-3-4-2-2-1-4 1-2 2 0 6 4 8 0 2-1 2-3 0-4-1-2-6-2-6-4zM1222 301l-1 1 1 2 4 2 2 6 6 11 2 1 6-2 1-2 0-2-4-10-3-4-2 0-4 2-2 0zM1080 615l3 5 0 4-1 2-4-1-1 1 0 2 1 2 4 1 2-1 1-2 3-2 0-2-2-8-2-1zM1090 604l-1 2 1 3zM1434 715l-8 6-6 0-3 1-2 2-2 6 0 4 1 3 7 7 3 6 4 4 8 2 2 0 0-2 0-2-2-3-4-1-1-2 3-2 5-10 0-6zM1464 745l-1 3 0 2 3 2 2-1 1-1-1-2zM1514 712l-7 2-16 8-5 6-2 3-1 7 1 2 10-1 2 9 2 1 2 0 6-7 6-2 4-4 4-1 16-1 2 1 8 5 4 1 4-3 1-6-1-6-1-2-9-8-6-2-10 1-8-4-2-1zM1144 337l-2 3 0 5-4 2-1 3 4 4 0 4 2 2 4 0 2-2-1-2-6-10 2-1 9 1 1-2-2-1-3-5zM1452 184l2-1 2 1 2 2 2 2 0 4-2 3-2-1-6-4 0-2z"/><path fill="#951b00" d="M976 98l32 0 0 5 2 3 2 0 1 0 0-2-1-2 0-4 330 0 0 4 1 4 6 8-1 10 6 6 12 5 3 3 0 8 0 6 5 10 0 2-4-1-2 1 2 2 2 1 4-1-2-2 2 0 0 4 1 2 3 1 4-2 4 0 2 2 10 11 3 8 5 7 7 7 11 0 4-2 4 1 2-1 0-2-7-6 1-6 2-2 2 0 4 2 4 2 4 6 5 4 0 6 5 0 2 1 2 5 0 1-4 1-2 2-1 6 4 10 1 12 3 4-1 2-2 0-3-4-1 0-1 2 5 6 6 0 4 2 6-1 4 3 2 0 1-2-5-6-2-6-6-4-2-6 0-2 8-2-1-4-2-6 0-2 5 0 1-2-5-8-1-4 1-1 4-1 1-2-1-6 3-4 0-4-1-2-4-1-6-6-6-1-2-3-5-11 1-2 4-3 5-7 1-2-1-2-5-5-4-7-2-2-4-2-24-7-4-3-5-6 0-6-1-6 0-4 294 0 0 623-4 0-4-3-8-2-2-2-4-8-2-1-2-1-8 4-6-1-4 1-18 8-6 1-8-1-4 1-6 7-1 4 3 10 2 1 8 2 8 4 12 2 8 1 6 0 8-2 8-3 6-8 2-1 4 1 2 0 3-1 3-3 4 0 0 101-734 0 0-542 4 0 14 5 8 8 10 8 8 5 6 1 1-1-1-4 2-3 8 3 2 0 0-4-1-4 1-1 10 5 6 5 2 0 2-1-1-4 1-2 3 0 9 3 2-1 2-3 2-1 10 1 2-1-1-8 1-2 2-1 6-1-1-6 1-2-6-10-2-7-6-4-4 1-2 3-4 1-1 2 1 4 4 6 1 4-1 2-6 1-6-3-3 0-3 2 0 2-2 2-7 0 0 4 2 4 0 2-1 2-8-1-12-4-1-1-3-4-6-5-7-3-3-4-4-1-4-2-4 1-1 2 1 1 4 1 8 7 1 3-3 1-4-1-18-10-4-2-2-3-4 0 0-109 4 0 6-2 3-2 0-2-1-3-4-3-4-2-4 0zM1010 258l-1 0 1 2 4 2 1 0 0-2zM1016 215l-2 1 0 2 2 4 1 6 3 3 4 1 1-2 1-10-2-2zM1084 241l-1 1 1 6 3 6 6 4 9 4 0-2-5-6-3-4zM1116 263l2 3 1-2zM1134 164l-6 1-2 3 10 12 6 3 3 3 6 10 4 12 3 6 1 4 3 4 0 2-2 1-8-1-5 6-1 4 2 6 2 1 8-4 6 0 10 8 6 1 4 2 2 2 3 8 3 3 10 0 4-1 4 0 3 4 7 2 4 0 2-2 4-6 2-2 4-1 8-1 2-1 4 1 4 4 4 1 7-3 2-2 0-2-2-4 1-10-2-6-4-8-4-3-7-3-1-2-1-2 0-6-3-4-2-1-1 1-1 2 0 4-2 2-2 0-8-5-12-1-6-4-6-5-8-2-11-9-4-12-1-6-1-2-3-2-4-1-6 1-10-2zM1434 234l-3 6 0 6 1 2 6 5 2 1 2 0 1-2-1-4 3-6-1-2-4-3zM1476 324l0 4 6 7 2 2 4 0 2-1 0-6-2-5-2-2zM1502 254l-2 2 0 2 10 16 5 4 0 2-1 1-2 0-4-1-6 6 1 6 4 6-1 14 1 2 3 4-2 6 2 12 0 6-1 6-2 4-11 12-2 1-6-2-4-3-4-7-8-3-2-2-3-4-5-12-6-4-4-2-2-1-4 6-6 1-4-1-11-7-7-8-8-1-6-5-12-5-4-3-6-8-2-2-4 0-3 0-9 5-2 3-1 6-1 2-4 2-6-1-2 0-8 10-14-2-14 0-4 1-2 2-8 2-4 8-4 2-6 1-6 1-4 5-2 1-4 0 0 2-4 3-1 1 0 4-9 1-2 1-2 8-5 6-4 4-9 1-4 2-4 3-2 0-8-1-8 9 1 2 1 2 1 2-8 16-15 7-6 5-10 4-4 0-8-8-4-3-10-1-1-2 0-2 2-8-1-2-2-1-8-3-8-4-4-1-12-1-12-8-4-6-2-1-6 0-10 3-2 2-7 8 0 4 3 10-1 4-3 6-5 6-4 14 0 2 1 2 8 11 2 2 6 1 4 2 3 4 3 7 10 6 4 1 6 0 12-1 3 1 7 5 4 1 10-1 4 3 2 0 5-2 9 0 2-2 2-4-1-6 0-2 1-2 4-2 4-1 6 1 4 2 2 2 10 16 9 10 1 4 0 4 0 4 2 4 6 8 2 14 4 6 2 8 4 3 12 3 6 4 9 10 4 10 5 6 2 6 4 6 4 4 2 0 10-1 10 4 6-2 2 1 3 2 8 10 1 1 4 1 4-2 2-2 0-6 4-4 4-2 2-4 3-2 5-1 6 1 2 2 2 4 1 6 3 4 2 0 2 0 4-5 8 2 6 0 4-2 2-1 4-5 4-2 2 1 10 0 2-1 12 0 2-1 6-6 2-1 4 3 2-2 0-4 3-2 1-1 1-7 1-4 6-8 4-3 5-5 15-8 10-4 6-5 4-2 3-3 4-8 3-7 4-5-3-6 1-2 3-4 0-2-2-8 0-4 1-2 7-6 4-6 0-4 0-8 3-3 2 0 6-3 0-2-3-6 0-10-2-6-3-3-2 0-2-1-4-1-3-3 0-6 7-7 6-3 8-8 6-4 7-2 2-6 9-5 9-7 1-2 0-4 1-4 7-8 2-6 0-4-2-10 3-8 0-6 3-5 4-2 3-1 1-2-1-2-2-2-7-4-4-4-2-2-1-6-2-2-3 0-4 2-2 1-3 5-5 2-3 0-10-4-5-4-7-8-1-8-2-5-2-2 0-3-2-1-2 0-2 2-2 1zM1586 735l-5 9 1 1 3-1 5-4 2-2-1-2-1-2zM1598 658l-4 2 0 2 6 10 1 8 2 2 3 1 6-3 3-2 3-4 2-6 6-6 0-2 0-2-4-1-8 4-8-3zM1664 341l-2 1-1 4-5 4-3 4 1 4 2 3 6 5 1 4 2 8-2 10 0 4 3 3 2 0 4 0 1-1 0-2-2-8 0-20-1-14-2-5zM992 637l-2 1-1 2-2 4 0 2 3 4 14 8 2 0 1-2-3-8-4-6zM1032 325l-2 5 1 2 2 2 1 2-2 6-2 4 0 4 4 4 2 6 2 1 2 2 4 0 4 3 4-2 3-2 1-2-1-2-8-10-6-4 2-6-5-10zM1068 322l0 2 2 2 2-2zM1074 351l-4 5-2 0-1 2 1 2 4 3 4 0 3-3 1-2zM1096 321l-8 4-2 0-2 1-2 3-3 1-1 2 0 2 2 2 6 1 7 5 1 2-2 2-2 0 2 1 2 0 2 1 2 0 7-6 1-6 7-8 0-2-3-3zM988 257l-6 5-1 2 3 3 3 1 0 2 2 2 3 1 1-1-2-2-3-2 1-2 1-2 4-2 1-2-1-2zM1022 264l4 6 4 5 6 3 1 0-3-4-4-4-2-5-2-1zM1148 289l-8 3-6 6-1 2 3 6 0 2-2 2-1 2 5 5 4 7 2 5 2 0 12 0 3 1 1 1 6-1 1-2-1-1-12-4 0-5-1-4 0-2 3-1 4 0 2 1 8 9 4 2 2 0 2-3 1-2 0-10-3-4-18-12-6-3zM1210 295l-1 1-1 2 1 2 1 1 6 0 8 7 6 10 0 2-2 0-6-3-8-3-4-5-2 0-1 1 3 6-1 2-1 1-4 0-5 5 1 6 6 7 6 8 10 1 0-6 4-3 6-2 3-3 2-6 7-4 1-2 0-4-3-3-6-14-3-1-5-1-12 1zM1444 255l-2 2-2 3-1 4 1 2 2 2 6 3 4 1 4-2 1-2-7-9zM1090 603l-2 1-1 2 1 6-4 1-6-1-1 0 0 2 3 6 0 2-4 3-1 3 3 4 6 2 2-2 2-4 1-4-1-11 5-3 1-2zM1432 716l-6 4-8 1-2 1-2 4-2 6 0 2 2 4 6 6 4 7 2 3 2 1 8 2 3-1 1-2 0-4-3-4-1-2 1-4 3-4 0-8-3-12-1-1zM1464 744l-2 1-1 1 1 4 2 2 4 1 2-1 1-2zM1516 710l-11 4-15 8-5 6-2 4-1 6 0 2 2 1 8 0 3 7 3 2 2 0 6-7 6-2 5-5 3-1 4 1 12-1 2 0 8 6 4 1 5-4 1-6 0-4-2-4-9-8-7-2-10 0zM1040 611l-1 1 0 6-4 6 0 6 1 2 2 1 10 1 6-1 4-1 2-2 0-6-1-4-5-3-4-4zM1086 353l-2 3 0 2 3 2 3 0 1-2-2-4zM1142 335l-4 9-3 4 1 2 2 4 2 6 2 2 6 0 2-2 1-4-1-4 0-2 4 0 2-1 2-3 1-4-1-1-5-1-3-5-2-1zM1210 347l-4 8-3-1-3-4-4-1-3 1 3 8 2 2 4 1 4-3 6 1 2-1 0-4zM1218 357l-2 1 0 2 1 2 3 2 4 1 2 2 2-1-1-2z"/><path fill="#a83000" d="M984 98l21 0 0 4 3 4 2 2 4 1 2-1-1-6 0-4 326 0 0 4 2 4 5 8 0 4-1 4 1 4 6 5 8 3 4 2 2 2 1 8-1 6 3 6-1 2-2 0-2 2 0 4 8 3 4 4 2 0 2-1 2-2 4 0 10 10 4 10 10 14 8 6 2 0 1-2 3-1 2 1 2 3 6 5 2 0 8-6 2 0 3 4-1 4-2 4 1 2 6 8 0 6-1 4-4 0-2-2-12-8-6-6-2-1-2 1 0 2 4 4 1 2-2 6 0 6 10 10 0 2-3 6 1 2 5 4 8 3 10 3 2 0 4-2 0-2-2-2-6-3-7-9-4-4-2-6 1-3 2-1 4 6 6 7 10 2 6 0 4 1 2 0 2-1 2-3 2-1 2 0 5-1-2-6-4-4 0-4-1-2-4-1-3-3-5-12 4 0 1-2 1-6-3-4 0-2 3-4 4-1 1-1-2-4-3-4 1-6-1-4-12-8-6-3-5-9 0-2 1-2 8-10 1-2-1-2-6-7-4-7-6-3-22-6-5-3-4-6-2-16 293 0 0 623-4 0-4-3-8-3-3-3-3-7-4-2-8 4-6 0-4 0-18 8-6 1-12 0-6 6-2 6 3 10 1 1 10 2 10 5 10 2 8 1 6 0 10-3 6-3 6-6 1-1 5 0 4-1 4-3 4 0 0 100-82 0-652 0 0-511 4 0 4 1 3 4 5 4 6 2 2 3 2-1-10-10-6-4-6-11-4 0 0-16 4 0 12 3 8 9 28 17 1 2-1 6 0 6-1 4 1 12 2 4-1 4 1 4 2 2 4 0 7 4 5 0 10-8 0-2-2-8 5-6 1-2-4-1-4 1-2 5-4-4-2-1 0-2 1-2-6-10-3-4-7-6-3-6 0-2 2-1 8 4 2 1 1-2 1-6 6 2 10 8 4 2 6 8 5 4 1 4 2 2 5 2 1 4 5 4-1 2-4 4-2 0-6-9-8-2-4 1 4 2 1 2-4 8 0 2 5 4 6 3 4-1 4-2 10 0 3-2-1-4 0-1 4 0 1-1 0-4 9-7 1-1 0-4 3-4 5-8-5-5-4-3-2 0-8 0-3-4-5-2-6 2-2-2-2 0-3 2-1 4 2 2 5 2-3 4-2 0-2 0-3-4-7-4-1-2 0-2 3-2 6 0 2-5 2 0 4 2 6-1 2-1 0-11 2-1 4 1 3-2 1-2-2-4 1-4-1-2-3-4-3-6-1-6 0-2 1-2 2 0 2 0 2 2 10 4 0-4-1-4-3-2-7-8-13-11-2 0-2 1 2 8-3 6 0 4-5 8-6 0-1 2 7 12 0 2-2 1-2 1-4-3-4 1-6-1-2 6-2 0-4-1-4-3-1 1 1 2 4 12-2 1-8-3-6 0-6-6-12-7-4-5-6-3-6 0-1-1-3-8 2 0 1-2 0-6-9-4-5-4-2-4-5 0 0-75 4 0 2-1 3-2 5-2 1-2-1-4-4-5-6-3-4 0 0-47 6 0 1-1zM1000 242l-3 6 0 2 4 6 3 2 8 6 6 1 2 1 10 11 8 5 2 1 2 0 1-1-3-12-2-2-9-6-7-3-2 1-2-1-8-5zM1012 212l-1 2 0 6 7 12 4 2 3 0 2-2 0-2 0-10-1-2-6-4zM1060 117l-2 1 1 2 3 2 1-2zM1114 259l-1 1-1 2 2 6 4 2 2 0 2-1 1-3-2-4-1-2zM1148 162l-16 2-4 1-2 3 9 12 7 3 3 3 5 10 4 10 4 9 0 4-8 0-2 3 1 4-3 4 0 2 1 8 3 1 8-3 6-1 4 4 6 5 10 2 2 3 1 5 3 4 2 1 5 1 3 4 2 0 2-3 4-1 3 2 11 3 4-2 2-3 2-3 8-3 10-2 2 1 4 4 2 0 8-2 3-3 0-2-1-4 0-10-1-6-5-8-4-3-6-3-2-2 0-8-2-3-2-2-4 0-1 3-1 4-2 1-8-4-12-1-6-4-6-5-8-2-10-9-4-10-2-8-2-3-6-2-6 1-10-2zM1268 291l-2 1-1 2 1 4 4 3 2 3 2 0 2-2 2-2 0-2-6-6zM1288 297l-3 3 1 3 2 1 4 1 3 3 9 4 1-2-5-7-6-2zM1292 286l0 4 5 4 3 5 2 1 1-2-4-8zM1294 123l0 1 2 3 1-1zM1308 133l-1 1 2 4 7 4 1-2-1-2zM1334 181l-1 3 5 3 4 5 2 1 1-1 0-2-1-3-6-5zM1364 222l-1 2 3 1 1-1zM1382 232l-1 0 0 2 2 0 1-1zM1408 224l-2 2 2 2 1 0 0-2zM1424 305l-1 1 1 2 2 2 4 0 0-2zM1470 272l-1 0-3 2 8 4 0-2zM1488 292l0 3 2 1 1 0 3-2zM1478 154l-1 2 1 3 2 0 1-1 1-2zM1482 172l0 2 2 2 1 0 0-2-1-2zM1494 232l-1 2 1 1 4 1 1-2-1-2zM1510 246l-1 2 0 4-1 2-4-1-4-1-5 2-1 2 1 2 4 4 5 8 0 2-4 3-2 1-2-1-1 1 0 4 1 4 2 0 2 2 3 8 3 4-1 12-3 3-2 1 4 1 2 3 0 8 2 4 1 10-1 8-2 3-5 7-5 5-2 0-5-1-4-4-3-6-2-1-4 0-5-3-2-4-5-12-12-8-2-1-2 1-2 4-2 2-4 1-4-2-10-6-6-7-2-1-4 0-4-1-6-5-15-7-3-4-4-6-2-1-4 0-5 1-7 4-3 4-1 7-2 2-4 0-6-2-2 1-4 3-4-1-1 2 1 4-2 1-16-2-10 0-2 1-4 4-12 0-2 2 3 2 1 2-2 4-4 1-12 2-2 1 0 2-2 1-3-1-3-3-2-1-2 1-1 1-1 2 3 4 0 2-1 2-1 4-1 1-8 1-2 2-1 6-5 7-6 4-2 1-4-1-3-5-5-4-7-8-1-2 0-2 6 1 1-1 1-2 0-4 1-2 3-2 4-1 3-3 3-7 8-5 1-6-4-4-3-8-1-4-3-3-6-2-8 1-12-2-2 0-1 2 1 6 2 1 6 1 6 4 2 2 2 4-1 2-1 0-8-3-6-7-2-1-3 3 0 4-1 2-3 2-1 4-2 2-1 2 2 6 5 6 3 4 0 4-1 7-2 0-3-3-7-3-4-1-4-1-1 1 11 17 6 2 6-3 2 0 12 7 3 3 0 2-1 2-2 1-6-2-2 0-5 7-4 4 1 2 2 2 0 2-7 14-1 2-14 7-7 5-5 2-4 2-4 0-8-8-4-3-4-1-4 0-2-1-1-3 2-8-1-2-10-4-8-4-4-2-12-1-11-7-5-7-4-1-6 1-8 3-2 1-7 9-1 4 3 10 0 4-4 8-4 4-2 8-3 6 1 4 9 12 2 1 6 1 3 2 3 4 2 6 2 2 12 6 10 1 10-1 12 6 4 1 8 0 4 3 2 0 2-2 4-1 8 0 2-1 3-6-1-8 2-3 6-1 6 2 4 2 8 9 4 7 9 10 1 4-1 4 1 6 7 10 1 4 0 8 4 8 1 6 2 2 5 4 6 0 9 4 11 11 5 11 5 8 2 6 6 8 4 2 6-2 4 0 10 4 4 1 4-1 2 4 8 7 2 1 4 1 4-1 2-2 1-2 0-4 1-3 4-2 4-2 2-5 3-2 3-1 6 1 1 2 4 12 3 3 2 0 4-1 2-4 2-1 2 2 10 0 6-1 4-6 4-2 2 1 10-1 2-1 10 2 4-1 8-5 4 1 2-1 1-1 1-4 3-4 1-8 1-4 9-9 4-5 2-2 7-4 8-4 5-1 4-2 6-5 6-4 2-2 6-12 4-6 1-2 0-2-1-4 3-6 0-2-4-8 0-4 3-3 6-5 3-6 1-4-1-8 3-2 8-2 2-2-4-8 0-14-1-2-5-4-2 0-2-1-4-1-2-2 0-6 6-6 6-3 10-10 6-3 6 0 2-2 0-4 1-2 18-12 0-6 1-4 6-8 2-6 1-4-3-8 1-4 3-6 0-6 2-4 4-3 5-1 1-2-4-4-8-5-3-3-2-4-1-4-2-3-4 0-6 3-4 6-4 2-4-1-8-4-6-5-3-4-3-12 1-8zM1528 253l-2 1-1 2 5 5 6 2 2 0 2-1zM1588 734l-3 2-6 10 1 1 2-1 9-6 1-4zM1598 658l-4 2-1 2 1 2 5 8 1 8 2 2 2 1 6-1 4-2 4-4 3-8 6-6 0-2-1-2-2-1-2 0-8 3-8-2zM1662 341l-1 5-6 4-2 4 1 5 2 2 5 5 2 4 2 8-3 10 0 2 2 3 2 2 4 0 4-1 0-2-2-4-1-4 1-20-2-15-2-5zM988 426l-1 2 7 7 2 0 1-1-2-4zM1050 463l-1 1 2 4 11 10 2 1 2-1 0-2-4-2-2-6-2-3zM1060 243l0 3 4 4 4 0-1-2zM1114 314l0 2 2 3 6 3 4 1 1-1-1-5zM1142 290l-2 0-2 2-4 4-2 1-2-1-4 3-4-1-2 2 4 6 6 4 2 4 4 3 2 3 0 2 0 2-2 2-4 2 6 6 0 6-5 8 7 14 2 1 6 1 2-1 3-5 1-4 3-4 3-4 1-8 5-5 4-2 1-3-1-3-6-2-5-3-2-4 0-2 3-1 2 1 10 9 4 2 2 0 2-2 2-5 1-10-5-6-21-12-5-2zM1472 319l-1 1 1 2 4 8 4 6 5 4 1 2 2 0 3-4 1-4-1-10 0-4-3 0-8 2zM1090 601l-2 1-2 2-1 2 0 4-1 1-6-2-3 1 0 2 2 8-3 6 1 8-5 1-1 1 0 4 1 1 3-1 3-2 0-3 4 0 6 1 4-10 1-6-1-4 1-2 5-3 6 1 2-2 0-3-4 1-2 1-2-1zM1436 714l-4 1-6 5-8 0-2 1-3 5-1 6 0 3 2 4 6 6 4 7 4 3 8 3 2 0 2-2 2-2 0-4-4-6 0-2 3-6 1-10zM1454 732l-2 0 0 2 4 3 2 0 1-1 0-2zM1464 742l-2 0-1 2-1 2 0 4 2 2 2 2 4 0 4-2 1-2zM1498 647l0 7 2 2 2-2zM1516 709l-12 5-15 8-5 6-2 4-1 6 1 4 2 1 6-1 2 1 2 5 2 2 4 1 2-1 4-6 6-3 6-5 18-1 2 1 10 7 2 0 2-1 4-4 1-2 0-4-1-5-1-3-5-5-4-3-8-3-10 0zM990 636l-2 0-3 6 0 4 1 2 2 2 6 3 4 3 6 3 3-1 1-2-3-10-2-4-5-2zM1052 598l-1 2 1 10-4 1-6-2-3 1-1 2 0 4-4 6-1 4 0 4 3 4 10 1 4 1 2 0 9-4 1-2-1-8 1-2 2-2 0-2-2-2-2-1-4 3-2-2-1-2 2-4 0-2-1-5zM1168 369l-3 3-1 2 2 1 4-1 2-2-1-2zM1433 188l3 0 6 4 3 6 1 2 1 2-1 1-2 1-13-10-1-2zM976 258l0-2 4 0 1 2-1 2zM976 268l4 0 2 3 11 5 2 2 2 6-3 0-10-4-2-2-2-4-4 0zM1499 278l1 0 3 2-1 2-2 1z"/><path fill="#b84000" d="M987 98l17 0 0 4 2 4 4 4 4 1 4-1 1-2-1-6 0-4 323 0 0 4 6 14-2 6 2 4 7 6 8 3 4 3 1 2 1 6-1 6 0 4-1 2-2 6 0 4 2 1 5 1 7 4 4 0 4-4 4 2 8 10 3 8 10 16 11 9 6 2 1 1 1 2-4 2-7 2-1 2 2 2 4 1 2 1 3 4-1 6 0 6 1 2 5 4 3 4 0 2-3 6 0 2 2 2 18 10 8 1 5 3 3 1 4 3 2 7 6-1 8 8 4 0 4 2 4-4 2 0 0 2-6 4-2 2 0 2-2 2-1 6-7 1-6 3-2 0-6-5-4 0-1 1 7 14 3 4 1 3 4 3 2 5 2 3 2 0 4-3 6 3 2 0 1-2 0-4-6-6-2-8 1-3 2-3 1-4 1-1 2 1 3 2 0 2-1 6 4 2 2 4 1 6-3 8-3 4-1 4-8 6-2 0-2-1-3-3-1-2-1-4-1-2-2-1-6 0-4-2-2-3-3-10-2-2-13-9-2-1-3 0-3 6-2 1-2 0-4-1-6-3-4-4-5-7-3 0-4 1-2 0-8-6-12-6-4-3-6-9-2-1-6 0-10 5-3 5-1 6-2 2-2 1-10-4-8 2-8-5-2 0 5 8 1 4-4 1-6-1-4-3-6 2-4-1-2-2-2-4 1-6-1-2-6-10-4-2-2-5-1-1-7-1-1 1 4 8 1 2-1 2-5 0-4 3-4-2-2-3-2-1-10-2-4-3-2 0 0 6 0 2 5 4 3 5 4 2 4 5 4 1 12 7-2 4 0 2 4 4 0 2-2 2-8 1-14-2-2 0-4 2-6-1 3 6 3 4 0 2-1 4-3 2-4 0-2 1-2 7-4 4-2 4-6 4-2 0-4-5-6-5-3-4 0-2 5-4-1-4 1-3 2-1 4-1 2-2 3-3 2-6 3-2 7-2 0-2 0-6-1-2-4-3-2-5-1-6-3-3-8-3-16-1-6-1-1 0-1 2 0 8-1 2-2 2 0 6-5 7-5 3 6 10 6 6 1 4-1 4-1 1-2 0-8-5-8-3-4 0-4-2-2 0-1 1 3 2 2 1 2 5 5 6 0 6 5 1 2 3 4 2 4 0 6-2 2 0 4 3 2 1 4 2 2 2 0 2-2 1-4-2-2 1-6 8-2 3-3 1 4 4 1 2-8 14-2 2-10 5-10 7-10 4-4-2-6-7-4-2-4-2-4 1-2-2 0-3 2-7-2-3-10-3-8-5-6-2-8 0-4-2-8-5-4-6-2-1-6-2-12 4-8 9-2 2 0 4 3 10-1 4-4 8-3 4-3 9-3 5 0 2 11 14 2 2 8 2 2 2 3 8 2 2 13 7 12 1 8-1 12 6 12 1 4 6 2-1 2-3 2-2 4-1 6 1 2 0 2-2 2-6-1-8 1-2 6-1 10 4 8 9 3 6 9 10 1 4-1 6 1 4 6 8 2 4 0 10 4 8 1 6 1 2 7 4 6 1 6 2 7 5 7 8 4 10 6 8 2 8 6 8 4 1 6-2 4 0 6 3 8 3 5 3 4 2 5 4 4 2 4 0 3-2 2-2 1-6 1-2 3-1 4-1 2-2 2-6 4-2 4 0 2 2 3 10 3 4 2 2 4 0 3 0 1-1 0-3 2-2 2 1 16 1 2-1 3-5 4-2 11-1 2-1 4 0 6 2 4-1 6-4 8 0 2-2 5-9 0-6 1-5 2-2 6-5 5-8 2-2 7-4 16-6 6-6 8-5 6-11 6-8 1-2-1-6 2-6 0-2-4-8-1-4 3-3 5-3 5-8 1-4-1-7 2-2 6 0 5-3-1-4-3-6 0-14 0-2-7-8-2 0-2 2-2-1-3-3 1-2 5-6 5-3 8-10 4-3 6-1 8 2 1-1-1-6 1-4 9-7 8-4 1-1-1-8 2-4 5-6 2-6 0-4-2-8 0-2 3-8 0-6 1-2 3-3 8-3 1-2-4-4-9-6-2-2-3-4 0-6-3-2-4-1-6 3-2 2-2 5-4 2-4-1-8-4-6-6-2-2 1-4 4-4 1-3 2-1 4 2 4 1 2-1-2-4-2-3-9-7-7-1-16-9-2-1 0 1 1 4-1 4-4 0-6-2-2-5-3-3-1-2 2-1 9 1 1-2-2-4-1-2-3-1-4 1-1 2-1 6-3-2-5-1-2-2-1-3 0-2 3-4 0-6 3-10 3-3 1-9-2-2-2-2-2-6-3-4-2-2-6-2-9-6-4-6-1-4 9-12 0-4-7-8-3-6-7-3-22-7-4-3-4-5 0-6-2-6 0-4 292 0 0 622-4 0-4-3-8-3-2-2-4-8-2-1-4 0-6 3-10 0-6 2-4 3-14 4-12 0-7 7-3 6 4 10 2 2 10 2 10 5 16 2 12 0 12-5 7-6 7-1 6-4 4 0 0 99-734 0 0-177 4 0 2-1-2-3-4 0 0-62 4 0 2-1 2-6-2-2-2-1-4 0 0-149 4 0 2-2 2 1 6 4 4 4 8 3 0-2-6-9-4-5-6-1-6-3-4 0 0-46 4 0 0-4 3-4 0-2-3-2-4 0 0-38 4 0 4 2 4 4 12 7 4 1 1-2-1-4-2-2-15-12-2-4-2-6-3-3-4 0 0-4 4 0 2-4 2-1 6 2 2 1 4 6 2 2 8 3 4 3 12 6 3 3 2 2 0 2-2 6-3 4 3 6 2 4-1 6 1 14 3 2 6 1 8 3 6-1 6-5 8-3 12 3 21-4 5-6 0-5 10-6 1-7 3-5 4-3 4-4 4 1 2 2 6 7 1 2-1 2-5 4-2 4 6 6 5 11 2 1 4-1 2 1 4 2 2 2 6-1 1 5 3 2 6-2 3-2 0-2-1-2-12-2-4-4-1-2 0-4 1-2 5-6 1-7 3-5 2-2 4-2 1-4 2-2 4 0 3-2 2-6 1-8-1-4-5-5-10-5-10-7-8-2-12 2-4 5-6-1-4 1-4-1-2 1-2 2-2 6-6 2-2 1 0 3 2 2 1 2-1 2-2 1-6 0-4-3-3-2-1-8 2-3 5-1 2-4 1-4-1-8-4-6-1-2 2-2 4-4 10 4 6 1 10-3 0-2-2-2-4-6-6-5-4 0-4 1-2 0-22-18-6-1-1 1 3 6 1 2-1 2-4 3-4-2-3-3-7-5-2 0-2 1-1 2 2 4 4 4 5 2 5 8-1 1-6 1-2 2 0 2 5 6 0 4-7 2-8-2-2 2 0 2-2 2-2-1-2-3-3-6-1-6-5-4-3-6-12-4-6 1-2-2-2-7 1-4 0-2-3-2-2-1-4 2-2 0-2-5-2-1-2 1-1 2 0 6-2 4 0 2 2 4-1 2-4-1-4-3-2-2 0-2-2-1-6-1 0-14 4 0 1-2-1-1-4 0 0-44 4 0 4-3 0-2-4-2-4 0 0-2 8-1 2-4 7-1-1-6-4-6-6-4-6-1 0-44 6 0 4-1 2-2zM1008 209l-1 1 0 2 1 4 0 4 1 2 9 11 6 3 2 1 3-7-2-12-1-2-6-4-6-2zM1046 233l-1 1 0 2 3 2 2 0 1-2zM1058 115l-1 1-1 2 1 2 7 4 1 0 0-2 0-2-2-2zM1144 162l-12 1-4 2-3 3 9 12 2 1 6 2 2 2 8 16 2 7 0 4-3 2-3 3-2 5 1 4-3 4 3 10 1 1 4 0 6-3 6 0 4 6 4 1 4 3 6 0 2 2 3 6 3 4 3 2 5 5 4 2 2 0 2-1 2-3 8 1 4 1 4 0 4-3 2-3 4-2 2 0 4-3 6-1 4 1 4 3 4 1 8-4 2-2 0-2-2-4 1-8-1-8-6-9-9-5-2-2-1-8-2-4-2-2-4-1-2 3 0 4-2 2-8-4-10 0-4-2-10-8-8-2-10-8-1-6-3-6-1-6-3-4-6-1-6 0-10-2zM1244 183l-1 1 1 3 4 7 2 0 2-2 2 0 2-2-1-2-1-1-5-1zM1252 169l-1 1-1 2 1 2 4 6 7 4 2 0 2 0 1-2 0-2-1-2-4-4-6-3zM1288 119l-1 1 1 2 2 4 2 5 2 1 4-2 2-1 1 1 1 5 4 3 4 4 4 3 2 0 2-1 2-2 0-2-2-4-6-6-4 0-6-3-6-6zM1332 175l-1 1-1 2 0 6 1 2 9 8 4 2 2 0 2-2-3-8-5-6zM1364 218l-5 4-1 2 1 2 3 2 6 0 2 1 5 3 3 6 2 1 8-1 1-2-1-6 1-6-1-3-4 1 4 6-4 0-5-2-1-2 1-2-1-2-8 0zM1406 216l-2 0-1 8 1 2 4 5 6 1 1 0 0-2-2-4 2-4-2-2-3-1zM1420 283l-4 2-2 3 12 8 2-1 0-1-4-1 0-1 0-2 4-4 0-2zM1186 388l-2 0-1 2 1 0 3 0zM1168 586l-2 1-1 1 1 2 2 2 4 6 2 1 2 0 2-3 0-4zM1434 713l-4 2-4 4-8 1-2 1-3 3-2 8 0 2 2 4 7 7 4 8 2 2 4 1 4 2 4 0 4-2 2-2 0-4-5-8 1-2 4-4 2 0-2 0-1-2 0-8-5-12zM1450 731l-2 1 0 3 11 5 1 2-1 6 1 4 2 2 4 1 5-1 3-2 0-2-1-2-11-10-2-4-2-2zM1480 560l0 2 10 3 6 5 2 1 2 0 1-1-1-2-6-6-4-2zM1514 710l-10 3-16 9-4 6-2 4-1 6 0 6 1 1 4-1 4 0 5 6 3 2 2 0 3-2 3-5 8-4 4-4 2-1 6 1 10-1 2 1 10 7 2 0 4-2 3-4 1-2 0-4-3-8-5-6-4-3-8-2-10 0-8-4zM1478 151l-3 3 0 2 1 4 4 4 0 2-3 4 1 4 4 4 6 1 2-1-2-6-1-2 1-2 4 0 6 1 3-1-1-2-4-3-6-2-6-7zM1588 733l-4 3-6 10 0 2 2 0 6-3 6-5 1-4-1-2zM1598 657l-5 3-1 2 1 2 6 8 1 10 4 2 4-1 4-1 6-4 4-10 5-6 0-4-3-2-2 0-8 3-8-2zM1644 672l-1 2 3 3 2 1 1-2-1-2zM1652 661l0 1 2 6 4 1 4-1 0-2zM1662 341l-2 5-5 4-2 4 1 5 7 7 2 4 1 8-2 9 0 3 2 4 4 2 4 0 2-2 1-2-3-4-1-4 1-20-2-16-2-4zM1682 760l-1 2 1 1 3 5 3 1 2-3-1-2zM988 634l-2 0-1 2-2 6 0 4 3 5 6 2 7 5 3 1 4 1 2-1 1-3-2-6 0-4 3-6-4-1-6 1-6-5zM1000 358l-6 2-6 0 0 2 2 2 8 2 2-1 2-5zM1004 399l-2 1-4 6 2 3 4 2 2-1 3-8zM1024 404l0 2 2 1 4-1 1 0-1-2-2-2zM1036 583l-2 1 0 2 1 2 5 3 2 3 5 4 2 4 0 4 0 2-1 1-8 0-3 1-1 6-2 4-3 8 2 6 3 2 8-1 8 4 4 4 4 1 6-1 2 1 8-2 4 3 2 0 4-3 4 1 2-1-3-4 0-4 4-12 1-6 6 4 2-1 2-3 4-10-2-2-2 0-4 2-2 0-2-1-3-3-3-2-4 2-4 5-4 0-6-2-1 1 5 12 0 2-3 4 0 6-1 1-2 0-2 0-4-3-2-4 2-3 4 0 1-1-1-2-4-6-5-2-1-2 1-4 3-2-4-4-8-6-8-3-2-3zM1040 566l-1 2 3 1 2-1zM1044 460l0 2 2 3 9 9 5 6 4 1 3-1 2-2 0-2-4-4-2-4-3-4-12-5zM1174 353l-2 3 2 1 2-1 1-2zM1294 274l0 5 2 0 2 0 1-1 1-2-1-2zM1318 217l-1 1 3 6 3 4 1 2 2 1 2-1 1-2-1-4-5-6zM1424 302l-2 2 0 4 1 2 1 2 4 0 4 2 3 0 1-2-1-4-3-3-2-1zM1498 646l-1 2 0 6 3 4 2 0 0-6-2-4zM1666 688l-6 1 0 1 2 4 6 2 2 0 2-4-1-2zM1284 229l-1 3 1 1 2 0 2-1-1-2zM1433 190l3-1 2 1 2 2 1 4-1 1-6-3zM1434 224l10-1 9 9 1 2-1 4-1 1-2 0-8-5-5-4zM1449 252l1-1 1 1 3 4 0 1zM1456 260l6-1 16 5 4 5 8 4 2 3 2 10 4 2 2 4-2 1-4-4-8-4-6-2-1-1-1-6-1-2-5-5-6 0-6-3-2-2zM1485 260l1-1 4 1 4 2-2 2-4-2-2 1zM1003 264l1-2 4 1 4 2 6 2 12 11 12 9 2 3 0 3-2 2-10-1-4-4-13-8-5-6-6-4zM983 276l1-2 4 2 4 2 1 2-1 2-2-1zM1117 306l1-1 9 7-1 2-7-2-2-2zM1214 306l2 0 6 4 1 2-1 2-6-2zM1291 310l1-1 8 3 4 4-1 2-7 0-2-1-2-3zM1045 312l3 1 8 7 4 2 2 2 4 10 2-1 2 1 2 4 1 2-3 1-5-3-3-3-1-5-4-2-3-4-3 2 0 2 1 3 1 3 7 2 1 2-1 2-4 1-2-1-4-3-2 0-3-3-2-4-3-5-7-7-1-2 2 0 8 4 4-2 0-2zM1130 318l0-1 4 1 2 2 0 2-2 1-2 0zM1161 318l1-2 4 4 0 1-2 0zM1058 636l4-1 2 1 1 2-1 1z"/><path fill="#c84e00" d="M990 98l12 0 0 4 4 7 6 3 4 0 2 0 2-1 2-5-1-8 114 0 0 4 1 2 2-2 0-4 116 0 0 4 2 5 6 3 2 0 2 3 0-3-2 0-3-6-1-6 80 0 0 6 5 12-1 6 1 4 7 6 8 3 5 3 1 2 1 6-2 8-2 2-1 8 0 6 2 2 6 0 8 4 4-1 4-3 2 1 4 5 5 4 4 10 3 4 6 10 8 8 2 4-2 1-2-2-4 0-6-4-2 0-2 1-1 2-2 6 0 2 7 7 8 4 2 0 4-4 4 0 2 1 1 2-1 6 1 6 8 8 0 4-2 4-1 6-5 6 0 4-1 2-10 3-3 3-2 2 1 5 2 3 6 2 3 2-2 6 0 4-2 2-3 2-4 0-8-6-13-6-4-4-5-8-2-1-6 1-10 4-3 4-2 8-3 2-8-4-2 0-8 1-2-1-10-6-4-4 0-2-2-1-2 0-6-4-1 1 1 4 6 2 6 5 3 7 3 4 0 2-4 0-3-2-3-1-6 1-2-2-3-12-4-4-1-4-7-4 1-3 4 0 3 5 3 0 1 0-1-4-4-3-3-5-2-2-7-1-4-2-4 0-3-5-5-3-2 0-2 1 4 6 0 4 2 2 1 6 4 2 3 6-6 4-2 0-4-5-4-1-8-1-8-6-2 1 0 2 2 10 6 5 4 6 4 3 2 3 2 2 8 3 1 2 0 4 5 6 0 2-6 1-8-3-6 0-4-2-2 2-6-1 0-3 1-4-1-2-2-1-2-3-4-2-2-2-1-8-5-6-6-2-12-2-6 1-6-3-4-2-2 2 2 6 0 8-5 4 1 2 1 4-5 6-4 1-2 1 1 4 1 2 2 1 3 5 7 7 1 3-1 2-2 1-4-5-4-2-4 0-6-4-6 0-4-2 0-2 1-2 7 0 1-2 1-6 2-2-1-10-7-9-8-3-10-7-14-5-2 0-4 2-4-1-2 5-2 1-8-1-4-1-6 2-4-1 1 4 0 4-3 3-4 0-2-3 0-2 3-8 1-4-6-6-1-2 0-2 2-2 3-1 2 1 12 4 4-1 2 1 2 4 4 3 4 0 2 0 0-1-3-4 0-2 1-4-4-7-4-3-8-8-4-2-8 0-3-2-5-2-14-11-4-1-6-3-2 1 7 10 0 2-1 1-2 1-14-8-2 0-4 0-1 2 0 2 3 4 4 5 5 3 1 2 0 2-2 2-4 0-2 1 0 1 3 8 3 2 0 2-4 2-6-2-4 0-2 2-2-1-2-5-1-4-1-2-5-4-3-6-11-4-5-6 0-5-4-2-4-5-8-4-4-1-2-1 1-4-3-3-4-1-1 0-3 8-2 3-1-5-3-3-6-1 0-21 4 0 2-1-2-5-4 0 0-7 6-1 4 2 2-1 1-4-1-6 1-6 3-1 4 2 8 5 4 6 4 0 0-2-6-4-4-6-4-3-5-9-5-6-6-4-6 0 0-42 8 1 6-2 1-1zM1040 229l0 1 0 2 5 6 3 1 4 0 1-1-3-5zM1052 114l0 1 3 5 7 5 2 1 6 1 1-1-1-2-8-9-4-2zM1114 126l-1 2 1 3 2 1 4-1 1-1-1-1zM1142 162l-10 1-4 2-3 3 9 13 2 1 6 2 2 2 8 15 1 7-1 2-6 4-2 12-2 3 1 3 4 10 1 1 2 0 8-3 4-1 1 5 13 7 6 2 13 13 7 4 4 1 4-1 1-2 3-1 5 1-1 4 0 2 2 2 2-1 1-5 1-2 2 0 6-7 4-1 7-4 4 0 9 5 10-4 2-1 0-2 0-2-1-4 1-6-1-10 1-2 6-1 4-3 2-1 2 1-4 4 0 2 2 2 6 3 4-1 6 1 1-1-4-4-3-4-5-2-2-2 5-4 2 0 2 3 2 1 2-1 3-7-2-2-3 0-2 2-2 0-6-2-9-8-1-2 0-2 3-6-1-7-4-5-3-6-7-6-8-5-4 0-1 1-1 6 3 6-1 1-6-1-4-1-1 1 2 8-1 4 1 2 7 4 6-4 4-1 2-1 1-2-1-2 9 0-2 2 1 2 3 4-1 2-4 4 1 2 1 6 6 2 1 2 0 2-1 1 1 3-1 2-5 4-3 4-2-2-4-6-6-3-2-1-2-1-2-11-4-5-4-2-1 1-3 6 0 2 0 1-2-1-8-3-8 0-4-1-8-7-4-2-6-1-8-6-2-3-1-5-1-2-3-12-3-2-6-2-8 1-10-3zM1192 170l-6 2 1 2 1 2 6 2 2-2 1-2 0-2zM1202 182l-1 0-1 2 2 4 4 2 4 5 4 0 7 3 1 0-1-2-2-2-5-6-8-6zM1228 157l-2 3-5 2 1 4 4 2 3-4 3 0 2 0 3 2 3 2 4-1 1-1 1-2-1-2-3-1-6-1zM1280 113l-1 3 2 4 6 6 4 6 13 7 4 5 4 3 2 1 4 0 2 2 0 4-3 6 1 2 2 1 2-1 2-3 3-1 1-2-1-4-4-8 0-4-2-6-7-6-12-3-12-10zM1392 208l-3 4-4 2-3 3-4-1-6 1-6-4-4 1-6 8 0 2 2 4 2 2 6 0 8 5 4 6 2 0 8-1 2-1 2-4 2-3 1-2-1-4 0-2 2-2-1-6 1-6zM1262 314l2 2 2-2zM1272 319l-1 1 0 2 1 1 1-1zM982 216l0 1 2 1 2-2zM1006 206l-1 2-2 8 1 4 8 8 3 6 9 5 4 1 2-2 0-4 1-4-2-10-1-3-2-3-6-3-6-3zM1234 172l-1 0-1 2 2 3 2 1 1 0 0-2zM1308 211l-1 1 0 2 1 1 6 1 2 4 1 4 5 10 2 2 5 0 3 5 2 0 4-2 2 1 1 4 1 0 8-1 2 1 6 2 2-2 2-4 0-3-2 0-2 4-8-1-2-3-4-2-4-4-4-2-6-6-4-3-4-4-6-1-3-3zM1324 167l0 5 4 8-1 4 1 2 10 9 8 4 4 1 2-2 0-2-4-6-2-5-4-5-9-6-5-7zM1340 220l-1 0 1 1 4 6 4 1 2 0 1-2-1-1-6-3zM1419 98l291 0 0 621-4 0-4-2-8-3-2-3-4-7-6-4-5 4-3 2-4-1-10 1-5 4-7 0-6 4-12 0-2 1-8 7-1 6 6 12 10 2 9 5 6 1 6 1 12 2 3 1 1 4 2 2 4 1 3 7 2 4 3 1 4-2 1-3-1-3-4-3-2-2-4-1-2-1-1-4 0-2 13-7 4-2 12-8 4 0 0 99-734 0 0-175 6 0 8-3 2 0 5 4 5 2 4 0 2 0 2-2 0-2-2-6 0-4 4-6-2-2-2-1-8 0-3-3-3-1-8-1-4 2-1 12-1 2-4 0 0-56 6-1 2-1 2-8-2-3-4-3-4 0 0-82 4 0-4 0 0-62 4 0 2-1 2 0 6 3 4 5 6 3 5 0 0-2-11-17-2-1-6-1-6-5-4 0 0-40 4 0 4 3 1-1 1-2-1-4 3-4 4-1 8 1 3-2 3-4-1-6-3-3-2 0-6 4-2 1-4-2-4 2-2 1-6 0 0-32 4 0 4 2 8 5 3 4 7 3 4-1 1-2 1-2-3-6-15-13-2-3-1-6-4-4 0-2 1-2 2-1 4 2 5 7 11 4 2 2 12 6 4 4 0 2-1 2-4 6 1 4 4 6 0 2-1 6 0 6 2 4-1 4-2 1-2-4-2-1-2 0-1 2 1 2 2 2 6 3 12-1 6 3 4 0 4-1 6-5 4-1 6-1 10 1 6 0 8-2 8-1 4-2 6 2 1-1-3-6 0-2 1-2 3-2 4 3 2 0 1-3-1-6 2-8 1-2 7-5 2 0 2 2 3 3 1 4-6 4-4 4 0 2 1 2 5 2 3 2 3 6 2 6 6 8 4 2 2 0 5 0 1-1 4 1 7 0 4-2 3-4 1-2-2-2-5-1-8-4-2-2 0-3 0-2 6-4-2-6 2-5 2-3 2-1 2 0 9 9 2 4-1 2-8 0-4 1-1 1 3 7 2 1 4 1 4-4 6 3 4 1 4 3 16 0 5 4-4 8-5 6-2 1-6 1 8 3 1 1 0 2-8 14-15 9-6 5-4 1-4 2-4 0-10-10-4-2-7-1 0-2 1-8-2-3-10-4-8-4-16-4-10-5-4-6-2-2-8-1-10 4-2 2-7 7-2 4 0 2 3 8 0 6-4 8-4 4-2 8-4 4 0 2 1 4 3 2 8 11 2 1 7 2 3 4 2 6 2 2 12 7 4 1 6 0 6 1 5-1 7 4 6 2 10 1 2 1 2 6 2 1 2 0 1-1 3-7 4-1 6 2 2-1 2-1 3-8-1-8 2-2 4 0 10 4 7 8 4 6 7 8 2 3 0 3 0 4 1 6 7 12 1 4-1 6 4 8 0 4 2 4 8 5 6 0 6 2 6 5 8 9 4 9 5 8 1 8 6 8 2 1 6 1 4-2 4 0 6 3 8 3 14 9 6 2 4-1 3-2 3-9 2-1 4 0 2-1 1-1 1-6 4-4 2 0 2 2 3 4 2 8 3 4 4 1 4 0 4-1 0-2 2-2 18 1 2-1 2-4 5-2 1-2 8-1 2-1 10 3 4-1 6-3 8-1 2-2 2-4 4-5 0-7 1-4 1-2 8-5 4-9 2-2 8-4 12-4 6-4 4-4 4-2 4-4 5-10 5-6 2-4 1-12-1-4-4-8 0-2 2-2 7-4 5-12 0-6 8-2 2-1 2-3 0-2-4-8 0-16-6-8-6-4 16-20 6-2 3 0 5 3 3-1 2-2 1-2-2-4 0-2 2-4 8-6 8-2-1-10 1-4 5-6 2-6 0-4-2-8 4-10 0-6 0-2 3-3 2-1 4 0 2-1 1-1 0-2-3-4-10-6-1-2-3-4 0-6-1-2-9-3-8-7-4-3-6-8-8-6-8-2-6-4-4-2-10-8-2-5-2-2-4-2-2 0-4 2-1 2-1 3-4 0-2-1-1-2 5-4 1-4-3-4 2-4 9-8-3-4 1-8-1-4 0-1-2-1-2 1-2-2-2-3 1-2 3 1 4 3 2 0 4 1 1-1 1-4-7-6-2-2 1-2 2-1 10 2 2-1-1-2-5-6-4-3-6-3-3-4-7-4-2-1-2 1-4 4 0 5-2 2-6-3 1-2 4-6 0-2-3-5-5-5-2-6-7-3-22-7-4-2-4-6zM1460 114l-1 0 1 2 2 1 1-1zM1470 122l0 2 4 5 2 2 2-1 1-2-2-6-3-2zM1490 130l-1 2 1 2 2 0 3-2zM1498 135l-1 1 0 2 1 1 2 0 1-3zM1542 237l-1 1 1 2 2 0 1-2zM1586 198l-1 0 1 2 4 1 1-1-1-2zM1622 656l-8 3-8-2-6-1-4 2-3 2-1 2 0 2 6 8 1 10 3 2 4 1 6-2 6-3 5-12 4-4 1-2 0-2 0-2-2-2zM1642 658l-1 0-1 4 8 2 1 4-1 1-4 0-3 1-1 2 1 2 7 7 6 4 3 5 5 6 4 2 4 3 4 0 2-1 0-8-3-4-5-4-2-4-2-1-4 3-2 0-4-2-2-2-1-2 0-4 7-1 4 0 1 1 3 4 2 0 2 0 1-2-1-2-4-3-4-5-6-4-6-2zM1662 340l-2 6-6 5-1 5 1 4 7 6 2 4 1 8-2 8 0 4 2 4 4 2 4 0 3-2 0-2-2-4-1-4 0-8-1-4 1-8-2-16-2-4zM990 565l-2 2 0 3 2 4 2 1 4-1 5 2 1 0 2-2-6-2zM1004 397l-2 1-4 5-4 2-3 3 1 3 6 3 4 4 2 1 2-1 6-6 0-2-2-2 2-6-1-2-2-2zM1026 399l-8 3 0 4-6 4 3 2 3 0 1-4 1-1 6 3 8 1 1-1 0-4-2-4-3-2zM1038 392l0 2 1 2 7 6 2 0 0-2-1-2-5-2zM1054 386l0 2 2 2 4-1 1-1 0-2zM1182 388l-2 2 2 1 6 0 2-3-2-1zM1126 493l0 2 2 2 1-1zM1150 486l-1 2 3 2 2-2-1-2zM1158 491l-5 3 1 2 1 2 3 2 2 0 2-4 0-2zM1168 584l-4 2-1 4 4 4 3 5 4 3 4 0 4-2 1-2-1-8-4-1zM1454 693l-1 1 3 2 1 0zM1484 558l-6 1-1 1 1 2 3 2 5 0 4 2 8 6 6 0 0-2-11-10-4-2zM1514 709l-10 3-16 10-6 8-3 14-1 1-4 1-2-1-12-13-4-2-6-1-4-2-6-8-2-6-2-1-6 2-4 4-8 1-2 1-3 4-3 8 1 2 3 6 6 6 5 8 3 2 8 3 4-1 4-2 1-2 0-4-3-7 0-1 2-1 6-2 2 0 4 2 1 1 0 4 1 7 1 1 6 4 1 2 2 0 7-4 3-7 8-3 4 0 3 4 3 2 2 1 4-1 6-7 6-4 4-4 2 0 6 0 10 0 3 1 9 7 4 0 6-5 4-2-5-12-5-8-3-2-5-2-6-2-10 0-8-3zM1586 734l-2 2-7 10 0 2 1 1 4-2 4-2 7-5 0-2-1-4-2-1zM1606 712l-2 0 7 10 3 2 3 0 2-2-1-2zM998 580l0 2 2 2 2-2zM1022 550l-2 2 2 3 2-1 0-2zM1032 580l-1 0 0 2 2 8 5 3 8 7 1 4-1 3-8 0-2 3-6 18 2 6 1 2 3 2 2 0 4-2 2 1 8 4 4 3 6 2 12 0 3 2 3 0 6-1 6-1 3-2 0-2-4-6 1-6 2-4 8-3 2-3 4-12 1-2-1-3-2-1-2-1-4 3-2 0-8-5-2 0-6 4-16-2-4-3-4-4-12-6-6-5zM1038 563l-2 1 0 4 2 2 2 1 4 0 2-1 0-2-2-3zM1044 418l-2 2 2 2 2-1 2-1zM1498 645l-1 3 0 6 3 6 2 0 1-2-1-8zM1102 632l0 2 3 4 1 1 2 0 1-3-1-2-2-2zM1046 427l-3 3 0 2 3 2 2-2zM1044 442l-2 2 1 2 3 2 4 1 1 1 1 1 0-3-3-6zM1042 457l-1 3 2 4 5 6 5 4 5 7 2 1 4 1 4-1 2-1 3-3 0-4-1-1-4-2-2-5-3-4-9-2-4-3zM1461 162l1 0 4 2 4-2 4 6 3 8-3 1-10-5-4-6-1-2zM1439 226l3-1 2 1 8 8-1 2-1 0-2-2-6-2-3-2zM982 234l2-1 2 0 5 3 1 4-2 2-2-1-4 1-2 1-6 0 0-9zM1497 242l1-2 2 1 2 1 2 4 0 2-2 1-2-1-3-2zM1459 262l3-1 5 1 3 2 0 2-2 1-2 0zM1007 266l1-1 10 4 23 19 1 3-2 2-4 1-2 0-2-2-4-3-12-8-7-9zM1535 270l5-1 8 4 4-1 3 4-1 2-2 2-2 5-2 2-4 1-8-4-8-8 0-2 1-2zM1481 272l3 1 2 5 4 1 1 3-1 1-7-3zM1438 274l2-1 2 0 4 2 8 4 8 2 9 5 1 2 1 6 1 2 2 1 6 0 2 1 2 2 1 2-2 10-5 5-2 0-4-4-2-1-6 0-4-2-1 2 2 4 8 10 2 6 2 2 1 6 4 3 1 1-1 2-2 1-2 0-3-1-1-2-3-10-5-5-12-8-4-1-2 0-2 2-1 4-1 2-2 0-9-4-6-6-1-2 2-2 2 0 4 3 6 1 4-4-2-4-1-4-2-2-1-2 1-4-1-6 1-2 3-2 2-1 4 0 2-1-2-4zM1448 301l-1 1 0 2 1 1 6 3 4 0 1 0-1-2-2-2zM1456 291l-2 1 2 6 2 1 8-1zM1431 284l1-2 4 1 1 1 0 2-1 2-2 1-2 0-1-1zM1095 302l3-1 2 0 3 3-1 2-2 2-2 0-2-1zM1295 314l1-1 3 1-1 2zM1046 322l2 0 1 2-2 4-1 0-2-1-1-1-1-2zM1240 328l4-2 4 2 6 6 3 8-1 3-2 1-4 0-2 2-1 6-3 3-4 1-2-2-2-3-5-1-4-8 1-2 2-1 4 1 4-5 1-1 0-6zM1505 336l1 0 1 2-1 4-2-1-1-3zM1224 352l2 0 4 1 2 6 4 5 0 2-2 0-3-4-7-6-1-2zM1494 352l0-2 4 1 2 1 1 2-1 2-4 2-4 2-1-2 3-1zM1064 608l2-2 4 4 4 6 1 2-1 2-2 0-6-10zM1065 624l1-1 4 2 1 3-1 1z"/><path fill="#d85a00" d="M993 98l8 0 0 4 3 6 2 3 4 2 10 2 2-1 2-5 4-3 1-2 0-6 103 0 0 4 1 2 3 2 4 1 0 1 0 5-4 1-1 2 5 6 4 2 2-2-4-6 4-1 4 2 2 0 6 7 4 3 2 0 1-1 0-2-1-2 3-4-1-1-4-2-5-5-3-2-2 0-4 3-3-5-4-2-1-2 0-4 112 0 0 4 2 6 9 8 9 5 2 0 2-1 0-2 3 4 5 4 6 7 12 7 8 9 6 3-1 8 0 2 6 6 2 6-1 6 2 2 1 4 11 10 7 4 3 4 10 8-2 8-2 3-4-1-6-4-2-1-3 1-1 2 4 6-2 1-6-5-4-2-4-4-6-3-4-3-6-1-8 2-8 0-4 1-2 0-2-1-5-5-1-2 2-8-2-10-8-9-3-3-11-7-6-3-6-5-8-1-6-3-6-1 0 2-4 2-2 2 2 8 4 3 4 1 2 2 1 4 5 6 1 2-2 4 0 2 2 4 0 2-1 6-2 3-8-3-10 0-3-2-2-2 1-2 6 2 4 3 2-1 3-2 1-4-2-2-4 0-2-2-4-6-2-2-6-3-8-2-2-1 1-6-3-3-8-3 0-2-2-3-2 0-2 2-2 1-2-1-6-1-4 0-5 0-6-2-7-9-8-5-2-1-1 1 0 2 2 4 5 4 3 4-19 3-4 3-2 2 1 2 3 3 2 5 4 4 2 2 5 0 3 2 8 16 0 5-2 2-4 1-2 4-4 10-1 4 5 9 0 3-2 2-2 0-1 2 0 2 3 2 6 2 2-1 4-5 2 0 4 3 4 0 12 8 6 0 2 1 8 10 8 5 10 3 3 2 3 4 2 1 1-1 3-1 4 1 2-1 0-3-2-2 4-2 1-2-1-4 0-2 2-2 6-1 6-3 4 0 6 3 4 1 2-2 4-1 2 0 6 6 1 3-1 4 4 6 0 4 2 2 2 0 1 2-1 2-2-1-6-3-8 0-3-2-7-6-4-2-2 2 0 4-4 1-1 1 1 5-8-2-4 5-4 0-5-2-5-5-2 2-6 0-10-4-4-7-6 0 0 2 0 2 8 4-1 4 1 2 3 4 2 4-1 5-6 1-2 2-1 2 5 3 1 3-3 4-2 1-3-1-3-3-2-7-4-4 0-6-6-3-6 1-3-2-1-3-18-7-4-1-4 0-2-3 0-6-4-4-4-5-4-3-2-3-6-5-10-4-8-1-2-1-8-5-4-4-12-5-3 0-1 2 7 10-1 1-4-2-6-2-4-2-6-1-6-6-12-6-2 2 1 2 3 6 6 4 6 2 2 4 8 9 4 3-7 2-3 2 1 2 3 4 0 4 0 2-2 1-4 0-4-3-3-6-5-4-5-8-1-1-8-1-2-2-3-4 0-2 1-1 8-1 4 1 1-3 0-2-5-4 2-4-1-4-1-2-2-6-4-5-6-4-6-2-4-1-4-2-2-2-2 0-1 2 0 4-4 2 0 2 1 4-2 1-6-1-6-5-8-1 0-5 8 0 6 2 3-1 0-2-1-3-4 1-2-2-3-8 1-1 7 1 1-5 2 1 2 1 2-1 1-6-7-4 0-2 4 0 2 2 1 2 3 2 2 5 10 1 1-2 0-4-1-2-15-12-4-8-7-8-4-2-8-1 0-39 22 2 1-2-5-6zM1026 193l-1 1 1 2 2 2 2 1 2 0 2-3-2-2zM1050 111l-2 1 0 2 2 3 4 3 8 6 8 3 2 0 2-1 0-2-1-2-13-13-2-1zM1100 121l-2 1 2 5 2 0 4-2 2 0 3 5 3 3 4 2 4-1 1-2 1-2-2-4-2-2-9-2zM1126 136l-2 1 0 1 2 2 1 0 2-2zM1170 122l-2 2 2 2 2-2zM1220 174l-2 1-1 1 1 6 2 2 6 1 1 1 1 1 1-1-1-6-2-2zM1042 245l-2 1 0 2 2 1 2 0 2-1zM1128 154l-1 2 3 2 2-2zM1262 98l5 0 0 4 3 3 3-3 0-4 65 0 1 6 4 12 0 6 1 4 1 2 7 6 7 2 4 2 2 2 1 4 0 3-2 5-4 2-1 2 2 18 1 1 6-2 8 4 6 0 4 3 6 0 4 3 2 3 1 6 4 4 6 12 4 4 1 2-2 1-2-1-4-3-4 0-3-3-3-2-4-1-2 1-2 4-2 1-4 0-4-1-6 1-6-2-4 1-2 0-2-4 1-4-1-2-8-10-3-8 1-1 6 0 4 4 2-1 0-5-6 0-2-5-4-1-2 0-1 1 0 2-1 2-4-1-5-3-6-10-1-2 2-2 1-4-4-8 0-6-5-10-12-8-6-2-4-3-6-2-4-4-12-3-2 6-2 1-2-2-2-3 0-4-1-2-1-1-2 1-2-1-2-3zM1370 188l-2 0-2 2 1 2 9 4 2-1 0-1-1-2zM1421 98l9 0 0 4 4 1 2-1 0-4 33 0 0 4 1 2 6 1 2-3 0-4 22 0 0 5 2 1 2-2 0-4 71 0 0 4 1 0 0-4 134 0 0 621-4 0-2-2-10-4-4-8-5-5-2-4-5-3-4-7-1-2 2-8-3-6-10-8-6-3-11-3-9 0-3 2-1 3-2 1-1-4-2-2-3-1-4 1-6 2-8-2-6 0-6 3-3 3 1 2 6 8 1 10 1 2 4 2 4-1 10-3 1-2 4-12 3-3 2-1 6 3 4 7 10 10 4 2 8 11 2 2 3 1 2 2-1 2-2 0-4-3-4-1-1 2 1 4-1 2-3 0-4-3-2-1-1 6-2 2-3 2-10 0-2 0-6 5-2-1-5-2-9-6-4-1-2 1 0 2 4 3 6 9 10 9 4 7 9 2 11 6 5 0 11 3 7 1 4 6 6 4 1 4 4 6 4 1 5-3 1-2 1-2-1-2-6-6-6-3-1-3 1-2 6-4 10-3 4-5 6-4 4 0 0 98-734 0 0-173 8-1 6-3 2 1 4 2 6 3 6 0 2-2 1-3-2-8 5-8-2-3-10-3-2-2-2-1-10-1-6 1-2 2-4 0 0-40 8 0 6-3-2-4 1-6 1-1 2 0 2 1 2 4 2 2 4 1 5-1 2-2 0-4-2-2 1-3 2 0 4 1 7 0 3 6 4 2 2 6 2 3 6 2 1 3-1 2-2 1-4-2-3 3-1 2 1 2 1 1 3 1 1 2-2 2-2-1-3 1-1 2 5 4-1 4-2 0-2-5-2-1-6 0-1 2 1 2 8 6 5 10 4 4 3 4 4 2 1-2-2-4 1-2 2 0 18 10 10 0 8 3 2 0 4-2 6 1 8-2 4 2 0-5-4 0-7-9 1-6 2-1 1 3 3 4 6 5 2 0 2-3 0-4-5-6-1-2 6-20-2-4-2-2-2 0-6 2-8-5-8 2-2-1-3-4-2-2-5-2-2 2 2 6-2 1-4-1-1-2-2-4 1-4-2-1-1 3-3 1-8-4-6-6-12-6-5-5-2-2-1-7-6-2-1-1 1-2 2 0 4 3 5-1-1-8-2-1-4-1-4 5-2-1-2 1-6 5-10 3-2-1-1-4-2-2-5-2-2 0-2 2-1 4 5 4 0 2-1 4-1 3-8 0 0-73 6-1 1-3-3-3-4 0 0-57 4 0 4-2 3 2 3 4 0 4 6 5 0-1-1-2 0-2 1 0 2 1 6 1 4 2 2-1-16-25-8-2-4-4-6-1 0-35 4 0 4 4 4 0 1-2-2-6 1-2 4-3 8 0 4-1 4 1 6-1 6 4 6 1 10-1 8 2 6-1 6-4 4-1 10-2 12 2 0 2-8 4-7 8-3 4-4-2-4-1-2 0-2 3 0 2 2 4 2 1 4 0 4-2 2 2 2 5-2 8-6 8-2 7-2 2-2-1-8-9-4 0-3-1-5-12-2-2-2 0-4-1-6 2-8-2-4-2-4 1-4 2-4 4-4 0-3 4 0 4 3 4 6 3 4 5 2 0 10-5 6-1 4-4 6 0 5 2 3 2 1 4-1 2-4 1-1 1 1 2 2 4 4 2 4 4 0 2-4 4 0 2 2 3 4 3 2 2 0 2-2 1-6 0-1 1 0 2 2 6 5 6 6 6 4 6 2 1 10 2 4 3 2 0 4-2 1-2-2-14-5-3-2-3-5-4-5-2-1-2 0-6-2-4 0-2 3-4 6 6 2 1 4 1 3 2 4 6-2 6 5 0 5 2 7 4 6 5 2 0 1-1 1-2 1 0 2 2 1 4 1 2 7 7 2 0 1-1 1-2 0-6 2-2 5 0 9 2 2 2 4 8 0 2-2 2-2 1-4-2-4 2-6-3-2 2 3 6 1 2 2 1 2 0 1-1 1-2 2-2 2 0 4 2 4 3 2 0 4-1 2 0 4 4 2 0 4-2 2-4-1-4-7-10-4 1-2-1-1-2 1-2 2-3 5 1 3 2 1 4 1 2 2 0 1-2-1-4 1-2 3-10-1-6 1-2 4-1 8 3 4 3 8 11 6 6 4 6-1 6 1 6 8 12 0 4-1 6 4 8 1 6 1 2 3 2 6 3 6 1 6 2 7 6 7 8 3 8 5 8 2 9 6 9 2 1 6 1 6-4 2 1 5 3 9 3 10 8 6 2 6 0 6-2 1-3 1-5 1-1 5 0 4-2 1-8 3-2 2 0 3 2 4 12 5 4 2 1 8-1 2-4 2-1 17 1 5-5 6-1 1-4 7-1 10 2 4 0 6-3 8-1 2-1 4-7 3-3 1-2-1-6 1-4 2-2 7-4 2-4 2-6 11-6 10-3 6-4 4-4 7-5 7-12 6-6 1-4 1-12-1-4-4-6 0-4 1-2 6-2 2-2 6-12 0-4 6-1 2-2 2-3 1-2-4-10 0-16-9-12 1-2 9-15 2-2 6-2 8 3 4-1 6-5-4-6 1-4 7-5 8-1 1-4-2-8 2-4 5-6 2-6 0-4-2-8 3-10 0-8 3-3 8-1 2-2 0-2-6-6-7-4-2-2-2-4 1-6-1-2-8-4-4-4-11-7-6-10-2 0-6-4-6-1-6-5-4-1-7-6-3-4 0-4 0-2 4-2 4 4 2 0 0-4-1-4 1-4-2-3-8-6-3 1 0 4-2 6 2 6 0 2-1 0-10-3-4-5 0-2 3-4 5-3 5-1 1-2-7-6 0-2 1-4 2-2 2 0 4 1 2-1 2-2 4 0-2-2-2-1-2-1-2-4-5-6 3-1 2 0 2 3 6 2 2-2-1-4-11-10-8-6-4-5-10-5-8-1-2-1-7-8-3-6-2-2-29-10-6-8-2-8zM1458 111l-2 3 1 2 1 2 6 3 10 11 4 2 4 4 2 1 2-1 2-1 4 0 4 5 2 1 4 0 1-1 0-10-1-2-2 0-4-2-4-1-6-2-4-6-4-1-4-1-4 1zM1506 108l-1 2 0 2 5 2 1-2-1-2zM1532 231l-3 3 0 2 3 4 2 4 2 1 4-2 2 0 4 3 2-2 1-2 3-2 2 0 0-2-2-2-4-2-6-1-4 1-1-2zM1538 204l-2 2 2 6 2 2 4 2 3 0 1-2-2-2-2-4zM1548 184l-3 4 1 2 2 2 8 5 4-1 2 0 1 2 2 6 4 4 3 4 4 0 2-2-1-6-3-5-2-2-6-1-4-4-4-3-4-4zM1558 120l-2 1 0 3 6 5 2 1 2-1 1-1-1-2-4-4zM1570 152l0 4 2 1 2-1 0-2zM1576 158l-1 0 1 4 2 3 2-1 0-5zM1578 135l-1 1 1 2 2 2 2 0 1-2-1-3zM1592 189l-2 1-1 4-5 1-2 1 0 2 1 2 3 2 4 1 2-1 2-8 0-2zM1662 340l-3 6-5 4-1 2 0 4 1 4 6 6 2 4 2 8-2 8-1 4 3 4 4 2 4 1 2-1 1-2 1-2-3-4-1-4 0-8 0-4 0-8-2-16-2-5zM1614 755l-1 1 0 2 3 2 8-1 2 1 3 0-1-2-4-1-2-1zM1094 668l-2 4 0 4 6 6 2 1 2 0 2-1 0-4-4-4-1-6-1-1zM1008 486l-4 1-1 1 1 2 7 6 3 1 4-1 2-6-1-2zM1036 389l-1 1 0 6 7 4 8 8 4 2 0-2-1-4-5-8zM1016 450l-1 2 1 1 2 3 2 0zM1030 560l-1 2 4 4 3 5 4 1 6 1 2 1 5 4 1 4 2 1 2-5-2-4-2-2-4-2-6-6-4-2zM1136 501l-1 1-1 4 2 1 6 2 1-1 1-2zM1154 720l-4 2 4 2 2 1 1-3 0-2zM1166 583l-2 1-3 4 0 2 0 2 4 2 2 4 7 6 2 1 4-1 5-4-1-10-2-2zM1450 691l-1 1 1 3 6 4 2 1 2-1 1-1-2-4-3-2zM1478 558l-2 2 2 4 10 2 4 2 4 4 2 1 4 0 8 2 2-1-2-1-15-13-7-3zM1516 707l-6 3-4 0-2-1-4 5-12 7-4 5-3 4-3 12-4 2-6-5-8-9-4-2-6 0-4-3-5-7-3-7-8 1-3 4-3 2-6 0-2 1-4 5-2 8 0 2 3 6 6 6 4 6 3 4 10 3 4 0 4-2 2-1 1-2 0-8 1-2 4 0 2 1 3 9 4 4 3 4 2 1 12-5 0-4 2-2 4-2 2-2 2 0 4 4 6 2 4-1 6-8 6-3 4-4 2 0 6 0 10-1 5 3 5 5 4 2 4-1 4-3 4 1 2 0 3-4-1-2-4-3-5-11-6-8-5-2-8-2-10 0zM1544 692l0 2 1 2 3 1 2 0 1-1-1-2zM1574 665l-2 1 1 2 5 4 2 0 1-2zM1586 733l-3 3-8 12 1 1 2 1 4-2 6-3 6-5-1-6-1-1zM1488 142l-1 0 1 2 2 1 4 7 2-2-2-4-4-2zM1570 213l-2 1-2 2 1 2 3 2 2-2 0-2zM1172 620l0 2 2 0 6 4 2-1 1-1-5-5-2-1zM1498 645l-1 1 0 8 3 6 2 1 2-1-1-8-1-2zM1014 465l-1 1 1 2 2 1 1-1zM1463 166l7 1 4 4 1 3-1 2-2-1-4-3-4-2zM1240 172l2-2 2 1 2 7-2 0-3-2zM1186 182l0-1 2-1 8 1 3 7 3 3 2 1 2 2 1 2-3-1-8-1-8-7zM1253 198l3-1 4 2 3 7 1 5 5 7 1 2-2 1-4-2-2 0-2 0-1-1-3-5-2 0-2 3-2-1 0-7-3-6 1-1zM1303 218l9 2 2 2 0 4-2 2-4-1-2 1 1 2 7 5 4-1 12 13 2 0 4-1 2 2 2 1 6-4 2 0 2 3 6 1 4 2 2 0 4-15 2-2 4 1 4 6 2 1 10 1 2-1 3-6 4-4 1-4 2-1 6 5 10 6 4-1 1-3 1-1 2 0 0 3-1 2 2 4 0 4 1 2 6 4 1 2 1 2-1 2-1 4-2 6-4 5-2 6-8 3-6 4-1 2 3 8 3 2 6 2-1 6-1 4-1 2-4 2-2-1-7-5-13-6-4-4-6-9-4-1-6 2-8 3-4 5-2 8-2 1-2 0-4-3-4-2-6 1-4 0-8-5-2-2-1-2 0-6-1-2-4-1-4 0-2 0-8-7-5-6-8-2-2-2-3-4-4 0-2-2-12-6-3-8 1-3 2-1 1-2-2-8 1-1 4 3 8 1 8 6 2 0 2-2 4 0 2 0 0-5-1-2-4-4 0-2 1-1 4-2zM1344 253l-2 1 0 2 2 2 2-2zM1414 244l0 4 2 0 1-2zM1345 230l3 0 5 6-1 0-2 0-6-3-1-1zM976 238l0-2 8 0 3 2-1 1-4 2-6 0zM1011 270l1-1 4 1 8 5 14 13 1 2-1 1-4 1-4-4-14-8zM1539 272l3 0 3 2 1 4 3 4-1 3-2 1-2 0-4-3-4-1-2-3-3-3-1-2zM1104 274l5 0 4 2 3 3 4 0 2 1 3 4-1 1-8 2-2-1-2-2 0-3-7-1-2-2zM1450 280l10 1 9 5 1 2 0 6 0 1-2 0-6-2-4-4-6-1zM1244 288l4 0 2 1 8 9 4 6-2 1-6-1-6-5-4-2-2-1 0-2zM1443 290l3 0 4 1 1 3-1 2-2 1-8-1-1-2 1-2zM1106 294l1 0 1 2-2 2zM1313 296l3 0 6 5 2 5-2 1-6 0-2-1-2-8zM1460 302l2 0 2 2 3 2 1 2-2 1-6-5zM1480 302l2-2 2 2-1 4-1 2-3 0zM1445 310l3-1 10 2 2 3 4 7 5 5 1 2 0 2-2 0-22-14zM992 312l0-1 2 0 8 1 6 4 4 2 6 3 3 3 0 2-1 2-4 3-2 4-2 1-2-1-1-3 0-4-1-2-5-2-1-2 0-2-2-2-2 1-2-1zM1433 322l1-1 6 1 1 2-1 2zM1277 324l1-2 2 1 2 1 1 2-3 1zM1242 328l3 0 7 6 2 6 0 2-6 2-1 2-1 4-2 3-2 0-2-3-4-2-1-2 2-2 4-6 0-2zM976 330l0-1 6 1 8 5 4 5 6 4 2 0 6-2 2 1 3 3-2 2-5 3-2 0-2-3-2-1-8 6-6 0-6 3-4 0 0-12 6 0 3-2 0-2-5-4-4 0zM1166 338l2-1 2 0 7 7 1 2-2 2-1 0-7 0-3-2-1-2 0-2zM1122 354l4-1 3 1 5 6 2 6 5 8 1 2 6 3 18-2 6-3 3-4 1-6 4-3 8 1 4 3 2 1 12 0 4 1 2 1 1 2-1 2-2 4-4 5-2 1-9 2-2 2 3 1 6 0 4 1 0 2-4 6-4 8-12 7-4 3-4 3-10 4-2-1-14-13-6-1 0-3 2-3 0-2-4-3-10-4-8-4-14-3-4-2-7-4-7-9-8-1 2-2 10-2 4-1 10 6 2 0 1-1 0-2-6-10 1-2 4 3 2 0 4-1zM1190 386l-8 1-4 3-7 0-3 3-4 1-3 2-1 1-7 1 3 2 4-2 2 1 2 0 2 0 4-4 8-1 4-1 10 0 0 1 4 1 2-1 1-2-3-1-4 1 0-4zM1162 356l2-1 2 1 0 4zM1001 568l3 0 1 2-2 0zM1654 674l4-1 3 1 1 2-2 2-4 0z"/><path fill="#e86700" d="M995 98l4 0 0 4 2 4-1 1-4-3zM1036 98l16 0 0 4 4 1 2-1 0-4 72 0 0 4 6 6 1 2-4 4 1 4 7 6 11 7 2-1-1-4 1-1 10 5 2 2-1 2-3 0-6-1-1 1 3 5 2 1 2 1 2-1 2-5 5-1 4-4 0-2-1-4-2-4-5-6-5-3-4-4-13-5 0-4 105 0 0 4 4 9 9 7 7 4 8 2 4 2 7 8 13 8 6 8 1 4 3 2 3 8 5 4 1 2 0 4-2 4 0 2 11 13 6 5 6 3 3 5 3 2 3 4 0 2 0 4-1 2-6-3-4-1-6 0-2 3-4-1-4-3-5-3-5-4-14 0-4-1-2 0-6 0-2 1-2 0-2-2-1-2 2-4-2-8-1-6-1-2-9-9-18-12-6-5-4-1-6 0-8-5-8-3-2-1-2 2 2 4-2 6 1 4-1 8-2 6-2 2-10-2-1-2 0-4-1-2-8-4-6-8-4 0-2 3-2 1-4-1-8 1-2-1-4-2-9-9-9-6-2-1-3 1-2 2 1 2 5 6 5 4 0 2-6 1-2-1-5-6-7-4-4-1-1-1-2-6 0-2 1-1 4 3 4 0 3 0 1-2 0-4-6-4-4-9-4-2-16-2-12-4-2 0-1 1 7 6 4 7 2 0 6 0 4 3 3 4-3 4 0 2 3 4 6 6 3 5 10 5-2 0-6 4-4-5-4 1-4-6-4-1-1 1 1 2 6 8 4 2 4 4 4 3 8 9 2 1 4 0 2 0 4 5 4 8 2 6-1 2-5 2-5 6-3 6-4 1-2 2 1 3 3 2 2 2 3 6-1 2-2 0-3 2 1 8 16 6 4-5 8 0 6 5 2 2 3 8 3 2 5 8 4 8 2 2 5 2 2 4 5 4 0 2-1 3-14 2-1-1 0-4-7-5-6-1-1-4-9-8-10-8-2 0-1 2 3 4 1 2-1 1-2 0-8-2-2-6-6-5-2-3-4-4-2-5 0-2-2-2-4 1-4-1-4-2-4-3-8 1-10-6-4-4-12-5-2-1-3 2 0 2 2 4-1 2-4 0-4-2-6-2-6-6-16-9-6-8-6-5-12-4-5-6-4-2-1-2 2-2 6-3 2 0 4 3 6 2 8 7 4 1 3-2 1-2 0-4-5-4-2-6-1-1-2-1-6 2-2-1-4-5-13-10-5-8-9-10-3-1-8-1 0-36 22 2 4-2 2 0 6 3 14 2 6 3 1-2-1-4 2-2 0-4 2-4 2 0 0-1zM1042 105l-1 1 2 2 3 6 1 2 7 6 4 2 4 4 10 3 6 0 1-1-1-1-8-12-5-3-1-2 0-4-2-2-2-1-2 0-2 3-2 1-4-1zM1178 135l-2 1-1 2 5 4 1 4 11 7 3-1-1-2-4-5-3-3-1-6-2-1zM1126 191l-2 1 1 2 3 3 2 1 2-2-1-2zM1058 178l-1 2 2 6 2 2 1 1 6 0 1-1 1-2 1-4-1-3-1 1-5 1zM1078 175l-1 1 1 2 2 0 3-2-1-2zM1275 98l36 0 0 4 3 3 6 1 1 0 0-2-2-2 0-4 16 0 0 4-1 2-4 0-3 2-3 2 1 2 7 0 4-3 2 1 1 2-1 4 3 4 2 10 5 4 4 4 6 1 5 3 2 4-1 4-2 3-5 1-3 3-2 1-1 2 1 2 4 4 1 2-1 2-4 0-4 1-4-1-6-4-2-6-6-10 0-8-8-10-15-10-5-4-21-8-5-4zM1324 111l-3 3-1 2 3 2 1 1 1-1zM1348 138l-2 1-1 1 3 3 2 0 1-1zM1423 98l5 0 0 4 8 5 2 0 2-2 4-2 1-1 0-4 22 0 0 4 3 5 2 1 8 0 1 0 0-10 15 0 1 6 3 6 2 6 2 1 4 1 6-2 0-2-1-4-6-6-1-6 66 0 0 4 2 2 2 1 2-2 0-5 132 0 0 620-4 0-2-2-7-2-3-2-4-8-4-4-2-6-5-4-2-6 2-8-4-4-1-5-14-7-10-4-14-2-6 4-2-2-4-1-4 0-6 3-8-2-6 0-6 2-2 2-1 2 0 2 6 8 1 10 2 3 2 1 2 1 4 0 10-3 2-2 4-13 2-3 2 0 4 3 3 3 0 2-3 4 6 10 8 4 2-5 2 1 2 2 1 2-1 1-5-1 0 6-1 2-2 2-2 4 1 4-3 2-12 1-4 3-2 1-6-2-12-8-8-1-1 2 2 4 6 4 9 14 1 2-3 4 2 3 2 0 1-1-1-4 2-2 2 1 2 1 2 6 2 1 6 1 5 2 1 3 6 5 2 0 2-2 2-1 16 5 1 6 5 3 4 4 4 2 4 4 4 1 2 0 5-4 1-4-1-2-5-6-5-4-1-2 3-4 11-4 5-6 5-4 4 0 0 98-734 0 0-172 6 0 8-3 2 0 6 3 6 2 4 0 2-2 1-2 0-4-1-4 0-2 2-3 4 2 2 1 2-1 3-3 2-4-1-1-2 0-4 3-2-1-1-3-1-1-7-3-7-5-8-1-16 1 0-34 4 0 4 2 2 0 2-2 2-1 2 2 2 2 2 0-1-6 1-3 10 0 8 2 6 3-1 4 0 2 1 1 4 2 1 3-3 8-4-1-4-4-3-1-6-2-1 2 0 5-4 3 2 4 2 2 4 2 1-2-3-6 2-1 6 2 3 5 4 2 2 2 1 4 2 2 1 4 4 4 2 4 5 3 4 1 2-1 2-1 0-4 2 0 2 0 10 7 12 2 10 3 14-1 10 1 2-2-1-4 0-4 4-4 0-4-1-4-3-4 0-2 0-6 4-14-1-3-2-3-4-1-6 1-2 0-6-5-6 1-2-1-4-4-12-4-2-2-4-2-1-1 1-4-2-4-8-6-6-6-12-4-4-4 0-4-2-2-4-1-4 1-6 2-12 8-2 0-4-4-10-4-8 1 0-50 6 1 3-2 1-2-2-6-2-2-2-1-4 0 0-54 8 0 3 7 7 8 2 1 2 0 3-5 3 0 6 3 2 1 6 9 6 1 1-2-1-2-8-8-6-7-6-11 0-4 4-2 2 3 2 1 8 1 1-1 1-4 2-2 4 1 3 3 3 5 4 3 1 2-2 4 0 4 5 6-1 2-5 0-6-3-2 0-1 1 1 2 8 4 4 10-4 2-1 2 2 4 1 4 5 4 1 3 2 0 6 1 6 3 2-1 2-1 2-1 2 0 8 4 8-2 0-2-1-8 1-3 4-1 1-2-4-6 1-1 2 0 6 3 6 5 14 10 8 8 5 9 1 2 4 0 1 2 0 4 3 2 12 0 1-6 1-2 2 0 4 3 2-1 6-2 2-2 1-4-1-8 2-1 2 0 6 3 2-2 0-2-2-2-6-5-1-1 0-8 2-4 0-6 3-2 2 1 8 3 6 7 4 7 6 6 2 3 0 7 1 6 2 4 6 8 0 4 0 6 6 16 2 2 7 4 6 0 5 2 3 2 5 4 7 9 3 7 4 8 2 10 7 9 6 2 2 1 4 4 2 0 2-2 0-2-2-2 0-1 2 0 4 2 8 2 7 5 5 5 6 2 12-3 2-2 2-7 6 0 4-1 1-2-1-6 2-3 2 0 2 2 1 3 2 6 7 9 12-2 2-4 2-1 16 1 6-5 4 0 2-2 1-4 7 0 8 2 4-1 8-3 6 0 3-2 3-6 5-4 1-2-2-8 2-3 6-3 2-2 3-4 1-6 12-6 8-1 8-6 2-3 8-6 4-7 9-11 2-14-1-6-4-6 0-4 2-2 6-2 2-5 5-7 2-4 5-3 3-5 0-4-3-10 0-14-6-10 0-2 2-2 1-8 5-8 3-2 3 0 6 3 4 0 9-5 2-2-1-2-4-4 0-4 2-2 4-3 4 0 4 1 2-2 0-4-2-8 2-4 3-4 3-6 0-4-2-10 4-10 0-8 2-2 8-1 3-3 0-2-6-6-7-4-3-4-1-4 2-6-2-4 0-2 0-2-4-2-6 1-2 0-11-7-3-4 0-2 3-6 5-6 2 0 4 2 4-1 4-4 0-3-2-1-4 1-12-7-6-1-2-2-2-7-4-4-2 0-1 1 1 4 2 4-2 2-4 1-4 3-2 0 0-4-3-4 0-2-1-8-17-12-3-2-1-2 1-2 2-2 6 1 6 0 4 2 4 1 2-1 1-1-1-2-5-4 1-2 6 1 1-1-1-6 0-4-2-4 0-4 0-1-2-1-6 2-2-1-15-11-2-2 4-4-1-6 6 0 2-2-1-6 1-6 3-2-1-8-4-3-2 5-2 2-2-3-2 0-2 1-6-2-2-2-1-6-1-2 2-2-2-2-2 4-2 2-2 0-6-2-6 0-6-3-2 0-4 1-2 0-2 1-1 1 1 2 2 0 4 5 6 3 12 13 10 7 1 4-1 1-4 0-6-3-4 0-6-8-1-4-5-3-16-7-10-2-2-2 0-2-4-5-2-3-1-4zM1544 180l-1 2-2 6 1 2 2 2 0 2-4 5-4 2-4 5 3 4 2 4 3 3 8 3 3-4 0-2-4-4 1-2 2 0 6 3 3 3 3 2 4 4 6 2 2-2 1-4 1-1 2-1 2-2 0-4 2-5 8 1 3-2 3-8 0-2-2-4-2-1-4 0-4-3-6-1-2 0-4 3-1 2 1 4-1 2-3 1-5-5-9-7zM1554 117l-1 3 4 10 5 4 6-1 2 0 3 5 0 2-2 4-5 4-1 2 3 8 10 8 2 1 2-1 0-4 0-11-2-1-2 0-2-2 0-4 2-2 4 1 2-1 1-2-1-5-2-4-4-6-2-2-2 0-4 4-3-3-1-3zM1662 340l-3 6-5 4-1 2-1 4 2 5 6 5 3 6 1 6-3 10 1 4 2 3 4 2 6 0 3-5-4-4-1-6 0-6 0-4 0-8-1-16-3-5zM1618 752l-2 1-4 0-2 1 0 2 1 2 3 3 2 1 6 0 8 1 1-1 1-2-2-4-6-4zM1092 662l-1 2-3 8-1-2-3-2-6-1-2 0 0 1 2 3 2 1 5 2 3 0 5 6 3 4 6 4 4-4 2-6-1-2-5-6-1-4zM1008 478l-3 2-1 3-2 0-1 1-1 4 4 5 6 4 8 3 4 0 1-2-1-10-2-3-4-1zM1010 461l-1 1 2 6 0 6 1 1 4-2 3-3 1-2-1-2-3-4zM1128 690l-1 2 5 5 2 1 2 1 1-1 0-2-1-2-4-3zM1130 680l-1 2 1 3 2 1 2-2-2-3zM1144 705l-1 1 0 2 1 2 1 0 1-2zM1168 582l-5 2-5 6-1 2 2 2 5 2 8 10 6 1 4 2 2 0 1-1 0-4 2-4 0-8-3-4zM1420 703l0 3 5 6 0 2 0 2-7 1-4 4-3 5-2 6 0 2 4 6 5 6 6 8 4 3 6 2 6 1 6-2 2-2 1-6 1-2 2 1 1 1 3 6 3 2 1 4 4 2 3 0 7-3 6-1 0-4 6-3 8 2 4 0 4-2 6-7 12-7 6 1 6-2 4 0 6 4 4 5 4 2 4 0 8-1 2-1 6-7-2-3-6-5-3-8-7-10-14-3-10 0-10-5-8 2-2 0-4-5-2-1-2 1-2 1 0 2 3 6-2 2-9 5-5 5-4 4-3 10-2 2-6-2-8-8-4-2-2-1-6-1-2-1-6-7-1-2-1-4-2-2-4 1-4-1-3-2-1-2zM1428 695l-1 1 1 3 2 1 2-1 1-1 0-2zM1446 687l0 7 2 3 8 4 4 1 2-1 1-1-1-4-4-5zM1476 558l-1 2 1 2 2 3 10 2 7 5 3 2 4 0 6 2 7 0 1-2-4-1-4-2-9-9-6-4-5-2zM1540 688l-1 0 4 8 5 3 4 1 1-4-1-3zM1570 663l-1 1 1 2 2 4 6 4 4 0 2-2 0-2-2-3-5-3zM1590 732l-4 0-2 2-4 6-5 6-1 4 2 1 4-1 8-4 6-4 1-2 0-2-2-4zM1018 477l0 1 1 2 1 1 1-1 1-2zM1146 717l-1 3 1 2 10 6 2-2 2-4-1-2-1-2-2 0-4 0zM1166 608l1 10 1 4 2 3 6 1 4 2 2 3 6-1 4-3 2-1 0-2-4-6-2-1-4 2-2 0-4-3-6-1zM1482 674l-2 0 1 2 3 3 2-1-1-2zM1498 645l-2 1 0 8 3 6 1 1 2 0 2-1 0-2-2-8zM1582 715l0 1 2 2 2 0 0-2zM1272 110l2-1 0 3zM1335 168l1-1 4 3 1 2 0 2-1 1-2-1-2-2zM1368 176l2 1 12 3 8 7 2 1 2-2 3 6 5 5 5 9-1 2-4 0-6-3-7-3-10-12-9-8zM1188 184l0-1 2 0 5 1 1 4 4 4-2 2-4-2zM1350 184l2-1 4 3 6 2 2 4 2 2 6 3 12 6 2 3 0 2-2 1-6-2-6 1-5-6-5-2-2-2-8-8zM1232 196l2 0 2 2-2 6-2 1-3-1 0-2 1-4zM1251 202l5-1 2 2 1 3-1 2-2 1-4 1-2-3zM1495 212l3 0 0 9-4-1-2-2 0-2zM1302 232l2 0 4 3 6 3 4 0 5 6 11 6 4 3 6 7 6 4 4 7 2 1 2 0-1-2 1-6-3-4-1-3-2 4-2 0-1-3 1-4 4-2 8 2 2-1 2-5 6 1 1-1 0-2-1-1-5-3-1-2 2-3 2-1 2 1 3 5 3 2 6 0 9 4 3 0 1 0 0-2-3-4 0-4 1-2 4-2 1-3 2 0 7 5 4 4-3 8-3 4 1 2 6 5 8 5 1-2 0-2-2-4 1-6-2-2 0-3 2 0 0 3 2 1 4 1 4 4 0 2-4 12-4 4-2 6-6 2-6 5-3 1 5 11 2 2 4 1 2 2-2 8-2 2-2 1-3-1-7-5-11-5-4-4-6-8-3-2-4 0-12 5-3 3-2 4-1 5-2 1-2 0-6-4-10 0-4-1-7-5-1-2 1-6-1-2-2-2-2-1-7-1-9-6-4-5-3-1-5-1-2-1-2-5-2-2-7-3 1-4-2-3-2 0-1 1 1 4-4 0-4-2-2-7 2 0 4 3 2 0-3-8 1-3 6-1 2 0 6 6 6 2 8-2 1-4 0-4zM1388 272l-1 2 3 2zM1510 232l2-2 2 0 6 3 1 5-1 1-4 0-4-3zM1047 244l1-1 3 1 5 8 0 2 0 2-8 6-2 0-2-1-3-7 2-2 5 0 2-2 0-2zM1027 246l3-1 2 0 1 3-1 2-2 0zM1178 258l4-1 2 1 3 4 0 2-1 1-9-5zM1233 264l1-1 2 1 4 1 8-2 6-1 2 1 4 5 5 0 4 6 3 2 2 2 0 2-2 2-8 0-2-1-4-5-2-2-4-2-4 0-2 1-2 3-4 3-2 3-4 1-3 5-3 0-3-2-1-2 6-4 2-5 3-3zM1052 268l2-2 2 0 2 2 0 3-2 2-2 0zM1016 272l4 1 4 3 7 6 4 6-1 1-16-9zM1199 274l1-1 2 0 6 2 3 3 0 2-1 1-4 0-4-2zM1454 282l4 0 2 1 8 5 0 2-2 1-2 0-4-3-6-2zM1247 292l1-1 2 1 6 6 0 2-2 0-2 0zM1316 300l3 2-1 1zM1190 308l0-1 2 2 4 2 1 1-1 2-2 1-2-1zM1449 312l5 0 4 1 5 9-1 2-4-1-7-5-3-2 0-2zM1006 320l2-1 4 1 6 4 0 2 0 1-4 1-2-1zM1243 330l1 0 7 4 1 2 0 3-2 1-4 0-2-2zM989 344l1-1 2 0 2 1-1 2-1 1-2 1zM976 348l6-1 3 1-3 2-2-2zM1125 356l1 0 1 2 5 4 1 4 7 10 8 4 4-1 16-3 2 0 5-4 3-6 2-2 4 0 8 3 10-1 8 2 2 2-1 2-1 4-4 5-2 1-8 1-4 2-8 1-8 3-2 0-4 0-4 3-8 4-10 1-4-3-10-3-8-5-14-3-10-5-2-2-4-6-3-2 0-2 9-1 8 7 10 0 1-2-1-2-2-2-3-4 1-2 6-1zM1067 368l7 0 6 2-6 4-10 10-6-2-4 0-3 2-2 4 1 5-10-5-4-1-2 1-1 2-1 5-2 1-4 0-6 1-14-3-4 1-6 5-2 0-4-1-2 1-2 4-2-1-4-4-4 0 0-19 4 0 4 4 2 1 2 0 3-1 1-2-2-8 0-2 2-1 2-1 6 1 6-1 6 1 8 3 6 1 6-1 4-1 10 3 2-1 10-5zM1186 394l2 0 6 4 4 2-2 4-4 1-1-1-2-2-7-6zM1171 396l3-1 5 1 3 9 4 5-7 6-5 1-6 3-4-2-15-16 3-1 12 0zM1063 398l3-2 1 4-1 4-2 5-5 5-1 5-2 2-1-1-3-4 1-2 3-1 1-3-1-6-2-4 0-1 6 1zM1039 402l3 1 2 4-2 2-2-2zM976 404l4 0 4 1 2 1 2 8-2 1-4-4-6 0zM1028 414l3 0 4 2 1 2-1 2-5-1-2-1-1-2zM1065 450l1-2 6 2 3 6-1 1-4 2-2 0-3-3zM1125 476l6 0 5 3 3 5-1 3-8 0-4-2-2-3zM1151 478l3-1 2 1-2 2zM976 562l6 0 2 2-1 2-1 2-6 0zM1027 568l1-2 2 1 1 3-1 0zM1039 574l7 1 4 3 3 6 3 4-2 0-6-3-5-5-5-4zM1012 580l0-1 2 0 4 0 2 3 0 2-2 1zM1022 588l2-1 2 1 0 4 2 4 0 2-2 2-4-4-2-2zM1064 592l2 1 0 3z"/><path fill="#f77500" d="M1043 98l6 0 0 4 1 2-2 1-2-1-3-2zM1062 98l52 0 0 6 1 2 6 2 7 5 6 7 6 5 10 6 8 9 4 2 4 0 6 8 2 8-8 1-4-1-12-10-5-4-4-2-5-1-4-7-4-4-6-8-6-3-14-2-3-1-4-4-3-1-6 0-4-2-3 1 0 2 1 2 2 2 6 3 4 4 4 7 2 1 8 1 2 2 1 2-2 4 0 2 5 6 4 4 0 2-2 1-9-3-1-1-3-5-7-7-2 0-2 1 0 2 3 4 9 7 7 9 3 4 6 4 4 5 6 5 6 7 2 0 6-1 2 2 5 10 1 3-1 3-5 3-4 4-4 6-4 0-1 1-1 2 0 6 4 8-1 4 1 6-1 2-3 2-4-1-2-1-1-2 0-2 2-4 1-2 0-2-4-6-4-1-3 1-2 2 0 2 3 2 3 4 0 8 0 2-1 0-2 0-2-2 0-6-2-3-2-1-6 1-4 5-2 1-6-3-6-6-12-4-4-1-2 1 0 6-2 2-10-3-6-6-8-4-8-7-10-12-12-4-4-6 0-2 10 1 8 8 8 2 4 3 3 0-4-6 1-8-1-2-3-2-3-6-2-2-3-1-6 0-2-1-9-8-6-4-2-2-3-6-6-6-4-5-2-1-10-1 0-33 8-1 12 2 6 0 6 2 6 0 16 5 2 0 5-2 5-6 2 1 10 9 4 1 4 4 8 3 6 1 4 2 2-1-1-4-12-18-2-4-5-6zM1082 172l-6 2-8-2-2 1-2 4-2 0-6-1-1 2 0 2 3 9 4 2 6 1 5 4 5 5 2 0 2-3 0-2-8-10 1-2 7-4 4-4 1-2-1-2zM1124 189l-3 3 1 4 4 5 2 0 4-1 3-2-3-6zM1120 98l8 0 0 4 5 6-1 1-4-1-4 0-4-6zM1163 98l7 0 0 4 0-4 78 0 0 4 2 4 0 4 2 3 6 4 10 5 12 6 8 7 10 5 4 4 4 6 0 4 5 4 4 8 4 4 1 2-3 6 1 4 4 4 7 8 3 2 4 4 5 2 1 4 0 2 0 2 2 1 2 1-4 0-2 1-6 0-4 1-2 0-2-3-4 1-2-1-4-3-8-1-8-3-4-1-6 0-4-5-3-6-1-6-2-3-4-3-8-8-7-4-15-11-4-1-6 0-10-7-8-3-6 0 0 4 3 4-1 9-2 1-8-5-4 0-1 1 1 6-2 1-6-3-4-7-2-1-6-1-1-1-2-8-2-2 1-1 4 5 6 3 2 3 2 1 4 0 2-1 0-4-7-10-1-6-2-2-6-1-2-2-3-9 1-4 0-4-2-2-4-1-6-4-1-1zM1192 129l-1 1-1 2 4 1 1-1zM1279 98l31 0 0 4 4 7 2 1 0 4 2 3 8 5 10 3 1 1 0 4 3 3 2 0 2-1 3 2-5 2-1 4 2 4-3 3-2 0-4-1-3-8-9-10-14-9-6-5-8-5-6-1-5-2-4-4zM1324 98l2 0 0 4-2 0zM1448 98l17 0 0 8-1 2-8-3-6-1-2-2zM1483 98l10 0 0 4 1 4 0 1-2 1-6-3-2-1-1-2zM1509 98l47 0 0 4 2 2 2 2 2 0 1-2 0-6 7 0 1 6 1 1 2 1 4-1 1-1 0-6 131 0 0 619-4 0-2-1-8-4-2-2-3-6-4-6-1-3-5-11 0-2 3-2 0-2-7-8-1-4-1-2-9-5-6 0-8-3-14-2-4 0-4 2-4-2-4 0-8 3-14-2-7 3-2 2-1 2 1 4 5 6 1 10 3 4 4 2 10 0 6-3 2-3 0-4 3-4 0-4 1-2 2 0 3 2 2 2 0 2-4 4 1 2 4 4 2 6 7 4 0 2-2 2-1 7-2 4-6 2-6 0-2 1 0 2-2 1-5-1-11-8-7-2-3-3-2 0-2 1-4 0-1 2 0 2 5 4 4 5 4 1 2 2 3 6 4 4 0 2-1 2-4-2-3 0 0 2 3 4 7 6 3 4 5 0 0 2-3 2-6 0-2 1-1 3 0 2 2 2 4 4 3 2 12 1 4-1 1-2-1-6 1-2 1-2 2 0 2 0 4 4 2 1 3-3 1-3 2 0 6 5 2 5 2 2 8 2 4 3 6 3 4 3 6 1 4-2 5-1-3-8-7-10-1-2 4-2 8-6 3-6 5-3 4 0 0 97-734 0 0-171 6 0 8-3 2 1 12 3 4 0 3-2 1-2 0-4-1-4 1-2 6 2 12-3 4 3 2 1 8-2 6 1 1-2-1-2 2 0 8 4 14 3 5 3 1 2-2 2-1 2-3 2-2 2 1 2 5 6 10 3 6 7 7 6 5 2 5 0 2-2-5-4 3-6-3-6-3-4-1-4-2-3-3-1-1-2 0-3 2-1 2 5 2 1 2-5 2 0 2 0 4 5 8 5 1-1-4-4-3-7-8-7 0-2 3-4 1-4 0-5-3-5 0-2 0-8 2-12-1-4-4-4-2 0-6 1-2-1-6-4-22-8-5-4-2-6-1-2-9-6-5-6-4-2-8-3-4-4-1-5-1-1-6-1-4 0-6 2-4 4-8 3-2 0-4-3-10-4-8 0 0-24 8 0 1 0 1-2-2-3-8 0 0-16 4 0 6 4 2-1 2-6-1-4 2-4-1-2-7-4-3-6-4 0 0-43 6 0 11 15 5 3 6 2 2 3 1 6 1 2-2 2-1 4-3 4-2 1-4 0-1 1 2 4 1 6 4 5 13 5 13 7 1-1-3-6-2-6-1-10 1-1 2 1 1 4 3 1 2 0 3-1-1-4-4-2 0-2 2-1 2 1 5 6-1 4 2 2 10-2 6 2 2 0 8-4 6 2 8 2 3-2 2-2-2-8 0-2 3-2 6 1 4-2 6 3 11 8 6 8 2 4 0 4 3 3 8 5 4 1 6 1 6 2 4-5 2-1 4-3 6-3 2-4 1-6 1-1 6 2 6-4 1-1-4-6-7-5-1-3 0-4 2-4 0-4 1-2 2 0 6 2 2 1 4 5 2 6 0 1-8-1-1 2 2 2 5 4 8 3 3 3 4 12 7 10 0 4-1 4 1 2 6 16 2 2 8 5 10 1 4 2 4 4 3 4 5 6 6 14 2 10 7 10 7 2 4 5 2 1 4-1 4-3 4-1 4 1 5 4 5 5 8 3 12-2 2-2 2-6 2-1 6 0 4-2 2-1 0-2-3-4 1-3 2 0 1 1 1 2 0 6 7 8 0 4 3 1 2-1 2-2 2-1 7-1 1-4 2-1 8 0 6 1 3 0 5-4 6-2 2-4 2-2 14 3 10-4 8-1 2-2 3-6 5-2 2-2 0-4-2-4 0-2 2-2 2 0 4-4 4-6 1-4 1-2 8-5 4-1 6 1 2-2 3-3 4-2 2-4 7-5 4-7 8-7 2-1 2 1 4 4 4 2 4 2 2-1 0-2-6-4-4-1-3-3-1-4 0-12-2-6-4-8 1-2 1-1 6-1 2-2 2-5 4-5 3-4 4-4 2-4 1-6-3-10 0-12-3-10 0-2 2-1 4 3 2 1 2-1-8-7-2-5 4-7 2-1 2 2 12-2 11-6 1-2 0-2-4-5 0-3 2-3 4-1 6 1 2-1 1-2 0-4-2-8 1-4 5-6 2-4 0-4-3-10 4-10 0-8 2-2 8-1 3-3 0-2-1-2-4-4-7-4-3-4-1-4 4-8-3-6-2-3-4-2-9 1-3-2-2-2-4-1-2-3 0-2 2-4 4-3 2-2 4 1 6-1 4-5 1-2-1-5-2-1-6 1-2-1-7-4-2-4 3-3 4 4 2 0 2-1 0-2-2-3-5-1 1-6 2 1 2 2 4 2 4 2 6 3 2-1 2-5 2-2 4-2 0-2 0-4 1-2 1-1 8 0 3-3 2-6 0-4-3-7-4-1-4-2-6-2-8 0-2-1-2-3-4-1-1 1 1 4 0 6-2 0-6-5-4 0-6-3-4 0-2 1-2 1 1 4-1 6 0 4-1 2-3 0-2 2 0 2-4 0-2-1-1-5 4-4 3-6-1-4-4-6 1-1 6 2 1-1-2-2-5-2-2-4-3-2-9-1-8-3-2-2-1-4-1-4 1-2 4-2 1-2-2-6 1-4 6-2 1-2-4-4 1-4 0-2 5-2 1-2-3-6-4-6zM1522 138l-1 2 4 4 11 8 1-2-2-4zM1546 160l0 2 4 6 4 1 2-1 0-2-2-3zM1550 112l-1 2 3 10 0 6 8 8 1 2-2 4 0 2 5 7 3 5 8 8 5 2 4 1 2-1 0-3-1-3 1-4 0-4-2-6 2-8-2-8-4-6-4-5-8-6-2-1-4 3-2-1zM1662 339l-3 7-6 4-1 2 0 4 2 6 6 5 3 5 0 6-2 10 0 4 3 3 4 2 6 0 2-1 2-4-4-4-2-6 1-6-1-4 1-10-2-14-3-6zM1680 653l-2 1 2 2 2 1 2-1zM1114 681l-1 1 3 4 2 1 2-1-2-3zM994 509l-1 1 0 2 2 2 3 1 2-1 3-2 0-2-3-1zM1070 540l-4 1-2 1 1 2 4 10 2 2 4 2 1-1 2-3-2-4-1-2 2-2 0-2zM1092 529l-1 1 1 4 4-1 2-1-2-2zM1124 668l-1 0 0 8 1 4 4 6-4 4 1 2 12 12 2 4-1 6 4 4 3 6 9 5 2 0 2-1 3-6 0-2-1-2-2-1-6-1-2-2 0-4-2-3-2-3-4-4-5-8-1-2 1-4 0-4 2-4-1-2-2-2zM1170 580l-8 2-8 8-1 2 3 4 6 2 2 2 1 2-1 1-2 1-4-1-2 0 0 3 2 2 4 2 1 2 1 8 3 4 4 4 4 6 3 1 10-3 6-4 2 0 2 2 2 0-5-8-3-4 0-2 1-4-1-2-4-4 0-2 1-6-2-8-3-4-11-4zM1442 681l-1 1 0 2 1 10 4 7 1 1-1 1-4-3-1-4-3-4-2 1-6 0-4 1-1 2 0 4-1 2-4-2-2 2 0 3 4 9-6 3-2 2-3 7-2 6 0 2 5 8 4 4 6 8 4 3 8 3 6 1 6-2 4-3 4 3 2 3 2 2 6 1 8-2 7-1 3-6 2-1 8 2 4-1 6-3 3-5 3-3 6-2 4 1 8-1 2-1 0-2 4-1 4 1 4 4 0 2-5 2 3 5 6 3 4 1 1-1-3-4 0-2 14 1 4-1 1-2 1-2 5-4 0-2-1-2-4-4-4-2-2-2-2-6-4-6-1-2 1-3 2-3 4 3 2 0 3-3 0-2-6-10-5-3-4-4-8-3-6-3-2 1-1 2 1 1 3 3 3 6 8 5 6 2 1 3-1 2-2 1-6 2-12-3-8 1-5-3-2-2 7-8 1-2-3-4-4-2-2-1-2 1-1 6 1 8-6 1-5-3-3-7-4-4-2 0-1 1 3 6-1 2-3 0-4-3-3 1-1 2-1-2-2-6-3-4-2-1-5-1 0 4-1 2-4 2 0 2 3 8 7 5 4 0 3-1-1-4 4-2 2 0 2 2 1 4 4 4-1 2-10 6-8 8-2 7-8 0-4-3-4-6-4-2-6 1-2 0-4-3-4-6-1-4 1-2 6-5 4-2 2 0 10 2 2 1 2 3 2 1 2-2 0-2-4-3-2-3-2-6 0-4-2-2-6 1-4-1-3-2-3-4zM1460 669l-2 1-1 2-1 2 6 4 2 0 2 0 1-2 0-2-3-4zM1484 556l-8 1-2 1 0 2 2 5 2 1 6 0 4 1 9 7 5 1 8 2 9-1-1-2-8-3-4-3-6-6-4-3-6-3zM1568 662l-1 2 3 8 8 4 2 0 4-1 2-1 0-2 0-2-4-5-6-3zM1158 625l-3 3 2 2 3 1 3-1 0-2zM1476 670l0 4 1 2 7 5 4 0 1-1 0-2-3-5zM1496 646l-1 6 2 6 3 4 4-1 0-3-1-8-3-4zM1576 707l-1 1 2 4 0 4 3 5 8 3 8 0 0-4-6-4-2-4zM1576 727l-2 1-1 2 1 5 6-1 1 0 0 2-1 3-6 5-2 5-1 1-1 2 4 4 2-1 0-1 3-2 7-4 2-1 4-3 2 0 2 1 2 2 4 1 3-2 1-2-2-1-6-1-2-1-1-5-3-5-10 1zM1576 756l-1 4 1 2 2 0 1 0 0-2zM1598 766l0 2 2 1 2-1zM1425 104l1-1 2 1 8 6 2 0 6-2 1 2-2 4 1 2 4 2 4 1 10 6 16 15 3 2 1 2-2 1-4-3-6-1-3-5-2-4-1-1-18-10-12-3-2-4-5-4zM1037 110l1-2 2 1 0 3zM1489 114l3-1 2 0 1 1 1 4-2 2-3 0-2-2zM1354 140l2-1 2 0 4 3 1 2-1 2-2 2-4 1-1-1-1-4zM1125 144l3 0 3 2 1 4-9-4zM1346 148l0-1 2 0 3 3-5 2 2 2 0 6 2 4-2 2-2 1-2-1-5-4-3-10 0-2 2-2 2 0 4 3zM1139 156l4 2-1 1zM1124 160l2 0 3 2-2 2-3 0-1-2zM1203 170l1-2 2 0 4 3 2 3-1 2-1 1-2 0-4-1zM1375 182l1-1 4 1 10 8 4 2 8 7 2 5 0 2-2 0-10-4-5-6-5-5zM1356 190l2-1 2 0 1 3-1 2-2-1zM1500 198l2-1 12 2 4 0 6 1 9 10 1 2-2 2-4 0-2 2-2-1-4-5-8-2-4-4zM1308 238l9 2 5 5 8 4 6 4 13 13 4 8 7 2 3 0 1-2-4-6 1-4-2-6 1-1 4-2 4-5 4 1 2 3 6 3 1-1-5-8 0-2 7 0 21 10 6 2 4 4 4 3 3 3 1 6-1 2-8 4-3 3-4 1-1 2 3 4 4 8 6 3 1 3-1 6-3 2-3 0-6-4-12-6-5-4-7-10-4-1-14 5-4 4-3 8-1 1-2 0-6-4-12-1-4-1-4-3-1-2 1-6-2-6-6-7-12 0-7-5-7-2-3-6-7-6-2-5-5-5-1-4 2-2 4 0 5 4 3 2 6 2 2 0 4-2 2-2zM1388 260l-1 0 1 8-3 6 2 2 5 3 1-1-1-4 1-2 4-2 0-2-1-4-2-2zM1396 238l4 0 4 2 4 2 1 2-1 2-2 1-4-4-4 0zM1368 240l2-2 2 1 1 3-1 1-2-1zM1141 252l5 1 6 4 2-1 4-4 4-1 2 1 2 2-1 2-1 1-6 2-1 1 3 3 4 1 2 2 8 4 6 6 3 8 7 3 3 3 3 3 2 1 1 2-1 1-2 0-4-2-2-2-4 1-2-1-4-3-5-2-3-4-4-2-4-4-16-12-2-3-6-3-1-6zM1426 254l2-2 1 2 0 2-1 2zM1248 266l6-1 1 1-1 2-4 1-2 0zM1144 272l0-1 2 1 1 2-1 1zM1017 276l1-1 4 1 6 6 0 1-8-3zM1202 276l0-1 4 1 1 2-3 0zM1451 314l5 0 2 2 0 4zM1120 362l4-1 6 2 5 11 2 2 2 2 9 4 2-1 4-2 14-2 5-3 7-7 6 2 16-2 8 2 1 1-1 4-4 6-2 1-6 1-8 3-12 2-10 1-4 4-6 3-10 1-4-2-10-3-6-4-16-4-6-3-6-4-5-8 3-1 2 0 10 7 10 2 3 0 0-6-4-6zM1067 370l5-2 5 2-9 10-4 3-8-3-4 1-6 6-4 0-4-1-2 0-5 2 0 4-1 2-3 0-3-2-2 0-2 2-2 0-12-2-4 0-3-2-1-2 1-4-5-4-1-2 0-4 1-1 6 1 6-1 6 0 8 2 10 1 8-1 8 2 2 0 10-5zM976 384l0-1 4 0 2 3 2 1 4 0 4 0 2 1-2 4 0 2-2 2-6 0-4-4-4 0zM1171 398l3-1 3 1 2 10 2 2 1 2-4 4-4 0-2 0-1 2-3 1-2 0-4-5-1-2 5 1 2-1 0-2-3-6zM1058 404l2-1 4 1 0 4-2 2-2 2-1-2zM1026 426l2 0 1 2-1 1zM1009 432l3-1 2 0 6 4 2 0 4-2 4 1 4 6 0 3-2 3-6-2-2-3-6 0-2 1 2 0 3 6-1 0-2-1-2-3 0-2-4-2-2-2zM1004 450l2-1 4 1 3 4 1 4-2 1-3-1zM1028 456l2 0 4 1 4 7-2 2-2 0-2-4-3-2zM1021 464l1-2 2 1 7 5 3 6-2 2-6-3-3-3zM1128 478l2 0 4 2 2 4-2 0-6-2zM998 592l2-1 4 0 10 3 2 2 2 8 2 2 1 4-1 1-2 0-4-5-4 0-6-6-4-2zM976 604l0-2 6 0 4 1 2 2 1 1-1 4 2 2 6 3 4 7 2 3 2 1 0 1-8 0-4-1-8 2-4-2-4 0zM1173 610l1-1 4 3 3 0 2 2-1 2-3-2-1-2zM1009 628l9 1 1 3 2 2 0 2-3 2-4-3-2-1-3-2-2-2zM1079 662l1-2 2 1 3 1 0 2-3 1zM1431 702l1 0 2 0 4 6-2 1-2 0-2-1-2-2zM1623 744l3-1 4 1 2 0-2 2-2 0z"/><path fill="#ff850a" d="M1069 98l30 0 0 4 1 0 0-4 8 0 0 4 2 0 4 5 6 3 4 4 6 3 2 3 8 6 8 6 10 10 8 3 4 7 0 2-1 2-3 1-4-1-6-4-8-7-12-7-2-4-12-14-6-2-14-2-2-2-3-4-3-1-4-1-7 0-7-3-6 0-1-1zM1173 98l30 0 0 6 1 0 3-2 0-4 39 0 2 17 2 3 2 6 2 1 2-1 6-3 14 7 6 4 4 4 10 4 4 4 3 4 0 6 0 2 7 3 4 8 4 3 0 2-3 4 1 4 0 2 9 10 0 4 1 1 2 2 2-1-1 6-1 2-6 3-2-1-4-3-6 1-9-4-5-2-6-1-1-1-7-14-2-2-4-3-7-7-9-6-11-10-7-2-6 0-10-7-5-1-11-7-4 1-1 2 4 4 1 6 3 4-1 4-2 1-4-3-7-2-1-2 0-4-7-12 0-2 5-1 1-1 1-2-2-6 1-4-3-5-2-1-2 10-2 2-2 1-4 1-2-1-3-7 2-6-1-4-2-4-3-2 0-2zM1254 153l-2 1 0 2 2 1 2-1zM1270 136l-2 2 2 3 2 1 3 0 1-2-1-2zM1282 143l-2 1 1 4 1 2 2 0 1 0 0-2zM1292 98l16 0 0 4 2 6 5 8 1 2 6 4 2 2 8 3 2 2 5 7 0 4-1 2-2 0-2-4-8-7-3-5-5-2-4-3-5-3-7-6-10-6zM1514 98l21 0 0 4 1 2 4 5 4 1 4 6 2 6 0 2-2 4-7 2-1 2 0 2 2 2 4 1 2 1 2 1 4-3 2 4 0 4 1 4 4 4 5 8 8 7 10 5 2 1 2-1 1-6 2-6-5-12 0-2 2-4 0-2-2-6-10-17-6-3-2-2 0-2 2-1 2 0 8-3 1-2-1-6 130 0 0 618-4 0-10-5-8-13-3-8-1-6 3-4-1-2-8-8 0-4 2-3 4-2 4 0 2-1-4-5-8-6-3 1-1 2 0 3 2 3-2 2-2 0-2-2-4-1-6 0-8-2-16-2-6 1-8 0-8 3-14-2-6 2-4 3-1 2 0 2 6 8 1 10 4 5 4 3 10 1 5-3 4-4 1-5 2 2 7 11 2 6 2 2 0 2-3 4-2 2-4 1-2 0-6-3-2 6-6-3-4-4-5-3-3-4-4 0-2-2-2-4-2-3-8-2-4 0-2 1-1 2 1 2 5 4 1 2 0 6-2 1-6-1-4 2-2-1-5-7-9-7-18-8-3 1 0 2 1 4 4 4-6 5-1-5-3-3-11-5-3-3-2 0 0 1 3 4 1 2-4 9-2 1-2-1-4-9-5-4-4-6-5-5 0-3 0-4 2-2 0-2 0-2-4-2-2 2 1 2 2 2 0 2-3 0-2-3-2-1-8 2-6-1-10 3-2 2-3 4 0 2 11 6 0 2-6 3-4 0-2-1-6-6-4 0-8 6-3 4-7 2-2 5-4 2-1 3 0 10-2 2-6 16-1 4 5 8 13 15 10 4 6 1 10-3 6 5 6 2 4 0 6-2 6 0 2-1 3-5 1-1 8 1 3 0 7-5 4-5 4-3 4-1 4 2 6-1 2 1 6 3 5 5 3 2 12 4 2-2-4-4 1-2 5 0 6 1 5 3 5 8 2 1 2 0 7-3 2-10 5-6 2 1 4 3 4 0 1 2 0 4 4 4-1 2-2 1-4-1-6 0-3 2-1 2 4 1 4 4 2 0 4-1 4-6 20 1 4 0 2-1 1-2 0-4 1-2 4 3 2 0 6-1 4 1 5 5 3 2 8 0 12 8 8 3 6-3 4-1 2-1 0-2-3-2-1-4-4-6-1-4 0-2 8-8 3-6 4-3 4 0 0 97-442 0-292 0 0-170 6 0 6-2 4 0 12 3 4 0 4-3 2-9 10-1 8 3 8 1 4-3 8 1 4-2 18 8 0 2-3 6 0 2 5 6 12 5 14 14 6 1 4-1 4-3 4 0 2 1 7 7 4 6 3 10 5 6 2 6 13 4 3-2 3-6 1-2-1-2-2-2-7-2-7-20-2-2-4-1 0-3 2-4-3-8-1-2-10-6-6-6-2-2-2-6-6-6-1-2 2-6 0-6-2-6 1-4-2-8 2-10-2-6-4-3-10 0-4-3-6-4-12-2-4-2-6-6-2-6-10-7-10-9-7-2-3-4-1-4-3-2-8-1-6 1-8 5-6 1-10-2-6-3-8 0 0-22 10 0 1-1 1-2-1-4 1-2 2-1 6 2 6-2 8-1-1-2-3-5-4-1-2-2-6 0-1-2-1-2 2-4 2-1 2 2 2 5 2 0 4-3 8 2 6 3 5 4 5 6 10 2 1-2-3-4-6-5-4-5-2-5 0-3 8-1 6 3 10-2 12 5 1-1 2-4 3-1 12 3 2-1 4-5-1-8 1-1 2-1 6 2 7 0 4 4 5 2 2 1 5 7 0 2 2 6 5 6 12 5 6 0 6 3 3-2 7-8 7-4 5-7 6 0 7-3 1-2 0-2-1-2-2-2-1-2 0-1 2 0 4 3 6 2 4 4 5 12 6 8 0 2 0 8 7 17 2 2 8 4 8 1 5 2 5 4 3 6 5 6 6 12 2 11 6 9 2 2 4 0 2 2 4 5 4 0 8-4 4 0 3 1 5 4 2 6 10 1 13-3 3-2 2-5 6 1 8-3 4 4 1 5 1 2 6 1 5-5 7-1 1-1 1-3 2-1 6 0 8 2 2-1 4-4 6-2 4-6 4 0 10 2 10-3 8-1 2-2 4-7 7-2 1-6 2-4 1-4 5-6 2-8 2-2 7-4 3-1 6 1 2-1 4-4 4-2 2-5 6-4 4-6 2-2 4 1 2-1 2-3 4 3 4 1 1 1 1 2 2 2 4-2 3-4 0-2-2-2-11-6-1-2 0-2 2-4 0-2-3-5-6-15 1-2 7-2 2-4 4-4 4-7 4-3 2-4 1-6-3-10 0-14-1-6 1-2 6 1 4 4 2 0 1-1-3-6-8-6-3-4 0-2 3-3 8 2 2-3 6-2 5-4 4-2 2-2 0-4-4-6 0-2 1-2 2-1 4 0 4 2 3-3 1-6-2-6 0-4 5-6 2-6 0-4-2-10 4-10 0-8 1-1 8-1 4-4 0-2-2-3-4-3-6-4-2-2-1-2 0-4 5-6 1-2-6-8-3-4-2-1-10 0-4-5-2-2 2-2 2-1 4-3 4 0 2-2 5-8 0-8-5-2-1-2-1-4 2-1 6 3 2-1 2-2 2-5 5-4 1-6 8-3 4-3 2-6 0-4-1-8-1-2-4-2-4 0-4 0-10-4-9-4-10-10-11-6-9-12-5-2-11-10-4-6 1-2 6-4 0-2-1-2-3-3-4-7-1-2zM1662 339l-4 7-5 4-1 4 2 8 6 5 2 5 1 6-3 10 1 4 3 3 4 2 6 1 3-2 2-4-5-4-1-6 0-6-1-4 1-10-2-14-3-6zM1610 698l-1 2 1 2 4 3 4 0 1-1-1-2zM1024 517l-4 3-1 2 1 2 6 4 8 4 3 0 1-2 5 0 0-2-3 0-2 2-2-1-2-2-1-3-4-6-1-1zM1060 536l-4 1-1 1 5 6 6 10 8 7 2 0 2-3 3-4 3-5 1-5-7-2-6-6-2-1-4 2zM1084 524l-1 4 1 2 3 2 3 7 2 0 4-3 2 0 2-2 0-2-1-2-9-6-2-1zM1168 577l-2 2-6 2-4 5-8 6 0 8 0 2 6 6 7 4 1 2 0 4-1 2-5 4-2 2-1 2 2 2 5 3 2-1 4-3 2 0 8 7 2 1 14-5 2 0 2 1 4 2 7-1-3-3-9-13 1-4-2-8-4-2 1-4-1-6 0-4 2 0 3 4-2 6 1 2 2-2 1-4-1-4 1-4-1-2-2-1-6-2-4 2-4-1-6-3zM1276 608l-2 0 0 3 3-1zM1478 556l-2 0-3 2 0 2 3 7 6 0 6 1 8 6 8 2 4 2 8-1 4-1-2-2-8-3-5-5-3-4-6-4-8-3zM1568 660l-2 2 0 2 0 4 0 4 1 2 3 2 4 2 8 2 2-1 5-5-1-4-6-7zM1598 233l-4 3 6 6 4 2 2 0 1-2 0-2-6-2zM1474 570l-1 2 0 2 1 2 2 1 1-1 0-2zM1498 644l-2 1-1 1 0 8 5 8 2 0 2 0 1-2-1-8-3-6zM1551 98l1 0 0 4 5 6-2 2-3-1-2-1 0-2zM1071 110l1-1 2 0 1 3 0 2-1 0zM1436 114l2-1 2 1zM976 116l12-1 6 1 6 0 8 4 2 0 6-1 10 4 4 1 8-2 6-5 4 2 6 6 4 2 4 3 8 3 4 1 6 4 2 0 2-2 0-2-1-4-4-6-1-2 2-2 2-1 4 1 6 6 4 7 4 1 2 4 5 8-1 2-8-9-6-2-3 1-1 2 4 7 14 13 6 9 6 3 4 4 5 4 2 4 0 2-3 0-4 2-4 5-2 1-4-1-5-5-3-1 0 1 1 4 1 6 4 1 5 3 4 6-1 2 2 1 2 0 0-7 2-1 4 0 4-1 6 0 2 2-2 2-4 1-2 1 0 2 1 2-1 1-2 1-6 1 0 3 3 4 0 4-1 2-6-3-6 0-4-3-3 0 1 6-2 2-2 0-3 2 0 4-1 2-2 2-2 0-2 0-8-7-20-7-1 2 1 6-2 1-2 0-6-2-6-5-7-4-3-3-6-5-5-8 1-1 12 4 2 0 1-1 0-2-3-6-1-10-5-4-2-4-2-2-6-3-6 0-1-1-3-6-3-2-9-3-2-3-2-4-6-6-5-6-3-1-10-1zM1066 169l-2 1-2 5-2 0-4-3-2 0-2 2 1 6 2 4-1 6 2 2 4 2 4-1 4 0 10 11 4 1 2 1 2 0 2 0 3-4-1-2-2-4-6-5-1-3 1-2 9-2 2-4-3-3-1-5-3-2-4 0-6 1-4-2zM1509 136l3-1 4 0 2 5 8 7 6 3 9 8 4 6 2 6 7 2 3 4-1 2-4 0-4-2-6-1-6-6-4-2-4-3-6-3-2-1-6 1-6-3-1-2 0-4 3-2 1-2-3-8zM1340 156l0-2 4 2 2 2-1 4-1 1-3-1-1-2zM1191 158l1 0 2 1 3 5-1 1-2-1zM1140 188l2 0 2 1 1 3 0 4-4 2-1 0-2 0-2-2-1-2-1-4zM1391 194l3 0 6 5 2 3-2 1-6-2-2-1zM1015 198l1-1 2 1 0 2zM1513 202l5-1 4 0 8 9 0 1-4-1-4-3-8 0-2-1-2-2zM1126 240l2-1 2 1 1 2 1 2-3 2-1 0-3-2 0-2zM1307 240l3-1 3 1 3 2 4 4 8 3 4 2 6 5 9 10 5 9 2 1 6 2 2 0 4-2 0-2-2-6 0-10 4-5 2-1 3 4 10 8 2 4-1 6 1 2 12 8 5 2 2 1 7 11 7 5 0 5-2 3-2 0-12-6-10-5-8-10-4-3-4 0-13 5-4 4-3 8-2 0-6-4-12 0-6-3-2-3 0-14-5-4-3-5-4 2-8 0-5-3-7-3-2-1-4-6-4-4-6-10 0-2 2-2 7 4 5 2 6 1 2-1 2-2zM1143 256l1-1 2 0 10 8 10 6 3 1 6 8 0 4-1 1-6-3-11-8zM1392 256l2 0 14 3 4 4 7 5 1 4 0 2-10 5-3 3-5 1-4-2-3-3-1-2 2-2 2-1 6 2 0-1-8-13zM1122 364l4-1 3 1 1 2 0 2-2 2-2 0-2-1zM1195 368l7-1 8 3 0 2-1 2-3 6-2 1-8 1-6 2-22 3-6 5-10 3-4 0-4-2-6-1-12-7-7-1-9-3-7-3-2-2-3-6 0-1 2-1 7 6 9 4 12 1 6-2 16 7 1-2 3-2 16-4 10-7 6 1zM1070 370l2-1 3 1 0 2-8 8-3 1-2-1-2-2 0-2zM1011 376l3 0 6 2 6 0 6 0 6-1 2 0 6 3 1 2-1 2-4 2-4-1-6 0-4-3-6-2-2 2-2 4 0 4-2 1-4 1-6-1-3-3-1-2 2-6 2-2zM1012 379l-1 3 1 2 4 1 1-1zM1165 416l4 0 0 2-2 0zM976 440l0-1 4 0 2 1 1 2 5 5 4 7 4 3 6 1 2 2 0 2-2 2-6 2 1 2 3 4 0 2-2 1-2 1-4-1-1 1 1 4 3 6-1 2-2 0-6-3-6-6-4 0zM1174 462l2 0 4 1 4 5 1 2-1 1-6 0-1 1-1 4-2 1-2-1-1-2 1-3 2-1zM976 506l0-1 4 0 1 1 2 4-1 1-6-1zM1001 594l1-1 3 1 3 2 4 1 2 3 0 2-2 1-2 0-4-5zM976 606l0-2 4 0 2 1 5 7 7 6 0 2-4 2-4 4-3 0-3-3-4 0zM1112 668l0-1 2-1 4 4 2 8 0 2-6-2-4-6-1-2zM1471 674l1 0 2 2 2 4-4 0zM1476 680l4 1 6 3 2 3 0 3 0 1-2 0-3-5-4-2zM1529 704l1-1 2 0 2 2 6 0 4 1 4-1 4 1 1 0 1 2-4 3-4 0-12-2-4 1-2 0-3-2 1-2zM1457 708l3-2 2 1 4 5 4 2 1 2-1 1-2 1-2-2-2-1-2 0-2 5-2 1-6 2-3-1-6-6-1-2 1-2 3-3 4-1 4 3zM1489 712l5-1 2 0 1 1-1 2-8 3-4 6-6 5 0 2-2 2-2-1-2 0-2 1-2-1-1-1 1-4-1-4 1-1 2 0 1-1 0-2 1-1 2 0 4 2 7-5zM1571 712l1-1 2 1 1 4-1 1-4 0-1 1 2 8-3 3-4-1-2-3-1-5 6-2 2-4zM1600 720l2 4 0 1-2-1zM1584 728l2-1 4 0 4 1 6 6 3 4 0 2-3 0-2 0-3-6-3-4-6 0zM1534 742l2-2 2 2 1 2z"/><path fill="#ff971e" d="M1075 98l15 0 1 6-5 1-4 0-7-3zM1178 98l13 0 0 4 6 6-3 3-4-1-2 0-2 2 0 2 3 4 0 2-3 6-4 1-2-1-1-4 0-2 4-6-1-2 1-4-5-4zM1213 98l31 0 1 8-1 4 1 6 6 10 5 1 6-2 8 2 6 3 6 4 1 2 1 2-1 2-1 0-2 0-5-4-9-5-2-1-4 2-1 2 2 2 4 2 3 5 4 2 5 1 3 6 4 2 1 4 2 2 5 4 2 0 2-3 2-1 2 2 0 4 6 4 1 0 1-2-6-6 0-2 4-1 3 1 1 2 1 6-2 4 7 12 0 2-3 2-2 4 3 5 4 0 1 3-1 2-5 2-3 0-2 0-10-6-7-2-9-14-6-4-6-6-8-6-2-2-2-4 1-8-1-3-2-1-4 3-2 0-2-3-2-1-2 0-4 5-4 0-8-7-6-2-4-5-6-4-4 3-6 1-1 2 0 2 5 4 1 2 1 6 2 4-8-3-1-1-2-6-5-8 1-2 5-2 2-4 4-2 0-2-5-4 0-4-1-2 2-6-2-2 8-6 5-2zM1298 98l8 0 0 8 5 10-1 0-13-10-1-2 2-2zM1517 98l14 0 0 4 2 2 14 14 1 2 0 2-14 8 6 8 12 6 3 6 3 2 4 6 9 10 1 1 6 3-2 1-12-5-8-8-11-6-9-11-6-3-4-4-6-8 0-2 3-2 1-6 0-2-5-4-2-6zM1581 98l129 0 0 617-4 0-10-5-7-12-3-10 1-4 2-4-1-2-8-8-1-2 1-2 4-3 6 0 2-1-1-2-4-6-9-6-4 1-4 6-2 0-10 1-22-4-14 1-8 3-8-2-8 0-9 6-2 2 0 2-1 1-3-3-13-4-3 0-3 4 0 5-3 3 0 2 10 8 2 4 0 6 6 8-1 2-4 1-4-1-16-11-6-1-12-6-5 0-1 2-1 4-1 0-10-4-4-4-4-5-6-1-2 2 1 4-1 1-4-2-4-5-1-2 1-2 2-2 0-2-2-3-4-5-4-1-3 3-5 1-4 3-8-1-8 3-8 8-1 4-9 1-10 8-4 1-3 2-2 6-3 2-2 3-1 7-3 4-1 8-3 12 1 4 3 5 14 16 16 6 8-2 2 1 6 3 6 2 4 0 6-2 8 0 2-2 2-4 2-1 6 1 4 0 6-5 5-6 5-3 6 2 6 0 2 0 6 3 7 6 10 4 13 8 6-1 4 0 10-1 4 4 5 2 7 1 6-2 4-3 12-2 8 0 4-1 4-4 10 1 4 0 5 4 3 2 8 0 12 8 8 2 6-2 8-3 8 1 0 58-734 0 0-88 0-80 4 0 8-3 4 0 12 2 4 1 2-1 3-3 1-6 2-2 4 0 4 0 6 2 10 2 2 0 4-3 12 0 4 1 7 4 2 2-2 6 6 8 3 2 10 4 12 13 4 2 4 1 4-1 6-3 2 0 6 4 3 4 5 14 5 6 0 6 2 2 3 1 6 0 6 2 2-1 2-2 4-6 0-4-2-2-2-1-4-1-3-2-2-6-3-14-3-4 0-6-4-6-3-3-8-5-9-8-1-2 0-4 2-4 0-3-2 0-4 2 0-1-1-4-1-10-2-6 1-6-2-6 1-10-2-6-1-2-3-1-8 0-2-1-4-4-6-4-10-1-6-3-4-4-2-6-12-8-8-9-2-1-6-1-3-7-3-2-8-2-6 0-4 1-6 4-6 2-6-3-4 0-8-2-6 0 0-20 8 1 4-1 1-2 1-5 6 0 6-2 8 0 2 1 6 7 14 9 4 5 4 1 2-2 1-4 4-4 1-10-4-7-13-13-1-4 2-2 4 0 4 2 6-2 4 1 8 3 4 2 2-1 3-5 3-1 12 2 2-1 4-6-1-6 1-2 2 0 6 3 6 6 2 1 6-2 2 2-1 4 2 4 6 8 5 4 6 2 6 2 6 1 6 2 4 0 1-1 2-4 3-4 8-5 6-6 6-1 10-4 0-4 2-1 2 1 3 4 6 12 5 6 0 2 0 8 7 16 3 3 10 7 6-1 3 1 6 4 2 6 7 7 4 9 1 8 3 7 6 9 2 1 4 1 3 4 1 2-2 6 1 2 1 1 2 0 2-2 2-5 2-2 8-4 2 0 6 4 1 2 0 4 3 2 12 0 5-2 7-1 4-3 4 1 3-1 5-4 2 2-1 2 2 2 2 2 3 2 6 0 2 0 4-5 8 0 4-5 4-1 6 2 4-1 5-4 5-2 4-5 2-1 12 2 4-1 6-2 8-1 2-2 4-6 2-1 4 0 2-1 2-8 4-8 4-4 2-10 5-4 3-1 10 0 4-5 2-1 4 3 2-2-2-4 0-2 2-2 6-4 2-5 2 0 4 1 4-1 2 1 2 3 2-1 3 2 1 2 0 4 4-2 1-2 3-2 4-6-1-4-3-4-6-4-5-2 0-2 3-4 1-2-7-7-4-9-1-4 3-2 6 0 2-2 0-3 2 0 4 2 1-1-2-4 3-6 8 3 2-1 2-4 0-2-2-2-1-6-5-9-1-5 1-1 4 1 0 4 4-3 3-1 0-2-1-2-6-3-4-3-1-8 1-1 2-1 2 1 4 5 2 0 2 0 2-2-5-10-7-4-2-4 2-2 2 0 7 4 3 3 2 0 1-1-1-3-3-3 0-2 5-2 3-4 5-3 2-3 1-2-1-4-4-6 2-2 2-1 6 3 2-1 1-3 2-8-2-4 0-4 5-6 2-6 0-4-3-10 4-10 1-8 8-2 5-4 0-2-2-2-5-5-7-5-1-2 1-4 5-5 1-3-1-2-3-4-1-4-2-4-2-2-8-1-4 1-2-2 0-2 2-2 2-1 2 1 2-1 8-13-2-10 1-2 4-2 3-7 5-3 0-6 1-1 8-3 2-2 4-10 0-4 1-6-1-2-2-3-5-3-3-8 2-3 2-1 1-2 1-2-5-6-2-4-1-2 2-4-1-4-2-6-5-8-4-10-2-4 0-2 4-2 2-2zM1608 209l-1 1-1 2 0 4 0 6 0 1 2 0 4-1 4-4 2-2-2-3zM1618 195l-1 1 1 2 4 5 4 2 2-1 0-2-2-4zM1662 339l-1 1-3 6-5 4-2 4 2 8 7 6 2 4 1 6-3 10 1 4 3 3 4 2 6 2 2-1 3-4 1-2-2-2-3-2-2-6-1-10 1-12-2-14-3-4zM1104 780l-14 16-1 2 1 3 2 0 2-1 4-7 9-3 2-4 0-2zM1078 513l-1 1 0 2 4 4 0 8 1 3 4 3 1 2-1 3-2 1-4 0-3-2-3-5-4-1-4 2-6-2-4-4-3 0-2 2 0 2 2 8 5 8 0 8 2 0 4-1 6 4 4 4 2 1 2-2 9-12 2-8 5-2 2-2 4-1 2-3-1-2-3-5-6-4-4-3-6-2zM1100 511l0 2 4 7 2 2 2 0 1-2-1-2-4-3zM1126 575l-4 4 0 5 2 5 2 0 2 0 0-3 0-4 2-1 4 0 1-1 0-2-2-2zM1166 574l-3 4-5 1-2 5-3 2-8 4 0 12 1 1 7 7 5 2 2 2 0 4-5 4-4 4 0 2 5 4 6 2 6-3 10 8 6-3 8 0 6 1 12 2 2 0 1-1-2-4-4-4 0-4-6-4-3-6-1-6 1-2 10 5-3-9-1-2-2-2-1-2 2-4-3-4-2-5-2-2-10-2-4 2-2 0-4-3-2-4-2-1zM1222 681l-1 1 1 4 2 2 2 1 1-1 0-2-1-2zM1236 694l0 2 2 4 4 1 2-1-1-2zM1488 553l-14 3-2 2 1 6-1 2-4 0-1 4 2 6 5 5 5-5 0-2-1-4 1-2 3 0 4 0 5 4 5 3 12 3 10-1 3-1-3-3-8-3-3-2-5-7-4-4-4-1zM1492 543l-3 5 1 3 2 0 6-2 2-1 2-2-1-2zM1542 447l-1 3 0 2 1 2 2 0 1-2-1-2zM1588 217l-2 1 2 6 6 4 1 2-5 2-1 2 0 2 4 4 1 2 0 6-2 2 0 2 3 4 1 2 2 0 6 0 8-3 4 1 2 1 2-1 2 0 2-2-2-2-4 1-1-1-6-8-2-6-6-6-1-2 0-4-3-2-5-5zM1598 206l-1 2 1 4 2 0 2-2 3-4zM1628 237l-1 3 1 4 4 8 0 2-2 2-1 2 1 3 2 2 2-1 2-6 6 1 4 4 2-1 1-2-1-3-4-5-4-4 0-7-2-2-4 1zM1066 567l0 2 2 1 1-2zM1496 644l-1 2 0 6 0 4 3 5 2 2 4-1 1-2-2-10-2-4zM1642 284l-1 2 1 2 4 1 2 1 2 0zM1102 106l2-2 4 1 4 3 5 2 5 5 6 3 4 4 8 6 6 3 11 11 7 4 4 6-1 2-3 1-2-1-6-3-8-8-10-5-14-18-8-5-6 0-4-1zM981 118l7-2 6 2 6 0 10 4 14 4 6-1 10-2 4-4 2 0 4 4 4 5 16 6 4 1 4 4 6 1 4 4 4 5 4 3 3 4 7 5 6 10 6 3 8 8-1 2-3 1-6-4-6-8-4-1-3 2 1 3 1 1 5 2 2 4-2 1-2 0-2-2-2-4-10-2-3-3-1-4-6-2-6 0-10-2-4 1-4 4-4-1-3 0-3 2-1 6 3 6-2 4 0 2 2 2 6 4 2 0 6-1 2 0 2 2 2 5 2 2 0 6 2 2 3 0 3-2 2-1 4 0 3 1 3 5 2 1 4 1 1 1 4 8-1 2-5 2-2 6-1 1-2 0-4-3-4-2-6-2-10-4-4-3-4-1-2 0 4 10 0 1-2 1-6-2-6-5-6-3-4-6-4-2-1-2 1-2 4 1 4 3 6 1 4 3 2 1 2-1-4-4-2-3-4-3-2-4-1-4 0-10-1-2-6-2-4-6-13-6-3-6-2-2-6-2-4-2-2-7-8-3-6-7-4-2-10 0 0-27zM1008 151l-1 1 0 2 4 2 3 0 0-2zM1088 160l-1 2 7 5 2-1-4-4zM1082 124l4 0 5 4 2 4-1 2-4 1-2-2zM1328 130l0-1 2 0 3 3-1 1zM1511 138l3-1 4 5 14 10 8 7 3 5 1 4-2 3-2-2-4-3-4-2-4-3-6-2-2-1-6 1-3-1-1-2 0-2 4-2 0-2-1-4zM1286 140l6 0 4 2 4 5 0 4-2 2-2 0-8-7zM1094 186l2-1 2 1 4 6 1 8 1 1 9 3 1 2 0 6 7 4 0 6-5 1-2-1-6-4-2-5-4-6-7-3-4-10-4-2-2-2 3-2zM1307 242l3-1 2 0 2 1 2 4 2 1 10 3 6 4 12 12 6 10 2 2 8 1 3-1 3-2-2-10 1-4 1-2 6 1 6 3 3 6-1 4 1 2 13 9 7 3 8 10 7 6 0 2-2 4-2 1-14-7-8-5-8-10-2-2-2-1-4 1-10 3-4 2-4 4-2 6-2 0-8-4-10 1-4-2-2-1-1-2 1-14-6-6-2-5-2 0-4 2-6 1-4-1-10-5-10-12-4-8 2-1 12 5 4 0 4-2zM1400 262l6 0 10 5 2 3 0 3-4 3-4 0-6-6zM1156 266l2 1 10 5 0 2-2 1-2 0-6-4zM1396 276l2-1 2 1 3 2 1 2-2 1-2 0zM1198 368l4 0 5 2 2 2-1 4-3 4-9 1-9 3-19 2-6 5-10 3-4 0-9-2-5-2-6-4-8-2-12-5-4-1-2-2-2-4 0-1 12 7 4 2 12 0 6-1 2 0 7 3 7 4 2 0 1-4 1-1 16-4 10-7 6 1zM1070 372l2-1 2 1-6 6-2 1-1-1 0-2zM1040 380l2 2-2 1-5-1zM1006 384l2 0 4 3 1 1-1 2-4 0zM976 448l4 0 2-2 2 0 2 2 1 2 0 6-2 2 1 1 2 1 2-3 3 1-2 4 1 4 4 6-2 1-4-5-2 0-2 0 0 2 3 6 1 4 0 3-2 0-2-1-6-4-4 0zM1010 502l2 0 4 1 5 5 1 2-2 3-4 2-1-1-5-6-1-4zM976 608l0-2 4 0 2 2 1 4 6 4 0 2-1 2-2 3-2 1-4-2-4 0zM1452 680l2 0 4 1 1 1 0 2-5 1zM1503 682l1-1 2 1 6 7 0 2-2 2-3-5zM1614 694l4-2 2 0 4 11-2 0-2-3-4-2-2-2zM1627 694l1-2 2 0 1 2 0 2-3 1zM1630 702l2 0 0 2-2 2-2 0-2 0 0-2zM1444 712l2-1 2 0 2 1 2 2 3 2 1 2-2 1-2 1-4-2-3-2-1-2zM1706 736l4 0 0 14-2 0-4-1-3-3 1-6zM1593 752l2 0 2 2-1 3-2 1-2-1-1-3zM1700 752l4-2 6 0 0 10-4 0-2 0zM1556 754l4 0 6 2 1 2-1 2-2 2-2 0-4-6zM1694 754l2 0 2 5 4 3 1 4-2 0-3-2-4-5z"/><path fill="#ffaa32" d="M1182 98l7 0 0 6-1 2-2 0-2-1-2-3zM1218 98l24 0 1 6-1 4 1 8 7 11 4 3 2 6 3 4 1 1 4 1 1 2 5 4 2 3 4 1 2 1 12 13 6 2 12 7 2 3 2 4 0 2-2 1-4 1-2 0-2-2-2 0 2 7 6 3 4 4 0 2-2 2-6-2-6-4-6-3-10-13-5-2-5-6-7-6-2-2 0-6-2-4 1-6-7-6-3-1-4 3-6 0-2 4-2 2-6-4-2-2-6-2-5-6-9-6-4-6 0-2 1-4-2-8 5-4 8-4zM1520 98l8 0 0 4 2 5 10 7 6 6-2 2-4 1-2 2-2 1-4-3-4-2-1-1 0-4-3-4 4-1 2 2 2 0 1-1-1-1-4-1 0-2-8-6zM1582 98l128 0 0 616-4 0-8-4-8-12-3-10 3-8-2-4-7-6 0-2 1-2 4-2 6 1 1-3-2-4-3-4-8-6-2-1-4 1-6 5-10 1-14-1-8-2-14 2-8 2-14-2-14 7-2 1-4-1-12-4-3 0-1 1-4 9-8 5-4 1-2 2 1 2 4 2 3 7 2 1 2-1 4-7 6 3 2 3 1 6 3 6 0 1-2 1-4-2-12-9-2-1-6 0-10-6-6 0-4-3-2 0-2 1 0 2 1 2-1 1-4 0-2-1-3-4-1-6-2-1-6 1-6-3-8-12-6-3-3 0-3 3-6 1 0 2-2 2-6-1-10 5-10 10-6 2-6 5-10 4-2 2-2 6-5 5-1 6-4 6-1 4 0 6-2 10 2 6 4 6 11 12 4 3 14 5 8-1 6 3 8 2 4 0 6-2 8 0 2-1 4-5 6 1 4-1 7-6 5-6 4-1 6 1 6 0 8 3 6 6 8 3 14 10 4 2 2 0 2-2 4 0 6-2 2 0 4 3 5 3 3 1 20-4 6-3 12-1 9-3 5 0 6 1 4 3 4 1 2 0 4-1 2 1 12 8 8 3 12-5 10 1 0 56-734 0 0-166 4 0 6-3 6-1 16 2 2 0 3-4 3-6 4-1 4 0 6 2 10 2 4 0 4-2 10-1 2 1 9 5-1 6 8 10 10 4 4 3 10 11 4 2 4 1 12-3 6 4 2 2 4 14 4 6 0 4 1 2 4 4 3 1 6 0 4 1 4-1 2-1 4-6 1-4-1-4-2-2-6-1-2-1-1-2-2-6-1-9-3-7 0-4-6-10-9-6-10-10 3-12-1-2-3-4-3-1-2-3-1-4-1-4 0-6-2-8 1-8-1-4-2-4-4-2-8 0-6-5-6-5-8 0-4-1-4-3-3-6-1-2 2-1 8-2 0-3 5-6 3-6 4-5 2-7 12-7 1-3 0-2-4-6-7-5-6-8-7-5-3-5-3 1-3 6 2 5 6 7 2 9 3 3 1 3-2 1-2-1-4-5-2-1-8-1-10-4-4 0-2-1-1-5-4-8-12-12 0-2 1-2 2 0 4 2 6 0 1 2 3 1 6 0 4 2 2 0 3-1 3-6 2-1 15 3 4-10 0-4 1-2 6 4 6 5 6 4 3 3 2 4 3 3 2 3 6 4 8 2 4 3 6 0 12 3 2-1 1-1-1-4 2-4 8-6 7-6 13-3 6 0 2 1 4 4 2 6 4 4 1 12 3 5 6 11 7 6 3 4 14 7 6 6 4 2 2 2 4 9 0 6 3 8 7 10 6 2 2 4-2 6 1 2 3 2 4-1 4-7 4-2 4-2 2 0 3 2 2 2 0 4 1 2 4 2 10-1 8-2 10-2 8 0 6 1 6 3 8 1 4-5 2 0 8 0 4-6 2 0 8 1 4-1 4-4 5-3 3-4 2-1 4 0 6 2 4 0 8-3 8-1 3-3 4-6 3-1 4 1 2-1 2-9 4-6 2 0 2 0 1 2 1 4 3 4 5 10 2 2 2 0 2-2 1-2 4-6 0-6 1 0 4 0 8 5 12 4 4 0 10-2 2-1-6-5-4-1-4-2-8-10 1-6 4-6 0-4 1-2 6-2 2 1 4 5 8-2 3-2-1-2-4-2 2-6 6-8 0-2-1-4-3-4-6-6-4-2 3-4 0-2-9-9-4-9 2-3 4 0 6 3 4 3 2 0 2-1 3-6 1-5 2-2 2 0 4 0 1 1 1 4 2 1 2 0 2-1 0-2-2-6-1-2-2-2-1-2 4-4 1-4-3-10 3-2 1-2-10-12-4 0-2-1-2-3 0-2 2-2 2 2 4 6 2-1 2 0 10 6 2 0 1-1 0-2-11-12-2-4 2-2 4 0 2-2-1-6 3-8 2-2 4-3 1-3 1-4-1-6 7-2 2-2 2-10-2-4 0-4 5-6 2-6-1-4-2-10 4-10 0-6 2-2 4 0 4-2 3-4 0-2-1-2-4-4-8-6-1-2 3-5 4-3 0-4-3-10-4-6-5-4-1-2 2-6 5-8 0-2-2-6 0-2 4-2 5 0 6 12-2 6 3 12 9 14 5 2 8 7 2 1 4 0-1-4-5-4-1-2-7-4-3-4 0-2 1 0 2 1 8 8 4 1 4-1 3 5 3 4 6 2 2 2-1 2 5 6 16 3 2-1-3-8 0-6-1-2-4 0-2-2-3-6-5-4 0-4 2-1 8 4 4 0 6 7 2 1 2-3-6-9-4-3-2-6-3-4-2-4 0-2 1-2 2-1 2 0 4-1-6-1-6-4-4-6-2-2-2 1-1 4-1 2-6 0-2 1-1 1 2 4 0 8 3 4-2 1-4-3-4-1-4-3-3-6-4-6-1-2 0-2 10-6 6-2 2-4-6-6-4-2-1-2-1-1-6-2-6 0-1-1 4-18-2-4-5-4-2-4-1-2 1-2 3-2 0-6-6-8 1-6 0-4-4-8-5-8-4-12 0-2 4-4zM1618 193l-3 3 0 2 4 6 1 5 2 1 4-2 4-2 1-4-1-2-4-6-4-1zM1662 338l-2 2-2 5-6 5-1 4 2 8 7 6 2 4 1 6-3 10 1 4 3 4 4 2 6 1 2 0 4-5 0-2 0-2-3-2-4-6 0-10 0-12-2-14-2-4zM1568 772l-1 4 0 2 1 2 4 2 3 0 1-2 0-3-1-1zM1106 778l-2 0-2 2-3 4-3 3-4 3-4 6-3 2 3 4 2 2 2-1 8-9 10-4 2-1 0-5zM1094 507l-1 1 1 2 13 16 7 0 4-2-6-4-1-4-5-3-3-5zM1176 572l-4 1-8 0-4 3-6-2-2 0 0 2 3 4 0 2-4 4-3 1-4-1-3-4-4-2-3-5-6-2-4 1-3 4-1 2 2 9 4 5 0 6 2 4 10 0 1 0 1-4 1 0 1 1 0 3 2 2 4 2 4 5 2 1 2 0 2 2-4 3-4 7 0 2 1 2 17 10 6 0 2 3 2 1 4-4 2-1 4 1 6-2 4 0 6 2 10 1 1-1 0-2-3-6-1-2 1-1 4 2 4 0 4 5 6-4 2 0 3 2 7 3 2 0 1-1-7-8-6 0-3-2-5-2-2-1-4-5-6-4-4-8 0-4-3-4 3-4-6-6-4-6-12-3-4 1-2-6zM1256 683l-2 1 2 2 4 2 2-2zM1268 693l-1 1 1 1 8 7 2 4 8 10 10 2 1-2 1-3-2-3-6-1-4-2zM1496 643l-1 3-1 10 2 2 1 4 1 1 2 1 4-1 1-3-1-8-3-6zM1222 676l-4 2-1 2 1 6 2 3 7 5 9 9 5 1 7 4 3 0 0-2-2-6-5-5-12-7-2-6 0-4-1-2-3-2zM988 118l8 2 4 0 22 9 2 0 16-5 6-3 3 3 2 4 5 4 10 2 8 3 6 5 6 3 5 5 3 2 4 6 6 4 4 6-2 2-3-2-9-9-10-3-2 0-1 4-1 2-4 3-4 0-4-2-6 0-2 1 0 2-1 2-7 1-2 1-4 5-6 1-6 3-5-1-7-5-4-6-8-4-1-1-1-2 2-2 8 3 2 0 0-1-4-6-4-4-10-5-2 1 0 4-2 2-2 0-6-7-8-3-6 0 0-8 4 0 2 2 2 0 2-2 0-2-2-3-8 0 0-6 8 0zM1132 124l4 2 4 3 5 3 11 11 6 3 2 2 0 4-2 0-5-2-7-7-12-6zM1527 132l1-1 2 1 6 5 2 3 0 1-6-1-2-2zM1539 142l1-1 2 2 6 1 2 1 2 3 1 4-1 1-6-2zM1516 146l2-2 2 1 6 5 5 2 7 8 2 4-2 0-5-2-3-3-4 0-8-3-1-2zM1202 150l2-2 2 4-2 2-2-2zM1094 172l2-1 3 3-1 2zM1048 196l2-2 8 3 8-1 2 1 1 1-1 4 1 2 2 6 2 2 3 2 4 1 2-1 2-2 4 0 4 4 6 3 3 5 1 2-4 1-2 1-2 5-14-4-4-2-4-1-4-4-4-3-8-4-4-5-4-3-1-3zM1096 198l2-2 2 0 0 4 0 1-2 1zM1587 210l5-2 1 2 1 4-6 0zM1599 218l3 0 0 2zM1044 220l2-2 2 0 10 6 4 6 0 2-6-2zM1308 244l2-2 2 2 0 4 2 2 12 0 4 2 6 4 11 12 3 8 4 3 8 1 7-2 2-2-3-7 0-3 1-2 3-1 6 3 2 4 0 6 6 3 10 7 5 2 10 12 6 4 0 4-1 1-2 1-18-9-6-5-8-9-4-1-12 3-4 2-8 9-8-3-8 1-6-2-2-2 0-2 1-12-1-2-5-4-2-6-3-1-4 2-8 2-7-3-5-3-8-9-3-4-1-4 2-1 10 4 8 0 1-1zM1406 266l8 2 3 2 0 2-3 2-2 0-4-5zM1636 270l0 2 0 7-2-1zM1194 370l6-1 7 3 1 2-4 6-16 3-12 0-8 2-4 3-3 2-3 0-2-1-2-3 0-2 0-2 18-5 6-5 2-1 6 1zM1119 382l8 0 1 2 4-3 4 0 6 2 4 4 6 3 1 2-3 1-9-1-6-2-7-6-5 0zM1533 404l1-1 2 1 0 2zM976 458l0-1 4 0 0 3 0 1-4 0zM976 470l0-2 4 0 6 6 2 4-2 2-6-3-4 0zM1013 506l1-1 2 1 1 2-1 1zM999 520l5-1 6 1 16 14 4 2 4 5 4 2 4 0 2-2 2-5 2-1 2 3 0 6 3 4 0 6 2 4 5 2 4-2 4 2 2 2-2 1-2 0-2 1-1 2 0 4-1 1-8-5-6-7-4-4-6-2-2-5-3-2-5-2-8-1-8 1-6 3-6 1-2 0 4-4 0-2-2-2-2 0-2 0-4 6-2 1-8-2-6 0 0-18 12 1 2-2 2-5zM1499 526l1-1 2 1 1 4-1 2zM1491 530l4 0 1 2 4 2 1 4-1 2-3 0-3-2-4-4-1-2zM1482 542l2 0 3 8-1 2-4 2-8 1-2 1-2 6-4 0-2 0-3-4 0-4 1-4 7-6 9 1zM1131 584l2 0 1 2 6 3 2 1 1 4-1 3-2 0-8 0-4-1 1-2 3-4zM981 616l3 0 1 2-1 2-4 0-4 0 0-4zM1205 618l1-1 2 0 3 3-1 2-2 0zM1704 738l2-1 4 0 0 7 0 1-4 0-3-3z"/><path fill="#ffbe46" d="M1220 98l21 0 0 6-2 4 1 4-1 2-5 5-2 1 2 1 4-1 2-1 2 0 4 4 2 4 4 5 0 3-2 1-6-3-1 1 4 4 0 2-1 1-11-1 1 2 0 2-2 0-4-3-5-1-5-6-7-4-4-4 0-2 5-6 2-6-5-4 3-2 4 0 2-2zM1583 98l127 0 0 614-4 0-6-3-8-9-2-3-2-9 3-8-1-4-7-6 0-2 3-2 6 1 2-2 0-3-1-4-2-2-11-9-4-1-10 6-12 1-10 0-10-3-10 1-10 3-14-2-12 6-4 1-8-2-8-3-4 0-2 2-4 6-6 2-2 4-6 4-1 2 1 4-2 2-4-2-5 0-5-3-6 0-8-6-4-1-4 2-4-2-2-2 1-2 3-1 1-1 0-10-2-4-3-4-2-1-2 0-1 1-1 4-2 3-2 1-4-1-14 5-2 2-6 2-10 6-10 9-6 3-4 3-6 3-7 4-2 6-4 4-2 8-3 4-2 5 0 9-2 8 1 4 8 12 11 10 16 7 8 0 6 2 8 2 4 0 6-2 6 1 4-1 4-5 8 0 4-2 10-11 4-1 12 1 2 1 6 3 6 5 10 4 12 10 2 2 2 6 6 4 4 0 3-2 1-2 0-2-3-6 2-2 1 0 6 4 6 3 16-3 2 0 8 5 2-1 1-2 0-4 1-2 2-1 12-1 8 2 4-4 2 0 6 3 4 2 6-1 2 1 12 8 8 2 2 0 5-3 5-1 10 0 0 55-734 0 0-84 0-81 4 0 6-3 6-1 16 2 5-3 3-6 4-2 2 0 20 5 4 0 4-3 6-1 3 1 6 6 3 6 6 7 2 2 12 6 12 12 4 2 4 1 8-2 4 0 4 2 2 2 4 11 3 9 0 2 7 9 4 1 6 0 6 1 3-1 2-2 5-6 0-2 0-4-2-7-2 0-4 1-2 0-2-2-2-6-2-12-2-10-6-9-9-5-5-7-4-3 1-6 1-6 0-4-2-4-6-4-2-6 0-6-3-8 1-8-3-8-5-3-8 0-2-1-4-5-6-4-6 0-4-1-6-4-1-4 2-2 5 1 1-1 2-6 5-6 2-6 3-4 3-8 10-5 2-2 1-3-1-4 8-3 8 1 5-2 0-2-3-6 0-2 2-1 6-1 3 2 1 2 4 2 6 1 4 0 8 0 2-1 1-2-1-4 3-4 13-11 2-1 12-2 4 1 4 3 3 6 3 4 1 14 5 4 5 10 5 4 1 2-3 4 1 2 3 3 2 0 4-1 2 1 12 6 4 4 4 2 2 2 2 5 1 8 4 10 5 8 6 4 1 2 0 6 1 2 1 2 3 1 4 0 7-9 5-2 3 2 3 6 6 3 10 0 8-3 8-1 14 1 8 3 6 1 4 0 2-2 1-2 3-2 8 2 1-2 1-4 2-2 8 1 4-1 4-4 6-3 4-5 4 0 6 2 4 0 10-4 8-1 6-8 8 1 4-1 1-1-2-4 1-4 2-2 2 0 5 6 0 4 5 6 2 1 4 2 2 0 2-3 1-4 5-6 1-4 1 0 10 5 10 3 14-2 3-2-5-4-6-2-5-4-5-8 0-2 2-4 5-6 3 0 0 2-1 2-3 2 0 2 4 2 4-2 7-2 1-2 1-4 6-4 1-2-3-8 0-2 4-8 1-6-6-8-1-4-4-8-5-3-4-3-4-7-1-3 3-2 2 0 6 4 4 4 6 2 2-1 1-1 1-6 10 5 6-2 3-3 0-2-6-16 2-8-2-8 1-2 3-2 0-2-1-4-5-4 1-2 4 3 4 1 2 0 2-2 0-2-8-11-3-3-1-2 4-1 2 0 2 1 2 1 1-1-3-4-2-6 3-10 5-6 2-10 6-4 1-2 2-10-2-6 0-2 5-6 1-6 0-4-3-8 1-4 4-8 1-6 8-4 4-4-1-4-5-5-6-5-1-2 1-2 6-4 1-2 0-8-3-8-1-2-3-1-5-5-1-2 0-4 2-3 2 0 2 2 5 5 2 4 5 5 2 3 6 8 6 2 6 7 10 5 2 5 2 2 4 1 4 2 4 0 4-3 4 0 6 2 5 3 3 0 2-2 0-2-3-6-1-4-1-10-5-3-2-3 2-1 2 1 2 2 2 3 2 1 4-2 2-4-1-2-8-12 0-2-1-4 4-4 1-4-1-4-2-3-6-2-8-5-7-6-6-10 0-2 3-4 1-4-1-2-5-8-3-2-4 1-5 3-3 6-2 0-8 0 0-8 2-8-1-4-5-6-1-2 5-4-2-4-2-6-4-4-1-2 1-6-2-6-8-13-1-3-2-10 4-4zM1104 777l-6 8-7 5-8 8 5 6 2 1 1-1 9-9 6-2 6-1 2-6-2-6-2-3zM1144 569l-2 1 0 2 4 1 3 3 3 6-2 3-2 1-2-1-3-3-5-4-2-3-2-1-8-2-2 0-4 4-1 2 0 4 4 18 3 6 2 0 6 0 8 1 4 2 3 3 2 6-3 8 1 4 13 8 10 8 4 1 4 0 4-4 4 0 8-3 18 4 4-1 1-3-3-4 2-2 4 4 2 1 6-3 6 2 6 3 6 2 4 0 2-1 0-2-14-16-8-2-8-1-3-3-6-4-2-2-3-8 4-8 3-4-1-2-4 1-4-1-4-4-4-6-2-1-6 1-6-2-8-8-8 2-6-1-6 2-8-2zM1398 737l-2 3-1 6 3 4 4 2 3-8-1-3zM1662 338l-2 2-2 5-4 3-3 4 0 4 2 6 7 7 2 4 0 5-3 8 0 4 3 5 4 3 4 1 4 1 2 0 4-4 1-2 0-2-2-4 1-2-4-2-2-2-1-24-2-12-2-4zM1222 646l-1 2 2 4 1 4 4 3 4 5 4 2 4 0 0-1-4-2-1-1 0-4-3-4-2-2-4-2zM1246 669l-2 2 0 3 4 6 4 7 9 5 5 5 8 7 4 6 4 4 2 5 8 3 2 1 3-1 2-2 2-6 0-2-1-4-4-2-8-1-4-2-6-7-1-4-1-1-8-5-10-4-8-12zM1226 670l-4 1-6 5-1 2-1 8 6 8 4 2 3 4 9 6 8 2 8 4 3 4 3 2 6 1 4 3 3 0 5-2 1-2-1-2-8-5-2 1-2 3-1-3 0-2-1-2-8-4-6-11-8-5-4-1-1-1 2-2 1-2-1-4-5-4-2-4zM993 124l5-1 14 3 4 3 6 3 8-1 3-3 3-2 6 0 8 6-4 1-4-2-10 3-1 2 1 2 2 3 6 3 2-2-1-2-1-2 0-2 2-1 6 4 2 0 2-2 2-1 4 1 8-1 8 4 8 7 4 2 7 5-1 2-2 0-6-4-4 0-1 2-1 6-2 2-2 1-20-7-1 2 1 6-1 2-5 3-2 4-2 1-6 1-6 3-2-1-7-7 1-2 2-2 0-2-5-8-4-4-15-9-4-1-1 0-1 6-6-6-1-2 2-2 0-2-2-4-1-4zM1020 141l-2 3 2 4 4 1 2-1-2-2zM1030 167l-1 1 1 2 2 0 1-2zM1038 154l-2 0 0 2 1 2 2 2 3 0-2-5zM1134 128l0-1 2 1 8 4 7 8-1 1-2-1-8-3-2-2zM1153 144l1-1 7 5-1 1-2-1zM1518 148l0-1 2 0 2 1 2 4 4 1 2 1-1 2-3 0-2-2 0-2-2 2-2-1zM1270 156l2-2 2 0 2 1 5 5 4 6-1 4 0 4 3 4 9 6 2 4 0 2-2 2-2 0-2-1-2-5-2-1-2-2-3-5-5-1-11-11 0-4zM1293 172l1 0 2 1 6 2 5 3 1 2-2 2-2 0-4-2zM1051 198l1-1 12 3 5 10 3 3 10 6 4 1 2 2 4 6-2 2-10-2-16-12-7-2-8-10zM1047 220l1 0 4 3 5 3-1 2-4-3-6-3zM1091 220l3-1 1 1 1 2-2 2zM1624 224l4 2 2 2-2 1-4-1zM1614 226l2-1 1 1-3 4 1 4 7 6-1 2-1 1-2 0-1-1-2-4-4-4 0-2 2-2zM1576 232l2-1 2 0 2 2 4 5 0 2-1 2-3 3-2 0-2-1 0-6zM1286 250l0-2 2 0 8 3 8 2 12 0 8-2 4 0 8 6 8 9 2 3 2 7 4 5 2 0 8 0 6-1 8-3 8 2 15 9 11 12 6 4 0 4-2 1-6-4-14-7-4-3-6-7-4-3-4 0-14 4-6 5-2 4-2 0-6-2-8 1-4-1-3-2 0-4 0-4 2-4 1-4-8-4-2-7-2-1-2 0-10 4-2 0-5-2-7-4-8-9zM1371 266l1 0 3 2 2 4-1 1-4-1-2-3zM1196 370l5 0 4 4-1 4-14 4-4-2-8-2-2-2 1-2 3-1 8 0zM1166 380l3 2-3 1-2 1-2 4-2 0-2-1-2-3 2-2 4 0zM1132 384l2-2 6 2 2 2 1 4-3 1-4-1-2-2zM976 472l0-1 4 0 4 3 1 2-1 1-4-2-4 0zM1536 472l3 0-1 3-2 2zM1092 488l2-1 2 1 8 6 2 3 2 1 1 2-1 2-4 0-4 4-2 0-4-2-5-6-1-2 0-4zM1079 500l3 0 5 2 1 2 2 6-2 1-6-5zM1043 504l1-1 6 1 7 2 1 1 6-1 2 2 2 4 7 10 1 6 0 1-8-1-15-4-1-2-1-4zM1091 514l1-1 2 1 2 1 6 9-2 0-2-2-4-1-2-2zM999 522l7-1 3 1 6 4 8 8 6 4 3 4-2 1-18-1-6 2-4-4-4-2-3 0-1 0-4 6-2 1-12-1 0-16 14 1 1-1 3-5zM1472 546l8 1 3 3-2 2-9 1-2 2-2 4-3-1-2-4 1-2 4 0zM1135 590l4 0 1 2 0 1-2 2-2 0-2-1zM1563 684l1-1 2 1 1 2-1 2-2-1zM1705 738l5-1 0 5-4 0z"/><path fill="#ffd258" d="M1222 98l17 0 0 4-2 4 0 6-1 2-4 2-4 0 0 2 1 4 5 4 2 0 4-3 2 0 2 1 2 4-2 1-4-1-2 2 1 2 0 4-3 0-6-2-4 2-4-3-2-2-4-1-3-4 0-2 5-8 2 0 8 0-2-3-4-3zM1585 98l125 0 0 30-4 0 0 2 4 0 0 581-4 0-5-3-9-10-2-5-1-5 4-8-1-8-4 0-3-2 2-2 2 0 3 2 0 2 0-2 4-6-1-4-2-4-13-10-4-1-10 5-14 2-8 0-12-3-8 1-8 2-16-1-8 4-8 2-14-5-6 0-4 2-4 5-6 3-1 4-2 2-9 3-4 3-2 0-4-1-4 0-8-5-6-2-6 0 0-2 2-2-1-10-4-8-3-2-2 0-4 4-9 4-11 3-13 9-6 2-10 10-7 3-4 3-4 1-8 7-3 6-4 4-1 6-3 6-3 6 1 8-3 8 1 2 3 6 0 2-5-6-7-7-6-1-6-3-2-1-6-2-3 2 0 4 2 4 1 4 14 7 4 7 2 2 4 4 6 1 2 4 2 1 1-4-1-3-2-3 0-2 2-6 6 8 10 7 4 2 12 5 24 3 8 0 6 0 4 0 6-6 6 0 4-1 10-10 6-2 10 1 7 3 7 5 7 3 11 8 4 4 3 8 7 4 4 0 4-1 2-2 2-5 2-1 8 1 12-3 4 2 8 6 2 0 6-5-1-6 1-1 2-1 6-1 2 0 8 4 2 0 4-3 12 2 4 0 2 1 12 8 8 1 2 0 6-3 4-1 10 1 0 53-666 0-68 0 0-164 4 0 6-3 6-1 6 0 6 2 4 0 4-2 6-8 2-1 4 0 16 5 4 1 4-1 4-3 4 0 2 1 16 18 14 8 12 13 6 2 12-1 3 2 3 3 5 9 0 10 11 10 4 2 6-1 8 2 4 0 1-1 1-3 3-5 1-8-3-8-1-2-2 0-4 2-2 0-1-2-3-10-1-14-5-8-2-4-8-4-2-2-2-6-4-4-1-2 1-12-2-4-4-4-4-7 0-7-2-6-1-8-3-8-2-3-4-2-6 1-2-1-4-5-6-4-2-1-8 1-2-2-2-2 1-2 3-2 2-6 6-8 6-16 2-2 10-5 2-3 1-4 3-3 2 0 4 1 4 4 2 1 2-1 6-4 0-1-2-7 0-3 2-1 6 4 6 3 2 0 6-3 8 0 4-2 2-10 5-6 6-4 11-3 4 1 4 2 2 2 4 10 2 12 1 2 5 4 4 8 4 4 0 2-2 4 1 2 3 3 8 3 10 6 4 1 2 3 6 1 3 5 0 6 7 20 2 2 7 4 0 6 2 4 7 3 2 0 2-1 6-8 2-1 2 1 3 4 2 2 7 2 8 1 4-1 6-3 8-1 16 2 9 4 3 4 10 0 2-2 0-5 2-1 6 0 2-2-1-4 1-1 2-1 8 0 4-2 4-3 5-3 3-5 4-1 8 3 2 0 16-4 5-3 3-6 2 0 14 3 12 6 6 0 3-1 4-8 5-6 8 4 12 1 14-3 3-2-7-5-7-3-3-2-2-4-1-4 1-1 5 5 5 1 2 1 2 2 2 1 1-1-1-4 1-2 3 0 4 1 2-1-2-6 1-8 2-4 0-2-1-6 0-4 2-6 3-10-5-10-6-8-2-2-6-2-2-2-5-8 1-2 6 3 6 7 2 1 4-1 2 1 1 1-2 2 1 2 4-3 8 1 3-4 5-4 3-6 0-4-3-5-1-5-1-4 1-6-2-8 1-2 4-2 2-6 6 0 3-2 1-2-2-4-4-2-5-6-1-2 2-1 6 2 3-1-2-4-7-8-1-2 0-4 1-4 6-8 2-10 2-2 3-2 1-2 2-12-2-6 1-2 4-6 1-6-3-12 0-2 1-4 4-6 0-4 1-2 7-3 5-5 0-2-1-2-4-5-6-5 0-2 2-2 6-1 1-1 0-4 1-2 4-2 4 1 4 0 8 8 8 5 4 6 8 4 10 3 2-4 2 0 12 4 5-3 2-2 0-2-5-8 0-4 0-4 1-2 5-4 1-4-6-14 0-4 2-4-1-10-3-4-15-8-5-6-5-8 1-4 2-6 0-2-7-11-4-1-4 1-5 3-5 5-4 1-2-2 0-4 2-6 0-2-4-10 4-4 0-2-5-6-1-4-4-6 0-6-2-6-10-15-1-9 3-4 1-2zM1418 767l-1 1 2 2 5 4 4 2 2-2 2-3 2-1 0-2-4-2zM1106 776l-3 2-7 8-4 2-9 8-1 2 6 7 2 0 2-1 6-6 4-3 4-1 6 0 1-2 1-6-1-6-1-3-2-1zM1142 568l-2 2-1 2 2 2 6 2 2 6-1 2-8-6-4-5-10-3-2 1-4 3-2 2-1 4 5 22 2 4 4 2 6 0 8 1 3 1 2 2 2 6-3 6 1 4 1 3 14 9 5 6 3 5 2 1 2-1 8 1 2 0 2-2 2-4 6-4 2-1 4 1 4 1 6 1 3 2 2 4-1 6 5 4-2 4 1 6-1 2-4 4-3 6-1 4 1 2 4 3 3 5 8 6 5 3 4 3 6 3 8 1 3 2 3 4 10 4 8 7 8-3 18 1 2-1 0-2 2-7 2-5 0-2-2-4-2-2-14-5-1-1-2-6-9-7-15-5-1-2 0-4-1-2-5-5-13-7-5-8 0-2 0-2 4 2 4 1 4-4 8-1 3-2 1-4-2-4-6-4-2-4 0-3 1 1 5 0 1-2-1-5-4-4-10-3 0 2 1 4-3 2-2 0-4-1-4-5-2 0-6 0-4-3 0-5 2-7 2-2 3-1 1-2-2-8 2-1 2-3 0-2-2-2-4-2-2-1-1 1 3 8-2 2-6 0-4-2-2-4-4-3-4-1-4 2-4-1-4-1-5-6-3-1-8 2-8-1-6 1zM1662 338l-3 2-1 4-7 6-1 2 0 4 2 6 8 8 2 5 0 4-3 5 0 6 3 5 8 4 4 2 4-1 3-4 1-2 0-2-1-4 0-2 0-2-5-1-1-1-1-2-1-8 0-16-2-12-3-4zM1198 659l-1 1 1 3 2 3 2 0 0-2zM1208 654l-1 2 1 2 2 2 2-1 1-1 0-2zM1212 780l-2 3-4 1 0 2 4 8 2 1 4 1 2-1 2-1 1-4-3-4 0-2-1-2zM1226 789l-1 1 1 4 2 2 4-1 1-1-1-2zM1240 788l-1 2 1 3 2 1 4-1 4 1 2-2zM1252 731l-1 1 1 2 2 0 1 0zM994 128l2-1 6 0 6 0 2 0 2 1 4 8 0 4-2 3-2 2-5-1-11-6-4-6zM1139 134l1-1 4 1 2 2 0 2-1 0zM1064 140l2-1 3 1 0 4-2 2-3 1-1-1-1-2zM1052 144l2-1 2 1 2 4 6 4 0 2-2 1-3-1-3-3-4-3zM1025 156l1-1 2 1 2 1 4 5 10 4 1 4-1 2-6 0-2-2-2-6-6-1zM1065 156l3-1 2 0 1 1 0 2-3 1zM1275 162l1-1 2 0 1 1-1 1zM1272 164l3 0 0 2-1 2zM1029 174l1-1 2 0 1 1-1 2zM1053 200l7 1 2 1 5 8 0 2-1 1-2-1-6 0-6-8zM1080 224l2-2 2 0 2 2 1 2-3 1-2 0-2-1zM1288 250l2 0 4 2 18 5 8-2 4-3 2 0 2 1 8 5 8 10 1 8-1 2-2 0-2-2-8-7-4-2-4-4-2 0-9 5-3 1-4-1-6-2-2-2-8-8zM1577 254l1 0 2 1 0 2-2 1-2-2zM1372 280l10-1 6 3 11 8 3 4 12 11 0 2-2-1-2-1-10-6-8-3-10-11-6-1-4 1-7-1 3-1zM1339 282l1 0 2 1 1 3-3 3-2 1 1 4-1 0-4-1-1-3 1-4zM1357 284l3 0 0 2-2 1zM1194 372l2-1 3 1 1 4-6 3-2 0-3-1-1-2zM1091 492l3 0 4-1 2 2 1 1 1 2-4 4 0 2-4-3-4-3-1-2zM1047 508l1-2 4 2 0 4-2 0zM1054 516l2-1 2 0 8 0 6 7 1 2-2 2-4 0-5-3-7-1-1-2zM995 526l3-2 6 0 8 5 2 3 2 2 10 4 2 2-2 1-12 0-6 0-4-2-6-2-4-1-2 1-4 5-2 1-10-1 0-13 14 2 2-1zM1235 670l3 0 2 2-2 2zM1243 682l1-1 2 1 1 4-3 1zM1259 696l3 0 2 2 4 4 2 4-4 1-6-3-2-2 0-2z"/><path fill="#ffe468" d="M1224 98l8 0 0 4 2 0 2 0 0-4 0 4-1 2-1 7-2 1-2 0-3-2-2-4-1-2zM1587 98l123 0 0 25-4 0-6-7-2-4-10-4-4-3-4 0-2 0-1 1 1 2 6 4 4 4 8 5 6 11 2 4-1 4 1 1 6 0 0 214-6-1-5 4 1 2 2 3 8 0 0 344-4 0-3-1-1-2-2-4-6-3-2-3-1-6 4-8 0-10 2-6 0-4-2-4-15-12-4 0-10 3-18 4-4 0-12-3-16 3-6-2-10 0-2 0-6 4-2 0-6-3-3-4-5-2-4 4-10 0-8 4-2 4-4 2-2 8-10 1-5 3-5 1-2 0-6-4-10-4-2-5 0-8-2-4-4-4-4-1-6 2-8 5-12 3-12 9-8 2-4-3-4 0-1 1 0 2 4 4-1 3-3 3-3 1-2 0-2-1-2-5-2-1-2 2 3 6-1 2-4 2-6-3-2 1-6 4-1 2 1 4 3 2 1 2 0 2-4 4-1 8-6 10 0 10-1 3-2 1-10-5-6-5-8-1-8-4-2 0-2 3 1 4 0 2-5 4 0 2 1 4 2 2 14 8 9 3 2 3 2 6 10 7 6 5 6 4 10 7 8 2 2-1 2-4 3-2 1-3 2-1 12 2 20 0 10 4 2 0 4-8 2-1 10 0 2-1 1-4 5-5 8-3 6 0 6 2 25 16 4 4 5 10 4 3 6 2 6 0 3-1 1-2 2-5 2-2 10 0 8-2 3 1 8 6 3 1 2 0 6-4 1-1 0-6 1-2 4-1 2 0 3 3 3 4 8 8 8 4 1 0-2-6-7-5-2-3 1-2 3-1 10 3 4 0 8 4 4 4 6 1 8-1 8-3 10 1 0 41-4 0-2 2 0 7-62 0 0-5-1 5-23 0 1-8-1-4-6-3-4-4-4-1-1 0-1 2 2 6 4 3 5 5 0 4-79 0 0-4-2-2-4-1-1 1 0 6-236 0-1-5-2 0-1 1 0 4-103 0-208 0 0-163 4 0 7-3 5-1 6 0 6 2 4 1 6-4 4-6 2-1 6 0 14 5 4 0 4 0 4-2 4-1 2 1 6 8 10 10 16 8 8 10 2 2 6 3 10-1 2 1 6 6 3 5-1 8 1 2 11 10 6 3 6-1 2 1 1 1 3 5 12 7 2-3 2-1 5 0 2-2-1-2-4-4 0-6-3-6-1-6-2-4-1-6-3-3-2 0-4 2-2-1-1-2-3-10 2-8-1-2-5-8-2-10-7 0-4-8-5-4-1-2 1-10 0-2-8-14-1-4 2-4-1-2-6-11-3-9-3-3-4-2-6 0-4-7-2-2-8-1-6 1-1 0-1-2 4-9 4-5 5-8 1-8 2-4 8-3 4-3 4-8 2-1 2 0 4 5 2 1 2 0 10-5 1-2 1-2 2-2 8 1 6-3 8 0 4-1 5-5 1-2-1-4 3-6 4-4 5-2 9-1 3 1 3 2 7 24 7 5 6 11-1 6 1 3 2 2 12 6 8 5 4 4 2 1 4-1 2 0 2 6-2 6 2 1 3 3 1 10-1 4 1 2 4 4 5 2 0 4 5 6 10 5 2 0 2-1 4-7 2-1 2 3 6 2 14 2 12-5 4 0 8 2 8 6 2-2 2-1 1 1 0 2-1 4 2 2 4-2 16 0 2-2 2-5 2-1 4-1 2-2 1-7 11-2 10-6 2-2 0-4 2-1 3 1 7 4 6-2 8 2 4-2 1-2 3-2 6-8 12 3 14 9 16-3 4 3 2 0 1-6 9-7 8-1 5-2 7-1 5-3-4-2-1-2 4-2 2-4 4 0 4 2 2 0 2-4 0-4 0-2-4-4-1-2-1-6 1-6 0-4 2-16 3-5 1-3-1-4-2-1-2-1-1-2 1-1 2 2 2-1 2-4 10-6 1-2 2-8 3-4 0-2-5-10 0-4 2-4 0-2-3-8 5-4 1-3 4 1 2-1 4 0 2-1 2-2 0-2 0-6 2-6 0-3-4-5-6-5-6-7 0-5 2-3 4-2 1-2 0-6 3-7 4-1 10 3 2 0 1-1 3-6-6-7-2-1-4 0-2-2-1-10 4-8 2-4-5-13 0-5 2-4 5-4-1-2 0-3 2-1 4-1 6-7 0-2 0-2-5-8 5-2 2-4 2-2 6-1 2 1 4 4 8 4 6 7 12 5 8 5 6 2 6 6 4 2 4-1-1-4-3-4-1-2 1-2 4-3 2 0 4 2 2-1 1-2-4-8-6-6-2-4 1-4 6-6 2-4 0-2-4-5-3-7 2-8 0-6-2-6-3-3-16-9-4-4-4-8 0-2 3-6 0-4-4-6-2-4-3-3-4-2-2 1-6 3-6 6-2 0-2-1 2-8-2-8 4-4 1-4-7-9-1-5-3-4-3-10-11-16-1-8 3-4 1-4zM1672 121l-2 3 8 3 0-3-2-2zM1700 348l-1 0 0 2 3 2 2 0-1-2zM1106 775l-4 3-6 7-5 3-9 8 0 2 0 2 3 2 3 4 1 0 3-1 6-6 4-3 4-2 6 1 2-1 1-10-1-6-2-3zM1172 751l-1 1 1 4 4 8 4 3 2 0 2-1-8-14zM1144 566l-4 1-8 3-6-1-4 0-9 9 3 8 4 12 1 10 13 5 4-1 4 0 2 0 2 2 0 4-2 4 0 8 0 1-4 0-2 1 3 6 3 1 2 0 2-2 2-1 4 2 2 2 0 2-2 4 1 2 11 4 2 4 10 9 2 1 2-1 4-4 4 3 4 2 0 2-2 1-1 1 2 6-1 6 1 2 3 2 4 6 8 0 4 2 2 3 4 3 2 5 3 1 3 3 4 0 10 5 6 0 2 2-1 2-6 8 1 4 2 2 12 8 4 1 2 0 1-3 0-4-1-4-10-4-1-2 1-2 4 0 3 0 3 2 8 9 6 4 2 1 1-2-1-4 0-2 2-2 2 1 2 1 4 8-2 4 0 2 2 3 2 0 2 0 1-1-2-4 0-2 2-2 0-6 1-1 2 0 1 1 0 2 0 2 5 2 2 0 0-4-1-4 0-8 1-4 3-6 0-4-5-6-10-4-1-2 0-6-1-2-3-2-4-2-9-8-4 2-6-2-2-6-2-1-14-9 0-2 3-4 0-4 3-1 6 1 3-4 3-1 2 1 0 2-3 6 0 2 0 2 3 3 6 4 5 1 4 4 7 3 10 0 1 1 1 4 8 7 6 3 6 8 6 4 4 6 10 5 2 1 1-2-9-15-6-4-4-5-8-5-6-6-7-3-1-2 4-2 1-2-1-3-8-3-1 6-5 1-2-3-4-2-4 0-4 1-4-3-1-2 0-2 6-10 0-2-1-6-2-3-6-4-6-3-2-1-4-5-2-5-4-4-8-4-10-7-1-2-1-6-3-4-1-10-2-4-6-4-10-5-4 0-5 5-9 3-4-1-8-7-2 0-8 3-2 0-6-1-8 0zM1280 628l-2 2 2 2 1 0 1-2zM1346 778l-3 2 0 2 3 1 3 3 2 0 0-6zM1348 666l-1 2 0 2 8 8 3 2 4 0 6 5 2-1-3-4-5-2-2-4zM1388 645l-2 1-1 2-1 5-6 1-3 2 0 2 7 10 1 4 2 2 2 4 5 5 4 0 7-7-1-4-5-4 0-2 2-4 3-8-1-2-5-4zM1518 616l-2 0 0 2 0 2 2 2 4 2 3 0 0-2zM1526 610l-1 2 5 6 2-2zM1538 609l0 3 2 4 10 6 2 1 2-1 1-2-1-2-4-5-4-2zM1662 337l-4 3 0 2-2 2-6 4-1 4 1 3 1 7 2 2 5 4 2 2 1 4 1 4-4 6 0 6 1 2 5 5 6 3 2 1 4 1 2-1 5-5 1-2-1-6 1-2-1-2-1-1-6-3-2-6 0-18-2-10-2-6zM1666 322l-1 2 1 2 5 2 4 6 9 4 2 5 2-1 0-2 0-1-4-4-3-5-10-8zM1678 305l-2 1-1 2-1 2 1 4 3 1 6 1 2 4 4 2 3 0 0-2-1-2-6-5-4-6zM1188 738l-8 2 0 2 2 2 6 0 3 0 3-2 1-2-1-2-2-1zM1212 769l-3 5-3 1-12-3-1 2 1 4 5 4 6 8 5 9 2 2 4-1 4 0 4 3 6 1 6 0 6-4 4-3 2 0 4 2 4 4 4 1 3-2 1-2-3-6-15-10-6-2-10 0-6-3-3-3-1-4-2-2zM1302 748l-3 2 0 2 7 8 9 4 7 11 6 3 8 1 2-1 0-2-4-1-6-3-4-1-4-7-4-2-4-6-5-4-1-4zM1682 477l-1 1 0 2 3 1 1-1zM1692 426l-1 0-1 2 2 1 2-1zM1225 126l1-2 2 0 2 2 0 2-2 1zM1007 132l1 0 2 2 2 4-1 2-3 2-4-2-5-4 1-2 4 1zM1055 204l1-2 4 1 2 3-2 2-2 0zM1291 254l1-1 5 1 5 3 5 1 6 4 1 2-1 2-3 2-7-2-4-2zM1334 260l4 4 0 1-2 0-2-1zM1383 284l1-1 2 0 3 1 6 6 1 2 0 1-1 1-1 0-8-6zM997 528l3-1 2 0 10 9 0 2-2 0-2-1-6-1-8-2zM976 534l0-1 8-1 6 2 0 2-2 2-4 2-8 0zM1199 648l1-1 3 1-2 4-1 1-2-1-1-2zM1387 656l1-1 4 1 4 6-1 2-5 0-1-4zM1212 670l2 0-6 8-3 0-1-2 1-2 1-2zM1262 700l3 2-1 1z"/><path fill="#fcf570" d="M1591 98l70 0 1 5 2 0 1-1 0-4 7 0 0 4-4 4-1 6-5 0-2 2 0 2 5 10 6 8 3 5 4 3 6 1 2 1 1 4 1 2 2 1 6-2 4 2 6-2 4 0 0 101-6 1-4 1-2 1 0 1 0 1 2 1 2 0 4 1 4 0 0 25-4 0-6-2-8-3-5-1-1 2 1 4 1 8-1 2-1 2 2 0 2-1 10 0 6 5 4 0 0 7-8 1-4-1-6-10-2 0-1 1 0 6-1 1-4-2-10-3-2-1-4-7-6-4-1-4 2-2 5-4 7-14-3-1-2 1-2 0-1-2 3-4-2-4 2-2 0-2-2-1-2-3-1-4-3-6-20-12-4-5-2-5 0-2 3-6 1-4-1-2-4-4-1-4-2-3-7-5-5-6-4-2-1-6 1-1 3-1-1-4-4-5-12-10-4-7-9-12-2-8 4-4zM1668 142l-2 2 0 3 8 5 3 4 3 6 2 2 2 0 2-4 0-2-5-2-1-2 0-4-1-2-4-4-3-4zM1672 249l-2 1 2 2 3 8 1 1 6 0 4 2 2-1-1-2zM1686 226l0 2-3 4-1 2-4 4 2 1 4 1 6-2-2-8zM1681 116l1-1 4 4 6 3 2 2 1 2 0 2-3 1-2 0-4-7zM1612 182l2 2 0 2-2 1-1-1zM1303 262l1-1 2 0 1 3zM1598 288l2-1 2 0 4 4 8 4 4 3 2 4 6 14 2 3 6 4 4 2 2 0 2-3 0-6 2 0 4 1 4 4 8 3 2 6 6 6-8 0-6-1-4-2-2 0-2 4-6 4-3 11 2 4 0 2-2 2-3 2 1 2 4 4 1 6 2 2 2-1 1-1 2-4 0-4 1 0 4 0 4 2 4 4 1 4-1 4-4 4 0 8 1 4-1 1-8-2-2 1 0 2 3 4 15 8 2 4 2 2 10 4 3 4 3 5 4 4 6 2 4 3 2 1 2-1 8 0 0 138-4 0-1 2-3 1-2 3 2 2 4 3 4 0 0 29-4 0-6-2-2-4 0-4-2-3-2 0-2 1-1 2 3 5 9 9 3 2 4 0 0 44-4 0-4-2-2-2-1-6-10-6-7-6-4-2-8-1-2 1-1 2-3 1-16 4-4-1-4-1-10-2-12 3-2 0-8-4-2-1-6 2-6-1-1 2 0 2-1 2-2-1-1-3-3-2-6-3-8-6-6-4-5-7-5-10-8-11-18-4-2 1-2 2-2 1-4 1-2 1-1 3-1 1-6 0-1 1-1 2 4 8 0 6 2 1 7 1 7 2 4 3 2-1 0-4 2-1 2 0 16 9 2 2 2 4-1 2-3 3-6-1-2 1-1 5-3 3-1 5-1 2-4 2-6 0-4 2-12-3-4-1-2-2 0-2 0-6-2-12-4-5-8 1-4-1-2 0-3 3-4 2-2 6-9 1-4 3-4 2-3 2-3 2-8 0-4-2-2-2-3-8-1-1-4-1-4-2-2-2-1-2-5-5-10 1-2-2-4 4 2 1 3-1 1-1 8 6 4 0 4 1-2 6 0 2 4 3 2 3-2 5-10-1-2 0-2 6-6 5-2 0-1-1 2-4-1-4 0-8-6-7-6-3-8-9-2 0-3 1-1 2-1 2 1 2 0 4-4 4-4 1-3-1-5-4-7-2-4-4 1-2 2-2 4-2 2-2 2-1 6 2 2 0 0-5 2-2 6-5 2-9 8-2 8-4 2 0 4 2 2 0 2-4 2 0 4 2 8-3 8 1 1 2-1 6 1 8 1 2 2 2 8 0 1-2 2-4 1-1 6 0 2-1 4-6 1-8-1-2-2-1-6 2-10 0-2-3 3-6 3-2 8 1 2 1 4 5 8 4 4 0 10-2 8 2 4 0 1-1 3-6 6-6 2-1 6 1 4 0 3-2 1-4 8-2 6 1 6-5 2-2 2-8 0-4-2-6-4-6-1-4 1-8 2-8-1-6 3-4 4-10 1-6 9-8 1-8 3-6 0-4-4-6-1-4 1-2 4-4 0-6 3-4 2-2 12-4 1-2 0-6 2-2 2 0 4 1 4-1 8 4 2 0 0-2-1-4 1-8-2-3-6-1 1-4-2-2-3-1-6 0-1 1 1 2 4 1 1 1 0 2-3 3-2 1-1 0-19-20 0-2 2-1 6 0 1-1 0-2-2-6 5-7 2 0 6 2 8 1 2 0 6-3 2-1 4 3 0-1-5-10 1-4 0-4 1-2 3-1 0-2-2-2-2 0-4 3-2 0-1-4 2-6-1-2-16-15-3-9 1-3 2-2 4 0 1 1 1 4 2 3 4 1 4 5 2 0 2-1 1-2-1-2-5-2 1-2-1-2-3-1-1-1 1-6-2-6 6-8 0-2-2-6 5-2 1-2zM1606 334l-1 2 0 4 4 6-1 2-2 0-2 2 2 3 6 0 4-1 6-4 0-2 0-3 5-3 0-2 0-2-3 0-3 2-1 2-2-1 0-3-2-1zM1644 424l-3 2 0 2 1 4 2 1 2 0 2-1-1-6zM1674 470l0 2 2 4-1 8 1 3 2-1 2 0 4 3 4 2 2 0 4-2 3-1 1-4-1-2-13-13-4-1zM1702 543l-1 1 1 2 2 1 1-1 0-2zM1410 646l-1 4 1 2 3 2 1 2 2-3 0-3zM1412 609l-1 1 1 2 1 0zM1584 562l-2 2-1 4-1 1-4-1-3 2 2 6 3 4-2 1-4-2-4 0-4-2-2 1-8 5-2 5-3 2 0 2 2 4 2 4 3 2 3 4 3 1 2 0 3-5 7-7 6-1 4-3 1-3-2-4 1-1 4 0 8 3 4-2 1-2-1-4-4-6-1-6-4-4-3-2zM1578 405l-1 1 1 4 0 1 2 0 1-3zM1614 566l-3 2 3 6 4 1 4-5 2 3 2 2 2 0 2-1-1-2-1-1-4-2-3-3zM1620 425l-2 3 0 4 8 3 3-1 1-2-1-2-2-4-3-1zM1676 505l-1 1 1 2 2 2 1-2 0-2zM1682 511l-2 1 0 6 2 4 2 1 2 1 1-2-2-4 1-4zM1627 304l1 0 4 2-2 1-4 0-2-1zM1689 304l1 0 7 2 1 2-2 4 0 1-4-2-2-3zM1666 312l2-1 2 1 0 2 0 1-2 0zM1697 314l1-1 8 3 4 0 0 25-9-1-5 0-2-2 0-4-1-4 9-2 1-2-5-6zM1673 340l1 0 13 14-1 2-2 2 0 2 6 3 4 6 6 1 4 5 2 1 4 0 0 11-8-1-4 0-2-2-1-4-5-5-2-1-2 4-2 1-2-1-4-4-2 0-2-2 0-2 1-2 1-2 4 0 1-2 0-2-5-5-2-4-1-9zM1577 360l1-1 2 0 1 3zM1694 388l2 0 1 4 4 4 0 2-1 1-2-1-3-4-2-2-2-2zM1684 398l2-1 2 0 1 3 6 4 5 7 2 0 3-5-2-4 1-2 6 0 0 14 0 5-4 0-2 2-2 1-4-3-15-5-2-2 0-4-4-4zM1705 426l1-2 4 0 0 4zM1179 502l9-1 3 3 9 22 7 6 6 10-2 4 0 2 4 6 11 6 8 5 4 5 3 2 1 2 1-2 3-2 2 2 0 2-2 0-2 0-2 0 0 2 0 4 2 2 6 1 1 3 0 8-1 1-4 2-6-2-2-2-4-5-5-12-7-6-10-5-6-1-2 1-6 5-6 2-2-1-4-5-4-2-2 0-4 1-5 3-3 1-14-2-10-2-4-1-12 2-14-1-4 0-6-3-8-6-1-2-1-2 0-2 2-2 6-2 4-2 5-2 1-2-1-4 1-2 2 1 2 4 2 1 2 0 5-2 7-4 6-5 6 1 6-4 2-1 12 0 6-5 1-2-1-6 2-6 2-2zM1088 568l2-2 2 0 11 8 2 8-1 1-2 0-6-4-6-1-3-2-1-2 0-2zM1323 618l3 0 0 2-1 2 5 4 4 5 6 1 4 3 3 1 7 10 1 4-2 4-1 4-1 2-3 1-2-1-4-3-6 2-1 3 3 6-6 2-6-2-4-5-4-2-6-7-2-1-2 0-6 1-4-2 4-5 2-1 2-2 0-2-6-7-7-3-4-6 0-2 1-1 6 0 4-1 4 0 6 4 4 2 4 3 1-1-1-4 5-2 1-2zM1133 646l1 0 4 4 2 1 4-1 2 2 0 4 2 4-2 1-5-1-3-5-5-3-1-2zM1154 656l2-1 2 1 4 2 2 2 4 0 15 12 3 4 2 3 1 15 0 2 5 2 8 4 2 6 2 3 4 1 4 0 6 1 3 3 3 5 8 3 8 10 14 10 4 0 6 4 2 0 8 0 2-2 2-1 4 4 10 4 4 3 8 8 6 2 8 11 2 1 16 5 6 3 22 13 12 0 1-1-5-10-3-4-3-2-6-1-2-2-3-3-9-12-2-1-4-2-2 0-2 3-2 0 0-2 3-4 0-4-2-2-5 0-10-3-4 0-1 1 3 4-1 2-1 2-2-2-2-5-2-1-2-2 2-2-1-2-4-6-2-8 0-4 1-4 2-4 2-2 6 1 14-1 4-3 16 5 3-2-1-4-4-3-5-7-3-6-4-6-1-2 1-1 3 1 5 5 4 3 3 4 4 4 0 4 1 8 4 17 2 3 23 12 6 10 8 6 1 2-1 2 1 2 4 4 2-4 2 0 4 2 8 6 16 5 6-5 6-1 2-4 10-2 11 1 5 4 6 2 8 1 8-3 4-5 10 2 4-1 5-6 1-2-2-6 0-2 5-2 4 2 5 4 20 12 3 4 3 8 12 9 2 0 8 1 4-1 2-2 0-7 2-2 10 0 6-2 10 6 8 2 6 5 2 1 2 2 0 4 2 2 6 1 2 0 6-3 2-2 0-3 2-1 14 4 2-3 2-1 6 1 7 9 1 8 4 2 5 6 3 8 0 4-45 0 0-4 3-2 1-2-2-6-2-2-7-3-6-4-4-1-4-4-4-1-2 0-4 2-2 3-1 4-1 1-2 0-2-1-6-6-2-2 0-4-12-5-2 1 1 4 4 6-4 10 0 6-1 1-2 0-4-2-2 2-2 3 0 6-45 0 0-4-3-3-10-6-10-9-2 0-2 0-1 2 0 2 2 2 6 4 4 4 1 4 0 4-10 0 0-4-2-1-8 0-1 1 0 4-25 0 0-4-2-2-2 0-2 2 0 4-61 0 0-4-1-4-2-2-4-2-6-2-6-2-4-1-2 1 2 5 6 5-6 0-8-6-10-1-6-5-2 0-2 1-1 5-1 1-4 0-4-2-4 1 0 2 4 6 0 4-50 0 0-4-1-2-5-6-2-2-2 0-4 4-2 4-3 2 0 4-6 0 0-4-3-1-2 1 0 4-3 0 0-4-1-2-2-1-2 1 0 6-284 0 0-161 4 0 8-4 6-1 14 3 6-3 4-6 4-2 4 0 12 5 6 1 4 0 6-3 2 1 6 10 4 1 8 6 14 7 4 4 4 6 6 5 4 1 8 1 2 3 6 3 2 3 0 8 2 4 8 6 4 5 6 2 7-1 1 1 2 4 2 3 11 6 2 4 2 6 5 10 2 1 6 0 4 2 5 7 11 11 2 3 2 8 4 4 2 0 4-2 6 2 13 0 3-1 4-3 4-1 2 0 4 4 2 1 6-1 3-1 3-6 0-2-15-10-3-4-16-3-2-1-7-8-5-6-9-4-3-6-4-4-3-10-5-5-4-1-10 1-3-1-2-4-2-8-6-8-1-8-2-2-2-1-6-1-2-1-2-4 0-3 5-4 0-2-7-10-1-4 7-8zM1166 694l-1 4 1 1 2 0 1-3zM1480 812l0 2 2 2 4 1 2-1-1-2zM1528 773l-1 3 4 4 1 5 2 2 6 3 4 6 4-3 6 2 2 0 2-3 1-2-1-3-2-2-6-4-10-2-4-4zM1574 820l-2 2 2 3 2 1 1-4zM1582 818l-2 0-1 2 1 1 2 0 2-1zM1108 774l-4 2-8 9-5 3-9 8-1 2 1 2 6 7 4-2 6-6 4-3 4-1 6 1 3-2 1-16-2-3zM1317 674l2 0 2 2-1 1zM1706 678l0-2 4 0 0 4 0 1-4 0zM1329 684l3-1 1 1 0 2-1 0zM1305 690l5 0 2 2 0 6-2 1-5-3-1-2zM1393 690l1-1 10 2 4 4 2 7-2 3-2 1-5 0 0 2 2 2 0 2 0 10-1 2-2 0-5-4-6-6-1-2-2-5-12 2-2-1-2-3-5-3-1-2 1-2 1-1 8 0 6 0 5 3 3 6 4-2 2-2 1-6zM1194 752l2 8-2 1-4 1-4-2-2-2-1-2 1-2 2-1 2 1 2 2zM1632 776l2-1 2 1 2 4 0 1-2 1zM1704 788l0-1 2 0 4 0 0 7 0 2-4 0zM1692 790l4 4 1 4 3 3 4 1 6 0 0 11-4 0-2-1-2-3-7-3 0-6-5-6zM1621 814l3-1 1 1 0 2-1 1zM1627 826l1-1 4 1 2 2 0 4-7 0z"/><path fill="#e0fb70" d="M1595 98l59 0 0 14 5 10 0 2-3 4 0 2 7 6 1 2-2 6 0 4 2 3 6 4 1 1 5 8 2 4 5 8 1 2-3 4 2 4-2 4 0 8 1 1 2 0 6-2 6 7 4 0 6 3 4 0 0 14-4 0-10-7-2-8-4-1-4 1-2 0-6-6-3 2 0 2 3 4 4 3 2 5-3 4-3 8-3 2-5 2-2 2-2 0-4-3-6-2-13-9-3-3-2-5 1-2 5-4 0-2-3-8-4-4-3-6-4-4-1-2 3-4-1-8 3-8-7-12 2-4-5-9-2-2-10-3-6-5-2 0-1 5-1 1-6 0-4-4-1-3 0-2 5-2-1-8 2-4zM1693 158l3-1 6 2 4 5 4 0 0 33-4 0-2-2-6-5-4-2-6-8 1-2 9-2 1-2-3-4 1-6zM1668 236l0-1 2 0 2 2 3 5-1 1-4-1zM1699 264l3-2 2 1 2 1 4 0 0 4 0 1-6 0-2 0zM1664 282l2-1 2 1 0 2zM1599 304l1-1 2 3-1 2-1 1-2-1-1-2zM1611 312l3 0 6 5 2 3 0 2-2 4-2-2-4-2-6-1-4-4-2-1 2-1 2-1zM1620 390l8-1 2 0 7 5 1 2 0 4 2 1 1 1 0 2-3 7-6 1-6-6-3 4-4 0 2 6-1 4-2 0-6-3-8-7-4-1-6 1-6-2-8-8-4-3 0-3 4-3 8 1 8 4 8 7 4 2 4 1 2-1 0-3 5-4zM1658 418l1 2 5 2 2 5 2 1 3-2 5-1 2 1 1 4-1 2 1 2 5 2 2 1 5 1 5 4 4 2 10 0 0 16-4 0-2-1-6-9-2-2-2 1-1 1 0 2 1 3 4 3 4 2-1 2-5-2-5-4-6-2-5-6-2-1-2 0-1 1 6 10 2 4-1 2-10 1-3 1 0 2 2 10-1 8-1 6 1 8-3 10 3 4 2 7 4 3 4 5 15 13 1 6 6 4 1 4 3 2 4 0 0 4-6 1-2-1-2-2-8-3-2-1-2 2 1 2 3 6-4 3 0 5-6 10-3 2 3 3 2-1 3 0-13 8 6 4 6 8 6 7 4 3 4 5 6 3 4 0 0 20-8 0-8 4-2-1-4-2-6-6-4-2-5-1-7-4-6-8-10-4-3 2 0 4 0 2 13 8 2 2 1 2-3 2-4 1-7-1-5-3-6-7-4-1-2 1-3 4-5 2-2 2-4 0-2-1-2-3 1-6-3-10-10-3-2-3 9-6 1-2-1-2-3-2-4 1-3-7 0-2 1-1 4-1 5-2-2-10-2-4 1-2 4 3 6 2 4 4 4 1 3 2 1 2 2 0 4-2 6 0 6-1 3-3-6-10-8-4-5-7-7-5-3-1-6 3-10 1-6-1-4-1-6-2-10 0-4 6-8 0-1 1 0 2 2 4-1 2-8 2-2 2-3 4-3 3-6 2-1 3 1 7-2 2-6-1-5-4-1-2-4 0-1-2-1-6 1-2 1 0 2 0 6 3 6-1 6-12 1-6-1-6 0-2 3-4-2-4-5-4-1-2 0-4 3-8-2-8 8-17 8-9 1-8 4-6-1-6-4-8 0-2 4-4 2-6 6-6 14-5 1-1 1-4 2-1 2 0 4 2 6 2 8 4 6-2 3-7 3-1 14 2 6 0 4 0 6-1 2 0 6 4 4-1 4 0 1 1 1 2 1-2-2-4-3-3-2-1-2 0-1-2-5-6-1-4 1-1zM1614 612l-2 1-1 3 1 6 2 1 3-1 1-2-2-2 0-4zM1642 596l-2 2-2 4-1 2 3 4-1 2-1 1-2 3 3 6 1 1 2 1 2 0 1-2 2-6 5 0 2-2-1-4-3-8-4 0zM1650 540l-2 1-1 3 2 4 0 2-1 2 1 6-1 4 0 2 2 3 4 3 4 0 4 3 4 0 1-1-1-2-6-1-1-3 3-6 3-2 4-2 0-6 3-2 2 0 2 1 2 3 2 1 4 0 1-1-1-4-4-6-4-2-4 0-4 2-2 3-2 1-7-4zM1654 587l-1 1 1 4 0 1 2 0 1-1 0-2zM1656 614l-1 2 1 1 2 1 2-2zM1694 472l2-1 4 2 3 3 0 2-1 1-4-1-3-2zM1704 482l2-1 4 0 0 3 0 1-4 0-2-1zM1176 506l8-2 2 1 2 1 8 14 3 8 7 4 2 3 3 7-1 4 0 2 3 6 3 3 10 5 6 4 2 2 6 15 2 2 7 1-1 4-2 1-6-1-2-6-4-3-2-5-6-6-2-3-2-2-4 0-6-2-8-2-2 1-5 6-3 0-5-4-2-2-7-1-4 1-6 5-4 0-28-5-10 1-6-2-4 1-8-4-4 0-6-4-1-2 3-2 4-1 4 1 2-2 2 0 4 2 2 0 0-2-1-4 1-2 14-6 4-4 6-1 8-4 14 1 4-3 3-1 2-4-1-10 0-2zM1705 526l5 0 0 12-4 0-7-4 0-2zM1700 568l1 2-3 1-2-1zM1515 592l1 0 4 3 2 0 1 1-1 2-2 1-4 1-4 5-8 3-1 14-1 1-6-1-8 0-8 1-9 5-3 7-2 2-6 1-7 0-2-2 1-2 3-2 1-2-4-10 6-1 6-10 4-4 8-4 6-2 16 4 1-1 1-6 1-2 5-2 2 1 2 2 2 0zM1700 596l6 4 4 0 0 8-4 0-2-4-4-4zM1579 600l5-1 2 1 4 7 8 3 0 3-8 1-6-1-5-9zM1422 608l2-1 2 2 1 3-1 2-2 0-2-2zM1388 612l8 0 1 4-1 4-2 0-6-3-2-1zM1563 614l7 0 2 1 9 11 1 2-2 4-2 2-10-5-4-7zM1410 618l4-1 4 1 2 2 1 4-1 1-2 0-2 0zM1587 632l1-1 4 2 1 3-1 1-2 0-3-1zM1523 634l3 0 2 1 6 5 2 4-3 2-2 0-3-2-6 2-1-2zM1313 636l3 0 8 3 6 1 4 3 4 3 1 2-1 2-3 2-9-1-4 1-2 0-3-4-5-3-2-2-1-3 1-2zM1514 648l2-1 2 0 2 1 4 1 4 3 4-1 2 1 1 2 1 2-1 2-3 2-4-1-6-4-2 0-4 3 0-4zM1021 660l5-1 10 5 8 1 10 0 1 1 2 8 3 3 8 2 4 2 4 1 12 6 4 4 4 6 4 3 9 5 5 6 6 0 3 12 2 2 7 5 6 6 4 2 8-1 4 6 8 4 5 4 1 2 2 8 5 10 3 2 6-1 4 2 4 6 10 11 2 4 0 6 8 7 8-1 20 0 4-3 2-1 4 1 4 3 6-1 6 2 2 1 2 3 2 0 2-3-1-2-3-2-1-4 3-10 2-4 0-1-2-1-3 4-3 1-6-3-4-4 3-4 0-2-1-3-2-2-4 1-4 3-2 1-4 0-6-2-6-6-9-10-9-4-5-8-4-10-2-2-7-4-12 0-2-2-3-10-6-6-1-2 0-10 2-6 1-6-1-1-10-4-3-3-2-4 1-4 2-1 4 0 2-1 0-6 2-3 2 1 8 8 6 8 2 4 0 12 2 2 6 2 5 4 5 9 6 3 6-1 3 1 5 6 4 3 6 3 17 16 3 2 6 1 4 4 8 3 6 0 12 2 4 4 5 4 5 6 11 4 5 6 16 4 6 2 4 2 6 5 14 8 12 0 2 0 1-1-5-13-4-6-4-3-6-1-2-1-3-4-9-13 1-3-1-2-4-5-2-7-2-1-2 1-2 6-4 1-18-5-2-2-3-4-2-8 3-7 12-4 4 0 6 1 6-2 8 1 8 4 2 5 1 6 3 4 4 3 12 5 4 2 5 10 8 8 7 12 0 4 0 4 0 1 6 2 2-1-1-2 1-2 3-2 3-2 8 3 8 1 6 2 2 0 6-4 6-1 2-1 3-4 7-3 7 1 4 4 3 1 6 2 8 1 4 0 12-6 8 0 6-1 2 1 8 13 6 5 2 6 2 2 10 3 6 0 5-1 1-4 4-5 2 0 8 5 8 1 5 5 1 2 0 2-2 2-2 1-6 0-4-2-8-1-8 4-5 8-1 2 3 4 0 4-5 0 0-4-12-1-2-1-8-8-10-5-6-6-8-5-4-5-4-3-2 1-4 5-6 5-8 0-6-3-1 2 0 6-1 3-8 5-6-1-1 1 0 6 3 4 0 4-20 0 0-4 2-2-1-2-2-2-3-1-2 0-2 2 0 9-17 0 0-4-4-6-3-3-4-2-6-1-4-2-14-5-6 4-4 0-8-3-4 0-2 1-4 4-2 0-10 0-4 1-1 2-1 2 1 2 3 4 5 2 0 4-38 0 0-4 2-2 1-1 5-1 2-2-1-2-6-9-2-1-6-1-10 5-6 5-4 5-2 0-4-3-8-2-4 1-8-3-4 0-6 3-1 4-5 4 0 4-21 0 0-4-5-2-4-1-4-3-2 0-2 2 1 2 2 2 0 4-5 0 0-4-2-1-2-4-6-3-4-1-1 1-2 4 0 2 1 2 0 4-204 0 0-160 6-1 8-4 4 0 6 1 6 3 2 0 6-3zM1106 774l-4 3-6 7-6 4-8 6-1 2-1 2 1 2 3 3 2 3 2 1 2 0 4-3 4-4 4-3 4-1 6 1 3-1 2-2-1-4 1-10-1-5-2-2zM1296 777l0 1 2 3 2 2 2 0 1-1-1-4zM1534 766l2-1 2 1 2 2 0 2-2 1-2-1zM1547 772l3 0 2 4-4 0zM1592 786l2-1 3 1 3 2 1 4-1 1-2-1zM1618 792l2-1 2 1 3 2 0 2-5-2zM1660 800l10 5 6 2 2 2 3 5 1 6 2 3 2 2 2-2 0 1-1 8-3 0-20 0-1-10-3-8-2-2-4-2-2-2 1-2 3 0 2-2zM1500 818l2 0 4 2 0 1-1 1-3 0zM1483 822l3-1 4 2 5 5 0 4-12 0zM1561 822l1-1 2 1 3 4-1 2-2-1z"/><path fill="#b0f870" d="M1621 98l7 0 0 4 2 1 3-1 0-4 15 0 0 4-2 2-1 2 1 2 4 4 2 6 1 2-1 1-2 1-6 0-4 3-8-3-1-2 3-4 0-2-2-2-2 0-4 2-1 2 4 4 3 6 3 2 5 0 1 6 1 3 8 3 4 4 4 2 3 8 3 2 4 2 2 2 2 4 4 12-1 6-1 1-4 0-2-1-1 0 0 2 1 2-2 2-8 0-6-6-6-2 3-6-1-6-2-3-6-1-1-2-1-4-3-6 2-4-1-5-4-3-6-9-8-5-4-4-2-1-4 0-4-3-1-2 0-2 3-3 5-3 3-3 0 1 4 3 2 1 2-1 1-3 0-2-2-2zM1703 178l3-2 4 0 0 13-4 0-4-3-2-2zM1653 190l3-1 2 1 1 4-1 2-5 2 0 2 7 4 6 10 2 6 3 4-3 3-4 1-4 0-4-2-11-8-3-3 0-2 6-3 1-2 0-4-2-4 0-2zM1665 200l3 1 1 1-1 2-2 0-2-1-1-1zM1620 442l2-2 2 0 4 1 6 4 12 1 2 0 3-2 5 0 5 2 8 6 1 2-1 2-3 2-1 2 1 6 2 6 0 10-3 12-2 4 1 4-3 2-1 2 2 4 9 16-1 2-2-1-6-3-6-5-6-3-3 0-1 4-1 2 1 1 2 3 2 3 1 3-3 1-3-1-3-2 0 6-2 5-2 3-6 2-2 6-4 1-8 0-8-5-2-1-1 1 0 6-1 2-2 1-16-3-12-1-2 1-2 5-2 1-4-2-4-4-10-5-6-7-1-2 3-6-1-6-1-6 1-6 1-3 14-17 2-1 4 1 4 0 0-1 0-1-5-6-1-2-4-18 0-2 4-7 6-7 6-3 8-1 8-2 4 0 6 4 12 5 2 1 4 0 4 5 6 1 2-1 1-3-2-2-5-3-4 0-2-2zM1600 507l0 2 2 2 2-1zM1616 502l-2 2-1 2 3 5 2 2 4 1 7 6 5 2 10-2 0-2 2-4-2-3-2-1-4 3-4 0zM1622 482l0 3 2 2 2-1-2-3zM1701 448l1-1 4 2 4 0 0 5-4 0zM1179 510l3-1 4 1 8 11 2 7 2 2 4 2 4 4 1 2-1 4 7 16-1 2-8-3-10-1-4 0-4 2-10 0-10 7-12-3-7 0-13-4-6 1-2-1-3-2 0-2 1-2 0-2-1-6 2-2 5-1 4-2 4-1 1-2 2-2 5-1 6-3 6-1 2 1 6 4 4 0 9-6-1-6zM1678 558l2 0 1 2-1 1-2 1zM1636 562l2-2 2 1 4 5-1 2-3 0-2-2zM1553 564l1-1 4-1 2 2 1 4-3 1-4 0zM1651 576l1-1 2-1 2 1 4 4 1 3-1 1-2-1zM1662 584l4-1 2 1 1 2-1 2zM1481 602l13 3 4 5 0 2-1 4-3 2-10 1-4-1-2 0-5 4-5 1-4-3 0-2 2-6 1-2 8-6zM1617 602l1-1 6 2 1 1 1 6-1 2-3-1-4-3-2-2zM1678 610l2 0 6 5 2 3-2 0-2-1-6-5zM1627 624l1-1 2 0 4 3 2 0-6 1zM1665 624l5 1 2 1 1 2 0 2-3 1-2 0zM1696 628l2-1 3 1 2 2 0 2-1 1-2-1zM1023 662l3 0 6 3 20 4 6 11 2 2 4 0 10 4 3 6 5 7 17 13 2 4 3 1 8 6 2 0 1-1-2-2 1-1 2 0 2 0 0 5 1 2 11 5 10 11 2 1 6-2 2 1 4 3 8 5 4 5 1 7 3 4 4 8 2 2 2 0 6-1 2 1 6 10 0 2 0 4-1 2 1 6-1 4 3 4-1 2 1 1 4-1 4 4-4 2-6 1-6-2-4-1-8 4-1 2 1 4-2 3-6 0-2 1 0 4-6 0-21 0 0-4-1 0-2 0 0 4-158 0 0-158 6-1 10-5 2 0 2 0 5 2 3 3 2 1 2-1 8-4zM1104 749l-1 1 0 2 2 2 3 2 2-1 2-1 0-2-1-2-3-2zM1110 771l-4 2-2 1-9 10-6 4-8 6-1 4 0 2 4 4 2 3 3 1 3-1 10-9 4-2 8 1 7-3-3-1-1-3 1-12-1-4-1-2-2-2zM1178 680l4 4 3 14 3 3 6 2 5 5 3 6 2 2 6 3 2 0 4-1 2 1 3 5 13 7 10 9 6 6 10 4 3 6 11 10 2 1 2 0 1-1 1-4 2-2 2 0 4 0 5 4 2 2 0 2-4 6 0 4 5 7 6 5 0 2 2 1 4 1 6-9 2-1 13 0 9 2 5 2 3 2 6 5 6 3 8 5 10 1-2 4-4 2-4 0-10-3-4 2-4 4-6 0-6-5-6-3-6-1-3 0-1 1-3-5 1-4-2-1-3 1 0 4-1 2-2 1-2 1-4-2-4 1-2-1-10-6-2 3-1 11-1 2-2 1 1-3-1-2-4-3-2-4-2-2 0-3 6-8 5-2 3-2 0-2-2-1-4 0-4-4-4-3-5-4-3-1-2 1 0 2-2 1-6-3-4-1-2 1-4 4-2 1-4-1-9-6-8-10-11-5-4-7-3-12-9-4-8-2-6-3-4-7-7-6 1-9 3-9 1-2 3-2 1-2-4-5-1-1zM1101 708l3-1 4 3 3 4-1 1-4 1zM1324 722l4 0 4 1 2 0 6-2 2 0 8 3 2 2 1 2-1 2-2 2 0 1 4 5 14 8 8 2 2 2 5 8 6 8 4 10 0 2-5 7-2 1-1 2-1 2 1 2 2 2 0 2-3 1-3-5-1-1-3-7-5-8-1-8-5-2-6-5-4-6-9-9-1-2 1-2 2-2 0-2-5-2-4 1-4 3-2 4-2 2-4 0-8-2-5-2-2-2-2-6 0-2 1-3 2-2zM1356 764l2-1 2 1 2 5 0 3-2 0-2-2-2-4zM1463 776l3 0 6 5 10 3 5 4 0 2-5 3-2-1-4 1-6 0-2 1-5 4-1 2 3 6 0 2-11 1-7 5-3 5-4 1-8-3-4 0-2 7-2 4 0 4-7 0 0-4-3-4-6-10-6-1-4 1-5-4-11-3-2-1 1-2 9-3 4 3 3 2 1 2 4 3 2-3-1-4 1-2 6 8 4 1 4 3 4 0 0-2-5-4-3-6 0-2 3-4-1-6 6-2 2 0 10 3 12-7 6 0 2-1 2-3zM1503 780l9-1 6 1 4 3 2 2 8 15 4 5 6 1 6 4 6 1 1 1-1 2-3 4-1 5-2 1-2 0-6-1-3-3-5-7-6 0-7-3-4-6-5-4-8-8-4-8 1-2zM1478 798l2-1 2 0 1 3-3 1zM1228 810l6-1 8 2 4-2 2 1 0 2-2 1-8 5-2 5-4 1-2 1-1 1 0 6-3 0 0-4-4-4-1-4-3 0-2 2-4-2-7-4 0-2 3 0 2 1 4 1 4-5zM1668 820l2-1 6 3 3 4 0 6-8 0 0-4-2-2zM1319 824l3-1 3 3 1 2 0 4-2 0-9 0 0-4z"/><path fill="#85f375" d="M1621 120l3 2 0 1-2 0zM1593 450l3-1 2 0 16 11 3 6 3 4 0 2-3 0-7-3-6-1-1 2 3 6 0 3-2 0-6-1-6-5-2 1-1 2 3 6-2 2-4 0-4 3-4 1-6-2-6-10 2-8-1-4 1-3 5-3 2-4 1-1 2-1 6-1 3 1 5 8 3 6 7 2 2-2-2-4zM1580 464l1 2 1 1 2-1 1-2zM1644 456l2-2 4 1 8 5 6 10 1 10 0 2-4 8-5 3-2 1-4 5-4 1-6-2-6-1-2 5-2 2-3-2-1-4-3-4 1-2 6-1 2-1 1-2 0-4 1-1 1 1 3 2 6 3 2-3-3-6 1-4 8-1 3-5-1-4-2-2-6-4zM1606 482l2-1 6 3 2 2 0 2 0 1-4-1-4-2zM1563 502l3-2 4 0 6 2 2 2 1 4 7 10-1 2-2 2 0 2 5 8 3 8 10 8-1 3-12 0-4 0-6-2-6-3-8-6-4-1-6 1-3-2 1-14-2-6 0-2 4-5zM1647 504l3 0 4 2 6 8 1 2-1 1-10-5-3-4zM1590 508l1 0 3 2 3 4 5 4 12 4 3 4 5 4 0 4 4 4 2 6-2 4-2 1-2 0-4-2-6-4-6-3-6-7-5-3-5-6 2-4 1-6 0-2zM1184 516l0-1 2 1 6 6 1 2-1 2-2 1-4-1-2-2zM1183 536l3 0 3 2 1 2-2 1-4 0-2-1-1-2zM1144 538l2-2 2 1 3 5-1 1-2 0zM1170 544l6 0 4 0 1 2 2 6-1 1-2 0-4 0-4-6zM1026 668l2 0 10 3 4 4 10 6 8 7 10 3 6 7 1 4 8 4 7 6 1 2-2 4 1 2 10 12 9 8 2 4-1 1-2 0-10-2-1 1 0 10 2 4 0 4 3 4 2-1 2-3 8-2 1-2 0-6 1-3 7-3 2-2-2-8 3-1 2 0 4 3 1 2 2 6 11 3 6-1 2 2-3 2-1 2 2 2 7 8 6 4 2 4-1 2-4 2-4 5-2 1-4-5-4-1-4 1-2 3 2 2 6-2 2 1 1 1 1 3 2-1 2 1 2 7-2 4 1 2 3 2 2 0 6-3 6 0 3 1 0 2-3 4-1 6-2 2-5 3-2 7-2 1-8-2-2-1-8-12 0-2 2-4 1-2-1-2-4-2-2-5-6-3-6-6-4-1-2 0-1 1-1 2 1 2 7 5 3 5 4 20 2 4 0 2-1 1-8-1-6 3-8 0-1 1-1 6-46 0 0-4-2-2-2 0-4 2 0 4-86 0 0-141 6-1 1-8 3-1 4 2 2 3 2 2 10 5 5-3 1-5 1-1 5 0 2 0 0-2-2-8 2-2zM1042 704l-2 1 0 3 2-1zM1048 708l2 4 2 1 1-1-1-2zM1062 702l-1 0 2 4 1 2 4 2 2-2-1-2-3-3zM1108 769l-6 5-7 10-13 9-2 3-1 4 7 8 2 1 2-1 5-4 7-6 4-1 8 1 10-4 2-2-2-1-4 0-2-1 0-5 2-7-1-4-3-5-2-1zM1164 801l-2 3 1 2 5 4 2-2 0-2-2-3-2-1zM992 672l2-1 2 0 2 1 1 4 0 4-3 1-4 0-2-3zM1005 680l1-1 2 0 1 3-1 2-4-1-1-1zM1177 696l1-1 2 0 1 5 11 6 4 4 1 4 0 2-1 2-2 0-2-1-4-3-2 1-4 3-4-4-4-2-1-2 0-2 1-4zM1338 726l2 2-1 4-1 3-4 2-3 5-3 2-8-2-3-2-1-2 1-2 3-2 6 0 2-2 0-4zM1221 730l3 0 6 4 4 4 0 2-4 2-2 2 3 4-1 6-2 2-2-1-6-1-6-3-2-1-2-4 0-6 2-4 2-2 3 0 0-2zM1238 742l2-1 2 0 4 6 8 4 4 1 1 4-1 2-2-1-2-2-2-1-6 2 0 6-2-2 0-2 2-2-4-8zM1372 750l2 1 1 1 5 8 6 6 0 8-4 1-6-1-1-2 1-4 0-2-10-4-6-6 0-2zM1230 762l0-1 2 0 2 1 2 2 1 2-3 0zM1325 788l3 0 2 0 4 6 3 0 2-4 1 0 5 2 4 6-3 2-3 2 0 2 2 4-1 2-2-1-4-4-10-3-3-4-3-6 0-2zM1446 788l2-1 8 2 1 1 0 2-3 2-1 2 2 4-1 1-2 1-2 6-6 4-2 3-2 0-6-1-5-4-1-2 0-12 1-2 1 0 8 0 2-2 5-2zM1515 794l1 0 4 1 4 0 2 3-1 4 2 4-1 1-2 1-2-1-3-5-4-4zM1540 816l2-1 2 1 2 2-2 2-2-1z"/><path fill="#74f28a" d="M1568 504l2-1 1 1 2 2-1 1-2 0zM1563 514l3-1 4 5-2 1zM1558 524l0-1 2 0 6 3 3 4 2 4 1 1 6 1 2 6 0 2-4 0-8-8-4 0-7-2-1-2zM1614 538l2-1 2 1 2 2 0 2-2 1zM1024 676l2-1 2 1 6 4 1 2 0 2-1 2-2 0-4-5zM987 692l1-1 2-1 8 3 18 16 4-1 3-6 0-4 1-2 2 2 2 4 4 5 4 7 2 2 8 0 8 4 6 1 2-1 1-2 0-4 1-1 5 1 3 2 2 3 4 0 2 0 4 5 2 1 6 1 4 3 6 7 1 2-1 0-6 0-2 2 1 8 0 6 2 8 2 6-1 4 1 4-1 2-4 6-6 3-6 5-3 4 0 4 7 9 4 0 10-9 4-2 10 1 14-4 2 1 0 2 2 4-1 4 2 4-1 1-2-1-4 1-4-2-2 0-1 3-3 2-8 2 1 4 0 2-6 6 0 4-20 0 0-4-7-1-10-5-2 0-4 3-7 3 0 4-77 0 0-137 8 0zM1039 692l1-1 2 0 1 1 1 2-2 0zM1122 754l2-1 4 0 8 2 6-2 5 1 6 6 2 2 0 2-3 2-6 2-3 0-3 0-4 7-8 2-4 0-4-4-3-7 5-4z"/><path fill="#7cf6ae" d="M990 696l2-2 5 2 5 5 14 10 4 1 4 1 4-3 2 1 2 3 2 5 4 2 4 0 6 0 10 4 8 1 4 3 8 0 6 3 2 2 3 4 0 4 2 4 0 6 1 6-2 15-1 1-3 1-1 1 0 2 3 3 2 0 1-1 1-4 2 0 2 2-2 4-8 5-6 5-2 4 0 4 4 5 2 4 2 2 6-2 8-7 4-2 10 1 2 1 1 2 0 2-3 3-10 0-4 3 0 2 2 3 1 5-3 3-4 2-6 0-4-2-7-1-7-3-6-4-6-1-3 6-3 2-6 1-2 1 0 6-70 0 0-88 4 0 0-2-4 0 0-17 8 1 1-2-2-4 1-1 10 3 1-2 1-4 0-2-4-3-1-3 1-1 6 0 1-1 0-2-2-2zM1028 763l-1 1 3 4 14 12 7 6 3 1 2-1 1-2-1-2-2-3-8-2zM976 698l4 0 5 2 2 2 1 4-2 1-6-3-4 0z"/><path fill="#7ff9d3" d="M1007 712l1-2 4 2 12 7 4 7 6 2 6 5 4 1 1 2-2 2 0 2 1 2 2 0 3-4 3-2 2-5 2 0 6 2 6 4 11 7 3 4 0 2-2 2-6 0-2 1-4-1-6 2-1 2 1 2 3 2-1 3-2 1-8-4-4-6-4-2-2-1-1 3 1 4 9 6 1 4 0 1-2 0-10-9-6-1-4-3-4 0-6 2-1 2 0 4-1 1-6-2-3 1 0 2 5 6 8 6 8 8 2 6 0 6 4 3 2 3 4 2 3 6 3 2 2 2-2 1-4-1-8-4-4 0-2 2-1 2 4 8 0 8-7 0 1-6-2-4-5-3-7-7-1-4 2-2 1-6-1-5-2-1 0-10-2-4-6-4-3-4-7-6-6-1-6-5-2 1-2 5-4 0 0-15 6 0 6 0 3-3-1-2-2-2-3-6-5-2-4 0 0-7 4 0 4 1 10 5 8 7 7 4 3 3 2 0 1-1 1-6 5-6 1-6-3-2-9-5-4-1-2 2-2-1 0-3 2-2zM1000 753l-2 1-3 4 4 4 3 2 2-2-2-6zM998 732l3 0 3 2-2 1-2 0zM1076 732l6 2 2 4-2 1-5-3zM976 774l0-1 6-1 2 5 2 1 3-4 3-1 3 1 0 4 2 2 7 2 2 2-3 6 1 2 4 4 1 2-1 4-1 2-3 1-2 1 0 2 0 2 10 6 4 6 3 2 0 2 1 2 0 4-2 0-2 0 0-4-2-1-4 1-8-9-2 0-4 0-2 0-3 3 0 2 3 4 0 4-13 0 0-4-1-1-4 0zM1064 786l2 0 4 1 2-1 6 0 2 2 0 2-3 4 0 4 1 4 4 5 1 3-1 2-10 0-2-1-2-1-10-16 1-4zM1089 812l1 0 2 2-2 1-2 0-1-1z"/><path fill="#7dfcf8" d="M976 792l0-1 6 1 8 2 4 2 2-1 2 0 0 1-4 0-1 2 0 6-1 3-4 3-2 4-4 0-2 2-4 0zM1064 794l2-1 6 2 2 2 4 9 0 1-2 0-4-1-2-2zM976 818l0-1 4 0 0 3 0 1-4 0z"/></g></g>
<clipPath id="ax1"><rect x="104.6" y="101.6" width="727.9" height="727.9"/></clipPath><g clip-path="url(#ax1)"><path d="M259.9 103.2 262.5 106.8 265.3 110.8 267.0 114.7 269.8 118.2 273.3 121.9 274.5 123.4 277.2 127.3 278.6 130.1 282.8 133.3 283.0 138.2 284.9 144.1 287.8 146.0 291.7 149.1 294.5 151.5 297.8 152.7 301.7 155.1 306.5 157.0 310.8 152.7 312.9 154.8 311.4 158.5 308.1 161.4 306.5 165.6 308.7 168.8 310.9 171.5 314.1 175.0 316.9 177.9 319.4 180.7 323.2 182.8 328.0 185.0 331.4 188.9 332.9 191.8 337.5 194.2 339.7 196.3 343.4 200.7 345.2 202.2 349.1 206.2 350.6 207.4 353.0 211.7 354.7 214.6 358.2 217.3 361.3 220.7 363.1 222.6 366.8 225.9 371.9 226.2 377.5 228.1 384.0 225.9 389.5 226.7 392.8 227.9 398.0 230.1 401.2 230.2 406.0 229.3 409.9 231.8 414.8 231.4 418.5 232.4 424.0 231.0 426.6 232.2 431.4 232.5 435.8 230.2 440.0 230.2 442.2 236.7 446.9 236.7 451.3 238.6 457.2 238.8 461.9 239.7 465.3 240.0 470.0 239.9 474.5 238.8 478.0 239.6 482.4 242.1 486.2 242.3 489.0 243.0 493.8 245.3 498.1 246.7 501.6 246.0 506.3 246.6 509.1 248.6 512.0 249.2 517.5 249.6 520.4 254.0 524.0 258.2 527.5 260.5 531.7 262.0 534.8 264.7 540.1 266.8 544.0 268.7 548.2 270.1 552.0 271.2 556.4 269.1 560.5 268.5 563.9 268.1 569.2 266.8 573.1 264.7 577.1 264.2 582.2 262.5 580.0 256.1 576.4 256.1 572.2 255.1 569.3 254.3 562.9 253.5 560.6 251.8 558.5 247.5 563.7 247.0 568.8 246.3 573.5 245.3 578.1 244.0 580.8 243.1 585.9 242.8 590.8 241.0 595.1 238.0 590.6 238.3 585.9 238.1 582.1 237.6 577.8 238.8 573.7 237.0 568.4 233.7 565.3 233.5 560.3 231.8 556.3 230.2 553.3 229.3 547.8 227.5 544.5 228.3 539.8 226.8 534.8 225.9 532.0 224.0 528.3 221.5 523.4 220.2 519.7 217.1 517.5 215.2 514.2 211.2 511.1 208.7 515.8 206.4 519.4 204.7 524.0 202.2 527.7 202.5 532.3 200.5 536.1 200.1 534.8 193.6 529.1 192.2 526.9 192.5 521.7 193.1 517.5 191.5 512.3 190.7 508.6 191.1 504.2 190.0 499.2 190.5 496.6 189.3 491.7 189.3 487.5 186.3 482.8 185.9 478.8 182.8 477.4 180.1 475.4 174.6 474.5 169.9 475.4 164.9 476.6 159.2 480.9 156.6 485.2 154.8 483.1 150.5 478.2 151.9 474.4 147.7 470.2 148.4 465.9 150.5 462.3 152.6 459.5 153.1 455.1 154.8 450.9 154.2 446.8 153.8 444.3 155.9 438.7 154.0 435.7 154.8 431.6 150.6 427.8 146.9 427.1 144.1 426.4 139.5 424.4 135.1 423.4 131.3 420.6 126.8 416.6 126.5 412.9 121.7 409.4 120.4 405.5 118.2 405.2 113.8 403.9 111.3 401.8 107.0 401.2 103.2M112.6 535.2 116.7 536.2 120.4 536.1 124.3 533.0 127.7 531.8 130.5 528.8 132.0 525.3 136.3 527.5 137.4 532.2 139.4 536.3 140.6 540.4 143.9 545.1 147.1 549.0 150.2 551.8 153.9 555.2 157.8 557.6 160.7 561.0 163.1 564.6 166.5 568.4 170.8 570.3 175.1 572.7 181.4 575.5 185.8 577.0 187.2 580.0 192.3 585.6 191.1 589.6 190.3 594.4 190.5 597.8 188.0 602.8 194.5 605.0 192.0 609.6 190.2 611.5 189.5 617.3 188.0 622.2 189.8 626.5 192.3 633.0 193.5 636.8 193.6 640.1 195.5 643.7 196.6 648.1 198.0 652.5 199.5 656.3 200.9 661.0 201.7 665.9 201.8 669.1 202.4 673.6 202.2 678.2 204.3 681.4 205.8 686.0 205.7 689.6 208.1 693.9 209.5 697.6 211.0 700.7 214.0 705.0 216.2 709.8 217.0 713.3 220.3 717.0 223.3 720.4 224.1 724.7 226.8 727.8 230.2 726.2 233.2 723.5 239.7 723.5 237.3 727.8 235.4 734.2 236.9 738.2 239.1 743.0 239.1 746.3 241.8 751.5 244.1 755.7 244.6 759.0 247.0 763.1 248.3 766.5 250.0 770.5 250.4 773.9 252.3 776.3 252.6 781.6 251.8 786.7 250.2 791.9 250.5 796.7 248.3 802.7 247.0 807.5M541.2 169.9 545.9 167.0 549.8 164.8 553.9 165.5 558.2 168.1 560.6 169.9 562.1 174.8 562.8 178.5 559.7 181.9 556.3 185.0 551.1 183.8 547.7 182.8 544.1 179.6 541.2 176.4zM564.9 176.4 569.9 174.9 575.7 174.2 579.5 176.7 583.0 176.7 586.4 180.3 590.8 180.7 594.8 183.1 599.4 187.2 597.2 193.6 591.6 193.8 586.5 193.6 581.3 196.0 575.7 195.8 570.2 193.6 564.9 193.6 569.2 190.6 571.4 187.2 567.1 182.8zM588.6 202.2 591.3 205.6 595.1 208.7 597.9 211.5 601.0 214.9 603.7 217.3 608.1 220.7 612.3 223.8 608.0 225.9 602.9 223.1 599.4 219.5 596.3 217.3 594.5 212.6 590.8 210.8 590.6 206.1zM603.7 219.5 609.1 217.8 614.5 217.3 620.5 215.6 625.2 215.2 625.5 219.8 627.4 223.8 625.1 229.0 620.9 232.4 617.5 231.6 612.3 230.2 607.8 229.6 603.7 228.1 604.1 223.8zM590.8 262.5 594.0 262.8 599.4 264.6 602.0 264.7 605.9 264.3 610.2 264.7 608.0 269.0 604.4 268.1 601.0 265.8 595.1 266.8zM608.0 107.5 614.5 106.2 614.5 108.2 613.2 115.4 612.0 118.5 612.3 122.5 614.8 126.0 615.7 132.5 616.6 135.5 613.7 133.4 610.2 129.0 607.9 123.3 605.8 118.2 607.2 111.9zM707.1 146.2 710.8 145.4 715.7 144.1 721.2 146.1 724.6 148.0 728.6 148.4 733.4 150.9 736.3 150.6 741.9 151.2 745.8 152.7 749.1 156.3 752.3 161.3 749.2 165.4 748.0 167.8 741.3 166.0 737.7 165.6 732.9 165.6 729.3 162.8 724.3 159.2 720.2 158.8 716.5 157.1 711.4 154.8 709.5 150.6zM720.0 266.8 724.5 266.7 729.7 266.9 732.9 265.6 737.3 267.5 741.5 269.0 737.5 270.9 735.1 273.3 729.9 272.8 724.3 271.2zM758.8 307.8 762.7 310.0 767.4 312.1 769.5 316.4 763.1 314.2 759.5 310.0zM769.5 320.7 772.2 324.0 777.6 325.0 779.0 326.7 783.0 328.6 788.0 331.6 790.5 334.0 793.2 335.8 792.4 342.2 789.0 340.1 783.7 338.8 779.7 335.2 776.0 333.6 774.6 328.6 770.9 326.1zM524.0 253.9 528.7 253.0 534.8 252.6 536.9 259.5 533.2 259.5 528.3 261.2 525.3 258.3z" fill="none" stroke="#fff" stroke-width="1.5" stroke-linejoin="round"/><text x="-16.83" y="0" font-size="16.41" fill="#3d4e8a" textLength="32.98" lengthAdjust="spacingAndGlyphs" transform="translate(384.00 368.94) rotate(-12)" dominant-baseline="central">−76</text><text x="-16.60" y="0" font-size="16.41" fill="#453581" textLength="32.98" lengthAdjust="spacingAndGlyphs" transform="translate(534.77 544.69) rotate(-30)" dominant-baseline="central">−81</text><text x="-16.60" y="0" font-size="16.41" fill="#453581" textLength="32.98" lengthAdjust="spacingAndGlyphs" transform="translate(218.15 407.71) rotate(-35)" dominant-baseline="central">−81</text><text x="-16.83" y="0" font-size="16.41" fill="#3d4e8a" textLength="32.98" lengthAdjust="spacingAndGlyphs" transform="translate(246.15 449.92) rotate(-30)" dominant-baseline="central">−76</text><text x="-16.88" y="0" font-size="16.41" fill="#26828e" textLength="32.98" lengthAdjust="spacingAndGlyphs" transform="translate(265.54 376.69) rotate(-15)" dominant-baseline="central">−64</text><text x="-16.88" y="0" font-size="16.41" fill="#25ab82" textLength="32.98" lengthAdjust="spacingAndGlyphs" transform="translate(310.77 376.69) rotate(-15)" dominant-baseline="central">−54</text><text x="-16.83" y="0" font-size="16.41" fill="#3d4e8a" textLength="32.98" lengthAdjust="spacingAndGlyphs" transform="translate(338.77 202.23) rotate(-15)" dominant-baseline="central">−76</text><text x="-16.88" y="0" font-size="16.41" fill="#25ab82" textLength="32.98" lengthAdjust="spacingAndGlyphs" transform="translate(371.08 187.15) rotate(30)" dominant-baseline="central">−54</text><text x="-16.88" y="0" font-size="16.41" fill="#25ab82" textLength="32.98" lengthAdjust="spacingAndGlyphs" transform="translate(401.23 126.85) rotate(-10)" dominant-baseline="central">−54</text><text x="-16.88" y="0" font-size="16.41" fill="#26828e" textLength="32.98" lengthAdjust="spacingAndGlyphs" transform="translate(470.15 208.69) rotate(45)" dominant-baseline="central">−64</text><text x="-16.88" y="0" font-size="16.41" fill="#26828e" textLength="32.98" lengthAdjust="spacingAndGlyphs" transform="translate(444.31 111.77) rotate(30)" dominant-baseline="central">−64</text><text x="-16.88" y="0" font-size="16.41" fill="#25ab82" textLength="32.98" lengthAdjust="spacingAndGlyphs" transform="translate(528.31 299.15) rotate(60)" dominant-baseline="central">−54</text><text x="-16.83" y="0" font-size="16.41" fill="#3d4e8a" textLength="32.98" lengthAdjust="spacingAndGlyphs" transform="translate(588.62 279.77) rotate(95)" dominant-baseline="central">−76</text><text x="-16.83" y="0" font-size="16.41" fill="#3d4e8a" textLength="32.98" lengthAdjust="spacingAndGlyphs" transform="translate(651.08 312.08) rotate(-80)" dominant-baseline="central">−76</text><text x="-16.88" y="0" font-size="16.41" fill="#26828e" textLength="32.98" lengthAdjust="spacingAndGlyphs" transform="translate(698.46 325.00) rotate(-85)" dominant-baseline="central">−64</text><text x="-16.88" y="0" font-size="16.41" fill="#26828e" textLength="32.98" lengthAdjust="spacingAndGlyphs" transform="translate(773.85 335.77) rotate(-80)" dominant-baseline="central">−64</text><text x="-16.54" y="0" font-size="16.41" fill="#84d44b" textLength="32.98" lengthAdjust="spacingAndGlyphs" transform="translate(539.08 613.62) rotate(-40)" dominant-baseline="central">−42</text><text x="-16.60" y="0" font-size="16.41" fill="#fde725" textLength="32.98" lengthAdjust="spacingAndGlyphs" transform="translate(336.62 648.08) rotate(-20)" dominant-baseline="central">−31</text><text x="-16.60" y="0" font-size="16.41" fill="#fde725" textLength="32.98" lengthAdjust="spacingAndGlyphs" transform="translate(375.38 794.54) rotate(-45)" dominant-baseline="central">−31</text><text x="-16.60" y="0" font-size="16.41" fill="#fde725" textLength="32.98" lengthAdjust="spacingAndGlyphs" transform="translate(715.69 781.62) rotate(20)" dominant-baseline="central">−31</text><text x="-16.60" y="0" font-size="16.41" fill="#fde725" textLength="32.98" lengthAdjust="spacingAndGlyphs" transform="translate(801.85 652.38) rotate(-45)" dominant-baseline="central">−31</text><text x="-16.88" y="0" font-size="16.41" fill="#26828e" textLength="32.98" lengthAdjust="spacingAndGlyphs" transform="translate(170.77 592.08) rotate(-60)" dominant-baseline="central">−64</text><text x="-16.88" y="0" font-size="16.41" fill="#26828e" textLength="32.98" lengthAdjust="spacingAndGlyphs" transform="translate(646.77 738.54) rotate(-40)" dominant-baseline="central">−64</text><text x="-16.88" y="0" font-size="16.41" fill="#26828e" textLength="32.98" lengthAdjust="spacingAndGlyphs" transform="translate(720.00 721.31) rotate(-70)" dominant-baseline="central">−64</text><text x="-16.88" y="0" font-size="16.41" fill="#25ab82" textLength="32.98" lengthAdjust="spacingAndGlyphs" transform="translate(592.92 721.31) rotate(-85)" dominant-baseline="central">−54</text><text x="-16.54" y="0" font-size="16.41" fill="#84d44b" textLength="32.98" lengthAdjust="spacingAndGlyphs" transform="translate(717.85 671.77) rotate(-35)" dominant-baseline="central">−42</text><text x="-16.54" y="0" font-size="16.41" fill="#84d44b" textLength="32.98" lengthAdjust="spacingAndGlyphs" transform="translate(797.54 760.08) rotate(10)" dominant-baseline="central">−42</text><text x="-16.88" y="0" font-size="16.41" fill="#25ab82" textLength="32.98" lengthAdjust="spacingAndGlyphs" transform="translate(129.85 152.69) rotate(-50)" dominant-baseline="central">−54</text></g>
<g stroke="#fff" stroke-width="2.08" stroke-dasharray="2.08 3.44" fill="none"><path d="M104.6 221.60H832.5"/><path d="M104.6 367.05H832.5"/><path d="M104.6 512.50H832.5"/><path d="M104.6 657.95H832.5"/><path d="M104.6 803.40H832.5"/><path d="M242.10 101.6V829.5"/><path d="M387.70 101.6V829.5"/><path d="M533.30 101.6V829.5"/><path d="M678.85 101.6V829.5"/><path d="M824.45 101.6V829.5"/></g>
<g clip-path="url(#ax1)"><path d="M502.8 444.4l6.4 6.4M502.8 450.8l6.4 -6.4M507.5 443.8l6.4 6.4M507.5 450.2l6.4 -6.4M512.1 443.2l6.4 6.4M512.1 449.6l6.4 -6.4M516.8 442.6l6.4 6.4M516.8 449.0l6.4 -6.4M521.4 442.0l6.4 6.4M521.4 448.4l6.4 -6.4M526.1 441.4l6.4 6.4M526.1 447.8l6.4 -6.4M530.8 440.8l6.4 6.4M530.8 447.2l6.4 -6.4M535.4 440.2l6.4 6.4M535.4 446.6l6.4 -6.4M540.1 439.6l6.4 6.4M540.1 446.0l6.4 -6.4M544.7 439.0l6.4 6.4M544.7 445.4l6.4 -6.4M549.4 438.4l6.4 6.4M549.4 444.8l6.4 -6.4M554.1 437.8l6.4 6.4M554.1 444.2l6.4 -6.4M558.7 437.5l6.4 6.4M558.7 443.9l6.4 -6.4M563.4 437.8l6.4 6.4M563.4 444.2l6.4 -6.4M568.1 438.1l6.4 6.4M568.1 444.5l6.4 -6.4M572.8 438.4l6.4 6.4M572.8 444.8l6.4 -6.4M577.5 438.7l6.4 6.4M577.5 445.1l6.4 -6.4M582.2 438.9l6.4 6.4M582.2 445.3l6.4 -6.4M586.9 439.2l6.4 6.4M586.9 445.6l6.4 -6.4M591.6 438.9l6.4 6.4M591.6 445.3l6.4 -6.4M596.2 438.4l6.4 6.4M596.2 444.8l6.4 -6.4M600.9 437.8l6.4 6.4M600.9 444.2l6.4 -6.4M605.6 437.3l6.4 6.4M605.6 443.7l6.4 -6.4M610.2 436.8l6.4 6.4M610.2 443.2l6.4 -6.4M614.9 436.2l6.4 6.4M614.9 442.6l6.4 -6.4M619.5 435.4l6.4 6.4M619.5 441.8l6.4 -6.4M624.1 434.3l6.4 6.4M624.1 440.7l6.4 -6.4M628.7 433.3l6.4 6.4M628.7 439.7l6.4 -6.4M633.3 433.2l6.4 6.4M633.3 439.6l6.4 -6.4M638.0 433.7l6.4 6.4M638.0 440.1l6.4 -6.4M642.7 434.2l6.4 6.4M642.7 440.6l6.4 -6.4M647.4 434.7l6.4 6.4M647.4 441.1l6.4 -6.4M652.0 434.0l6.4 6.4M652.0 440.4l6.4 -6.4M656.7 433.4l6.4 6.4M656.7 439.8l6.4 -6.4M659.2 431.5l6.4 6.4M659.2 437.9l6.4 -6.4M657.2 427.3l6.4 6.4M657.2 433.7l6.4 -6.4M655.2 423.0l6.4 6.4M655.2 429.4l6.4 -6.4M653.2 418.8l6.4 6.4M653.2 425.2l6.4 -6.4M651.2 414.5l6.4 6.4M651.2 420.9l6.4 -6.4M649.2 410.2l6.4 6.4M649.2 416.6l6.4 -6.4M650.5 407.4l6.4 6.4M650.5 413.8l6.4 -6.4M655.0 406.0l6.4 6.4M655.0 412.4l6.4 -6.4M659.2 404.1l6.4 6.4M659.2 410.5l6.4 -6.4M662.4 400.6l6.4 6.4M662.4 407.0l6.4 -6.4M666.4 398.7l6.4 6.4M666.4 405.1l6.4 -6.4M671.0 397.9l6.4 6.4M671.0 404.3l6.4 -6.4M675.7 397.2l6.4 6.4M675.7 403.6l6.4 -6.4M680.3 396.4l6.4 6.4M680.3 402.8l6.4 -6.4M684.9 395.6l6.4 6.4M684.9 402.0l6.4 -6.4M689.6 394.8l6.4 6.4M689.6 401.2l6.4 -6.4M694.2 394.0l6.4 6.4M694.2 400.4l6.4 -6.4M698.8 393.2l6.4 6.4M698.8 399.6l6.4 -6.4M703.5 392.4l6.4 6.4M703.5 398.8l6.4 -6.4M708.1 391.6l6.4 6.4M708.1 398.0l6.4 -6.4M712.7 390.8l6.4 6.4M712.7 397.2l6.4 -6.4M717.4 390.0l6.4 6.4M717.4 396.4l6.4 -6.4M722.0 389.2l6.4 6.4M722.0 395.6l6.4 -6.4M726.4 387.8l6.4 6.4M726.4 394.2l6.4 -6.4M730.5 385.5l6.4 6.4M730.5 391.9l6.4 -6.4M734.7 383.6l6.4 6.4M734.7 390.0l6.4 -6.4M739.2 384.9l6.4 6.4M739.2 391.3l6.4 -6.4M743.7 386.1l6.4 6.4M743.7 392.5l6.4 -6.4M748.4 386.5l6.4 6.4M748.4 392.9l6.4 -6.4M753.1 386.3l6.4 6.4M753.1 392.7l6.4 -6.4M757.8 386.1l6.4 6.4M757.8 392.5l6.4 -6.4M762.5 385.9l6.4 6.4M762.5 392.3l6.4 -6.4M767.2 385.7l6.4 6.4M767.2 392.1l6.4 -6.4M771.9 385.5l6.4 6.4M771.9 391.9l6.4 -6.4M776.6 385.3l6.4 6.4M776.6 391.7l6.4 -6.4M781.3 385.1l6.4 6.4M781.3 391.5l6.4 -6.4M785.9 384.9l6.4 6.4M785.9 391.3l6.4 -6.4M790.6 385.4l6.4 6.4M790.6 391.8l6.4 -6.4M795.2 386.4l6.4 6.4M795.2 392.8l6.4 -6.4M799.7 387.5l6.4 6.4M799.7 393.9l6.4 -6.4M804.3 388.6l6.4 6.4M804.3 395.0l6.4 -6.4M807.9 386.2l6.4 6.4M807.9 392.6l6.4 -6.4M811.3 382.9l6.4 6.4M811.3 389.3l6.4 -6.4M815.8 382.1l6.4 6.4M815.8 388.5l6.4 -6.4M820.3 382.5l6.4 6.4M820.3 388.9l6.4 -6.4M824.6 384.5l6.4 6.4M824.6 390.9l6.4 -6.4M828.8 386.6l6.4 6.4M828.8 393.0l6.4 -6.4" stroke="#00bfbf" stroke-width="2.4" fill="none"/><path d="M468.0 464.5 L560.0 447.5 L591.4 444.5 L620.0 437.7 L633.5 434.1 L650.6 435.9 L661.0 434.1 L649.4 411.4 L661.6 407.1 L665.9 400.4 L727.7 390.0 L737.5 385.7 L748.6 388.8 L791.4 390.0 L808.5 390.0 L814.7 383.9 L822.0 383.9 L830.6 388.8 L840.0 392.0" stroke="#008000" stroke-width="2.8" fill="none" stroke-linejoin="round"/><path d="M104.0 471.0 L160.0 475.0 L220.0 477.5 L300.0 478.0 L360.0 477.5 L400.0 474.0 L430.0 469.0 L461.0 461.0" stroke="#0000ff" stroke-width="2.6" stroke-dasharray="2.6 4.3" fill="none"/><path d="M482.7 462.6 L577.3 441.4 L672.6 417.2 L774.5 396.5 L832.0 375.5" stroke="#0000ff" stroke-width="2.1" fill="none"/><circle cx="482.7" cy="462.6" r="3.9" fill="#0000ff"/><circle cx="577.3" cy="441.4" r="3.9" fill="#0000ff"/><circle cx="672.6" cy="417.2" r="3.9" fill="#0000ff"/><circle cx="774.5" cy="396.5" r="3.9" fill="#0000ff"/><path d="M827 371l8 -3v10z" fill="#0000ff"/><path d="M468.4 465.0 L461.6 460.6 L562.0 440.6 L620.0 428.6 L669.0 420.0 L680.0 422.4 L737.5 408.4 L746.1 398.6 L751.0 398.6 L757.1 402.8 L762.0 401.0 L728.3 348.4 L820.8 371.0 L830.6 393.0 L836.0 400.0" stroke="#ff0000" stroke-width="3.5" fill="none" stroke-linejoin="round"/><path d="M450.1 439.9l10.8 10.8M450.1 450.7l10.8 -10.8" stroke="#ff0000" stroke-width="3.1" fill="none"/></g><rect x="498.6" y="109" width="327.6" height="142" rx="3.5" fill="#fff" fill-opacity="0.8" stroke="#ccc" stroke-opacity="0.8" stroke-width="1.6"/><text x="546.97" y="128.10" font-size="16.41" fill="#000" textLength="269.60" lengthAdjust="spacingAndGlyphs">SATCON Locations [1600Z 99 963]</text><text x="547.88" y="151.10" font-size="16.41" fill="#000" textLength="242.34" lengthAdjust="spacingAndGlyphs">ADT Tracks [1800Z 79.6 975.7]</text><text x="548.81" y="173.20" font-size="16.41" fill="#000" textLength="242.85" lengthAdjust="spacingAndGlyphs">JTWC/NHC Forecast [18/1200Z]</text><text x="548.81" y="196.00" font-size="16.41" fill="#000" textLength="225.77" lengthAdjust="spacingAndGlyphs">JTWC/NHC Tracks [18/1800Z]</text><text x="546.47" y="218.80" font-size="16.41" fill="#000" textLength="233.82" lengthAdjust="spacingAndGlyphs">MESOSCALE/TARGET Location</text><text x="546.47" y="241.80" font-size="16.41" fill="#000" textLength="118.22" lengthAdjust="spacingAndGlyphs">Floater Locater</text><path d="M515.8 118.5l8.0 8.0M515.8 126.5l8.0 -8.0" stroke="#00bfbf" stroke-width="2.7" fill="none"/><path d="M503.1 145.5H536.5" stroke="#008000" stroke-width="2.8"/><path d="M503.1 167.6H536.5" stroke="#0000ff" stroke-width="2.6" stroke-dasharray="2.6 4.3"/><path d="M503.1 190.4H536.5" stroke="#0000ff" stroke-width="2.1"/><circle cx="519.8" cy="190.4" r="3.9" fill="#0000ff"/><path d="M514.6 208.0l10.4 10.4M514.6 218.4l10.4 -10.4" stroke="#ff0000" stroke-width="3.1" fill="none"/><path d="M503.1 236.2H536.5" stroke="#ff0000" stroke-width="3.5"/>
<g stroke="#fff" stroke-width="2.08" stroke-dasharray="2.08 3.44" fill="none"><path d="M979.4 221.60H1707.5"/><path d="M979.4 367.05H1707.5"/><path d="M979.4 512.50H1707.5"/><path d="M979.4 657.95H1707.5"/><path d="M979.4 803.40H1707.5"/><path d="M1117.10 101.6V829.5"/><path d="M1262.70 101.6V829.5"/><path d="M1408.30 101.6V829.5"/><path d="M1553.85 101.6V829.5"/><path d="M1699.45 101.6V829.5"/></g>
<clipPath id="ax2"><rect x="979.4" y="101.6" width="728.1" height="727.9"/></clipPath><g clip-path="url(#ax2)"><path d="M1134.9 103.2 1137.5 106.8 1140.3 110.8 1142.0 114.7 1144.8 118.2 1148.3 121.9 1149.5 123.4 1152.2 127.3 1153.6 130.1 1157.8 133.3 1158.0 138.2 1159.9 144.1 1162.8 146.0 1166.7 149.1 1169.5 151.5 1172.8 152.7 1176.7 155.1 1181.5 157.0 1185.8 152.7 1187.9 154.8 1186.4 158.5 1183.1 161.4 1181.5 165.6 1183.7 168.8 1185.9 171.5 1189.1 175.0 1191.9 177.9 1194.4 180.7 1198.2 182.8 1203.0 185.0 1206.4 188.9 1207.9 191.8 1212.5 194.2 1214.7 196.3 1218.4 200.7 1220.2 202.2 1224.1 206.2 1225.6 207.4 1228.0 211.7 1229.7 214.6 1233.2 217.3 1236.3 220.7 1238.1 222.6 1241.8 225.9 1246.9 226.2 1252.5 228.1 1259.0 225.9 1264.5 226.7 1267.8 227.9 1273.0 230.1 1276.2 230.2 1281.0 229.3 1284.9 231.8 1289.8 231.4 1293.5 232.4 1299.0 231.0 1301.6 232.2 1306.4 232.5 1310.8 230.2 1315.0 230.2 1317.2 236.7 1321.9 236.7 1326.3 238.6 1332.2 238.8 1336.9 239.7 1340.3 240.0 1345.0 239.9 1349.5 238.8 1353.0 239.6 1357.4 242.1 1361.2 242.3 1364.0 243.0 1368.8 245.3 1373.1 246.7 1376.6 246.0 1381.3 246.6 1384.1 248.6 1387.0 249.2 1392.5 249.6 1395.4 254.0 1399.0 258.2 1402.5 260.5 1406.7 262.0 1409.8 264.7 1415.1 266.8 1419.0 268.7 1423.2 270.1 1427.0 271.2 1431.4 269.1 1435.5 268.5 1438.9 268.1 1444.2 266.8 1448.1 264.7 1452.1 264.2 1457.2 262.5 1455.0 256.1 1451.4 256.1 1447.2 255.1 1444.3 254.3 1437.9 253.5 1435.6 251.8 1433.5 247.5 1438.7 247.0 1443.8 246.3 1448.5 245.3 1453.1 244.0 1455.8 243.1 1460.9 242.8 1465.8 241.0 1470.1 238.0 1465.6 238.3 1460.9 238.1 1457.1 237.6 1452.8 238.8 1448.7 237.0 1443.4 233.7 1440.3 233.5 1435.3 231.8 1431.3 230.2 1428.3 229.3 1422.8 227.5 1419.5 228.3 1414.8 226.8 1409.8 225.9 1407.0 224.0 1403.3 221.5 1398.4 220.2 1394.7 217.1 1392.5 215.2 1389.2 211.2 1386.1 208.7 1390.8 206.4 1394.4 204.7 1399.0 202.2 1402.7 202.5 1407.3 200.5 1411.1 200.1 1409.8 193.6 1404.1 192.2 1401.9 192.5 1396.7 193.1 1392.5 191.5 1387.3 190.7 1383.6 191.1 1379.2 190.0 1374.2 190.5 1371.6 189.3 1366.7 189.3 1362.5 186.3 1357.8 185.9 1353.8 182.8 1352.4 180.1 1350.4 174.6 1349.5 169.9 1350.4 164.9 1351.6 159.2 1355.9 156.6 1360.2 154.8 1358.1 150.5 1353.2 151.9 1349.4 147.7 1345.2 148.4 1340.9 150.5 1337.3 152.6 1334.5 153.1 1330.1 154.8 1325.9 154.2 1321.8 153.8 1319.3 155.9 1313.7 154.0 1310.7 154.8 1306.6 150.6 1302.8 146.9 1302.1 144.1 1301.4 139.5 1299.4 135.1 1298.4 131.3 1295.6 126.8 1291.6 126.5 1287.9 121.7 1284.4 120.4 1280.5 118.2 1280.2 113.8 1278.9 111.3 1276.8 107.0 1276.2 103.2M987.6 535.2 991.7 536.2 995.4 536.1 999.3 533.0 1002.7 531.8 1005.5 528.8 1007.0 525.3 1011.3 527.5 1012.4 532.2 1014.4 536.3 1015.6 540.4 1018.9 545.1 1022.1 549.0 1025.2 551.8 1028.9 555.2 1032.8 557.6 1035.7 561.0 1038.1 564.6 1041.5 568.4 1045.8 570.3 1050.1 572.7 1056.4 575.5 1060.8 577.0 1062.2 580.0 1067.3 585.6 1066.1 589.6 1065.3 594.4 1065.5 597.8 1063.0 602.8 1069.5 605.0 1067.0 609.6 1065.2 611.5 1064.5 617.3 1063.0 622.2 1064.8 626.5 1067.3 633.0 1068.5 636.8 1068.6 640.1 1070.5 643.7 1071.6 648.1 1073.0 652.5 1074.5 656.3 1075.9 661.0 1076.7 665.9 1076.8 669.1 1077.4 673.6 1077.2 678.2 1079.3 681.4 1080.8 686.0 1080.7 689.6 1083.1 693.9 1084.5 697.6 1086.0 700.7 1089.0 705.0 1091.2 709.8 1092.0 713.3 1095.3 717.0 1098.3 720.4 1099.1 724.7 1101.8 727.8 1105.2 726.2 1108.2 723.5 1114.7 723.5 1112.3 727.8 1110.4 734.2 1111.9 738.2 1114.1 743.0 1114.1 746.3 1116.8 751.5 1119.1 755.7 1119.6 759.0 1122.0 763.1 1123.3 766.5 1125.0 770.5 1125.4 773.9 1127.3 776.3 1127.6 781.6 1126.8 786.7 1125.2 791.9 1125.5 796.7 1123.3 802.7 1122.0 807.5M1416.2 169.9 1420.9 167.0 1424.8 164.8 1428.9 165.5 1433.2 168.1 1435.6 169.9 1437.1 174.8 1437.8 178.5 1434.7 181.9 1431.3 185.0 1426.1 183.8 1422.7 182.8 1419.1 179.6 1416.2 176.4zM1439.9 176.4 1444.9 174.9 1450.7 174.2 1454.5 176.7 1458.0 176.7 1461.4 180.3 1465.8 180.7 1469.8 183.1 1474.4 187.2 1472.2 193.6 1466.6 193.8 1461.5 193.6 1456.3 196.0 1450.7 195.8 1445.2 193.6 1439.9 193.6 1444.2 190.6 1446.4 187.2 1442.1 182.8zM1463.6 202.2 1466.3 205.6 1470.1 208.7 1472.9 211.5 1476.0 214.9 1478.7 217.3 1483.1 220.7 1487.3 223.8 1483.0 225.9 1477.9 223.1 1474.4 219.5 1471.3 217.3 1469.5 212.6 1465.8 210.8 1465.6 206.1zM1478.7 219.5 1484.1 217.8 1489.5 217.3 1495.5 215.6 1500.2 215.2 1500.5 219.8 1502.4 223.8 1500.1 229.0 1495.9 232.4 1492.5 231.6 1487.3 230.2 1482.8 229.6 1478.7 228.1 1479.1 223.8zM1465.8 262.5 1469.0 262.8 1474.4 264.6 1477.0 264.7 1480.9 264.3 1485.2 264.7 1483.0 269.0 1479.4 268.1 1476.0 265.8 1470.1 266.8zM1483.0 107.5 1489.5 106.2 1489.5 108.2 1488.2 115.4 1487.0 118.5 1487.3 122.5 1489.8 126.0 1490.7 132.5 1491.6 135.5 1488.7 133.4 1485.2 129.0 1482.9 123.3 1480.8 118.2 1482.2 111.9zM1582.1 146.2 1585.8 145.4 1590.7 144.1 1596.2 146.1 1599.6 148.0 1603.6 148.4 1608.4 150.9 1611.3 150.6 1616.9 151.2 1620.8 152.7 1624.1 156.3 1627.3 161.3 1624.2 165.4 1623.0 167.8 1616.3 166.0 1612.7 165.6 1607.9 165.6 1604.3 162.8 1599.3 159.2 1595.2 158.8 1591.5 157.1 1586.4 154.8 1584.5 150.6zM1595.0 266.8 1599.5 266.7 1604.7 266.9 1607.9 265.6 1612.3 267.5 1616.5 269.0 1612.5 270.9 1610.1 273.3 1604.9 272.8 1599.3 271.2zM1633.8 307.8 1637.7 310.0 1642.4 312.1 1644.5 316.4 1638.1 314.2 1634.5 310.0zM1644.5 320.7 1647.2 324.0 1652.6 325.0 1654.0 326.7 1658.0 328.6 1663.0 331.6 1665.5 334.0 1668.2 335.8 1667.4 342.2 1664.0 340.1 1658.7 338.8 1654.7 335.2 1651.0 333.6 1649.6 328.6 1645.9 326.1zM1399.0 253.9 1403.7 253.0 1409.8 252.6 1411.9 259.5 1408.2 259.5 1403.3 261.2 1400.3 258.3z" fill="none" stroke="#fff" stroke-width="1.6" stroke-linejoin="round"/></g>
<rect x="104.60" y="101.60" width="727.90" height="727.90" fill="none" stroke="#000" stroke-width="2.78"/>
<rect x="979.40" y="101.60" width="728.10" height="727.90" fill="none" stroke="#000" stroke-width="2.78"/>
<text x="63.54" y="226.50" font-size="14.58" fill="#000" textLength="33.44" lengthAdjust="spacingAndGlyphs">10°S</text>
<text x="938.34" y="226.50" font-size="14.58" fill="#000" textLength="33.44" lengthAdjust="spacingAndGlyphs">10°S</text>
<text x="63.54" y="371.95" font-size="14.58" fill="#000" textLength="33.44" lengthAdjust="spacingAndGlyphs">12°S</text>
<text x="938.34" y="371.95" font-size="14.58" fill="#000" textLength="33.44" lengthAdjust="spacingAndGlyphs">12°S</text>
<text x="63.54" y="517.40" font-size="14.58" fill="#000" textLength="33.44" lengthAdjust="spacingAndGlyphs">14°S</text>
<text x="938.34" y="517.40" font-size="14.58" fill="#000" textLength="33.44" lengthAdjust="spacingAndGlyphs">14°S</text>
<text x="63.54" y="662.85" font-size="14.58" fill="#000" textLength="33.44" lengthAdjust="spacingAndGlyphs">16°S</text>
<text x="938.34" y="662.85" font-size="14.58" fill="#000" textLength="33.44" lengthAdjust="spacingAndGlyphs">16°S</text>
<text x="63.54" y="808.30" font-size="14.58" fill="#000" textLength="33.44" lengthAdjust="spacingAndGlyphs">18°S</text>
<text x="938.34" y="808.30" font-size="14.58" fill="#000" textLength="33.44" lengthAdjust="spacingAndGlyphs">18°S</text>
<text x="221.27" y="851.00" font-size="14.58" fill="#000" textLength="42.23" lengthAdjust="spacingAndGlyphs">146°E</text>
<text x="1096.27" y="851.00" font-size="14.58" fill="#000" textLength="42.23" lengthAdjust="spacingAndGlyphs">146°E</text>
<text x="366.87" y="851.00" font-size="14.58" fill="#000" textLength="42.23" lengthAdjust="spacingAndGlyphs">148°E</text>
<text x="1241.87" y="851.00" font-size="14.58" fill="#000" textLength="42.23" lengthAdjust="spacingAndGlyphs">148°E</text>
<text x="512.47" y="851.00" font-size="14.58" fill="#000" textLength="42.23" lengthAdjust="spacingAndGlyphs">150°E</text>
<text x="1387.47" y="851.00" font-size="14.58" fill="#000" textLength="42.23" lengthAdjust="spacingAndGlyphs">150°E</text>
<text x="658.02" y="851.00" font-size="14.58" fill="#000" textLength="42.23" lengthAdjust="spacingAndGlyphs">152°E</text>
<text x="1533.02" y="851.00" font-size="14.58" fill="#000" textLength="42.23" lengthAdjust="spacingAndGlyphs">152°E</text>
<text x="803.62" y="851.00" font-size="14.58" fill="#000" textLength="42.23" lengthAdjust="spacingAndGlyphs">154°E</text>
<text x="1678.62" y="851.00" font-size="14.58" fill="#000" textLength="42.23" lengthAdjust="spacingAndGlyphs">154°E</text>
<rect x="839.6" y="101.6" width="14.9" height="727.9" fill="url(#cb1)" stroke="#000" stroke-width="1"/>
<rect x="1714.6" y="101.6" width="14.8" height="727.9" fill="url(#cb2)" stroke="#000" stroke-width="1"/>
<text x="861.07" y="161.72" font-size="17.85" fill="#000" textLength="21.50" lengthAdjust="spacingAndGlyphs">40</text>
<text x="860.60" y="215.64" font-size="17.85" fill="#000" textLength="21.63" lengthAdjust="spacingAndGlyphs">30</text>
<text x="860.65" y="269.56" font-size="17.85" fill="#000" textLength="21.63" lengthAdjust="spacingAndGlyphs">20</text>
<text x="860.03" y="323.47" font-size="17.85" fill="#000" textLength="21.63" lengthAdjust="spacingAndGlyphs">10</text>
<text x="860.78" y="377.39" font-size="17.85" fill="#000" textLength="10.82" lengthAdjust="spacingAndGlyphs">0</text>
<text x="861.10" y="431.31" font-size="17.85" fill="#000" textLength="35.88" lengthAdjust="spacingAndGlyphs">−10</text>
<text x="861.10" y="485.23" font-size="17.85" fill="#000" textLength="35.88" lengthAdjust="spacingAndGlyphs">−20</text>
<text x="861.10" y="539.15" font-size="17.85" fill="#000" textLength="35.88" lengthAdjust="spacingAndGlyphs">−30</text>
<text x="861.10" y="593.07" font-size="17.85" fill="#000" textLength="35.88" lengthAdjust="spacingAndGlyphs">−40</text>
<text x="861.10" y="646.99" font-size="17.85" fill="#000" textLength="35.88" lengthAdjust="spacingAndGlyphs">−50</text>
<text x="861.10" y="700.90" font-size="17.85" fill="#000" textLength="35.88" lengthAdjust="spacingAndGlyphs">−60</text>
<text x="861.10" y="754.82" font-size="17.85" fill="#000" textLength="35.88" lengthAdjust="spacingAndGlyphs">−70</text>
<text x="861.10" y="808.74" font-size="17.85" fill="#000" textLength="35.88" lengthAdjust="spacingAndGlyphs">−80</text>
<text x="1735.57" y="156.33" font-size="17.85" fill="#000" textLength="21.50" lengthAdjust="spacingAndGlyphs">40</text>
<text x="1735.10" y="204.85" font-size="17.85" fill="#000" textLength="21.63" lengthAdjust="spacingAndGlyphs">30</text>
<text x="1735.15" y="253.38" font-size="17.85" fill="#000" textLength="21.63" lengthAdjust="spacingAndGlyphs">20</text>
<text x="1734.53" y="301.91" font-size="17.85" fill="#000" textLength="21.63" lengthAdjust="spacingAndGlyphs">10</text>
<text x="1735.28" y="350.43" font-size="17.85" fill="#000" textLength="10.82" lengthAdjust="spacingAndGlyphs">0</text>
<text x="1735.60" y="398.96" font-size="17.85" fill="#000" textLength="35.88" lengthAdjust="spacingAndGlyphs">−10</text>
<text x="1735.60" y="447.49" font-size="17.85" fill="#000" textLength="35.88" lengthAdjust="spacingAndGlyphs">−20</text>
<text x="1735.60" y="496.01" font-size="17.85" fill="#000" textLength="35.88" lengthAdjust="spacingAndGlyphs">−30</text>
<text x="1735.60" y="544.54" font-size="17.85" fill="#000" textLength="35.88" lengthAdjust="spacingAndGlyphs">−40</text>
<text x="1735.60" y="593.07" font-size="17.85" fill="#000" textLength="35.88" lengthAdjust="spacingAndGlyphs">−50</text>
<text x="1735.60" y="641.59" font-size="17.85" fill="#000" textLength="35.88" lengthAdjust="spacingAndGlyphs">−60</text>
<text x="1735.60" y="690.12" font-size="17.85" fill="#000" textLength="35.88" lengthAdjust="spacingAndGlyphs">−70</text>
<text x="1735.60" y="738.65" font-size="17.85" fill="#000" textLength="35.88" lengthAdjust="spacingAndGlyphs">−80</text>
<text x="1735.60" y="787.17" font-size="17.85" fill="#000" textLength="35.88" lengthAdjust="spacingAndGlyphs">−90</text>
<rect x="101.7" y="801.8" width="310.7" height="29.4" rx="4" fill="#000"/>
<text x="106.73" y="822.10" font-size="18.23" font-weight="bold" fill="#fff" textLength="302.54" lengthAdjust="spacingAndGlyphs">Copyright © 2020-2026 Dapiya</text>
<text x="320.49" y="882.60" font-size="23.70" fill="#000" textLength="317.25" lengthAdjust="spacingAndGlyphs">Wind / Pres. / ACE Diagnosis</text>
<path d="M138.5 1261.4 L235.9 1199.5 L333.3 1168.5 L430.7 1137.5 L528.1 1106.6 L625.5 1075.6 L722.9 982.7 L820.3 920.7" fill="none" stroke="#0000ff" stroke-width="5.2" stroke-linejoin="round" stroke-linecap="square"/>
<path d="M138.5 920.3 L235.9 1022.6 L333.3 1031.1 L430.7 1141.9 L528.1 1073.7 L625.5 1116.3 L722.9 1193.0 L820.3 1261.2" fill="none" stroke="#1f77b4" stroke-width="5.2" stroke-linejoin="round" stroke-linecap="square"/>
<path d="M138.5 1636.5 L235.9 1610.4 L333.3 1579.2 L430.7 1542.6 L528.1 1500.2 L625.5 1451.6 L722.9 1381.5 L820.3 1294.9" fill="none" stroke="#008000" stroke-width="5.2" stroke-linejoin="round" stroke-linecap="square"/>
<rect x="113.7" y="912.8" width="225.5" height="34.2" rx="4.5" fill="#fff" fill-opacity="0.8" stroke="#ccc" stroke-opacity="0.8" stroke-width="3.4"/><path d="M118.8 929.3H162.3" stroke="#0000ff" stroke-width="5.2"/><text x="174.76" y="936.60" font-size="20.06" fill="#000" textLength="156.15" lengthAdjust="spacingAndGlyphs">Wind[max=100]</text>
<rect x="625.5" y="912.8" width="219.8" height="34.2" rx="4.5" fill="#fff" fill-opacity="0.8" stroke="#ccc" stroke-opacity="0.8" stroke-width="3.4"/><path d="M630.6 929.3H674.1" stroke="#1f77b4" stroke-width="5.2"/><text x="685.33" y="936.60" font-size="20.06" fill="#000" textLength="150.18" lengthAdjust="spacingAndGlyphs">Pres.[min=960]</text>
<rect x="113.7" y="1287.8" width="220.8" height="34.2" rx="4.5" fill="#fff" fill-opacity="0.8" stroke="#ccc" stroke-opacity="0.8" stroke-width="3.4"/><path d="M118.8 1303.9H162.3" stroke="#008000" stroke-width="5.2"/><text x="174.45" y="1311.20" font-size="20.06" fill="#000" textLength="151.88" lengthAdjust="spacingAndGlyphs">ACE[max=4.15]</text>
<rect x="104.50" y="903.50" width="750.00" height="749.90" fill="none" stroke="#000" stroke-width="2.78"/>
<path d="M104.5 1278.5H854.5" stroke="#000" stroke-width="2.78"/>
<text x="60.55" y="1235.35" font-size="14.58" fill="#000" textLength="17.67" lengthAdjust="spacingAndGlyphs">50</text>
<text x="60.55" y="1173.40" font-size="14.58" fill="#000" textLength="17.67" lengthAdjust="spacingAndGlyphs">60</text>
<text x="60.55" y="1111.45" font-size="14.58" fill="#000" textLength="17.67" lengthAdjust="spacingAndGlyphs">70</text>
<text x="60.55" y="1049.50" font-size="14.58" fill="#000" textLength="17.67" lengthAdjust="spacingAndGlyphs">80</text>
<text x="60.55" y="987.55" font-size="14.58" fill="#000" textLength="17.67" lengthAdjust="spacingAndGlyphs">90</text>
<text x="51.71" y="925.60" font-size="14.58" fill="#000" textLength="26.51" lengthAdjust="spacingAndGlyphs">100</text>
<text x="878.83" y="1266.12" font-size="14.58" fill="#000" textLength="26.51" lengthAdjust="spacingAndGlyphs">960</text>
<text x="878.83" y="1223.51" font-size="14.58" fill="#000" textLength="26.31" lengthAdjust="spacingAndGlyphs">965</text>
<text x="878.83" y="1180.89" font-size="14.58" fill="#000" textLength="26.51" lengthAdjust="spacingAndGlyphs">970</text>
<text x="878.83" y="1138.28" font-size="14.58" fill="#000" textLength="26.31" lengthAdjust="spacingAndGlyphs">975</text>
<text x="878.83" y="1095.66" font-size="14.58" fill="#000" textLength="26.51" lengthAdjust="spacingAndGlyphs">980</text>
<text x="878.83" y="1053.05" font-size="14.58" fill="#000" textLength="26.31" lengthAdjust="spacingAndGlyphs">985</text>
<text x="878.83" y="1010.43" font-size="14.58" fill="#000" textLength="26.51" lengthAdjust="spacingAndGlyphs">990</text>
<text x="878.83" y="967.81" font-size="14.58" fill="#000" textLength="26.31" lengthAdjust="spacingAndGlyphs">995</text>
<text x="878.17" y="925.20" font-size="14.58" fill="#000" textLength="35.35" lengthAdjust="spacingAndGlyphs">1000</text>
<text x="56.62" y="1615.70" font-size="14.58" fill="#000" textLength="21.93" lengthAdjust="spacingAndGlyphs">0.5</text>
<text x="56.33" y="1572.43" font-size="14.58" fill="#000" textLength="22.09" lengthAdjust="spacingAndGlyphs">1.0</text>
<text x="56.62" y="1529.16" font-size="14.58" fill="#000" textLength="22.09" lengthAdjust="spacingAndGlyphs">1.5</text>
<text x="56.33" y="1485.89" font-size="14.58" fill="#000" textLength="22.09" lengthAdjust="spacingAndGlyphs">2.0</text>
<text x="56.62" y="1442.62" font-size="14.58" fill="#000" textLength="22.03" lengthAdjust="spacingAndGlyphs">2.5</text>
<text x="56.33" y="1399.35" font-size="14.58" fill="#000" textLength="22.09" lengthAdjust="spacingAndGlyphs">3.0</text>
<text x="56.62" y="1356.08" font-size="14.58" fill="#000" textLength="22.07" lengthAdjust="spacingAndGlyphs">3.5</text>
<text x="56.33" y="1312.81" font-size="14.58" fill="#000" textLength="21.99" lengthAdjust="spacingAndGlyphs">4.0</text>
<path d="M104.5 1230.45h-12.15M104.5 1168.50h-12.15M104.5 1106.55h-12.15M104.5 1044.60h-12.15M104.5 982.65h-12.15M104.5 920.70h-12.15M854.5 1261.22h12.15M854.5 1218.61h12.15M854.5 1175.99h12.15M854.5 1133.38h12.15M854.5 1090.76h12.15M854.5 1048.14h12.15M854.5 1005.53h12.15M854.5 962.91h12.15M854.5 920.30h12.15M104.5 1610.80h-12.15M104.5 1567.53h-12.15M104.5 1524.26h-12.15M104.5 1480.99h-12.15M104.5 1437.72h-12.15M104.5 1394.45h-12.15M104.5 1351.18h-12.15M104.5 1307.91h-12.15" stroke="#000" stroke-width="2.78" fill="none"/>
<text x="-17.05" y="0" font-size="14.58" fill="#000" textLength="34.24" lengthAdjust="spacingAndGlyphs" transform="translate(33.50 1092.30) rotate(-90)">Wind</text>
<text x="-29.96" y="0" font-size="14.58" fill="#000" textLength="60.06" lengthAdjust="spacingAndGlyphs" transform="translate(937.00 1092.70) rotate(-90)">Pressure</text>
<text x="-13.48" y="0" font-size="14.58" fill="#000" textLength="27.09" lengthAdjust="spacingAndGlyphs" transform="translate(37.30 1466.50) rotate(-90)">ACE</text>
<clipPath id="c4"><rect x="979.6" y="903.4" width="749.9" height="750"/></clipPath><g clip-path="url(#c4)"><polygon points="979.6,903.4 1718.5,903.4 1728.6,1125 1731,1180 1731,1651.9 984,1646.6 980.9,1588 979.6,1588" fill="#555"/><polygon points="1292.2,1206.9 1347.8,1208.0 1347.8,1222.1 1390.9,1222.1 1390.9,1235.9 1405.9,1235.9 1405.9,1251.3 1420.7,1251.3 1420.7,1265.1 1435.7,1265.1 1435.7,1279.2 1464.1,1279.2 1464.1,1294.0 1478.9,1294.0 1479.7,1321.7 1508.9,1321.7 1510.0,1365.1 1525.0,1365.1 1525.0,1393.0 1512.1,1393.0 1512.1,1422.0 1499.2,1422.0 1499.2,1435.9 1485.0,1435.9 1486.1,1464.3 1500.9,1464.3 1500.9,1478.9 1487.3,1478.9 1488.0,1506.8 1431.3,1506.8 1430.9,1492.0 1416.3,1492.0 1415.9,1477.8 1345.2,1477.8 1344.8,1463.0 1330.4,1463.0 1328.7,1434.9 1315.0,1434.9 1314.6,1420.1 1300.0,1420.1 1298.9,1391.9 1312.9,1391.9 1309.1,1293.6 1281.2,1292.1 1282.0,1320.7 1268.1,1320.7 1268.1,1334.9 1254.1,1334.9 1253.0,1292.1 1265.7,1292.1 1265.1,1235.9 1278.0,1235.9 1278.0,1221.1 1292.2,1221.1" fill="#888"/><polygon points="1206.9,1206.9 1248.8,1206.9 1249.9,1234.8 1222.0,1234.8 1222.0,1248.8 1193.8,1248.8 1193.8,1263.0 1180.1,1263.0 1180.1,1234.8 1192.8,1234.8 1192.8,1221.1 1206.9,1221.1" fill="#888"/><polygon points="1241.0,1363.0 1255.8,1363.0 1256.2,1391.9 1242.0,1391.9" fill="#888"/><polygon points="1378.9,1265.1 1420.7,1265.1 1420.7,1279.2 1435.7,1279.2 1436.2,1293.6 1464.5,1294.0 1467.9,1378.8 1411.6,1378.8 1383.1,1377.8 1382.7,1364.0 1368.3,1364.0 1366.8,1321.1 1352.0,1321.1 1352.0,1307.4 1365.5,1307.4 1364.7,1279.2 1378.9,1279.2" fill="#fff"/><polygon points="1395.1,1307.4 1422.8,1308.0 1423.7,1335.9 1410.2,1335.9 1409.7,1321.7 1395.1,1321.7" fill="#000"/></g>
<rect x="979.60" y="903.40" width="749.90" height="750.00" fill="none" stroke="#000" stroke-width="2.78"/>
<rect x="990.8" y="916.7" width="180.3" height="32.5" rx="4.5" fill="#000"/>
<text x="997.28" y="939.00" font-size="21.87" font-weight="bold" fill="#fff" textLength="167.18" lengthAdjust="spacingAndGlyphs">WMG Count: 0</text>
</svg>
</body></html>
